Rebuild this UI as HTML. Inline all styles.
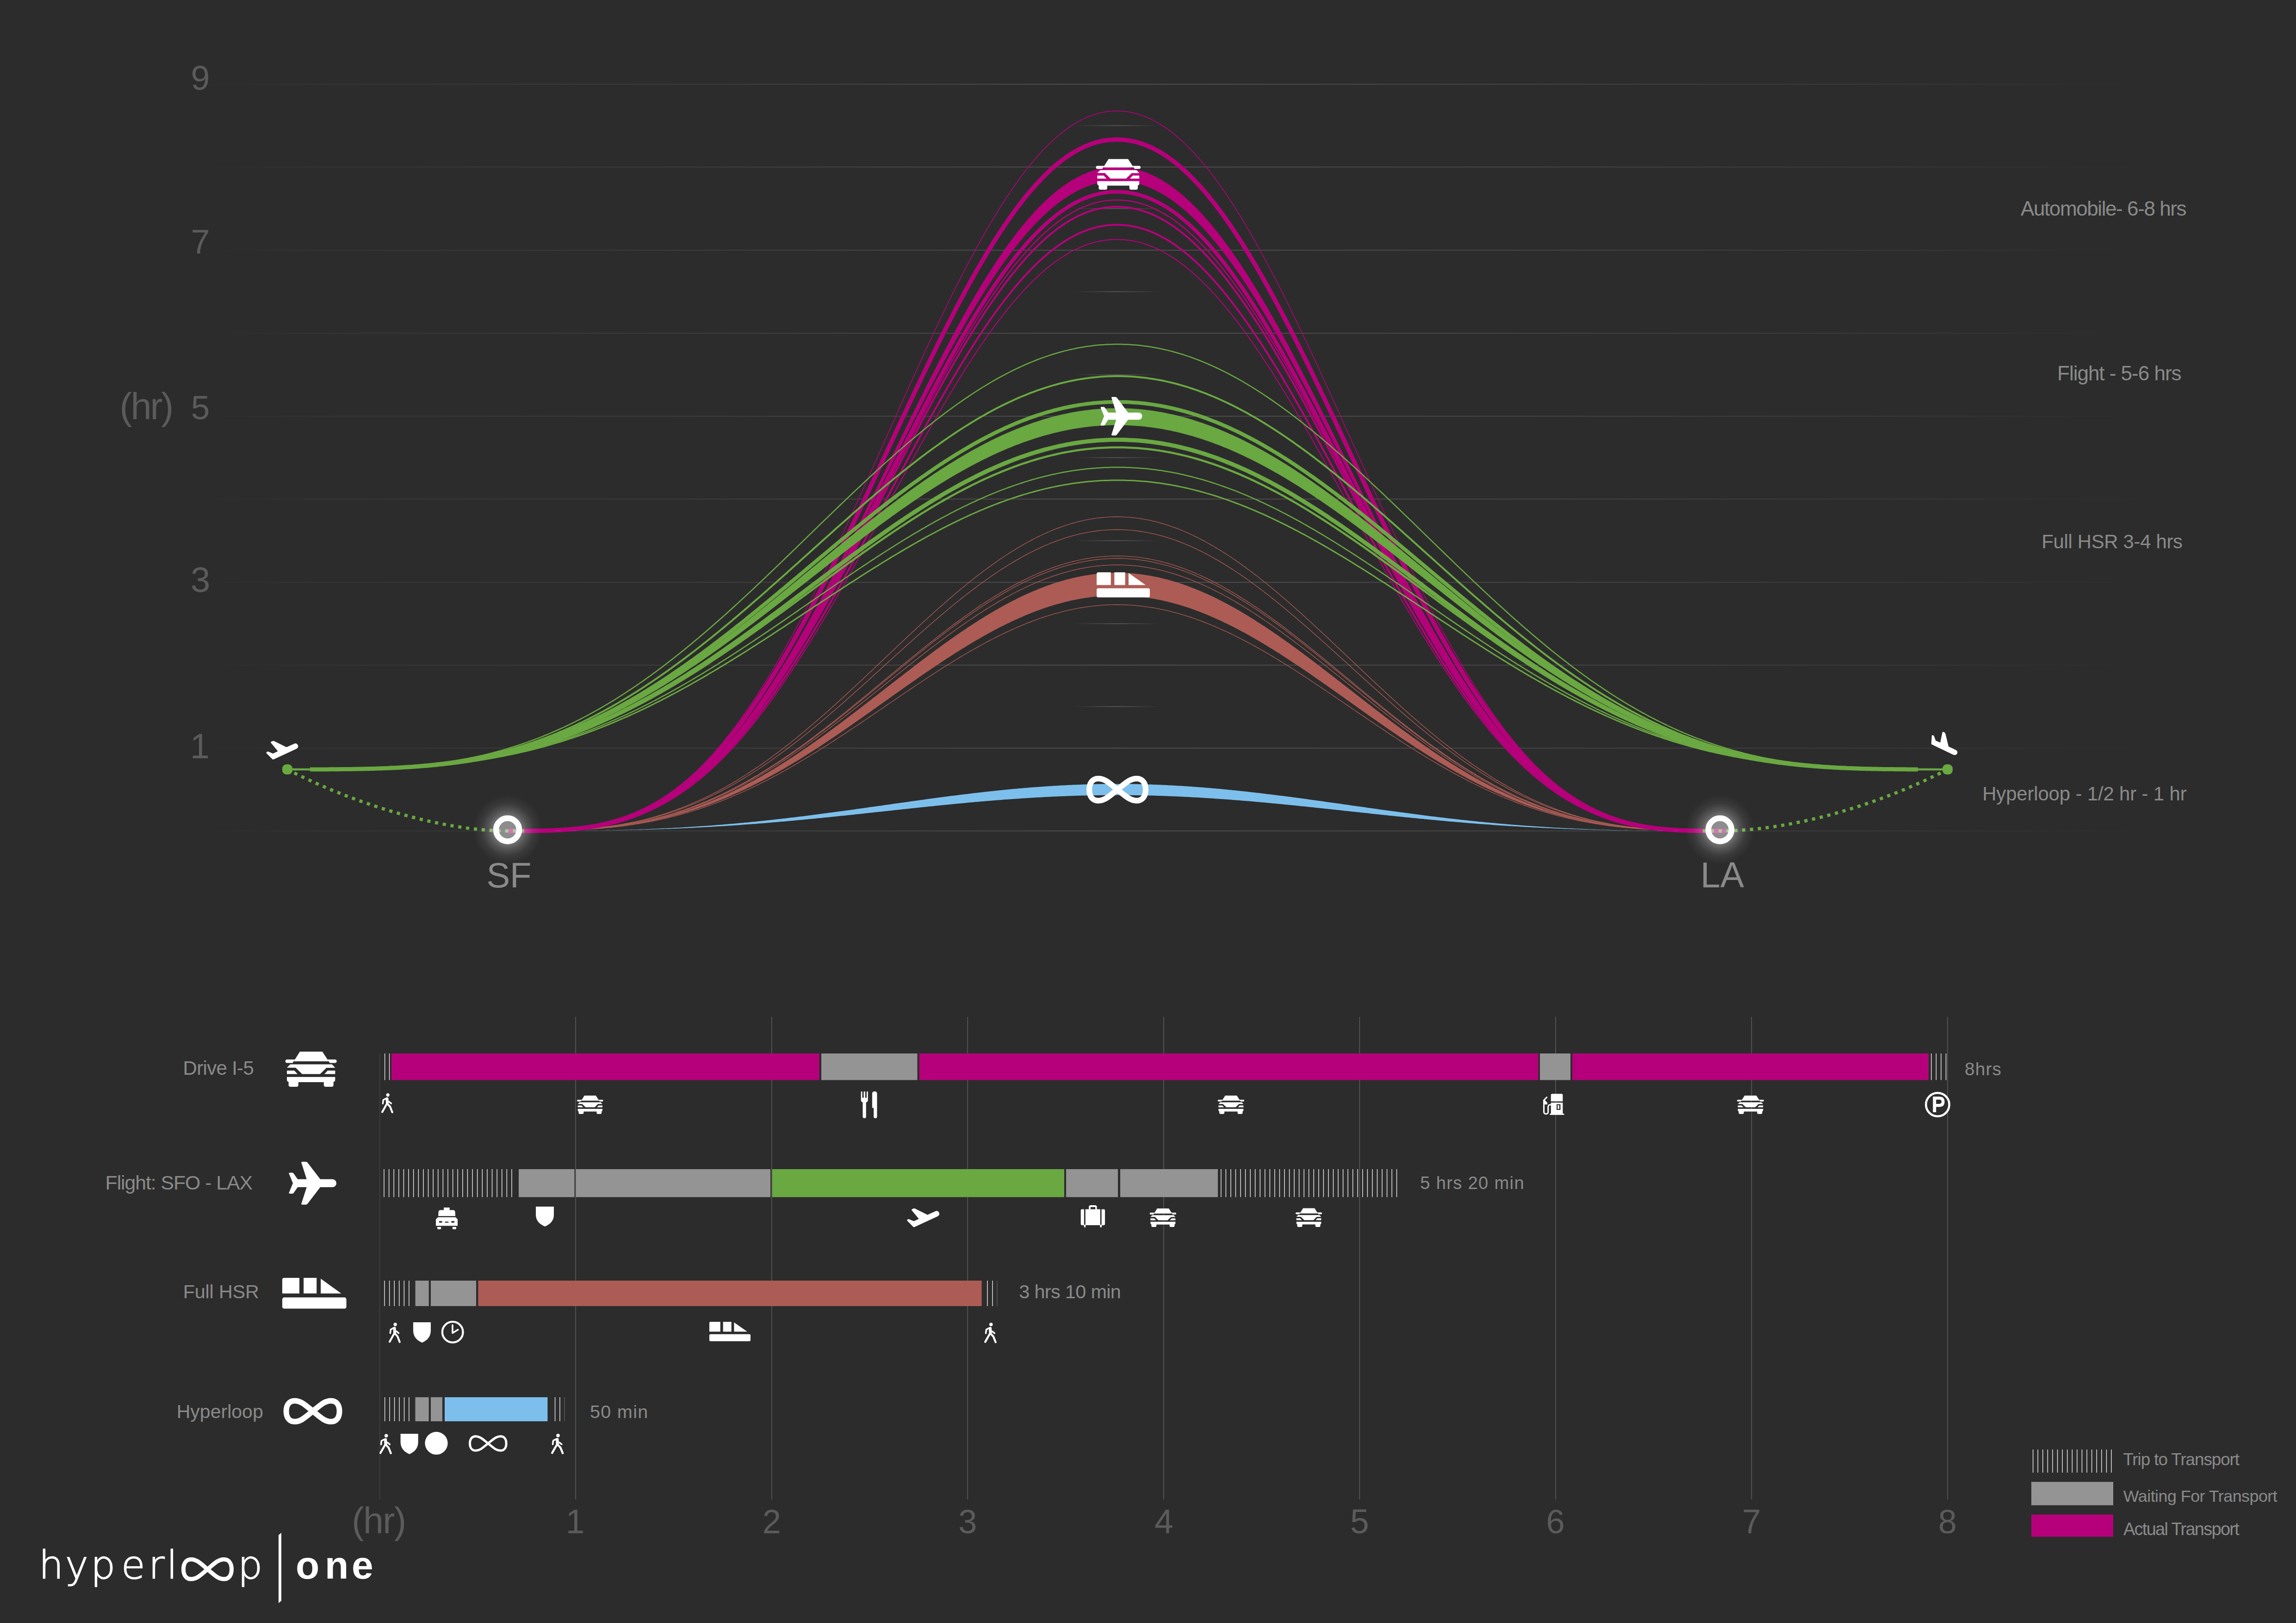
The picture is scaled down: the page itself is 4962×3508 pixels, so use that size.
<!DOCTYPE html>
<html><head><meta charset="utf-8"><title>Hyperloop One travel time comparison</title>
<style>html,body{margin:0;padding:0;background:#2c2c2c;width:4962px;height:3508px;overflow:hidden}svg{display:block}</style></head>
<body><svg width="4962" height="3508" viewBox="0 0 4962 3508">
<defs>
<linearGradient id="gl" gradientUnits="userSpaceOnUse" x1="420" y1="0" x2="4690" y2="0">
<stop offset="0" stop-color="#343434" stop-opacity="0"/>
<stop offset="0.06" stop-color="#373737" stop-opacity="1"/>
<stop offset="0.25" stop-color="#414141" stop-opacity="1"/>
<stop offset="0.467" stop-color="#5a5a5a" stop-opacity="1"/>
<stop offset="0.70" stop-color="#4a4a4a" stop-opacity="1"/>
<stop offset="0.88" stop-color="#3a3a3a" stop-opacity="1"/>
<stop offset="1" stop-color="#343434" stop-opacity="0"/>
</linearGradient>
<linearGradient id="gh" gradientUnits="userSpaceOnUse" x1="2319" y1="0" x2="2509" y2="0">
<stop offset="0" stop-color="#606060" stop-opacity="0"/>
<stop offset="0.5" stop-color="#606060" stop-opacity="1"/>
<stop offset="1" stop-color="#606060" stop-opacity="0"/>
</linearGradient>
<radialGradient id="glow">
<stop offset="0.40" stop-color="#ffffff" stop-opacity="0.34"/>
<stop offset="0.55" stop-color="#ffffff" stop-opacity="0.2"/>
<stop offset="0.75" stop-color="#ffffff" stop-opacity="0.07"/>
<stop offset="1" stop-color="#ffffff" stop-opacity="0"/>
</radialGradient>
<clipPath id="gclip"><rect x="670" y="0" width="3475" height="2000"/></clipPath>
</defs>
<rect x="420" y="181.25" width="4270" height="1.5" fill="url(#gl)"/>
<rect x="420" y="360.25" width="4270" height="1.5" fill="url(#gl)"/>
<rect x="420" y="539.95" width="4270" height="1.5" fill="url(#gl)"/>
<rect x="420" y="719.55" width="4270" height="1.5" fill="url(#gl)"/>
<rect x="420" y="898.85" width="4270" height="1.5" fill="url(#gl)"/>
<rect x="420" y="1077.85" width="4270" height="1.5" fill="url(#gl)"/>
<rect x="420" y="1257.85" width="4270" height="1.5" fill="url(#gl)"/>
<rect x="420" y="1436.85" width="4270" height="1.5" fill="url(#gl)"/>
<rect x="420" y="1616.25" width="4270" height="1.5" fill="url(#gl)"/>
<rect x="420" y="1795.25" width="4270" height="1.5" fill="url(#gl)"/>
<rect x="2319" y="270.75" width="190" height="1.5" fill="url(#gh)"/>
<rect x="2319" y="450.10" width="190" height="1.5" fill="url(#gh)"/>
<rect x="2319" y="629.75" width="190" height="1.5" fill="url(#gh)"/>
<rect x="2319" y="809.20" width="190" height="1.5" fill="url(#gh)"/>
<rect x="2319" y="988.35" width="190" height="1.5" fill="url(#gh)"/>
<rect x="2319" y="1167.85" width="190" height="1.5" fill="url(#gh)"/>
<rect x="2319" y="1347.35" width="190" height="1.5" fill="url(#gh)"/>
<rect x="2319" y="1526.55" width="190" height="1.5" fill="url(#gh)"/>
<rect x="2319" y="1705.75" width="190" height="1.5" fill="url(#gh)"/>
<text x="412.6" y="194.0" font-family='"Liberation Sans", Arial, sans-serif' font-size="73.57" fill="#5b5b5b">9</text>
<text x="412.5" y="548.0" font-family='"Liberation Sans", Arial, sans-serif' font-size="73.91" fill="#5b5b5b">7</text>
<text x="412.7" y="905.8" font-family='"Liberation Sans", Arial, sans-serif' font-size="73.04" fill="#5b5b5b">5</text>
<text x="411.9" y="1278.9" font-family='"Liberation Sans", Arial, sans-serif' font-size="76.14" fill="#5b5b5b">3</text>
<text x="410.9" y="1638.8" font-family='"Liberation Sans", Arial, sans-serif' font-size="75.51" fill="#5b5b5b">1</text>
<text x="258.6" y="905.8" font-family='"Liberation Sans", Arial, sans-serif' font-weight="normal" font-size="81.10" fill="#5b5b5b" textLength="116.7" lengthAdjust="spacing" >(hr)</text>
<path d="M1097.0,1796.0 L1100.8,1796.0 L1104.5,1796.0 L1108.3,1796.0 L1112.1,1796.0 L1115.8,1796.0 L1119.6,1796.0 L1123.4,1796.0 L1127.1,1796.0 L1130.9,1796.0 L1134.7,1796.0 L1138.5,1795.9 L1142.2,1795.9 L1146.0,1795.9 L1149.8,1795.9 L1153.5,1795.8 L1157.3,1795.8 L1161.1,1795.8 L1164.8,1795.7 L1168.6,1795.7 L1172.4,1795.6 L1176.1,1795.6 L1179.9,1795.5 L1183.7,1795.4 L1187.4,1795.3 L1191.2,1795.3 L1195.0,1795.2 L1198.7,1795.1 L1202.5,1794.9 L1206.3,1794.8 L1210.0,1794.7 L1213.8,1794.6 L1217.6,1794.4 L1221.4,1794.2 L1225.1,1794.1 L1228.9,1793.9 L1232.7,1793.7 L1236.4,1793.5 L1240.2,1793.3 L1244.0,1793.1 L1247.7,1792.8 L1251.5,1792.6 L1255.3,1792.3 L1259.0,1792.0 L1262.8,1791.7 L1266.6,1791.4 L1270.3,1791.1 L1274.1,1790.8 L1277.9,1790.4 L1281.6,1790.1 L1285.4,1789.7 L1289.2,1789.3 L1292.9,1788.9 L1296.7,1788.5 L1300.5,1788.0 L1304.3,1787.6 L1308.0,1787.1 L1311.8,1786.6 L1315.6,1786.1 L1319.3,1785.6 L1323.1,1785.0 L1326.9,1784.5 L1330.6,1783.9 L1334.4,1783.3 L1338.2,1782.7 L1341.9,1782.0 L1345.7,1781.4 L1349.5,1780.7 L1353.2,1780.0 L1357.0,1779.2 L1360.8,1778.5 L1364.5,1777.7 L1368.3,1777.0 L1372.1,1776.2 L1375.8,1775.3 L1379.6,1774.5 L1383.4,1773.6 L1387.2,1772.7 L1390.9,1771.8 L1394.7,1770.9 L1398.5,1769.9 L1402.2,1768.9 L1406.0,1767.9 L1409.8,1766.9 L1413.5,1765.8 L1417.3,1764.8 L1421.1,1763.7 L1424.8,1762.5 L1428.6,1761.4 L1432.4,1760.2 L1436.1,1759.0 L1439.9,1757.8 L1443.7,1756.5 L1447.4,1755.3 L1451.2,1754.0 L1455.0,1752.7 L1458.8,1751.3 L1462.5,1749.9 L1466.3,1748.5 L1470.1,1747.1 L1473.8,1745.7 L1477.6,1744.2 L1481.4,1742.7 L1485.1,1741.2 L1488.9,1739.6 L1492.7,1738.1 L1496.4,1736.4 L1500.2,1734.8 L1504.0,1733.2 L1507.7,1731.5 L1511.5,1729.8 L1515.3,1728.0 L1519.0,1726.3 L1522.8,1724.5 L1526.6,1722.7 L1530.3,1720.8 L1534.1,1719.0 L1537.9,1717.1 L1541.7,1715.2 L1545.4,1713.2 L1549.2,1711.3 L1553.0,1709.3 L1556.7,1707.2 L1560.5,1705.2 L1564.3,1703.1 L1568.0,1701.0 L1571.8,1698.9 L1575.6,1696.7 L1579.3,1694.6 L1583.1,1692.4 L1586.9,1690.1 L1590.6,1687.9 L1594.4,1685.6 L1598.2,1683.3 L1601.9,1681.0 L1605.7,1678.6 L1609.5,1676.2 L1613.2,1673.8 L1617.0,1671.4 L1620.8,1668.9 L1624.6,1666.4 L1628.3,1663.9 L1632.1,1661.4 L1635.9,1658.9 L1639.6,1656.3 L1643.4,1653.7 L1647.2,1651.1 L1650.9,1648.4 L1654.7,1645.7 L1658.5,1643.0 L1662.2,1640.3 L1666.0,1637.6 L1669.8,1634.8 L1673.5,1632.0 L1677.3,1629.2 L1681.1,1626.4 L1684.8,1623.5 L1688.6,1620.7 L1692.4,1617.8 L1696.2,1614.8 L1699.9,1611.9 L1703.7,1609.0 L1707.5,1606.0 L1711.2,1603.0 L1715.0,1600.0 L1718.8,1596.9 L1722.5,1593.9 L1726.3,1590.8 L1730.1,1587.7 L1733.8,1584.6 L1737.6,1581.5 L1741.4,1578.3 L1745.1,1575.1 L1748.9,1572.0 L1752.7,1568.8 L1756.4,1565.5 L1760.2,1562.3 L1764.0,1559.1 L1767.7,1555.8 L1771.5,1552.5 L1775.3,1549.2 L1779.1,1545.9 L1782.8,1542.6 L1786.6,1539.3 L1790.4,1535.9 L1794.1,1532.5 L1797.9,1529.2 L1801.7,1525.8 L1805.4,1522.4 L1809.2,1519.0 L1813.0,1515.6 L1816.7,1512.1 L1820.5,1508.7 L1824.3,1505.2 L1828.0,1501.8 L1831.8,1498.3 L1835.6,1494.8 L1839.3,1491.3 L1843.1,1487.8 L1846.9,1484.3 L1850.6,1480.8 L1854.4,1477.3 L1858.2,1473.7 L1862.0,1470.2 L1865.7,1466.7 L1869.5,1463.1 L1873.3,1459.6 L1877.0,1456.0 L1880.8,1452.5 L1884.6,1448.9 L1888.3,1445.3 L1892.1,1441.8 L1895.9,1438.2 L1899.6,1434.6 L1903.4,1431.0 L1907.2,1427.5 L1910.9,1423.9 L1914.7,1420.3 L1918.5,1416.7 L1922.2,1413.2 L1926.0,1409.6 L1929.8,1406.0 L1933.5,1402.5 L1937.3,1398.9 L1941.1,1395.3 L1944.9,1391.8 L1948.6,1388.2 L1952.4,1384.7 L1956.2,1381.1 L1959.9,1377.6 L1963.7,1374.1 L1967.5,1370.5 L1971.2,1367.0 L1975.0,1363.5 L1978.8,1360.0 L1982.5,1356.5 L1986.3,1353.0 L1990.1,1349.5 L1993.8,1346.1 L1997.6,1342.6 L2001.4,1339.2 L2005.1,1335.7 L2008.9,1332.3 L2012.7,1328.9 L2016.5,1325.5 L2020.2,1322.1 L2024.0,1318.7 L2027.8,1315.4 L2031.5,1312.0 L2035.3,1308.7 L2039.1,1305.4 L2042.8,1302.1 L2046.6,1298.8 L2050.4,1295.5 L2054.1,1292.2 L2057.9,1289.0 L2061.7,1285.8 L2065.4,1282.6 L2069.2,1279.4 L2073.0,1276.3 L2076.7,1273.1 L2080.5,1270.0 L2084.3,1266.9 L2088.0,1263.8 L2091.8,1260.8 L2095.6,1257.7 L2099.4,1254.7 L2103.1,1251.7 L2106.9,1248.8 L2110.7,1245.8 L2114.4,1242.9 L2118.2,1240.0 L2122.0,1237.1 L2125.7,1234.3 L2129.5,1231.5 L2133.3,1228.7 L2137.0,1225.9 L2140.8,1223.2 L2144.6,1220.4 L2148.3,1217.8 L2152.1,1215.1 L2155.9,1212.5 L2159.6,1209.9 L2163.4,1207.3 L2167.2,1204.8 L2170.9,1202.2 L2174.7,1199.8 L2178.5,1197.3 L2182.3,1194.9 L2186.0,1192.5 L2189.8,1190.1 L2193.6,1187.8 L2197.3,1185.5 L2201.1,1183.3 L2204.9,1181.0 L2208.6,1178.8 L2212.4,1176.7 L2216.2,1174.5 L2219.9,1172.5 L2223.7,1170.4 L2227.5,1168.4 L2231.2,1166.4 L2235.0,1164.4 L2238.8,1162.5 L2242.5,1160.6 L2246.3,1158.8 L2250.1,1157.0 L2253.8,1155.2 L2257.6,1153.5 L2261.4,1151.8 L2265.2,1150.1 L2268.9,1148.5 L2272.7,1146.9 L2276.5,1145.4 L2280.2,1143.9 L2284.0,1142.4 L2287.8,1141.0 L2291.5,1139.6 L2295.3,1138.3 L2299.1,1136.9 L2302.8,1135.7 L2306.6,1134.4 L2310.4,1133.3 L2314.1,1132.1 L2317.9,1131.0 L2321.7,1129.9 L2325.4,1128.9 L2329.2,1127.9 L2333.0,1127.0 L2336.8,1126.1 L2340.5,1125.2 L2344.3,1124.4 L2348.1,1123.6 L2351.8,1122.9 L2355.6,1122.2 L2359.4,1121.6 L2363.1,1121.0 L2366.9,1120.4 L2370.7,1119.9 L2374.4,1119.4 L2378.2,1119.0 L2382.0,1118.6 L2385.7,1118.2 L2389.5,1117.9 L2393.3,1117.7 L2397.0,1117.4 L2400.8,1117.3 L2404.6,1117.1 L2408.3,1117.0 L2412.1,1117.0 L2415.9,1117.0 L2419.7,1117.0 L2423.4,1117.1 L2427.2,1117.3 L2431.0,1117.4 L2434.7,1117.7 L2438.5,1117.9 L2442.3,1118.2 L2446.0,1118.6 L2449.8,1119.0 L2453.6,1119.4 L2457.3,1119.9 L2461.1,1120.4 L2464.9,1121.0 L2468.6,1121.6 L2472.4,1122.2 L2476.2,1122.9 L2479.9,1123.6 L2483.7,1124.4 L2487.5,1125.2 L2491.2,1126.1 L2495.0,1127.0 L2498.8,1127.9 L2502.6,1128.9 L2506.3,1129.9 L2510.1,1131.0 L2513.9,1132.1 L2517.6,1133.3 L2521.4,1134.4 L2525.2,1135.7 L2528.9,1136.9 L2532.7,1138.3 L2536.5,1139.6 L2540.2,1141.0 L2544.0,1142.4 L2547.8,1143.9 L2551.5,1145.4 L2555.3,1146.9 L2559.1,1148.5 L2562.8,1150.1 L2566.6,1151.8 L2570.4,1153.5 L2574.2,1155.2 L2577.9,1157.0 L2581.7,1158.8 L2585.5,1160.6 L2589.2,1162.5 L2593.0,1164.4 L2596.8,1166.4 L2600.5,1168.4 L2604.3,1170.4 L2608.1,1172.5 L2611.8,1174.5 L2615.6,1176.7 L2619.4,1178.8 L2623.1,1181.0 L2626.9,1183.3 L2630.7,1185.5 L2634.4,1187.8 L2638.2,1190.1 L2642.0,1192.5 L2645.7,1194.9 L2649.5,1197.3 L2653.3,1199.8 L2657.1,1202.2 L2660.8,1204.8 L2664.6,1207.3 L2668.4,1209.9 L2672.1,1212.5 L2675.9,1215.1 L2679.7,1217.8 L2683.4,1220.4 L2687.2,1223.2 L2691.0,1225.9 L2694.7,1228.7 L2698.5,1231.5 L2702.3,1234.3 L2706.0,1237.1 L2709.8,1240.0 L2713.6,1242.9 L2717.3,1245.8 L2721.1,1248.8 L2724.9,1251.7 L2728.6,1254.7 L2732.4,1257.7 L2736.2,1260.8 L2740.0,1263.8 L2743.7,1266.9 L2747.5,1270.0 L2751.3,1273.1 L2755.0,1276.3 L2758.8,1279.4 L2762.6,1282.6 L2766.3,1285.8 L2770.1,1289.0 L2773.9,1292.2 L2777.6,1295.5 L2781.4,1298.8 L2785.2,1302.1 L2788.9,1305.4 L2792.7,1308.7 L2796.5,1312.0 L2800.2,1315.4 L2804.0,1318.7 L2807.8,1322.1 L2811.5,1325.5 L2815.3,1328.9 L2819.1,1332.3 L2822.9,1335.7 L2826.6,1339.2 L2830.4,1342.6 L2834.2,1346.1 L2837.9,1349.5 L2841.7,1353.0 L2845.5,1356.5 L2849.2,1360.0 L2853.0,1363.5 L2856.8,1367.0 L2860.5,1370.5 L2864.3,1374.1 L2868.1,1377.6 L2871.8,1381.1 L2875.6,1384.7 L2879.4,1388.2 L2883.1,1391.8 L2886.9,1395.3 L2890.7,1398.9 L2894.5,1402.5 L2898.2,1406.0 L2902.0,1409.6 L2905.8,1413.2 L2909.5,1416.7 L2913.3,1420.3 L2917.1,1423.9 L2920.8,1427.5 L2924.6,1431.0 L2928.4,1434.6 L2932.1,1438.2 L2935.9,1441.8 L2939.7,1445.3 L2943.4,1448.9 L2947.2,1452.5 L2951.0,1456.0 L2954.7,1459.6 L2958.5,1463.1 L2962.3,1466.7 L2966.0,1470.2 L2969.8,1473.7 L2973.6,1477.3 L2977.4,1480.8 L2981.1,1484.3 L2984.9,1487.8 L2988.7,1491.3 L2992.4,1494.8 L2996.2,1498.3 L3000.0,1501.8 L3003.7,1505.2 L3007.5,1508.7 L3011.3,1512.1 L3015.0,1515.6 L3018.8,1519.0 L3022.6,1522.4 L3026.3,1525.8 L3030.1,1529.2 L3033.9,1532.5 L3037.6,1535.9 L3041.4,1539.3 L3045.2,1542.6 L3048.9,1545.9 L3052.7,1549.2 L3056.5,1552.5 L3060.3,1555.8 L3064.0,1559.1 L3067.8,1562.3 L3071.6,1565.5 L3075.3,1568.8 L3079.1,1572.0 L3082.9,1575.1 L3086.6,1578.3 L3090.4,1581.5 L3094.2,1584.6 L3097.9,1587.7 L3101.7,1590.8 L3105.5,1593.9 L3109.2,1596.9 L3113.0,1600.0 L3116.8,1603.0 L3120.5,1606.0 L3124.3,1609.0 L3128.1,1611.9 L3131.8,1614.8 L3135.6,1617.8 L3139.4,1620.7 L3143.2,1623.5 L3146.9,1626.4 L3150.7,1629.2 L3154.5,1632.0 L3158.2,1634.8 L3162.0,1637.6 L3165.8,1640.3 L3169.5,1643.0 L3173.3,1645.7 L3177.1,1648.4 L3180.8,1651.1 L3184.6,1653.7 L3188.4,1656.3 L3192.1,1658.9 L3195.9,1661.4 L3199.7,1663.9 L3203.4,1666.4 L3207.2,1668.9 L3211.0,1671.4 L3214.8,1673.8 L3218.5,1676.2 L3222.3,1678.6 L3226.1,1681.0 L3229.8,1683.3 L3233.6,1685.6 L3237.4,1687.9 L3241.1,1690.1 L3244.9,1692.4 L3248.7,1694.6 L3252.4,1696.7 L3256.2,1698.9 L3260.0,1701.0 L3263.7,1703.1 L3267.5,1705.2 L3271.3,1707.2 L3275.0,1709.3 L3278.8,1711.3 L3282.6,1713.2 L3286.3,1715.2 L3290.1,1717.1 L3293.9,1719.0 L3297.7,1720.8 L3301.4,1722.7 L3305.2,1724.5 L3309.0,1726.3 L3312.7,1728.0 L3316.5,1729.8 L3320.3,1731.5 L3324.0,1733.2 L3327.8,1734.8 L3331.6,1736.4 L3335.3,1738.1 L3339.1,1739.6 L3342.9,1741.2 L3346.6,1742.7 L3350.4,1744.2 L3354.2,1745.7 L3357.9,1747.1 L3361.7,1748.5 L3365.5,1749.9 L3369.2,1751.3 L3373.0,1752.7 L3376.8,1754.0 L3380.6,1755.3 L3384.3,1756.5 L3388.1,1757.8 L3391.9,1759.0 L3395.6,1760.2 L3399.4,1761.4 L3403.2,1762.5 L3406.9,1763.7 L3410.7,1764.8 L3414.5,1765.8 L3418.2,1766.9 L3422.0,1767.9 L3425.8,1768.9 L3429.5,1769.9 L3433.3,1770.9 L3437.1,1771.8 L3440.8,1772.7 L3444.6,1773.6 L3448.4,1774.5 L3452.2,1775.3 L3455.9,1776.2 L3459.7,1777.0 L3463.5,1777.7 L3467.2,1778.5 L3471.0,1779.2 L3474.8,1780.0 L3478.5,1780.7 L3482.3,1781.4 L3486.1,1782.0 L3489.8,1782.7 L3493.6,1783.3 L3497.4,1783.9 L3501.1,1784.5 L3504.9,1785.0 L3508.7,1785.6 L3512.4,1786.1 L3516.2,1786.6 L3520.0,1787.1 L3523.7,1787.6 L3527.5,1788.0 L3531.3,1788.5 L3535.1,1788.9 L3538.8,1789.3 L3542.6,1789.7 L3546.4,1790.1 L3550.1,1790.4 L3553.9,1790.8 L3557.7,1791.1 L3561.4,1791.4 L3565.2,1791.7 L3569.0,1792.0 L3572.7,1792.3 L3576.5,1792.6 L3580.3,1792.8 L3584.0,1793.1 L3587.8,1793.3 L3591.6,1793.5 L3595.3,1793.7 L3599.1,1793.9 L3602.9,1794.1 L3606.6,1794.2 L3610.4,1794.4 L3614.2,1794.6 L3618.0,1794.7 L3621.7,1794.8 L3625.5,1794.9 L3629.3,1795.1 L3633.0,1795.2 L3636.8,1795.3 L3640.6,1795.3 L3644.3,1795.4 L3648.1,1795.5 L3651.9,1795.6 L3655.6,1795.6 L3659.4,1795.7 L3663.2,1795.7 L3666.9,1795.8 L3670.7,1795.8 L3674.5,1795.8 L3678.2,1795.9 L3682.0,1795.9 L3685.8,1795.9 L3689.5,1795.9 L3693.3,1796.0 L3697.1,1796.0 L3700.9,1796.0 L3704.6,1796.0 L3708.4,1796.0 L3712.2,1796.0 L3715.9,1796.0 L3719.7,1796.0 L3723.5,1796.0 L3727.2,1796.0 L3731.0,1796.0" fill="none" stroke="#ad5c55" stroke-width="1.35" />
<path d="M1097.0,1796.0 L1100.8,1796.0 L1104.5,1796.0 L1108.3,1796.0 L1112.1,1796.0 L1115.8,1796.0 L1119.6,1796.0 L1123.4,1796.0 L1127.1,1796.0 L1130.9,1796.0 L1134.7,1796.0 L1138.5,1795.9 L1142.2,1795.9 L1146.0,1795.9 L1149.8,1795.9 L1153.5,1795.9 L1157.3,1795.8 L1161.1,1795.8 L1164.8,1795.7 L1168.6,1795.7 L1172.4,1795.6 L1176.1,1795.6 L1179.9,1795.5 L1183.7,1795.5 L1187.4,1795.4 L1191.2,1795.3 L1195.0,1795.2 L1198.7,1795.1 L1202.5,1795.0 L1206.3,1794.9 L1210.0,1794.7 L1213.8,1794.6 L1217.6,1794.5 L1221.4,1794.3 L1225.1,1794.2 L1228.9,1794.0 L1232.7,1793.8 L1236.4,1793.6 L1240.2,1793.4 L1244.0,1793.2 L1247.7,1793.0 L1251.5,1792.7 L1255.3,1792.5 L1259.0,1792.2 L1262.8,1791.9 L1266.6,1791.6 L1270.3,1791.3 L1274.1,1791.0 L1277.9,1790.7 L1281.6,1790.3 L1285.4,1790.0 L1289.2,1789.6 L1292.9,1789.2 L1296.7,1788.8 L1300.5,1788.4 L1304.3,1787.9 L1308.0,1787.5 L1311.8,1787.0 L1315.6,1786.5 L1319.3,1786.0 L1323.1,1785.5 L1326.9,1784.9 L1330.6,1784.4 L1334.4,1783.8 L1338.2,1783.2 L1341.9,1782.6 L1345.7,1781.9 L1349.5,1781.3 L1353.2,1780.6 L1357.0,1779.9 L1360.8,1779.2 L1364.5,1778.5 L1368.3,1777.7 L1372.1,1777.0 L1375.8,1776.2 L1379.6,1775.4 L1383.4,1774.5 L1387.2,1773.7 L1390.9,1772.8 L1394.7,1771.9 L1398.5,1771.0 L1402.2,1770.0 L1406.0,1769.1 L1409.8,1768.1 L1413.5,1767.1 L1417.3,1766.0 L1421.1,1765.0 L1424.8,1763.9 L1428.6,1762.8 L1432.4,1761.7 L1436.1,1760.5 L1439.9,1759.4 L1443.7,1758.2 L1447.4,1756.9 L1451.2,1755.7 L1455.0,1754.4 L1458.8,1753.1 L1462.5,1751.8 L1466.3,1750.5 L1470.1,1749.1 L1473.8,1747.7 L1477.6,1746.3 L1481.4,1744.9 L1485.1,1743.4 L1488.9,1741.9 L1492.7,1740.4 L1496.4,1738.9 L1500.2,1737.3 L1504.0,1735.7 L1507.7,1734.1 L1511.5,1732.5 L1515.3,1730.8 L1519.0,1729.1 L1522.8,1727.4 L1526.6,1725.7 L1530.3,1723.9 L1534.1,1722.1 L1537.9,1720.3 L1541.7,1718.5 L1545.4,1716.6 L1549.2,1714.7 L1553.0,1712.8 L1556.7,1710.9 L1560.5,1708.9 L1564.3,1706.9 L1568.0,1704.9 L1571.8,1702.9 L1575.6,1700.8 L1579.3,1698.7 L1583.1,1696.6 L1586.9,1694.5 L1590.6,1692.3 L1594.4,1690.1 L1598.2,1687.9 L1601.9,1685.7 L1605.7,1683.4 L1609.5,1681.1 L1613.2,1678.8 L1617.0,1676.5 L1620.8,1674.1 L1624.6,1671.7 L1628.3,1669.3 L1632.1,1666.9 L1635.9,1664.5 L1639.6,1662.0 L1643.4,1659.5 L1647.2,1657.0 L1650.9,1654.4 L1654.7,1651.9 L1658.5,1649.3 L1662.2,1646.7 L1666.0,1644.0 L1669.8,1641.4 L1673.5,1638.7 L1677.3,1636.0 L1681.1,1633.3 L1684.8,1630.6 L1688.6,1627.8 L1692.4,1625.0 L1696.2,1622.2 L1699.9,1619.4 L1703.7,1616.6 L1707.5,1613.7 L1711.2,1610.9 L1715.0,1608.0 L1718.8,1605.0 L1722.5,1602.1 L1726.3,1599.2 L1730.1,1596.2 L1733.8,1593.2 L1737.6,1590.2 L1741.4,1587.2 L1745.1,1584.2 L1748.9,1581.1 L1752.7,1578.0 L1756.4,1574.9 L1760.2,1571.8 L1764.0,1568.7 L1767.7,1565.6 L1771.5,1562.5 L1775.3,1559.3 L1779.1,1556.1 L1782.8,1552.9 L1786.6,1549.7 L1790.4,1546.5 L1794.1,1543.3 L1797.9,1540.1 L1801.7,1536.8 L1805.4,1533.5 L1809.2,1530.3 L1813.0,1527.0 L1816.7,1523.7 L1820.5,1520.4 L1824.3,1517.1 L1828.0,1513.8 L1831.8,1510.4 L1835.6,1507.1 L1839.3,1503.7 L1843.1,1500.4 L1846.9,1497.0 L1850.6,1493.6 L1854.4,1490.3 L1858.2,1486.9 L1862.0,1483.5 L1865.7,1480.1 L1869.5,1476.7 L1873.3,1473.3 L1877.0,1469.9 L1880.8,1466.5 L1884.6,1463.1 L1888.3,1459.6 L1892.1,1456.2 L1895.9,1452.8 L1899.6,1449.4 L1903.4,1445.9 L1907.2,1442.5 L1910.9,1439.1 L1914.7,1435.6 L1918.5,1432.2 L1922.2,1428.8 L1926.0,1425.4 L1929.8,1421.9 L1933.5,1418.5 L1937.3,1415.1 L1941.1,1411.7 L1944.9,1408.3 L1948.6,1404.9 L1952.4,1401.5 L1956.2,1398.1 L1959.9,1394.7 L1963.7,1391.3 L1967.5,1387.9 L1971.2,1384.5 L1975.0,1381.1 L1978.8,1377.8 L1982.5,1374.4 L1986.3,1371.1 L1990.1,1367.7 L1993.8,1364.4 L1997.6,1361.1 L2001.4,1357.8 L2005.1,1354.5 L2008.9,1351.2 L2012.7,1347.9 L2016.5,1344.7 L2020.2,1341.4 L2024.0,1338.2 L2027.8,1335.0 L2031.5,1331.8 L2035.3,1328.6 L2039.1,1325.4 L2042.8,1322.2 L2046.6,1319.1 L2050.4,1315.9 L2054.1,1312.8 L2057.9,1309.7 L2061.7,1306.6 L2065.4,1303.5 L2069.2,1300.5 L2073.0,1297.5 L2076.7,1294.4 L2080.5,1291.5 L2084.3,1288.5 L2088.0,1285.5 L2091.8,1282.6 L2095.6,1279.7 L2099.4,1276.8 L2103.1,1273.9 L2106.9,1271.1 L2110.7,1268.3 L2114.4,1265.5 L2118.2,1262.7 L2122.0,1259.9 L2125.7,1257.2 L2129.5,1254.5 L2133.3,1251.8 L2137.0,1249.2 L2140.8,1246.5 L2144.6,1243.9 L2148.3,1241.3 L2152.1,1238.8 L2155.9,1236.3 L2159.6,1233.8 L2163.4,1231.3 L2167.2,1228.9 L2170.9,1226.5 L2174.7,1224.1 L2178.5,1221.7 L2182.3,1219.4 L2186.0,1217.1 L2189.8,1214.9 L2193.6,1212.6 L2197.3,1210.4 L2201.1,1208.3 L2204.9,1206.1 L2208.6,1204.0 L2212.4,1201.9 L2216.2,1199.9 L2219.9,1197.9 L2223.7,1195.9 L2227.5,1194.0 L2231.2,1192.1 L2235.0,1190.2 L2238.8,1188.4 L2242.5,1186.6 L2246.3,1184.8 L2250.1,1183.1 L2253.8,1181.4 L2257.6,1179.7 L2261.4,1178.1 L2265.2,1176.5 L2268.9,1174.9 L2272.7,1173.4 L2276.5,1171.9 L2280.2,1170.5 L2284.0,1169.1 L2287.8,1167.7 L2291.5,1166.4 L2295.3,1165.1 L2299.1,1163.8 L2302.8,1162.6 L2306.6,1161.4 L2310.4,1160.3 L2314.1,1159.2 L2317.9,1158.1 L2321.7,1157.1 L2325.4,1156.1 L2329.2,1155.2 L2333.0,1154.3 L2336.8,1153.4 L2340.5,1152.6 L2344.3,1151.8 L2348.1,1151.1 L2351.8,1150.4 L2355.6,1149.7 L2359.4,1149.1 L2363.1,1148.5 L2366.9,1148.0 L2370.7,1147.5 L2374.4,1147.0 L2378.2,1146.6 L2382.0,1146.2 L2385.7,1145.9 L2389.5,1145.6 L2393.3,1145.3 L2397.0,1145.1 L2400.8,1145.0 L2404.6,1144.8 L2408.3,1144.7 L2412.1,1144.7 L2415.9,1144.7 L2419.7,1144.7 L2423.4,1144.8 L2427.2,1145.0 L2431.0,1145.1 L2434.7,1145.3 L2438.5,1145.6 L2442.3,1145.9 L2446.0,1146.2 L2449.8,1146.6 L2453.6,1147.0 L2457.3,1147.5 L2461.1,1148.0 L2464.9,1148.5 L2468.6,1149.1 L2472.4,1149.7 L2476.2,1150.4 L2479.9,1151.1 L2483.7,1151.8 L2487.5,1152.6 L2491.2,1153.4 L2495.0,1154.3 L2498.8,1155.2 L2502.6,1156.1 L2506.3,1157.1 L2510.1,1158.1 L2513.9,1159.2 L2517.6,1160.3 L2521.4,1161.4 L2525.2,1162.6 L2528.9,1163.8 L2532.7,1165.1 L2536.5,1166.4 L2540.2,1167.7 L2544.0,1169.1 L2547.8,1170.5 L2551.5,1171.9 L2555.3,1173.4 L2559.1,1174.9 L2562.8,1176.5 L2566.6,1178.1 L2570.4,1179.7 L2574.2,1181.4 L2577.9,1183.1 L2581.7,1184.8 L2585.5,1186.6 L2589.2,1188.4 L2593.0,1190.2 L2596.8,1192.1 L2600.5,1194.0 L2604.3,1195.9 L2608.1,1197.9 L2611.8,1199.9 L2615.6,1201.9 L2619.4,1204.0 L2623.1,1206.1 L2626.9,1208.3 L2630.7,1210.4 L2634.4,1212.6 L2638.2,1214.9 L2642.0,1217.1 L2645.7,1219.4 L2649.5,1221.7 L2653.3,1224.1 L2657.1,1226.5 L2660.8,1228.9 L2664.6,1231.3 L2668.4,1233.8 L2672.1,1236.3 L2675.9,1238.8 L2679.7,1241.3 L2683.4,1243.9 L2687.2,1246.5 L2691.0,1249.2 L2694.7,1251.8 L2698.5,1254.5 L2702.3,1257.2 L2706.0,1259.9 L2709.8,1262.7 L2713.6,1265.5 L2717.3,1268.3 L2721.1,1271.1 L2724.9,1273.9 L2728.6,1276.8 L2732.4,1279.7 L2736.2,1282.6 L2740.0,1285.5 L2743.7,1288.5 L2747.5,1291.5 L2751.3,1294.4 L2755.0,1297.5 L2758.8,1300.5 L2762.6,1303.5 L2766.3,1306.6 L2770.1,1309.7 L2773.9,1312.8 L2777.6,1315.9 L2781.4,1319.1 L2785.2,1322.2 L2788.9,1325.4 L2792.7,1328.6 L2796.5,1331.8 L2800.2,1335.0 L2804.0,1338.2 L2807.8,1341.4 L2811.5,1344.7 L2815.3,1347.9 L2819.1,1351.2 L2822.9,1354.5 L2826.6,1357.8 L2830.4,1361.1 L2834.2,1364.4 L2837.9,1367.7 L2841.7,1371.1 L2845.5,1374.4 L2849.2,1377.8 L2853.0,1381.1 L2856.8,1384.5 L2860.5,1387.9 L2864.3,1391.3 L2868.1,1394.7 L2871.8,1398.1 L2875.6,1401.5 L2879.4,1404.9 L2883.1,1408.3 L2886.9,1411.7 L2890.7,1415.1 L2894.5,1418.5 L2898.2,1421.9 L2902.0,1425.4 L2905.8,1428.8 L2909.5,1432.2 L2913.3,1435.6 L2917.1,1439.1 L2920.8,1442.5 L2924.6,1445.9 L2928.4,1449.4 L2932.1,1452.8 L2935.9,1456.2 L2939.7,1459.6 L2943.4,1463.1 L2947.2,1466.5 L2951.0,1469.9 L2954.7,1473.3 L2958.5,1476.7 L2962.3,1480.1 L2966.0,1483.5 L2969.8,1486.9 L2973.6,1490.3 L2977.4,1493.6 L2981.1,1497.0 L2984.9,1500.4 L2988.7,1503.7 L2992.4,1507.1 L2996.2,1510.4 L3000.0,1513.8 L3003.7,1517.1 L3007.5,1520.4 L3011.3,1523.7 L3015.0,1527.0 L3018.8,1530.3 L3022.6,1533.5 L3026.3,1536.8 L3030.1,1540.1 L3033.9,1543.3 L3037.6,1546.5 L3041.4,1549.7 L3045.2,1552.9 L3048.9,1556.1 L3052.7,1559.3 L3056.5,1562.5 L3060.3,1565.6 L3064.0,1568.7 L3067.8,1571.8 L3071.6,1574.9 L3075.3,1578.0 L3079.1,1581.1 L3082.9,1584.2 L3086.6,1587.2 L3090.4,1590.2 L3094.2,1593.2 L3097.9,1596.2 L3101.7,1599.2 L3105.5,1602.1 L3109.2,1605.0 L3113.0,1608.0 L3116.8,1610.9 L3120.5,1613.7 L3124.3,1616.6 L3128.1,1619.4 L3131.8,1622.2 L3135.6,1625.0 L3139.4,1627.8 L3143.2,1630.6 L3146.9,1633.3 L3150.7,1636.0 L3154.5,1638.7 L3158.2,1641.4 L3162.0,1644.0 L3165.8,1646.7 L3169.5,1649.3 L3173.3,1651.9 L3177.1,1654.4 L3180.8,1657.0 L3184.6,1659.5 L3188.4,1662.0 L3192.1,1664.5 L3195.9,1666.9 L3199.7,1669.3 L3203.4,1671.7 L3207.2,1674.1 L3211.0,1676.5 L3214.8,1678.8 L3218.5,1681.1 L3222.3,1683.4 L3226.1,1685.7 L3229.8,1687.9 L3233.6,1690.1 L3237.4,1692.3 L3241.1,1694.5 L3244.9,1696.6 L3248.7,1698.7 L3252.4,1700.8 L3256.2,1702.9 L3260.0,1704.9 L3263.7,1706.9 L3267.5,1708.9 L3271.3,1710.9 L3275.0,1712.8 L3278.8,1714.7 L3282.6,1716.6 L3286.3,1718.5 L3290.1,1720.3 L3293.9,1722.1 L3297.7,1723.9 L3301.4,1725.7 L3305.2,1727.4 L3309.0,1729.1 L3312.7,1730.8 L3316.5,1732.5 L3320.3,1734.1 L3324.0,1735.7 L3327.8,1737.3 L3331.6,1738.9 L3335.3,1740.4 L3339.1,1741.9 L3342.9,1743.4 L3346.6,1744.9 L3350.4,1746.3 L3354.2,1747.7 L3357.9,1749.1 L3361.7,1750.5 L3365.5,1751.8 L3369.2,1753.1 L3373.0,1754.4 L3376.8,1755.7 L3380.6,1756.9 L3384.3,1758.2 L3388.1,1759.4 L3391.9,1760.5 L3395.6,1761.7 L3399.4,1762.8 L3403.2,1763.9 L3406.9,1765.0 L3410.7,1766.0 L3414.5,1767.1 L3418.2,1768.1 L3422.0,1769.1 L3425.8,1770.0 L3429.5,1771.0 L3433.3,1771.9 L3437.1,1772.8 L3440.8,1773.7 L3444.6,1774.5 L3448.4,1775.4 L3452.2,1776.2 L3455.9,1777.0 L3459.7,1777.7 L3463.5,1778.5 L3467.2,1779.2 L3471.0,1779.9 L3474.8,1780.6 L3478.5,1781.3 L3482.3,1781.9 L3486.1,1782.6 L3489.8,1783.2 L3493.6,1783.8 L3497.4,1784.4 L3501.1,1784.9 L3504.9,1785.5 L3508.7,1786.0 L3512.4,1786.5 L3516.2,1787.0 L3520.0,1787.5 L3523.7,1787.9 L3527.5,1788.4 L3531.3,1788.8 L3535.1,1789.2 L3538.8,1789.6 L3542.6,1790.0 L3546.4,1790.3 L3550.1,1790.7 L3553.9,1791.0 L3557.7,1791.3 L3561.4,1791.6 L3565.2,1791.9 L3569.0,1792.2 L3572.7,1792.5 L3576.5,1792.7 L3580.3,1793.0 L3584.0,1793.2 L3587.8,1793.4 L3591.6,1793.6 L3595.3,1793.8 L3599.1,1794.0 L3602.9,1794.2 L3606.6,1794.3 L3610.4,1794.5 L3614.2,1794.6 L3618.0,1794.7 L3621.7,1794.9 L3625.5,1795.0 L3629.3,1795.1 L3633.0,1795.2 L3636.8,1795.3 L3640.6,1795.4 L3644.3,1795.5 L3648.1,1795.5 L3651.9,1795.6 L3655.6,1795.6 L3659.4,1795.7 L3663.2,1795.7 L3666.9,1795.8 L3670.7,1795.8 L3674.5,1795.9 L3678.2,1795.9 L3682.0,1795.9 L3685.8,1795.9 L3689.5,1795.9 L3693.3,1796.0 L3697.1,1796.0 L3700.9,1796.0 L3704.6,1796.0 L3708.4,1796.0 L3712.2,1796.0 L3715.9,1796.0 L3719.7,1796.0 L3723.5,1796.0 L3727.2,1796.0 L3731.0,1796.0" fill="none" stroke="#ad5c55" stroke-width="1.35" />
<path d="M1097.0,1796.0 L1100.8,1796.0 L1104.5,1796.0 L1108.3,1796.0 L1112.1,1796.0 L1115.8,1796.0 L1119.6,1796.0 L1123.4,1796.0 L1127.1,1796.0 L1130.9,1796.0 L1134.7,1796.0 L1138.5,1795.9 L1142.2,1795.9 L1146.0,1795.9 L1149.8,1795.9 L1153.5,1795.9 L1157.3,1795.8 L1161.1,1795.8 L1164.8,1795.8 L1168.6,1795.7 L1172.4,1795.7 L1176.1,1795.6 L1179.9,1795.6 L1183.7,1795.5 L1187.4,1795.4 L1191.2,1795.4 L1195.0,1795.3 L1198.7,1795.2 L1202.5,1795.1 L1206.3,1795.0 L1210.0,1794.9 L1213.8,1794.7 L1217.6,1794.6 L1221.4,1794.5 L1225.1,1794.3 L1228.9,1794.2 L1232.7,1794.0 L1236.4,1793.8 L1240.2,1793.6 L1244.0,1793.4 L1247.7,1793.2 L1251.5,1793.0 L1255.3,1792.8 L1259.0,1792.5 L1262.8,1792.3 L1266.6,1792.0 L1270.3,1791.7 L1274.1,1791.4 L1277.9,1791.1 L1281.6,1790.8 L1285.4,1790.5 L1289.2,1790.1 L1292.9,1789.8 L1296.7,1789.4 L1300.5,1789.0 L1304.3,1788.6 L1308.0,1788.2 L1311.8,1787.8 L1315.6,1787.3 L1319.3,1786.9 L1323.1,1786.4 L1326.9,1785.9 L1330.6,1785.4 L1334.4,1784.9 L1338.2,1784.3 L1341.9,1783.8 L1345.7,1783.2 L1349.5,1782.6 L1353.2,1782.0 L1357.0,1781.3 L1360.8,1780.7 L1364.5,1780.0 L1368.3,1779.3 L1372.1,1778.6 L1375.8,1777.9 L1379.6,1777.2 L1383.4,1776.4 L1387.2,1775.6 L1390.9,1774.8 L1394.7,1774.0 L1398.5,1773.2 L1402.2,1772.3 L1406.0,1771.4 L1409.8,1770.5 L1413.5,1769.6 L1417.3,1768.7 L1421.1,1767.7 L1424.8,1766.7 L1428.6,1765.7 L1432.4,1764.7 L1436.1,1763.6 L1439.9,1762.6 L1443.7,1761.5 L1447.4,1760.4 L1451.2,1759.2 L1455.0,1758.1 L1458.8,1756.9 L1462.5,1755.7 L1466.3,1754.5 L1470.1,1753.2 L1473.8,1752.0 L1477.6,1750.7 L1481.4,1749.4 L1485.1,1748.0 L1488.9,1746.7 L1492.7,1745.3 L1496.4,1743.9 L1500.2,1742.5 L1504.0,1741.0 L1507.7,1739.5 L1511.5,1738.0 L1515.3,1736.5 L1519.0,1735.0 L1522.8,1733.4 L1526.6,1731.8 L1530.3,1730.2 L1534.1,1728.6 L1537.9,1726.9 L1541.7,1725.3 L1545.4,1723.6 L1549.2,1721.8 L1553.0,1720.1 L1556.7,1718.3 L1560.5,1716.5 L1564.3,1714.7 L1568.0,1712.9 L1571.8,1711.0 L1575.6,1709.1 L1579.3,1707.2 L1583.1,1705.3 L1586.9,1703.3 L1590.6,1701.4 L1594.4,1699.4 L1598.2,1697.4 L1601.9,1695.3 L1605.7,1693.2 L1609.5,1691.2 L1613.2,1689.1 L1617.0,1686.9 L1620.8,1684.8 L1624.6,1682.6 L1628.3,1680.4 L1632.1,1678.2 L1635.9,1676.0 L1639.6,1673.7 L1643.4,1671.4 L1647.2,1669.1 L1650.9,1666.8 L1654.7,1664.5 L1658.5,1662.1 L1662.2,1659.7 L1666.0,1657.3 L1669.8,1654.9 L1673.5,1652.5 L1677.3,1650.0 L1681.1,1647.5 L1684.8,1645.0 L1688.6,1642.5 L1692.4,1640.0 L1696.2,1637.4 L1699.9,1634.9 L1703.7,1632.3 L1707.5,1629.7 L1711.2,1627.1 L1715.0,1624.4 L1718.8,1621.8 L1722.5,1619.1 L1726.3,1616.4 L1730.1,1613.7 L1733.8,1611.0 L1737.6,1608.2 L1741.4,1605.5 L1745.1,1602.7 L1748.9,1599.9 L1752.7,1597.1 L1756.4,1594.3 L1760.2,1591.5 L1764.0,1588.6 L1767.7,1585.8 L1771.5,1582.9 L1775.3,1580.0 L1779.1,1577.1 L1782.8,1574.2 L1786.6,1571.3 L1790.4,1568.4 L1794.1,1565.4 L1797.9,1562.5 L1801.7,1559.5 L1805.4,1556.5 L1809.2,1553.5 L1813.0,1550.5 L1816.7,1547.5 L1820.5,1544.5 L1824.3,1541.5 L1828.0,1538.5 L1831.8,1535.4 L1835.6,1532.4 L1839.3,1529.3 L1843.1,1526.3 L1846.9,1523.2 L1850.6,1520.1 L1854.4,1517.0 L1858.2,1513.9 L1862.0,1510.8 L1865.7,1507.7 L1869.5,1504.6 L1873.3,1501.5 L1877.0,1498.4 L1880.8,1495.3 L1884.6,1492.2 L1888.3,1489.1 L1892.1,1485.9 L1895.9,1482.8 L1899.6,1479.7 L1903.4,1476.6 L1907.2,1473.4 L1910.9,1470.3 L1914.7,1467.2 L1918.5,1464.1 L1922.2,1460.9 L1926.0,1457.8 L1929.8,1454.7 L1933.5,1451.6 L1937.3,1448.4 L1941.1,1445.3 L1944.9,1442.2 L1948.6,1439.1 L1952.4,1436.0 L1956.2,1432.9 L1959.9,1429.8 L1963.7,1426.7 L1967.5,1423.6 L1971.2,1420.5 L1975.0,1417.5 L1978.8,1414.4 L1982.5,1411.3 L1986.3,1408.3 L1990.1,1405.2 L1993.8,1402.2 L1997.6,1399.2 L2001.4,1396.1 L2005.1,1393.1 L2008.9,1390.1 L2012.7,1387.1 L2016.5,1384.2 L2020.2,1381.2 L2024.0,1378.3 L2027.8,1375.3 L2031.5,1372.4 L2035.3,1369.5 L2039.1,1366.6 L2042.8,1363.7 L2046.6,1360.8 L2050.4,1357.9 L2054.1,1355.1 L2057.9,1352.3 L2061.7,1349.4 L2065.4,1346.6 L2069.2,1343.9 L2073.0,1341.1 L2076.7,1338.3 L2080.5,1335.6 L2084.3,1332.9 L2088.0,1330.2 L2091.8,1327.5 L2095.6,1324.9 L2099.4,1322.2 L2103.1,1319.6 L2106.9,1317.0 L2110.7,1314.4 L2114.4,1311.9 L2118.2,1309.4 L2122.0,1306.8 L2125.7,1304.3 L2129.5,1301.9 L2133.3,1299.4 L2137.0,1297.0 L2140.8,1294.6 L2144.6,1292.2 L2148.3,1289.9 L2152.1,1287.6 L2155.9,1285.3 L2159.6,1283.0 L2163.4,1280.7 L2167.2,1278.5 L2170.9,1276.3 L2174.7,1274.1 L2178.5,1272.0 L2182.3,1269.9 L2186.0,1267.8 L2189.8,1265.7 L2193.6,1263.7 L2197.3,1261.7 L2201.1,1259.7 L2204.9,1257.7 L2208.6,1255.8 L2212.4,1253.9 L2216.2,1252.1 L2219.9,1250.2 L2223.7,1248.4 L2227.5,1246.7 L2231.2,1244.9 L2235.0,1243.2 L2238.8,1241.5 L2242.5,1239.9 L2246.3,1238.3 L2250.1,1236.7 L2253.8,1235.1 L2257.6,1233.6 L2261.4,1232.1 L2265.2,1230.7 L2268.9,1229.3 L2272.7,1227.9 L2276.5,1226.5 L2280.2,1225.2 L2284.0,1223.9 L2287.8,1222.7 L2291.5,1221.5 L2295.3,1220.3 L2299.1,1219.2 L2302.8,1218.0 L2306.6,1217.0 L2310.4,1215.9 L2314.1,1214.9 L2317.9,1214.0 L2321.7,1213.0 L2325.4,1212.1 L2329.2,1211.3 L2333.0,1210.4 L2336.8,1209.7 L2340.5,1208.9 L2344.3,1208.2 L2348.1,1207.5 L2351.8,1206.9 L2355.6,1206.3 L2359.4,1205.7 L2363.1,1205.2 L2366.9,1204.7 L2370.7,1204.2 L2374.4,1203.8 L2378.2,1203.4 L2382.0,1203.1 L2385.7,1202.8 L2389.5,1202.5 L2393.3,1202.3 L2397.0,1202.1 L2400.8,1201.9 L2404.6,1201.8 L2408.3,1201.7 L2412.1,1201.7 L2415.9,1201.7 L2419.7,1201.7 L2423.4,1201.8 L2427.2,1201.9 L2431.0,1202.1 L2434.7,1202.3 L2438.5,1202.5 L2442.3,1202.8 L2446.0,1203.1 L2449.8,1203.4 L2453.6,1203.8 L2457.3,1204.2 L2461.1,1204.7 L2464.9,1205.2 L2468.6,1205.7 L2472.4,1206.3 L2476.2,1206.9 L2479.9,1207.5 L2483.7,1208.2 L2487.5,1208.9 L2491.2,1209.7 L2495.0,1210.4 L2498.8,1211.3 L2502.6,1212.1 L2506.3,1213.0 L2510.1,1214.0 L2513.9,1214.9 L2517.6,1215.9 L2521.4,1217.0 L2525.2,1218.0 L2528.9,1219.2 L2532.7,1220.3 L2536.5,1221.5 L2540.2,1222.7 L2544.0,1223.9 L2547.8,1225.2 L2551.5,1226.5 L2555.3,1227.9 L2559.1,1229.3 L2562.8,1230.7 L2566.6,1232.1 L2570.4,1233.6 L2574.2,1235.1 L2577.9,1236.7 L2581.7,1238.3 L2585.5,1239.9 L2589.2,1241.5 L2593.0,1243.2 L2596.8,1244.9 L2600.5,1246.7 L2604.3,1248.4 L2608.1,1250.2 L2611.8,1252.1 L2615.6,1253.9 L2619.4,1255.8 L2623.1,1257.7 L2626.9,1259.7 L2630.7,1261.7 L2634.4,1263.7 L2638.2,1265.7 L2642.0,1267.8 L2645.7,1269.9 L2649.5,1272.0 L2653.3,1274.1 L2657.1,1276.3 L2660.8,1278.5 L2664.6,1280.7 L2668.4,1283.0 L2672.1,1285.3 L2675.9,1287.6 L2679.7,1289.9 L2683.4,1292.2 L2687.2,1294.6 L2691.0,1297.0 L2694.7,1299.4 L2698.5,1301.9 L2702.3,1304.3 L2706.0,1306.8 L2709.8,1309.4 L2713.6,1311.9 L2717.3,1314.4 L2721.1,1317.0 L2724.9,1319.6 L2728.6,1322.2 L2732.4,1324.9 L2736.2,1327.5 L2740.0,1330.2 L2743.7,1332.9 L2747.5,1335.6 L2751.3,1338.3 L2755.0,1341.1 L2758.8,1343.9 L2762.6,1346.6 L2766.3,1349.4 L2770.1,1352.3 L2773.9,1355.1 L2777.6,1357.9 L2781.4,1360.8 L2785.2,1363.7 L2788.9,1366.6 L2792.7,1369.5 L2796.5,1372.4 L2800.2,1375.3 L2804.0,1378.3 L2807.8,1381.2 L2811.5,1384.2 L2815.3,1387.1 L2819.1,1390.1 L2822.9,1393.1 L2826.6,1396.1 L2830.4,1399.2 L2834.2,1402.2 L2837.9,1405.2 L2841.7,1408.3 L2845.5,1411.3 L2849.2,1414.4 L2853.0,1417.5 L2856.8,1420.5 L2860.5,1423.6 L2864.3,1426.7 L2868.1,1429.8 L2871.8,1432.9 L2875.6,1436.0 L2879.4,1439.1 L2883.1,1442.2 L2886.9,1445.3 L2890.7,1448.4 L2894.5,1451.6 L2898.2,1454.7 L2902.0,1457.8 L2905.8,1460.9 L2909.5,1464.1 L2913.3,1467.2 L2917.1,1470.3 L2920.8,1473.4 L2924.6,1476.6 L2928.4,1479.7 L2932.1,1482.8 L2935.9,1485.9 L2939.7,1489.1 L2943.4,1492.2 L2947.2,1495.3 L2951.0,1498.4 L2954.7,1501.5 L2958.5,1504.6 L2962.3,1507.7 L2966.0,1510.8 L2969.8,1513.9 L2973.6,1517.0 L2977.4,1520.1 L2981.1,1523.2 L2984.9,1526.3 L2988.7,1529.3 L2992.4,1532.4 L2996.2,1535.4 L3000.0,1538.5 L3003.7,1541.5 L3007.5,1544.5 L3011.3,1547.5 L3015.0,1550.5 L3018.8,1553.5 L3022.6,1556.5 L3026.3,1559.5 L3030.1,1562.5 L3033.9,1565.4 L3037.6,1568.4 L3041.4,1571.3 L3045.2,1574.2 L3048.9,1577.1 L3052.7,1580.0 L3056.5,1582.9 L3060.3,1585.8 L3064.0,1588.6 L3067.8,1591.5 L3071.6,1594.3 L3075.3,1597.1 L3079.1,1599.9 L3082.9,1602.7 L3086.6,1605.5 L3090.4,1608.2 L3094.2,1611.0 L3097.9,1613.7 L3101.7,1616.4 L3105.5,1619.1 L3109.2,1621.8 L3113.0,1624.4 L3116.8,1627.1 L3120.5,1629.7 L3124.3,1632.3 L3128.1,1634.9 L3131.8,1637.4 L3135.6,1640.0 L3139.4,1642.5 L3143.2,1645.0 L3146.9,1647.5 L3150.7,1650.0 L3154.5,1652.5 L3158.2,1654.9 L3162.0,1657.3 L3165.8,1659.7 L3169.5,1662.1 L3173.3,1664.5 L3177.1,1666.8 L3180.8,1669.1 L3184.6,1671.4 L3188.4,1673.7 L3192.1,1676.0 L3195.9,1678.2 L3199.7,1680.4 L3203.4,1682.6 L3207.2,1684.8 L3211.0,1686.9 L3214.8,1689.1 L3218.5,1691.2 L3222.3,1693.2 L3226.1,1695.3 L3229.8,1697.4 L3233.6,1699.4 L3237.4,1701.4 L3241.1,1703.3 L3244.9,1705.3 L3248.7,1707.2 L3252.4,1709.1 L3256.2,1711.0 L3260.0,1712.9 L3263.7,1714.7 L3267.5,1716.5 L3271.3,1718.3 L3275.0,1720.1 L3278.8,1721.8 L3282.6,1723.6 L3286.3,1725.3 L3290.1,1726.9 L3293.9,1728.6 L3297.7,1730.2 L3301.4,1731.8 L3305.2,1733.4 L3309.0,1735.0 L3312.7,1736.5 L3316.5,1738.0 L3320.3,1739.5 L3324.0,1741.0 L3327.8,1742.5 L3331.6,1743.9 L3335.3,1745.3 L3339.1,1746.7 L3342.9,1748.0 L3346.6,1749.4 L3350.4,1750.7 L3354.2,1752.0 L3357.9,1753.2 L3361.7,1754.5 L3365.5,1755.7 L3369.2,1756.9 L3373.0,1758.1 L3376.8,1759.2 L3380.6,1760.4 L3384.3,1761.5 L3388.1,1762.6 L3391.9,1763.6 L3395.6,1764.7 L3399.4,1765.7 L3403.2,1766.7 L3406.9,1767.7 L3410.7,1768.7 L3414.5,1769.6 L3418.2,1770.5 L3422.0,1771.4 L3425.8,1772.3 L3429.5,1773.2 L3433.3,1774.0 L3437.1,1774.8 L3440.8,1775.6 L3444.6,1776.4 L3448.4,1777.2 L3452.2,1777.9 L3455.9,1778.6 L3459.7,1779.3 L3463.5,1780.0 L3467.2,1780.7 L3471.0,1781.3 L3474.8,1782.0 L3478.5,1782.6 L3482.3,1783.2 L3486.1,1783.8 L3489.8,1784.3 L3493.6,1784.9 L3497.4,1785.4 L3501.1,1785.9 L3504.9,1786.4 L3508.7,1786.9 L3512.4,1787.3 L3516.2,1787.8 L3520.0,1788.2 L3523.7,1788.6 L3527.5,1789.0 L3531.3,1789.4 L3535.1,1789.8 L3538.8,1790.1 L3542.6,1790.5 L3546.4,1790.8 L3550.1,1791.1 L3553.9,1791.4 L3557.7,1791.7 L3561.4,1792.0 L3565.2,1792.3 L3569.0,1792.5 L3572.7,1792.8 L3576.5,1793.0 L3580.3,1793.2 L3584.0,1793.4 L3587.8,1793.6 L3591.6,1793.8 L3595.3,1794.0 L3599.1,1794.2 L3602.9,1794.3 L3606.6,1794.5 L3610.4,1794.6 L3614.2,1794.7 L3618.0,1794.9 L3621.7,1795.0 L3625.5,1795.1 L3629.3,1795.2 L3633.0,1795.3 L3636.8,1795.4 L3640.6,1795.4 L3644.3,1795.5 L3648.1,1795.6 L3651.9,1795.6 L3655.6,1795.7 L3659.4,1795.7 L3663.2,1795.8 L3666.9,1795.8 L3670.7,1795.8 L3674.5,1795.9 L3678.2,1795.9 L3682.0,1795.9 L3685.8,1795.9 L3689.5,1795.9 L3693.3,1796.0 L3697.1,1796.0 L3700.9,1796.0 L3704.6,1796.0 L3708.4,1796.0 L3712.2,1796.0 L3715.9,1796.0 L3719.7,1796.0 L3723.5,1796.0 L3727.2,1796.0 L3731.0,1796.0" fill="none" stroke="#ad5c55" stroke-width="1.35" />
<path d="M1097.0,1796.0 L1100.8,1796.0 L1104.5,1796.0 L1108.3,1796.0 L1112.1,1796.0 L1115.8,1796.0 L1119.6,1796.0 L1123.4,1796.0 L1127.1,1796.0 L1130.9,1796.0 L1134.7,1796.0 L1138.5,1795.9 L1142.2,1795.9 L1146.0,1795.9 L1149.8,1795.9 L1153.5,1795.9 L1157.3,1795.8 L1161.1,1795.8 L1164.8,1795.8 L1168.6,1795.7 L1172.4,1795.7 L1176.1,1795.6 L1179.9,1795.6 L1183.7,1795.5 L1187.4,1795.4 L1191.2,1795.4 L1195.0,1795.3 L1198.7,1795.2 L1202.5,1795.1 L1206.3,1795.0 L1210.0,1794.9 L1213.8,1794.7 L1217.6,1794.6 L1221.4,1794.5 L1225.1,1794.3 L1228.9,1794.2 L1232.7,1794.0 L1236.4,1793.8 L1240.2,1793.7 L1244.0,1793.5 L1247.7,1793.2 L1251.5,1793.0 L1255.3,1792.8 L1259.0,1792.6 L1262.8,1792.3 L1266.6,1792.0 L1270.3,1791.8 L1274.1,1791.5 L1277.9,1791.2 L1281.6,1790.9 L1285.4,1790.5 L1289.2,1790.2 L1292.9,1789.8 L1296.7,1789.5 L1300.5,1789.1 L1304.3,1788.7 L1308.0,1788.3 L1311.8,1787.9 L1315.6,1787.4 L1319.3,1787.0 L1323.1,1786.5 L1326.9,1786.0 L1330.6,1785.5 L1334.4,1785.0 L1338.2,1784.4 L1341.9,1783.9 L1345.7,1783.3 L1349.5,1782.7 L1353.2,1782.1 L1357.0,1781.5 L1360.8,1780.8 L1364.5,1780.2 L1368.3,1779.5 L1372.1,1778.8 L1375.8,1778.1 L1379.6,1777.3 L1383.4,1776.6 L1387.2,1775.8 L1390.9,1775.0 L1394.7,1774.2 L1398.5,1773.4 L1402.2,1772.5 L1406.0,1771.6 L1409.8,1770.7 L1413.5,1769.8 L1417.3,1768.9 L1421.1,1767.9 L1424.8,1767.0 L1428.6,1766.0 L1432.4,1765.0 L1436.1,1763.9 L1439.9,1762.9 L1443.7,1761.8 L1447.4,1760.7 L1451.2,1759.5 L1455.0,1758.4 L1458.8,1757.2 L1462.5,1756.0 L1466.3,1754.8 L1470.1,1753.6 L1473.8,1752.3 L1477.6,1751.1 L1481.4,1749.8 L1485.1,1748.4 L1488.9,1747.1 L1492.7,1745.7 L1496.4,1744.3 L1500.2,1742.9 L1504.0,1741.5 L1507.7,1740.0 L1511.5,1738.6 L1515.3,1737.1 L1519.0,1735.5 L1522.8,1734.0 L1526.6,1732.4 L1530.3,1730.8 L1534.1,1729.2 L1537.9,1727.6 L1541.7,1725.9 L1545.4,1724.2 L1549.2,1722.5 L1553.0,1720.8 L1556.7,1719.0 L1560.5,1717.2 L1564.3,1715.4 L1568.0,1713.6 L1571.8,1711.8 L1575.6,1709.9 L1579.3,1708.0 L1583.1,1706.1 L1586.9,1704.2 L1590.6,1702.2 L1594.4,1700.2 L1598.2,1698.2 L1601.9,1696.2 L1605.7,1694.2 L1609.5,1692.1 L1613.2,1690.0 L1617.0,1687.9 L1620.8,1685.8 L1624.6,1683.6 L1628.3,1681.4 L1632.1,1679.3 L1635.9,1677.0 L1639.6,1674.8 L1643.4,1672.5 L1647.2,1670.3 L1650.9,1668.0 L1654.7,1665.6 L1658.5,1663.3 L1662.2,1661.0 L1666.0,1658.6 L1669.8,1656.2 L1673.5,1653.8 L1677.3,1651.3 L1681.1,1648.9 L1684.8,1646.4 L1688.6,1643.9 L1692.4,1641.4 L1696.2,1638.9 L1699.9,1636.3 L1703.7,1633.7 L1707.5,1631.2 L1711.2,1628.6 L1715.0,1625.9 L1718.8,1623.3 L1722.5,1620.7 L1726.3,1618.0 L1730.1,1615.3 L1733.8,1612.6 L1737.6,1609.9 L1741.4,1607.2 L1745.1,1604.4 L1748.9,1601.7 L1752.7,1598.9 L1756.4,1596.1 L1760.2,1593.3 L1764.0,1590.5 L1767.7,1587.6 L1771.5,1584.8 L1775.3,1581.9 L1779.1,1579.1 L1782.8,1576.2 L1786.6,1573.3 L1790.4,1570.4 L1794.1,1567.5 L1797.9,1564.5 L1801.7,1561.6 L1805.4,1558.7 L1809.2,1555.7 L1813.0,1552.7 L1816.7,1549.7 L1820.5,1546.8 L1824.3,1543.8 L1828.0,1540.8 L1831.8,1537.7 L1835.6,1534.7 L1839.3,1531.7 L1843.1,1528.7 L1846.9,1525.6 L1850.6,1522.6 L1854.4,1519.5 L1858.2,1516.4 L1862.0,1513.4 L1865.7,1510.3 L1869.5,1507.2 L1873.3,1504.2 L1877.0,1501.1 L1880.8,1498.0 L1884.6,1494.9 L1888.3,1491.8 L1892.1,1488.7 L1895.9,1485.6 L1899.6,1482.5 L1903.4,1479.4 L1907.2,1476.3 L1910.9,1473.2 L1914.7,1470.1 L1918.5,1467.0 L1922.2,1463.9 L1926.0,1460.8 L1929.8,1457.7 L1933.5,1454.6 L1937.3,1451.5 L1941.1,1448.4 L1944.9,1445.4 L1948.6,1442.3 L1952.4,1439.2 L1956.2,1436.1 L1959.9,1433.1 L1963.7,1430.0 L1967.5,1426.9 L1971.2,1423.9 L1975.0,1420.8 L1978.8,1417.8 L1982.5,1414.8 L1986.3,1411.7 L1990.1,1408.7 L1993.8,1405.7 L1997.6,1402.7 L2001.4,1399.7 L2005.1,1396.7 L2008.9,1393.8 L2012.7,1390.8 L2016.5,1387.8 L2020.2,1384.9 L2024.0,1382.0 L2027.8,1379.1 L2031.5,1376.2 L2035.3,1373.3 L2039.1,1370.4 L2042.8,1367.5 L2046.6,1364.7 L2050.4,1361.8 L2054.1,1359.0 L2057.9,1356.2 L2061.7,1353.4 L2065.4,1350.6 L2069.2,1347.9 L2073.0,1345.1 L2076.7,1342.4 L2080.5,1339.7 L2084.3,1337.0 L2088.0,1334.4 L2091.8,1331.7 L2095.6,1329.1 L2099.4,1326.5 L2103.1,1323.9 L2106.9,1321.3 L2110.7,1318.7 L2114.4,1316.2 L2118.2,1313.7 L2122.0,1311.2 L2125.7,1308.7 L2129.5,1306.3 L2133.3,1303.9 L2137.0,1301.5 L2140.8,1299.1 L2144.6,1296.7 L2148.3,1294.4 L2152.1,1292.1 L2155.9,1289.8 L2159.6,1287.6 L2163.4,1285.3 L2167.2,1283.1 L2170.9,1280.9 L2174.7,1278.8 L2178.5,1276.7 L2182.3,1274.6 L2186.0,1272.5 L2189.8,1270.4 L2193.6,1268.4 L2197.3,1266.4 L2201.1,1264.5 L2204.9,1262.5 L2208.6,1260.6 L2212.4,1258.8 L2216.2,1256.9 L2219.9,1255.1 L2223.7,1253.3 L2227.5,1251.6 L2231.2,1249.8 L2235.0,1248.1 L2238.8,1246.5 L2242.5,1244.9 L2246.3,1243.3 L2250.1,1241.7 L2253.8,1240.1 L2257.6,1238.6 L2261.4,1237.2 L2265.2,1235.7 L2268.9,1234.3 L2272.7,1233.0 L2276.5,1231.6 L2280.2,1230.3 L2284.0,1229.0 L2287.8,1227.8 L2291.5,1226.6 L2295.3,1225.4 L2299.1,1224.3 L2302.8,1223.2 L2306.6,1222.1 L2310.4,1221.1 L2314.1,1220.1 L2317.9,1219.1 L2321.7,1218.2 L2325.4,1217.3 L2329.2,1216.5 L2333.0,1215.7 L2336.8,1214.9 L2340.5,1214.1 L2344.3,1213.4 L2348.1,1212.8 L2351.8,1212.1 L2355.6,1211.5 L2359.4,1211.0 L2363.1,1210.4 L2366.9,1210.0 L2370.7,1209.5 L2374.4,1209.1 L2378.2,1208.7 L2382.0,1208.4 L2385.7,1208.1 L2389.5,1207.8 L2393.3,1207.6 L2397.0,1207.4 L2400.8,1207.2 L2404.6,1207.1 L2408.3,1207.0 L2412.1,1207.0 L2415.9,1207.0 L2419.7,1207.0 L2423.4,1207.1 L2427.2,1207.2 L2431.0,1207.4 L2434.7,1207.6 L2438.5,1207.8 L2442.3,1208.1 L2446.0,1208.4 L2449.8,1208.7 L2453.6,1209.1 L2457.3,1209.5 L2461.1,1210.0 L2464.9,1210.4 L2468.6,1211.0 L2472.4,1211.5 L2476.2,1212.1 L2479.9,1212.8 L2483.7,1213.4 L2487.5,1214.1 L2491.2,1214.9 L2495.0,1215.7 L2498.8,1216.5 L2502.6,1217.3 L2506.3,1218.2 L2510.1,1219.1 L2513.9,1220.1 L2517.6,1221.1 L2521.4,1222.1 L2525.2,1223.2 L2528.9,1224.3 L2532.7,1225.4 L2536.5,1226.6 L2540.2,1227.8 L2544.0,1229.0 L2547.8,1230.3 L2551.5,1231.6 L2555.3,1233.0 L2559.1,1234.3 L2562.8,1235.7 L2566.6,1237.2 L2570.4,1238.6 L2574.2,1240.1 L2577.9,1241.7 L2581.7,1243.3 L2585.5,1244.9 L2589.2,1246.5 L2593.0,1248.1 L2596.8,1249.8 L2600.5,1251.6 L2604.3,1253.3 L2608.1,1255.1 L2611.8,1256.9 L2615.6,1258.8 L2619.4,1260.6 L2623.1,1262.5 L2626.9,1264.5 L2630.7,1266.4 L2634.4,1268.4 L2638.2,1270.4 L2642.0,1272.5 L2645.7,1274.6 L2649.5,1276.7 L2653.3,1278.8 L2657.1,1280.9 L2660.8,1283.1 L2664.6,1285.3 L2668.4,1287.6 L2672.1,1289.8 L2675.9,1292.1 L2679.7,1294.4 L2683.4,1296.7 L2687.2,1299.1 L2691.0,1301.5 L2694.7,1303.9 L2698.5,1306.3 L2702.3,1308.7 L2706.0,1311.2 L2709.8,1313.7 L2713.6,1316.2 L2717.3,1318.7 L2721.1,1321.3 L2724.9,1323.9 L2728.6,1326.5 L2732.4,1329.1 L2736.2,1331.7 L2740.0,1334.4 L2743.7,1337.0 L2747.5,1339.7 L2751.3,1342.4 L2755.0,1345.1 L2758.8,1347.9 L2762.6,1350.6 L2766.3,1353.4 L2770.1,1356.2 L2773.9,1359.0 L2777.6,1361.8 L2781.4,1364.7 L2785.2,1367.5 L2788.9,1370.4 L2792.7,1373.3 L2796.5,1376.2 L2800.2,1379.1 L2804.0,1382.0 L2807.8,1384.9 L2811.5,1387.8 L2815.3,1390.8 L2819.1,1393.8 L2822.9,1396.7 L2826.6,1399.7 L2830.4,1402.7 L2834.2,1405.7 L2837.9,1408.7 L2841.7,1411.7 L2845.5,1414.8 L2849.2,1417.8 L2853.0,1420.8 L2856.8,1423.9 L2860.5,1426.9 L2864.3,1430.0 L2868.1,1433.1 L2871.8,1436.1 L2875.6,1439.2 L2879.4,1442.3 L2883.1,1445.4 L2886.9,1448.4 L2890.7,1451.5 L2894.5,1454.6 L2898.2,1457.7 L2902.0,1460.8 L2905.8,1463.9 L2909.5,1467.0 L2913.3,1470.1 L2917.1,1473.2 L2920.8,1476.3 L2924.6,1479.4 L2928.4,1482.5 L2932.1,1485.6 L2935.9,1488.7 L2939.7,1491.8 L2943.4,1494.9 L2947.2,1498.0 L2951.0,1501.1 L2954.7,1504.2 L2958.5,1507.2 L2962.3,1510.3 L2966.0,1513.4 L2969.8,1516.4 L2973.6,1519.5 L2977.4,1522.6 L2981.1,1525.6 L2984.9,1528.7 L2988.7,1531.7 L2992.4,1534.7 L2996.2,1537.7 L3000.0,1540.8 L3003.7,1543.8 L3007.5,1546.8 L3011.3,1549.7 L3015.0,1552.7 L3018.8,1555.7 L3022.6,1558.7 L3026.3,1561.6 L3030.1,1564.5 L3033.9,1567.5 L3037.6,1570.4 L3041.4,1573.3 L3045.2,1576.2 L3048.9,1579.1 L3052.7,1581.9 L3056.5,1584.8 L3060.3,1587.6 L3064.0,1590.5 L3067.8,1593.3 L3071.6,1596.1 L3075.3,1598.9 L3079.1,1601.7 L3082.9,1604.4 L3086.6,1607.2 L3090.4,1609.9 L3094.2,1612.6 L3097.9,1615.3 L3101.7,1618.0 L3105.5,1620.7 L3109.2,1623.3 L3113.0,1625.9 L3116.8,1628.6 L3120.5,1631.2 L3124.3,1633.7 L3128.1,1636.3 L3131.8,1638.9 L3135.6,1641.4 L3139.4,1643.9 L3143.2,1646.4 L3146.9,1648.9 L3150.7,1651.3 L3154.5,1653.8 L3158.2,1656.2 L3162.0,1658.6 L3165.8,1661.0 L3169.5,1663.3 L3173.3,1665.6 L3177.1,1668.0 L3180.8,1670.3 L3184.6,1672.5 L3188.4,1674.8 L3192.1,1677.0 L3195.9,1679.3 L3199.7,1681.4 L3203.4,1683.6 L3207.2,1685.8 L3211.0,1687.9 L3214.8,1690.0 L3218.5,1692.1 L3222.3,1694.2 L3226.1,1696.2 L3229.8,1698.2 L3233.6,1700.2 L3237.4,1702.2 L3241.1,1704.2 L3244.9,1706.1 L3248.7,1708.0 L3252.4,1709.9 L3256.2,1711.8 L3260.0,1713.6 L3263.7,1715.4 L3267.5,1717.2 L3271.3,1719.0 L3275.0,1720.8 L3278.8,1722.5 L3282.6,1724.2 L3286.3,1725.9 L3290.1,1727.6 L3293.9,1729.2 L3297.7,1730.8 L3301.4,1732.4 L3305.2,1734.0 L3309.0,1735.5 L3312.7,1737.1 L3316.5,1738.6 L3320.3,1740.0 L3324.0,1741.5 L3327.8,1742.9 L3331.6,1744.3 L3335.3,1745.7 L3339.1,1747.1 L3342.9,1748.4 L3346.6,1749.8 L3350.4,1751.1 L3354.2,1752.3 L3357.9,1753.6 L3361.7,1754.8 L3365.5,1756.0 L3369.2,1757.2 L3373.0,1758.4 L3376.8,1759.5 L3380.6,1760.7 L3384.3,1761.8 L3388.1,1762.9 L3391.9,1763.9 L3395.6,1765.0 L3399.4,1766.0 L3403.2,1767.0 L3406.9,1767.9 L3410.7,1768.9 L3414.5,1769.8 L3418.2,1770.7 L3422.0,1771.6 L3425.8,1772.5 L3429.5,1773.4 L3433.3,1774.2 L3437.1,1775.0 L3440.8,1775.8 L3444.6,1776.6 L3448.4,1777.3 L3452.2,1778.1 L3455.9,1778.8 L3459.7,1779.5 L3463.5,1780.2 L3467.2,1780.8 L3471.0,1781.5 L3474.8,1782.1 L3478.5,1782.7 L3482.3,1783.3 L3486.1,1783.9 L3489.8,1784.4 L3493.6,1785.0 L3497.4,1785.5 L3501.1,1786.0 L3504.9,1786.5 L3508.7,1787.0 L3512.4,1787.4 L3516.2,1787.9 L3520.0,1788.3 L3523.7,1788.7 L3527.5,1789.1 L3531.3,1789.5 L3535.1,1789.8 L3538.8,1790.2 L3542.6,1790.5 L3546.4,1790.9 L3550.1,1791.2 L3553.9,1791.5 L3557.7,1791.8 L3561.4,1792.0 L3565.2,1792.3 L3569.0,1792.6 L3572.7,1792.8 L3576.5,1793.0 L3580.3,1793.2 L3584.0,1793.5 L3587.8,1793.7 L3591.6,1793.8 L3595.3,1794.0 L3599.1,1794.2 L3602.9,1794.3 L3606.6,1794.5 L3610.4,1794.6 L3614.2,1794.7 L3618.0,1794.9 L3621.7,1795.0 L3625.5,1795.1 L3629.3,1795.2 L3633.0,1795.3 L3636.8,1795.4 L3640.6,1795.4 L3644.3,1795.5 L3648.1,1795.6 L3651.9,1795.6 L3655.6,1795.7 L3659.4,1795.7 L3663.2,1795.8 L3666.9,1795.8 L3670.7,1795.8 L3674.5,1795.9 L3678.2,1795.9 L3682.0,1795.9 L3685.8,1795.9 L3689.5,1795.9 L3693.3,1796.0 L3697.1,1796.0 L3700.9,1796.0 L3704.6,1796.0 L3708.4,1796.0 L3712.2,1796.0 L3715.9,1796.0 L3719.7,1796.0 L3723.5,1796.0 L3727.2,1796.0 L3731.0,1796.0" fill="none" stroke="#ad5c55" stroke-width="1.35" />
<path d="M1097.0,1796.0 L1100.8,1796.0 L1104.5,1796.0 L1108.3,1796.0 L1112.1,1796.0 L1115.8,1796.0 L1119.6,1796.0 L1123.4,1796.0 L1127.1,1796.0 L1130.9,1796.0 L1134.7,1796.0 L1138.5,1796.0 L1142.2,1795.9 L1146.0,1795.9 L1149.8,1795.9 L1153.5,1795.9 L1157.3,1795.8 L1161.1,1795.8 L1164.8,1795.8 L1168.6,1795.7 L1172.4,1795.7 L1176.1,1795.6 L1179.9,1795.6 L1183.7,1795.5 L1187.4,1795.4 L1191.2,1795.4 L1195.0,1795.3 L1198.7,1795.2 L1202.5,1795.1 L1206.3,1795.0 L1210.0,1794.9 L1213.8,1794.8 L1217.6,1794.7 L1221.4,1794.5 L1225.1,1794.4 L1228.9,1794.2 L1232.7,1794.1 L1236.4,1793.9 L1240.2,1793.7 L1244.0,1793.5 L1247.7,1793.3 L1251.5,1793.1 L1255.3,1792.9 L1259.0,1792.6 L1262.8,1792.4 L1266.6,1792.1 L1270.3,1791.9 L1274.1,1791.6 L1277.9,1791.3 L1281.6,1791.0 L1285.4,1790.7 L1289.2,1790.3 L1292.9,1790.0 L1296.7,1789.6 L1300.5,1789.3 L1304.3,1788.9 L1308.0,1788.5 L1311.8,1788.0 L1315.6,1787.6 L1319.3,1787.2 L1323.1,1786.7 L1326.9,1786.2 L1330.6,1785.7 L1334.4,1785.2 L1338.2,1784.7 L1341.9,1784.2 L1345.7,1783.6 L1349.5,1783.0 L1353.2,1782.4 L1357.0,1781.8 L1360.8,1781.2 L1364.5,1780.5 L1368.3,1779.9 L1372.1,1779.2 L1375.8,1778.5 L1379.6,1777.8 L1383.4,1777.0 L1387.2,1776.3 L1390.9,1775.5 L1394.7,1774.7 L1398.5,1773.9 L1402.2,1773.1 L1406.0,1772.2 L1409.8,1771.3 L1413.5,1770.5 L1417.3,1769.5 L1421.1,1768.6 L1424.8,1767.7 L1428.6,1766.7 L1432.4,1765.7 L1436.1,1764.7 L1439.9,1763.6 L1443.7,1762.6 L1447.4,1761.5 L1451.2,1760.4 L1455.0,1759.3 L1458.8,1758.2 L1462.5,1757.0 L1466.3,1755.8 L1470.1,1754.6 L1473.8,1753.4 L1477.6,1752.1 L1481.4,1750.9 L1485.1,1749.6 L1488.9,1748.3 L1492.7,1746.9 L1496.4,1745.6 L1500.2,1744.2 L1504.0,1742.8 L1507.7,1741.4 L1511.5,1739.9 L1515.3,1738.5 L1519.0,1737.0 L1522.8,1735.5 L1526.6,1733.9 L1530.3,1732.4 L1534.1,1730.8 L1537.9,1729.2 L1541.7,1727.6 L1545.4,1725.9 L1549.2,1724.2 L1553.0,1722.6 L1556.7,1720.8 L1560.5,1719.1 L1564.3,1717.3 L1568.0,1715.6 L1571.8,1713.8 L1575.6,1711.9 L1579.3,1710.1 L1583.1,1708.2 L1586.9,1706.3 L1590.6,1704.4 L1594.4,1702.5 L1598.2,1700.6 L1601.9,1698.6 L1605.7,1696.6 L1609.5,1694.6 L1613.2,1692.5 L1617.0,1690.5 L1620.8,1688.4 L1624.6,1686.3 L1628.3,1684.2 L1632.1,1682.0 L1635.9,1679.9 L1639.6,1677.7 L1643.4,1675.5 L1647.2,1673.3 L1650.9,1671.0 L1654.7,1668.7 L1658.5,1666.5 L1662.2,1664.2 L1666.0,1661.8 L1669.8,1659.5 L1673.5,1657.1 L1677.3,1654.8 L1681.1,1652.4 L1684.8,1649.9 L1688.6,1647.5 L1692.4,1645.1 L1696.2,1642.6 L1699.9,1640.1 L1703.7,1637.6 L1707.5,1635.1 L1711.2,1632.5 L1715.0,1630.0 L1718.8,1627.4 L1722.5,1624.8 L1726.3,1622.2 L1730.1,1619.6 L1733.8,1617.0 L1737.6,1614.3 L1741.4,1611.7 L1745.1,1609.0 L1748.9,1606.3 L1752.7,1603.6 L1756.4,1600.8 L1760.2,1598.1 L1764.0,1595.4 L1767.7,1592.6 L1771.5,1589.8 L1775.3,1587.0 L1779.1,1584.2 L1782.8,1581.4 L1786.6,1578.6 L1790.4,1575.7 L1794.1,1572.9 L1797.9,1570.0 L1801.7,1567.2 L1805.4,1564.3 L1809.2,1561.4 L1813.0,1558.5 L1816.7,1555.6 L1820.5,1552.7 L1824.3,1549.8 L1828.0,1546.8 L1831.8,1543.9 L1835.6,1540.9 L1839.3,1538.0 L1843.1,1535.0 L1846.9,1532.0 L1850.6,1529.1 L1854.4,1526.1 L1858.2,1523.1 L1862.0,1520.1 L1865.7,1517.1 L1869.5,1514.1 L1873.3,1511.1 L1877.0,1508.1 L1880.8,1505.1 L1884.6,1502.1 L1888.3,1499.0 L1892.1,1496.0 L1895.9,1493.0 L1899.6,1490.0 L1903.4,1486.9 L1907.2,1483.9 L1910.9,1480.9 L1914.7,1477.9 L1918.5,1474.8 L1922.2,1471.8 L1926.0,1468.8 L1929.8,1465.8 L1933.5,1462.7 L1937.3,1459.7 L1941.1,1456.7 L1944.9,1453.7 L1948.6,1450.7 L1952.4,1447.7 L1956.2,1444.7 L1959.9,1441.7 L1963.7,1438.7 L1967.5,1435.7 L1971.2,1432.7 L1975.0,1429.7 L1978.8,1426.8 L1982.5,1423.8 L1986.3,1420.9 L1990.1,1417.9 L1993.8,1415.0 L1997.6,1412.0 L2001.4,1409.1 L2005.1,1406.2 L2008.9,1403.3 L2012.7,1400.4 L2016.5,1397.5 L2020.2,1394.7 L2024.0,1391.8 L2027.8,1389.0 L2031.5,1386.1 L2035.3,1383.3 L2039.1,1380.5 L2042.8,1377.7 L2046.6,1374.9 L2050.4,1372.2 L2054.1,1369.4 L2057.9,1366.7 L2061.7,1363.9 L2065.4,1361.2 L2069.2,1358.5 L2073.0,1355.9 L2076.7,1353.2 L2080.5,1350.6 L2084.3,1347.9 L2088.0,1345.3 L2091.8,1342.7 L2095.6,1340.2 L2099.4,1337.6 L2103.1,1335.1 L2106.9,1332.6 L2110.7,1330.1 L2114.4,1327.6 L2118.2,1325.2 L2122.0,1322.7 L2125.7,1320.3 L2129.5,1317.9 L2133.3,1315.6 L2137.0,1313.2 L2140.8,1310.9 L2144.6,1308.6 L2148.3,1306.3 L2152.1,1304.1 L2155.9,1301.8 L2159.6,1299.6 L2163.4,1297.5 L2167.2,1295.3 L2170.9,1293.2 L2174.7,1291.1 L2178.5,1289.0 L2182.3,1287.0 L2186.0,1284.9 L2189.8,1282.9 L2193.6,1281.0 L2197.3,1279.0 L2201.1,1277.1 L2204.9,1275.2 L2208.6,1273.4 L2212.4,1271.5 L2216.2,1269.7 L2219.9,1268.0 L2223.7,1266.2 L2227.5,1264.5 L2231.2,1262.8 L2235.0,1261.2 L2238.8,1259.5 L2242.5,1258.0 L2246.3,1256.4 L2250.1,1254.9 L2253.8,1253.4 L2257.6,1251.9 L2261.4,1250.5 L2265.2,1249.1 L2268.9,1247.7 L2272.7,1246.3 L2276.5,1245.0 L2280.2,1243.8 L2284.0,1242.5 L2287.8,1241.3 L2291.5,1240.1 L2295.3,1239.0 L2299.1,1237.9 L2302.8,1236.8 L2306.6,1235.8 L2310.4,1234.8 L2314.1,1233.8 L2317.9,1232.9 L2321.7,1232.0 L2325.4,1231.1 L2329.2,1230.3 L2333.0,1229.5 L2336.8,1228.7 L2340.5,1228.0 L2344.3,1227.3 L2348.1,1226.6 L2351.8,1226.0 L2355.6,1225.4 L2359.4,1224.9 L2363.1,1224.4 L2366.9,1223.9 L2370.7,1223.4 L2374.4,1223.0 L2378.2,1222.7 L2382.0,1222.3 L2385.7,1222.0 L2389.5,1221.8 L2393.3,1221.6 L2397.0,1221.4 L2400.8,1221.2 L2404.6,1221.1 L2408.3,1221.0 L2412.1,1221.0 L2415.9,1221.0 L2419.7,1221.0 L2423.4,1221.1 L2427.2,1221.2 L2431.0,1221.4 L2434.7,1221.6 L2438.5,1221.8 L2442.3,1222.0 L2446.0,1222.3 L2449.8,1222.7 L2453.6,1223.0 L2457.3,1223.4 L2461.1,1223.9 L2464.9,1224.4 L2468.6,1224.9 L2472.4,1225.4 L2476.2,1226.0 L2479.9,1226.6 L2483.7,1227.3 L2487.5,1228.0 L2491.2,1228.7 L2495.0,1229.5 L2498.8,1230.3 L2502.6,1231.1 L2506.3,1232.0 L2510.1,1232.9 L2513.9,1233.8 L2517.6,1234.8 L2521.4,1235.8 L2525.2,1236.8 L2528.9,1237.9 L2532.7,1239.0 L2536.5,1240.1 L2540.2,1241.3 L2544.0,1242.5 L2547.8,1243.8 L2551.5,1245.0 L2555.3,1246.3 L2559.1,1247.7 L2562.8,1249.1 L2566.6,1250.5 L2570.4,1251.9 L2574.2,1253.4 L2577.9,1254.9 L2581.7,1256.4 L2585.5,1258.0 L2589.2,1259.5 L2593.0,1261.2 L2596.8,1262.8 L2600.5,1264.5 L2604.3,1266.2 L2608.1,1268.0 L2611.8,1269.7 L2615.6,1271.5 L2619.4,1273.4 L2623.1,1275.2 L2626.9,1277.1 L2630.7,1279.0 L2634.4,1281.0 L2638.2,1282.9 L2642.0,1284.9 L2645.7,1287.0 L2649.5,1289.0 L2653.3,1291.1 L2657.1,1293.2 L2660.8,1295.3 L2664.6,1297.5 L2668.4,1299.6 L2672.1,1301.8 L2675.9,1304.1 L2679.7,1306.3 L2683.4,1308.6 L2687.2,1310.9 L2691.0,1313.2 L2694.7,1315.6 L2698.5,1317.9 L2702.3,1320.3 L2706.0,1322.7 L2709.8,1325.2 L2713.6,1327.6 L2717.3,1330.1 L2721.1,1332.6 L2724.9,1335.1 L2728.6,1337.6 L2732.4,1340.2 L2736.2,1342.7 L2740.0,1345.3 L2743.7,1347.9 L2747.5,1350.6 L2751.3,1353.2 L2755.0,1355.9 L2758.8,1358.5 L2762.6,1361.2 L2766.3,1363.9 L2770.1,1366.7 L2773.9,1369.4 L2777.6,1372.2 L2781.4,1374.9 L2785.2,1377.7 L2788.9,1380.5 L2792.7,1383.3 L2796.5,1386.1 L2800.2,1389.0 L2804.0,1391.8 L2807.8,1394.7 L2811.5,1397.5 L2815.3,1400.4 L2819.1,1403.3 L2822.9,1406.2 L2826.6,1409.1 L2830.4,1412.0 L2834.2,1415.0 L2837.9,1417.9 L2841.7,1420.9 L2845.5,1423.8 L2849.2,1426.8 L2853.0,1429.7 L2856.8,1432.7 L2860.5,1435.7 L2864.3,1438.7 L2868.1,1441.7 L2871.8,1444.7 L2875.6,1447.7 L2879.4,1450.7 L2883.1,1453.7 L2886.9,1456.7 L2890.7,1459.7 L2894.5,1462.7 L2898.2,1465.8 L2902.0,1468.8 L2905.8,1471.8 L2909.5,1474.8 L2913.3,1477.9 L2917.1,1480.9 L2920.8,1483.9 L2924.6,1486.9 L2928.4,1490.0 L2932.1,1493.0 L2935.9,1496.0 L2939.7,1499.0 L2943.4,1502.1 L2947.2,1505.1 L2951.0,1508.1 L2954.7,1511.1 L2958.5,1514.1 L2962.3,1517.1 L2966.0,1520.1 L2969.8,1523.1 L2973.6,1526.1 L2977.4,1529.1 L2981.1,1532.0 L2984.9,1535.0 L2988.7,1538.0 L2992.4,1540.9 L2996.2,1543.9 L3000.0,1546.8 L3003.7,1549.8 L3007.5,1552.7 L3011.3,1555.6 L3015.0,1558.5 L3018.8,1561.4 L3022.6,1564.3 L3026.3,1567.2 L3030.1,1570.0 L3033.9,1572.9 L3037.6,1575.7 L3041.4,1578.6 L3045.2,1581.4 L3048.9,1584.2 L3052.7,1587.0 L3056.5,1589.8 L3060.3,1592.6 L3064.0,1595.4 L3067.8,1598.1 L3071.6,1600.8 L3075.3,1603.6 L3079.1,1606.3 L3082.9,1609.0 L3086.6,1611.7 L3090.4,1614.3 L3094.2,1617.0 L3097.9,1619.6 L3101.7,1622.2 L3105.5,1624.8 L3109.2,1627.4 L3113.0,1630.0 L3116.8,1632.5 L3120.5,1635.1 L3124.3,1637.6 L3128.1,1640.1 L3131.8,1642.6 L3135.6,1645.1 L3139.4,1647.5 L3143.2,1649.9 L3146.9,1652.4 L3150.7,1654.8 L3154.5,1657.1 L3158.2,1659.5 L3162.0,1661.8 L3165.8,1664.2 L3169.5,1666.5 L3173.3,1668.7 L3177.1,1671.0 L3180.8,1673.3 L3184.6,1675.5 L3188.4,1677.7 L3192.1,1679.9 L3195.9,1682.0 L3199.7,1684.2 L3203.4,1686.3 L3207.2,1688.4 L3211.0,1690.5 L3214.8,1692.5 L3218.5,1694.6 L3222.3,1696.6 L3226.1,1698.6 L3229.8,1700.6 L3233.6,1702.5 L3237.4,1704.4 L3241.1,1706.3 L3244.9,1708.2 L3248.7,1710.1 L3252.4,1711.9 L3256.2,1713.8 L3260.0,1715.6 L3263.7,1717.3 L3267.5,1719.1 L3271.3,1720.8 L3275.0,1722.6 L3278.8,1724.2 L3282.6,1725.9 L3286.3,1727.6 L3290.1,1729.2 L3293.9,1730.8 L3297.7,1732.4 L3301.4,1733.9 L3305.2,1735.5 L3309.0,1737.0 L3312.7,1738.5 L3316.5,1739.9 L3320.3,1741.4 L3324.0,1742.8 L3327.8,1744.2 L3331.6,1745.6 L3335.3,1746.9 L3339.1,1748.3 L3342.9,1749.6 L3346.6,1750.9 L3350.4,1752.1 L3354.2,1753.4 L3357.9,1754.6 L3361.7,1755.8 L3365.5,1757.0 L3369.2,1758.2 L3373.0,1759.3 L3376.8,1760.4 L3380.6,1761.5 L3384.3,1762.6 L3388.1,1763.6 L3391.9,1764.7 L3395.6,1765.7 L3399.4,1766.7 L3403.2,1767.7 L3406.9,1768.6 L3410.7,1769.5 L3414.5,1770.5 L3418.2,1771.3 L3422.0,1772.2 L3425.8,1773.1 L3429.5,1773.9 L3433.3,1774.7 L3437.1,1775.5 L3440.8,1776.3 L3444.6,1777.0 L3448.4,1777.8 L3452.2,1778.5 L3455.9,1779.2 L3459.7,1779.9 L3463.5,1780.5 L3467.2,1781.2 L3471.0,1781.8 L3474.8,1782.4 L3478.5,1783.0 L3482.3,1783.6 L3486.1,1784.2 L3489.8,1784.7 L3493.6,1785.2 L3497.4,1785.7 L3501.1,1786.2 L3504.9,1786.7 L3508.7,1787.2 L3512.4,1787.6 L3516.2,1788.0 L3520.0,1788.5 L3523.7,1788.9 L3527.5,1789.3 L3531.3,1789.6 L3535.1,1790.0 L3538.8,1790.3 L3542.6,1790.7 L3546.4,1791.0 L3550.1,1791.3 L3553.9,1791.6 L3557.7,1791.9 L3561.4,1792.1 L3565.2,1792.4 L3569.0,1792.6 L3572.7,1792.9 L3576.5,1793.1 L3580.3,1793.3 L3584.0,1793.5 L3587.8,1793.7 L3591.6,1793.9 L3595.3,1794.1 L3599.1,1794.2 L3602.9,1794.4 L3606.6,1794.5 L3610.4,1794.7 L3614.2,1794.8 L3618.0,1794.9 L3621.7,1795.0 L3625.5,1795.1 L3629.3,1795.2 L3633.0,1795.3 L3636.8,1795.4 L3640.6,1795.4 L3644.3,1795.5 L3648.1,1795.6 L3651.9,1795.6 L3655.6,1795.7 L3659.4,1795.7 L3663.2,1795.8 L3666.9,1795.8 L3670.7,1795.8 L3674.5,1795.9 L3678.2,1795.9 L3682.0,1795.9 L3685.8,1795.9 L3689.5,1796.0 L3693.3,1796.0 L3697.1,1796.0 L3700.9,1796.0 L3704.6,1796.0 L3708.4,1796.0 L3712.2,1796.0 L3715.9,1796.0 L3719.7,1796.0 L3723.5,1796.0 L3727.2,1796.0 L3731.0,1796.0" fill="none" stroke="#ad5c55" stroke-width="1.35" />
<path d="M1097.0,1796.0 L1100.8,1796.0 L1104.5,1796.0 L1108.3,1796.0 L1112.1,1796.0 L1115.8,1796.0 L1119.6,1796.0 L1123.4,1796.0 L1127.1,1796.0 L1130.9,1796.0 L1134.7,1796.0 L1138.5,1796.0 L1142.2,1795.9 L1146.0,1795.9 L1149.8,1795.9 L1153.5,1795.9 L1157.3,1795.9 L1161.1,1795.8 L1164.8,1795.8 L1168.6,1795.8 L1172.4,1795.7 L1176.1,1795.7 L1179.9,1795.6 L1183.7,1795.6 L1187.4,1795.5 L1191.2,1795.5 L1195.0,1795.4 L1198.7,1795.3 L1202.5,1795.2 L1206.3,1795.2 L1210.0,1795.1 L1213.8,1795.0 L1217.6,1794.9 L1221.4,1794.7 L1225.1,1794.6 L1228.9,1794.5 L1232.7,1794.3 L1236.4,1794.2 L1240.2,1794.0 L1244.0,1793.9 L1247.7,1793.7 L1251.5,1793.5 L1255.3,1793.3 L1259.0,1793.1 L1262.8,1792.9 L1266.6,1792.7 L1270.3,1792.5 L1274.1,1792.2 L1277.9,1792.0 L1281.6,1791.7 L1285.4,1791.5 L1289.2,1791.2 L1292.9,1790.9 L1296.7,1790.6 L1300.5,1790.3 L1304.3,1789.9 L1308.0,1789.6 L1311.8,1789.2 L1315.6,1788.9 L1319.3,1788.5 L1323.1,1788.1 L1326.9,1787.7 L1330.6,1787.3 L1334.4,1786.8 L1338.2,1786.4 L1341.9,1785.9 L1345.7,1785.5 L1349.5,1785.0 L1353.2,1784.5 L1357.0,1783.9 L1360.8,1783.4 L1364.5,1782.9 L1368.3,1782.3 L1372.1,1781.7 L1375.8,1781.1 L1379.6,1780.5 L1383.4,1779.9 L1387.2,1779.2 L1390.9,1778.6 L1394.7,1777.9 L1398.5,1777.2 L1402.2,1776.5 L1406.0,1775.8 L1409.8,1775.0 L1413.5,1774.3 L1417.3,1773.5 L1421.1,1772.7 L1424.8,1771.9 L1428.6,1771.1 L1432.4,1770.2 L1436.1,1769.4 L1439.9,1768.5 L1443.7,1767.6 L1447.4,1766.7 L1451.2,1765.7 L1455.0,1764.8 L1458.8,1763.8 L1462.5,1762.8 L1466.3,1761.8 L1470.1,1760.8 L1473.8,1759.8 L1477.6,1758.7 L1481.4,1757.6 L1485.1,1756.5 L1488.9,1755.4 L1492.7,1754.3 L1496.4,1753.1 L1500.2,1751.9 L1504.0,1750.7 L1507.7,1749.5 L1511.5,1748.3 L1515.3,1747.1 L1519.0,1745.8 L1522.8,1744.5 L1526.6,1743.2 L1530.3,1741.9 L1534.1,1740.5 L1537.9,1739.2 L1541.7,1737.8 L1545.4,1736.4 L1549.2,1735.0 L1553.0,1733.5 L1556.7,1732.1 L1560.5,1730.6 L1564.3,1729.1 L1568.0,1727.6 L1571.8,1726.1 L1575.6,1724.5 L1579.3,1723.0 L1583.1,1721.4 L1586.9,1719.8 L1590.6,1718.1 L1594.4,1716.5 L1598.2,1714.8 L1601.9,1713.2 L1605.7,1711.5 L1609.5,1709.7 L1613.2,1708.0 L1617.0,1706.3 L1620.8,1704.5 L1624.6,1702.7 L1628.3,1700.9 L1632.1,1699.1 L1635.9,1697.2 L1639.6,1695.4 L1643.4,1693.5 L1647.2,1691.6 L1650.9,1689.7 L1654.7,1687.8 L1658.5,1685.8 L1662.2,1683.9 L1666.0,1681.9 L1669.8,1679.9 L1673.5,1677.9 L1677.3,1675.9 L1681.1,1673.8 L1684.8,1671.8 L1688.6,1669.7 L1692.4,1667.6 L1696.2,1665.5 L1699.9,1663.4 L1703.7,1661.3 L1707.5,1659.1 L1711.2,1657.0 L1715.0,1654.8 L1718.8,1652.6 L1722.5,1650.4 L1726.3,1648.2 L1730.1,1646.0 L1733.8,1643.7 L1737.6,1641.5 L1741.4,1639.2 L1745.1,1636.9 L1748.9,1634.7 L1752.7,1632.3 L1756.4,1630.0 L1760.2,1627.7 L1764.0,1625.4 L1767.7,1623.0 L1771.5,1620.7 L1775.3,1618.3 L1779.1,1615.9 L1782.8,1613.5 L1786.6,1611.1 L1790.4,1608.7 L1794.1,1606.3 L1797.9,1603.8 L1801.7,1601.4 L1805.4,1598.9 L1809.2,1596.5 L1813.0,1594.0 L1816.7,1591.6 L1820.5,1589.1 L1824.3,1586.6 L1828.0,1584.1 L1831.8,1581.6 L1835.6,1579.1 L1839.3,1576.6 L1843.1,1574.0 L1846.9,1571.5 L1850.6,1569.0 L1854.4,1566.5 L1858.2,1563.9 L1862.0,1561.4 L1865.7,1558.8 L1869.5,1556.3 L1873.3,1553.7 L1877.0,1551.1 L1880.8,1548.6 L1884.6,1546.0 L1888.3,1543.5 L1892.1,1540.9 L1895.9,1538.3 L1899.6,1535.7 L1903.4,1533.2 L1907.2,1530.6 L1910.9,1528.0 L1914.7,1525.4 L1918.5,1522.9 L1922.2,1520.3 L1926.0,1517.7 L1929.8,1515.2 L1933.5,1512.6 L1937.3,1510.0 L1941.1,1507.5 L1944.9,1504.9 L1948.6,1502.3 L1952.4,1499.8 L1956.2,1497.2 L1959.9,1494.7 L1963.7,1492.1 L1967.5,1489.6 L1971.2,1487.1 L1975.0,1484.5 L1978.8,1482.0 L1982.5,1479.5 L1986.3,1477.0 L1990.1,1474.5 L1993.8,1472.0 L1997.6,1469.5 L2001.4,1467.0 L2005.1,1464.5 L2008.9,1462.0 L2012.7,1459.6 L2016.5,1457.1 L2020.2,1454.7 L2024.0,1452.3 L2027.8,1449.8 L2031.5,1447.4 L2035.3,1445.0 L2039.1,1442.6 L2042.8,1440.3 L2046.6,1437.9 L2050.4,1435.6 L2054.1,1433.2 L2057.9,1430.9 L2061.7,1428.6 L2065.4,1426.3 L2069.2,1424.0 L2073.0,1421.7 L2076.7,1419.4 L2080.5,1417.2 L2084.3,1415.0 L2088.0,1412.7 L2091.8,1410.5 L2095.6,1408.3 L2099.4,1406.2 L2103.1,1404.0 L2106.9,1401.9 L2110.7,1399.8 L2114.4,1397.7 L2118.2,1395.6 L2122.0,1393.5 L2125.7,1391.5 L2129.5,1389.4 L2133.3,1387.4 L2137.0,1385.4 L2140.8,1383.4 L2144.6,1381.5 L2148.3,1379.6 L2152.1,1377.6 L2155.9,1375.8 L2159.6,1373.9 L2163.4,1372.0 L2167.2,1370.2 L2170.9,1368.4 L2174.7,1366.6 L2178.5,1364.8 L2182.3,1363.1 L2186.0,1361.4 L2189.8,1359.7 L2193.6,1358.0 L2197.3,1356.3 L2201.1,1354.7 L2204.9,1353.1 L2208.6,1351.5 L2212.4,1350.0 L2216.2,1348.4 L2219.9,1346.9 L2223.7,1345.5 L2227.5,1344.0 L2231.2,1342.6 L2235.0,1341.2 L2238.8,1339.8 L2242.5,1338.4 L2246.3,1337.1 L2250.1,1335.8 L2253.8,1334.5 L2257.6,1333.3 L2261.4,1332.1 L2265.2,1330.9 L2268.9,1329.7 L2272.7,1328.6 L2276.5,1327.4 L2280.2,1326.4 L2284.0,1325.3 L2287.8,1324.3 L2291.5,1323.3 L2295.3,1322.3 L2299.1,1321.4 L2302.8,1320.4 L2306.6,1319.6 L2310.4,1318.7 L2314.1,1317.9 L2317.9,1317.1 L2321.7,1316.3 L2325.4,1315.6 L2329.2,1314.9 L2333.0,1314.2 L2336.8,1313.5 L2340.5,1312.9 L2344.3,1312.3 L2348.1,1311.8 L2351.8,1311.3 L2355.6,1310.8 L2359.4,1310.3 L2363.1,1309.9 L2366.9,1309.5 L2370.7,1309.1 L2374.4,1308.7 L2378.2,1308.4 L2382.0,1308.1 L2385.7,1307.9 L2389.5,1307.7 L2393.3,1307.5 L2397.0,1307.3 L2400.8,1307.2 L2404.6,1307.1 L2408.3,1307.0 L2412.1,1307.0 L2415.9,1307.0 L2419.7,1307.0 L2423.4,1307.1 L2427.2,1307.2 L2431.0,1307.3 L2434.7,1307.5 L2438.5,1307.7 L2442.3,1307.9 L2446.0,1308.1 L2449.8,1308.4 L2453.6,1308.7 L2457.3,1309.1 L2461.1,1309.5 L2464.9,1309.9 L2468.6,1310.3 L2472.4,1310.8 L2476.2,1311.3 L2479.9,1311.8 L2483.7,1312.3 L2487.5,1312.9 L2491.2,1313.5 L2495.0,1314.2 L2498.8,1314.9 L2502.6,1315.6 L2506.3,1316.3 L2510.1,1317.1 L2513.9,1317.9 L2517.6,1318.7 L2521.4,1319.6 L2525.2,1320.4 L2528.9,1321.4 L2532.7,1322.3 L2536.5,1323.3 L2540.2,1324.3 L2544.0,1325.3 L2547.8,1326.4 L2551.5,1327.4 L2555.3,1328.6 L2559.1,1329.7 L2562.8,1330.9 L2566.6,1332.1 L2570.4,1333.3 L2574.2,1334.5 L2577.9,1335.8 L2581.7,1337.1 L2585.5,1338.4 L2589.2,1339.8 L2593.0,1341.2 L2596.8,1342.6 L2600.5,1344.0 L2604.3,1345.5 L2608.1,1346.9 L2611.8,1348.4 L2615.6,1350.0 L2619.4,1351.5 L2623.1,1353.1 L2626.9,1354.7 L2630.7,1356.3 L2634.4,1358.0 L2638.2,1359.7 L2642.0,1361.4 L2645.7,1363.1 L2649.5,1364.8 L2653.3,1366.6 L2657.1,1368.4 L2660.8,1370.2 L2664.6,1372.0 L2668.4,1373.9 L2672.1,1375.8 L2675.9,1377.6 L2679.7,1379.6 L2683.4,1381.5 L2687.2,1383.4 L2691.0,1385.4 L2694.7,1387.4 L2698.5,1389.4 L2702.3,1391.5 L2706.0,1393.5 L2709.8,1395.6 L2713.6,1397.7 L2717.3,1399.8 L2721.1,1401.9 L2724.9,1404.0 L2728.6,1406.2 L2732.4,1408.3 L2736.2,1410.5 L2740.0,1412.7 L2743.7,1415.0 L2747.5,1417.2 L2751.3,1419.4 L2755.0,1421.7 L2758.8,1424.0 L2762.6,1426.3 L2766.3,1428.6 L2770.1,1430.9 L2773.9,1433.2 L2777.6,1435.6 L2781.4,1437.9 L2785.2,1440.3 L2788.9,1442.6 L2792.7,1445.0 L2796.5,1447.4 L2800.2,1449.8 L2804.0,1452.3 L2807.8,1454.7 L2811.5,1457.1 L2815.3,1459.6 L2819.1,1462.0 L2822.9,1464.5 L2826.6,1467.0 L2830.4,1469.5 L2834.2,1472.0 L2837.9,1474.5 L2841.7,1477.0 L2845.5,1479.5 L2849.2,1482.0 L2853.0,1484.5 L2856.8,1487.1 L2860.5,1489.6 L2864.3,1492.1 L2868.1,1494.7 L2871.8,1497.2 L2875.6,1499.8 L2879.4,1502.3 L2883.1,1504.9 L2886.9,1507.5 L2890.7,1510.0 L2894.5,1512.6 L2898.2,1515.2 L2902.0,1517.7 L2905.8,1520.3 L2909.5,1522.9 L2913.3,1525.4 L2917.1,1528.0 L2920.8,1530.6 L2924.6,1533.2 L2928.4,1535.7 L2932.1,1538.3 L2935.9,1540.9 L2939.7,1543.5 L2943.4,1546.0 L2947.2,1548.6 L2951.0,1551.1 L2954.7,1553.7 L2958.5,1556.3 L2962.3,1558.8 L2966.0,1561.4 L2969.8,1563.9 L2973.6,1566.5 L2977.4,1569.0 L2981.1,1571.5 L2984.9,1574.0 L2988.7,1576.6 L2992.4,1579.1 L2996.2,1581.6 L3000.0,1584.1 L3003.7,1586.6 L3007.5,1589.1 L3011.3,1591.6 L3015.0,1594.0 L3018.8,1596.5 L3022.6,1598.9 L3026.3,1601.4 L3030.1,1603.8 L3033.9,1606.3 L3037.6,1608.7 L3041.4,1611.1 L3045.2,1613.5 L3048.9,1615.9 L3052.7,1618.3 L3056.5,1620.7 L3060.3,1623.0 L3064.0,1625.4 L3067.8,1627.7 L3071.6,1630.0 L3075.3,1632.3 L3079.1,1634.7 L3082.9,1636.9 L3086.6,1639.2 L3090.4,1641.5 L3094.2,1643.7 L3097.9,1646.0 L3101.7,1648.2 L3105.5,1650.4 L3109.2,1652.6 L3113.0,1654.8 L3116.8,1657.0 L3120.5,1659.1 L3124.3,1661.3 L3128.1,1663.4 L3131.8,1665.5 L3135.6,1667.6 L3139.4,1669.7 L3143.2,1671.8 L3146.9,1673.8 L3150.7,1675.9 L3154.5,1677.9 L3158.2,1679.9 L3162.0,1681.9 L3165.8,1683.9 L3169.5,1685.8 L3173.3,1687.8 L3177.1,1689.7 L3180.8,1691.6 L3184.6,1693.5 L3188.4,1695.4 L3192.1,1697.2 L3195.9,1699.1 L3199.7,1700.9 L3203.4,1702.7 L3207.2,1704.5 L3211.0,1706.3 L3214.8,1708.0 L3218.5,1709.7 L3222.3,1711.5 L3226.1,1713.2 L3229.8,1714.8 L3233.6,1716.5 L3237.4,1718.1 L3241.1,1719.8 L3244.9,1721.4 L3248.7,1723.0 L3252.4,1724.5 L3256.2,1726.1 L3260.0,1727.6 L3263.7,1729.1 L3267.5,1730.6 L3271.3,1732.1 L3275.0,1733.5 L3278.8,1735.0 L3282.6,1736.4 L3286.3,1737.8 L3290.1,1739.2 L3293.9,1740.5 L3297.7,1741.9 L3301.4,1743.2 L3305.2,1744.5 L3309.0,1745.8 L3312.7,1747.1 L3316.5,1748.3 L3320.3,1749.5 L3324.0,1750.7 L3327.8,1751.9 L3331.6,1753.1 L3335.3,1754.3 L3339.1,1755.4 L3342.9,1756.5 L3346.6,1757.6 L3350.4,1758.7 L3354.2,1759.8 L3357.9,1760.8 L3361.7,1761.8 L3365.5,1762.8 L3369.2,1763.8 L3373.0,1764.8 L3376.8,1765.7 L3380.6,1766.7 L3384.3,1767.6 L3388.1,1768.5 L3391.9,1769.4 L3395.6,1770.2 L3399.4,1771.1 L3403.2,1771.9 L3406.9,1772.7 L3410.7,1773.5 L3414.5,1774.3 L3418.2,1775.0 L3422.0,1775.8 L3425.8,1776.5 L3429.5,1777.2 L3433.3,1777.9 L3437.1,1778.6 L3440.8,1779.2 L3444.6,1779.9 L3448.4,1780.5 L3452.2,1781.1 L3455.9,1781.7 L3459.7,1782.3 L3463.5,1782.9 L3467.2,1783.4 L3471.0,1783.9 L3474.8,1784.5 L3478.5,1785.0 L3482.3,1785.5 L3486.1,1785.9 L3489.8,1786.4 L3493.6,1786.8 L3497.4,1787.3 L3501.1,1787.7 L3504.9,1788.1 L3508.7,1788.5 L3512.4,1788.9 L3516.2,1789.2 L3520.0,1789.6 L3523.7,1789.9 L3527.5,1790.3 L3531.3,1790.6 L3535.1,1790.9 L3538.8,1791.2 L3542.6,1791.5 L3546.4,1791.7 L3550.1,1792.0 L3553.9,1792.2 L3557.7,1792.5 L3561.4,1792.7 L3565.2,1792.9 L3569.0,1793.1 L3572.7,1793.3 L3576.5,1793.5 L3580.3,1793.7 L3584.0,1793.9 L3587.8,1794.0 L3591.6,1794.2 L3595.3,1794.3 L3599.1,1794.5 L3602.9,1794.6 L3606.6,1794.7 L3610.4,1794.9 L3614.2,1795.0 L3618.0,1795.1 L3621.7,1795.2 L3625.5,1795.2 L3629.3,1795.3 L3633.0,1795.4 L3636.8,1795.5 L3640.6,1795.5 L3644.3,1795.6 L3648.1,1795.6 L3651.9,1795.7 L3655.6,1795.7 L3659.4,1795.8 L3663.2,1795.8 L3666.9,1795.8 L3670.7,1795.9 L3674.5,1795.9 L3678.2,1795.9 L3682.0,1795.9 L3685.8,1795.9 L3689.5,1796.0 L3693.3,1796.0 L3697.1,1796.0 L3700.9,1796.0 L3704.6,1796.0 L3708.4,1796.0 L3712.2,1796.0 L3715.9,1796.0 L3719.7,1796.0 L3723.5,1796.0 L3727.2,1796.0 L3731.0,1796.0" fill="none" stroke="#ad5c55" stroke-width="1.35" />
<path d="M1097.0,1796.0 L1100.8,1796.0 L1104.5,1796.0 L1108.3,1796.0 L1112.1,1796.0 L1115.8,1796.0 L1119.6,1796.0 L1123.4,1796.0 L1127.1,1796.0 L1130.9,1796.0 L1134.7,1796.0 L1138.5,1796.0 L1142.2,1795.9 L1146.0,1795.9 L1149.8,1795.9 L1153.5,1795.9 L1157.3,1795.8 L1161.1,1795.8 L1164.8,1795.8 L1168.6,1795.7 L1172.4,1795.7 L1176.1,1795.6 L1179.9,1795.6 L1183.7,1795.5 L1187.4,1795.5 L1191.2,1795.4 L1195.0,1795.3 L1198.7,1795.2 L1202.5,1795.1 L1206.3,1795.0 L1210.0,1794.9 L1213.8,1794.8 L1217.6,1794.7 L1221.4,1794.6 L1225.1,1794.4 L1228.9,1794.3 L1232.7,1794.1 L1236.4,1793.9 L1240.2,1793.8 L1244.0,1793.6 L1247.7,1793.4 L1251.5,1793.2 L1255.3,1793.0 L1259.0,1792.7 L1262.8,1792.5 L1266.6,1792.3 L1270.3,1792.0 L1274.1,1791.7 L1277.9,1791.4 L1281.6,1791.1 L1285.4,1790.8 L1289.2,1790.5 L1292.9,1790.2 L1296.7,1789.8 L1300.5,1789.5 L1304.3,1789.1 L1308.0,1788.7 L1311.8,1788.3 L1315.6,1787.9 L1319.3,1787.4 L1323.1,1787.0 L1326.9,1786.5 L1330.6,1786.0 L1334.4,1785.5 L1338.2,1785.0 L1341.9,1784.5 L1345.7,1784.0 L1349.5,1783.4 L1353.2,1782.8 L1357.0,1782.2 L1360.8,1781.6 L1364.5,1781.0 L1368.3,1780.4 L1372.1,1779.7 L1375.8,1779.0 L1379.6,1778.3 L1383.4,1777.6 L1387.2,1776.9 L1390.9,1776.1 L1394.7,1775.3 L1398.5,1774.6 L1402.2,1773.7 L1406.0,1772.9 L1409.8,1772.1 L1413.5,1771.2 L1417.3,1770.3 L1421.1,1769.4 L1424.8,1768.5 L1428.6,1767.6 L1432.4,1766.6 L1436.1,1765.6 L1439.9,1764.6 L1443.7,1763.6 L1447.4,1762.5 L1451.2,1761.5 L1455.0,1760.4 L1458.8,1759.3 L1462.5,1758.1 L1466.3,1757.0 L1470.1,1755.8 L1473.8,1754.6 L1477.6,1753.4 L1481.4,1752.2 L1485.1,1750.9 L1488.9,1749.7 L1492.7,1748.4 L1496.4,1747.1 L1500.2,1745.7 L1504.0,1744.4 L1507.7,1743.0 L1511.5,1741.6 L1515.3,1740.2 L1519.0,1738.7 L1522.8,1737.2 L1526.6,1735.8 L1530.3,1734.2 L1534.1,1732.7 L1537.9,1731.2 L1541.7,1729.6 L1545.4,1728.0 L1549.2,1726.4 L1553.0,1724.7 L1556.7,1723.1 L1560.5,1721.4 L1564.3,1719.7 L1568.0,1717.9 L1571.8,1716.2 L1575.6,1714.4 L1579.3,1712.6 L1583.1,1710.8 L1586.9,1709.0 L1590.6,1707.1 L1594.4,1705.3 L1598.2,1703.4 L1601.9,1701.5 L1605.7,1699.5 L1609.5,1697.6 L1613.2,1695.6 L1617.0,1693.6 L1620.8,1691.6 L1624.6,1689.5 L1628.3,1687.5 L1632.1,1685.4 L1635.9,1683.3 L1639.6,1681.2 L1643.4,1679.0 L1647.2,1676.9 L1650.9,1674.7 L1654.7,1672.5 L1658.5,1670.3 L1662.2,1668.1 L1666.0,1665.8 L1669.8,1663.5 L1673.5,1661.2 L1677.3,1658.9 L1681.1,1656.6 L1684.8,1654.3 L1688.6,1651.9 L1692.4,1649.5 L1696.2,1647.1 L1699.9,1644.7 L1703.7,1642.3 L1707.5,1639.8 L1711.2,1637.4 L1715.0,1634.9 L1718.8,1632.4 L1722.5,1629.9 L1726.3,1627.4 L1730.1,1624.8 L1733.8,1622.3 L1737.6,1619.7 L1741.4,1617.1 L1745.1,1614.5 L1748.9,1611.9 L1752.7,1609.3 L1756.4,1606.6 L1760.2,1604.0 L1764.0,1601.3 L1767.7,1598.6 L1771.5,1595.9 L1775.3,1593.2 L1779.1,1590.5 L1782.8,1587.8 L1786.6,1585.0 L1790.4,1582.3 L1794.1,1579.5 L1797.9,1576.7 L1801.7,1573.9 L1805.4,1571.1 L1809.2,1568.3 L1813.0,1565.5 L1816.7,1562.7 L1820.5,1559.9 L1824.3,1557.0 L1828.0,1554.2 L1831.8,1551.3 L1835.6,1548.5 L1839.3,1545.6 L1843.1,1542.7 L1846.9,1539.8 L1850.6,1537.0 L1854.4,1534.1 L1858.2,1531.2 L1862.0,1528.3 L1865.7,1525.3 L1869.5,1522.4 L1873.3,1519.5 L1877.0,1516.6 L1880.8,1513.7 L1884.6,1510.7 L1888.3,1507.8 L1892.1,1504.9 L1895.9,1502.0 L1899.6,1499.0 L1903.4,1496.1 L1907.2,1493.1 L1910.9,1490.2 L1914.7,1487.3 L1918.5,1484.3 L1922.2,1481.4 L1926.0,1478.5 L1929.8,1475.5 L1933.5,1472.6 L1937.3,1469.7 L1941.1,1466.7 L1944.9,1463.8 L1948.6,1460.9 L1952.4,1458.0 L1956.2,1455.1 L1959.9,1452.2 L1963.7,1449.3 L1967.5,1446.4 L1971.2,1443.5 L1975.0,1440.6 L1978.8,1437.7 L1982.5,1434.8 L1986.3,1432.0 L1990.1,1429.1 L1993.8,1426.2 L1997.6,1423.4 L2001.4,1420.6 L2005.1,1417.7 L2008.9,1414.9 L2012.7,1412.1 L2016.5,1409.3 L2020.2,1406.5 L2024.0,1403.8 L2027.8,1401.0 L2031.5,1398.3 L2035.3,1395.5 L2039.1,1392.8 L2042.8,1390.1 L2046.6,1387.4 L2050.4,1384.7 L2054.1,1382.0 L2057.9,1379.4 L2061.7,1376.7 L2065.4,1374.1 L2069.2,1371.5 L2073.0,1368.9 L2076.7,1366.3 L2080.5,1363.7 L2084.3,1361.2 L2088.0,1358.7 L2091.8,1356.1 L2095.6,1353.6 L2099.4,1351.2 L2103.1,1348.7 L2106.9,1346.3 L2110.7,1343.9 L2114.4,1341.5 L2118.2,1339.1 L2122.0,1336.7 L2125.7,1334.4 L2129.5,1332.1 L2133.3,1329.8 L2137.0,1327.5 L2140.8,1325.2 L2144.6,1323.0 L2148.3,1320.8 L2152.1,1318.6 L2155.9,1316.5 L2159.6,1314.3 L2163.4,1312.2 L2167.2,1310.1 L2170.9,1308.0 L2174.7,1306.0 L2178.5,1304.0 L2182.3,1302.0 L2186.0,1300.0 L2189.8,1298.1 L2193.6,1296.2 L2197.3,1294.3 L2201.1,1292.4 L2204.9,1290.6 L2208.6,1288.8 L2212.4,1287.0 L2216.2,1285.3 L2219.9,1283.6 L2223.7,1281.9 L2227.5,1280.2 L2231.2,1278.6 L2235.0,1277.0 L2238.8,1275.4 L2242.5,1273.9 L2246.3,1272.3 L2250.1,1270.9 L2253.8,1269.4 L2257.6,1268.0 L2261.4,1266.6 L2265.2,1265.2 L2268.9,1263.9 L2272.7,1262.6 L2276.5,1261.3 L2280.2,1260.1 L2284.0,1258.9 L2287.8,1257.7 L2291.5,1256.6 L2295.3,1255.5 L2299.1,1254.4 L2302.8,1253.3 L2306.6,1252.3 L2310.4,1251.4 L2314.1,1250.4 L2317.9,1249.5 L2321.7,1248.6 L2325.4,1247.8 L2329.2,1247.0 L2333.0,1246.2 L2336.8,1245.5 L2340.5,1244.8 L2344.3,1244.1 L2348.1,1243.5 L2351.8,1242.9 L2355.6,1242.3 L2359.4,1241.8 L2363.1,1241.3 L2366.9,1240.8 L2370.7,1240.4 L2374.4,1240.0 L2378.2,1239.6 L2382.0,1239.3 L2385.7,1239.0 L2389.5,1238.8 L2393.3,1238.5 L2397.0,1238.4 L2400.8,1238.2 L2404.6,1238.1 L2408.3,1238.0 L2412.1,1238.0 L2415.9,1238.0 L2419.7,1238.0 L2423.4,1238.1 L2427.2,1238.2 L2431.0,1238.4 L2434.7,1238.5 L2438.5,1238.8 L2442.3,1239.0 L2446.0,1239.3 L2449.8,1239.6 L2453.6,1240.0 L2457.3,1240.4 L2461.1,1240.8 L2464.9,1241.3 L2468.6,1241.8 L2472.4,1242.3 L2476.2,1242.9 L2479.9,1243.5 L2483.7,1244.1 L2487.5,1244.8 L2491.2,1245.5 L2495.0,1246.2 L2498.8,1247.0 L2502.6,1247.8 L2506.3,1248.6 L2510.1,1249.5 L2513.9,1250.4 L2517.6,1251.4 L2521.4,1252.3 L2525.2,1253.3 L2528.9,1254.4 L2532.7,1255.5 L2536.5,1256.6 L2540.2,1257.7 L2544.0,1258.9 L2547.8,1260.1 L2551.5,1261.3 L2555.3,1262.6 L2559.1,1263.9 L2562.8,1265.2 L2566.6,1266.6 L2570.4,1268.0 L2574.2,1269.4 L2577.9,1270.9 L2581.7,1272.3 L2585.5,1273.9 L2589.2,1275.4 L2593.0,1277.0 L2596.8,1278.6 L2600.5,1280.2 L2604.3,1281.9 L2608.1,1283.6 L2611.8,1285.3 L2615.6,1287.0 L2619.4,1288.8 L2623.1,1290.6 L2626.9,1292.4 L2630.7,1294.3 L2634.4,1296.2 L2638.2,1298.1 L2642.0,1300.0 L2645.7,1302.0 L2649.5,1304.0 L2653.3,1306.0 L2657.1,1308.0 L2660.8,1310.1 L2664.6,1312.2 L2668.4,1314.3 L2672.1,1316.5 L2675.9,1318.6 L2679.7,1320.8 L2683.4,1323.0 L2687.2,1325.2 L2691.0,1327.5 L2694.7,1329.8 L2698.5,1332.1 L2702.3,1334.4 L2706.0,1336.7 L2709.8,1339.1 L2713.6,1341.5 L2717.3,1343.9 L2721.1,1346.3 L2724.9,1348.7 L2728.6,1351.2 L2732.4,1353.6 L2736.2,1356.1 L2740.0,1358.7 L2743.7,1361.2 L2747.5,1363.7 L2751.3,1366.3 L2755.0,1368.9 L2758.8,1371.5 L2762.6,1374.1 L2766.3,1376.7 L2770.1,1379.4 L2773.9,1382.0 L2777.6,1384.7 L2781.4,1387.4 L2785.2,1390.1 L2788.9,1392.8 L2792.7,1395.5 L2796.5,1398.3 L2800.2,1401.0 L2804.0,1403.8 L2807.8,1406.5 L2811.5,1409.3 L2815.3,1412.1 L2819.1,1414.9 L2822.9,1417.7 L2826.6,1420.6 L2830.4,1423.4 L2834.2,1426.2 L2837.9,1429.1 L2841.7,1432.0 L2845.5,1434.8 L2849.2,1437.7 L2853.0,1440.6 L2856.8,1443.5 L2860.5,1446.4 L2864.3,1449.3 L2868.1,1452.2 L2871.8,1455.1 L2875.6,1458.0 L2879.4,1460.9 L2883.1,1463.8 L2886.9,1466.7 L2890.7,1469.7 L2894.5,1472.6 L2898.2,1475.5 L2902.0,1478.5 L2905.8,1481.4 L2909.5,1484.3 L2913.3,1487.3 L2917.1,1490.2 L2920.8,1493.1 L2924.6,1496.1 L2928.4,1499.0 L2932.1,1502.0 L2935.9,1504.9 L2939.7,1507.8 L2943.4,1510.7 L2947.2,1513.7 L2951.0,1516.6 L2954.7,1519.5 L2958.5,1522.4 L2962.3,1525.3 L2966.0,1528.3 L2969.8,1531.2 L2973.6,1534.1 L2977.4,1537.0 L2981.1,1539.8 L2984.9,1542.7 L2988.7,1545.6 L2992.4,1548.5 L2996.2,1551.3 L3000.0,1554.2 L3003.7,1557.0 L3007.5,1559.9 L3011.3,1562.7 L3015.0,1565.5 L3018.8,1568.3 L3022.6,1571.1 L3026.3,1573.9 L3030.1,1576.7 L3033.9,1579.5 L3037.6,1582.3 L3041.4,1585.0 L3045.2,1587.8 L3048.9,1590.5 L3052.7,1593.2 L3056.5,1595.9 L3060.3,1598.6 L3064.0,1601.3 L3067.8,1604.0 L3071.6,1606.6 L3075.3,1609.3 L3079.1,1611.9 L3082.9,1614.5 L3086.6,1617.1 L3090.4,1619.7 L3094.2,1622.3 L3097.9,1624.8 L3101.7,1627.4 L3105.5,1629.9 L3109.2,1632.4 L3113.0,1634.9 L3116.8,1637.4 L3120.5,1639.8 L3124.3,1642.3 L3128.1,1644.7 L3131.8,1647.1 L3135.6,1649.5 L3139.4,1651.9 L3143.2,1654.3 L3146.9,1656.6 L3150.7,1658.9 L3154.5,1661.2 L3158.2,1663.5 L3162.0,1665.8 L3165.8,1668.1 L3169.5,1670.3 L3173.3,1672.5 L3177.1,1674.7 L3180.8,1676.9 L3184.6,1679.0 L3188.4,1681.2 L3192.1,1683.3 L3195.9,1685.4 L3199.7,1687.5 L3203.4,1689.5 L3207.2,1691.6 L3211.0,1693.6 L3214.8,1695.6 L3218.5,1697.6 L3222.3,1699.5 L3226.1,1701.5 L3229.8,1703.4 L3233.6,1705.3 L3237.4,1707.1 L3241.1,1709.0 L3244.9,1710.8 L3248.7,1712.6 L3252.4,1714.4 L3256.2,1716.2 L3260.0,1717.9 L3263.7,1719.7 L3267.5,1721.4 L3271.3,1723.1 L3275.0,1724.7 L3278.8,1726.4 L3282.6,1728.0 L3286.3,1729.6 L3290.1,1731.2 L3293.9,1732.7 L3297.7,1734.2 L3301.4,1735.8 L3305.2,1737.2 L3309.0,1738.7 L3312.7,1740.2 L3316.5,1741.6 L3320.3,1743.0 L3324.0,1744.4 L3327.8,1745.7 L3331.6,1747.1 L3335.3,1748.4 L3339.1,1749.7 L3342.9,1750.9 L3346.6,1752.2 L3350.4,1753.4 L3354.2,1754.6 L3357.9,1755.8 L3361.7,1757.0 L3365.5,1758.1 L3369.2,1759.3 L3373.0,1760.4 L3376.8,1761.5 L3380.6,1762.5 L3384.3,1763.6 L3388.1,1764.6 L3391.9,1765.6 L3395.6,1766.6 L3399.4,1767.6 L3403.2,1768.5 L3406.9,1769.4 L3410.7,1770.3 L3414.5,1771.2 L3418.2,1772.1 L3422.0,1772.9 L3425.8,1773.7 L3429.5,1774.6 L3433.3,1775.3 L3437.1,1776.1 L3440.8,1776.9 L3444.6,1777.6 L3448.4,1778.3 L3452.2,1779.0 L3455.9,1779.7 L3459.7,1780.4 L3463.5,1781.0 L3467.2,1781.6 L3471.0,1782.2 L3474.8,1782.8 L3478.5,1783.4 L3482.3,1784.0 L3486.1,1784.5 L3489.8,1785.0 L3493.6,1785.5 L3497.4,1786.0 L3501.1,1786.5 L3504.9,1787.0 L3508.7,1787.4 L3512.4,1787.9 L3516.2,1788.3 L3520.0,1788.7 L3523.7,1789.1 L3527.5,1789.5 L3531.3,1789.8 L3535.1,1790.2 L3538.8,1790.5 L3542.6,1790.8 L3546.4,1791.1 L3550.1,1791.4 L3553.9,1791.7 L3557.7,1792.0 L3561.4,1792.3 L3565.2,1792.5 L3569.0,1792.7 L3572.7,1793.0 L3576.5,1793.2 L3580.3,1793.4 L3584.0,1793.6 L3587.8,1793.8 L3591.6,1793.9 L3595.3,1794.1 L3599.1,1794.3 L3602.9,1794.4 L3606.6,1794.6 L3610.4,1794.7 L3614.2,1794.8 L3618.0,1794.9 L3621.7,1795.0 L3625.5,1795.1 L3629.3,1795.2 L3633.0,1795.3 L3636.8,1795.4 L3640.6,1795.5 L3644.3,1795.5 L3648.1,1795.6 L3651.9,1795.6 L3655.6,1795.7 L3659.4,1795.7 L3663.2,1795.8 L3666.9,1795.8 L3670.7,1795.8 L3674.5,1795.9 L3678.2,1795.9 L3682.0,1795.9 L3685.8,1795.9 L3689.5,1796.0 L3693.3,1796.0 L3697.1,1796.0 L3700.9,1796.0 L3704.6,1796.0 L3708.4,1796.0 L3712.2,1796.0 L3715.9,1796.0 L3719.7,1796.0 L3723.5,1796.0 L3727.2,1796.0 L3731.0,1796.0 L3731.0,1796.0 L3727.2,1796.0 L3723.5,1796.0 L3719.7,1796.0 L3715.9,1796.0 L3712.2,1796.0 L3708.4,1796.0 L3704.6,1796.0 L3700.9,1796.0 L3697.1,1796.0 L3693.3,1796.0 L3689.5,1796.0 L3685.8,1795.9 L3682.0,1795.9 L3678.2,1795.9 L3674.5,1795.9 L3670.7,1795.9 L3666.9,1795.8 L3663.2,1795.8 L3659.4,1795.8 L3655.6,1795.7 L3651.9,1795.7 L3648.1,1795.6 L3644.3,1795.6 L3640.6,1795.5 L3636.8,1795.4 L3633.0,1795.4 L3629.3,1795.3 L3625.5,1795.2 L3621.7,1795.1 L3618.0,1795.0 L3614.2,1794.9 L3610.4,1794.8 L3606.6,1794.7 L3602.9,1794.6 L3599.1,1794.4 L3595.3,1794.3 L3591.6,1794.1 L3587.8,1794.0 L3584.0,1793.8 L3580.3,1793.6 L3576.5,1793.4 L3572.7,1793.2 L3569.0,1793.0 L3565.2,1792.8 L3561.4,1792.6 L3557.7,1792.3 L3553.9,1792.1 L3550.1,1791.8 L3546.4,1791.6 L3542.6,1791.3 L3538.8,1791.0 L3535.1,1790.7 L3531.3,1790.4 L3527.5,1790.0 L3523.7,1789.7 L3520.0,1789.3 L3516.2,1789.0 L3512.4,1788.6 L3508.7,1788.2 L3504.9,1787.8 L3501.1,1787.3 L3497.4,1786.9 L3493.6,1786.5 L3489.8,1786.0 L3486.1,1785.5 L3482.3,1785.0 L3478.5,1784.5 L3474.8,1784.0 L3471.0,1783.4 L3467.2,1782.9 L3463.5,1782.3 L3459.7,1781.7 L3455.9,1781.1 L3452.2,1780.5 L3448.4,1779.9 L3444.6,1779.2 L3440.8,1778.5 L3437.1,1777.9 L3433.3,1777.2 L3429.5,1776.4 L3425.8,1775.7 L3422.0,1774.9 L3418.2,1774.2 L3414.5,1773.4 L3410.7,1772.6 L3406.9,1771.8 L3403.2,1770.9 L3399.4,1770.1 L3395.6,1769.2 L3391.9,1768.3 L3388.1,1767.4 L3384.3,1766.4 L3380.6,1765.5 L3376.8,1764.5 L3373.0,1763.5 L3369.2,1762.5 L3365.5,1761.5 L3361.7,1760.4 L3357.9,1759.4 L3354.2,1758.3 L3350.4,1757.2 L3346.6,1756.0 L3342.9,1754.9 L3339.1,1753.7 L3335.3,1752.6 L3331.6,1751.4 L3327.8,1750.1 L3324.0,1748.9 L3320.3,1747.6 L3316.5,1746.4 L3312.7,1745.1 L3309.0,1743.7 L3305.2,1742.4 L3301.4,1741.0 L3297.7,1739.7 L3293.9,1738.3 L3290.1,1736.8 L3286.3,1735.4 L3282.6,1734.0 L3278.8,1732.5 L3275.0,1731.0 L3271.3,1729.5 L3267.5,1727.9 L3263.7,1726.4 L3260.0,1724.8 L3256.2,1723.2 L3252.4,1721.6 L3248.7,1720.0 L3244.9,1718.3 L3241.1,1716.6 L3237.4,1714.9 L3233.6,1713.2 L3229.8,1711.5 L3226.1,1709.8 L3222.3,1708.0 L3218.5,1706.2 L3214.8,1704.4 L3211.0,1702.6 L3207.2,1700.7 L3203.4,1698.9 L3199.7,1697.0 L3195.9,1695.1 L3192.1,1693.2 L3188.4,1691.3 L3184.6,1689.3 L3180.8,1687.3 L3177.1,1685.4 L3173.3,1683.4 L3169.5,1681.3 L3165.8,1679.3 L3162.0,1677.2 L3158.2,1675.2 L3154.5,1673.1 L3150.7,1671.0 L3146.9,1668.9 L3143.2,1666.7 L3139.4,1664.6 L3135.6,1662.4 L3131.8,1660.2 L3128.1,1658.0 L3124.3,1655.8 L3120.5,1653.6 L3116.8,1651.3 L3113.0,1649.0 L3109.2,1646.8 L3105.5,1644.5 L3101.7,1642.2 L3097.9,1639.9 L3094.2,1637.5 L3090.4,1635.2 L3086.6,1632.8 L3082.9,1630.4 L3079.1,1628.1 L3075.3,1625.7 L3071.6,1623.2 L3067.8,1620.8 L3064.0,1618.4 L3060.3,1615.9 L3056.5,1613.5 L3052.7,1611.0 L3048.9,1608.5 L3045.2,1606.0 L3041.4,1603.5 L3037.6,1601.0 L3033.9,1598.5 L3030.1,1596.0 L3026.3,1593.4 L3022.6,1590.9 L3018.8,1588.3 L3015.0,1585.8 L3011.3,1583.2 L3007.5,1580.6 L3003.7,1578.0 L3000.0,1575.4 L2996.2,1572.8 L2992.4,1570.2 L2988.7,1567.6 L2984.9,1565.0 L2981.1,1562.3 L2977.4,1559.7 L2973.6,1557.1 L2969.8,1554.4 L2966.0,1551.8 L2962.3,1549.1 L2958.5,1546.5 L2954.7,1543.8 L2951.0,1541.1 L2947.2,1538.5 L2943.4,1535.8 L2939.7,1533.1 L2935.9,1530.4 L2932.1,1527.8 L2928.4,1525.1 L2924.6,1522.4 L2920.8,1519.7 L2917.1,1517.1 L2913.3,1514.4 L2909.5,1511.7 L2905.8,1509.0 L2902.0,1506.3 L2898.2,1503.7 L2894.5,1501.0 L2890.7,1498.3 L2886.9,1495.7 L2883.1,1493.0 L2879.4,1490.3 L2875.6,1487.7 L2871.8,1485.0 L2868.1,1482.3 L2864.3,1479.7 L2860.5,1477.1 L2856.8,1474.4 L2853.0,1471.8 L2849.2,1469.2 L2845.5,1466.5 L2841.7,1463.9 L2837.9,1461.3 L2834.2,1458.7 L2830.4,1456.1 L2826.6,1453.5 L2822.9,1451.0 L2819.1,1448.4 L2815.3,1445.8 L2811.5,1443.3 L2807.8,1440.7 L2804.0,1438.2 L2800.2,1435.7 L2796.5,1433.2 L2792.7,1430.7 L2788.9,1428.2 L2785.2,1425.7 L2781.4,1423.3 L2777.6,1420.8 L2773.9,1418.4 L2770.1,1415.9 L2766.3,1413.5 L2762.6,1411.1 L2758.8,1408.8 L2755.0,1406.4 L2751.3,1404.0 L2747.5,1401.7 L2743.7,1399.4 L2740.0,1397.1 L2736.2,1394.8 L2732.4,1392.5 L2728.6,1390.2 L2724.9,1388.0 L2721.1,1385.8 L2717.3,1383.6 L2713.6,1381.4 L2709.8,1379.2 L2706.0,1377.0 L2702.3,1374.9 L2698.5,1372.8 L2694.7,1370.7 L2691.0,1368.6 L2687.2,1366.6 L2683.4,1364.5 L2679.7,1362.5 L2675.9,1360.5 L2672.1,1358.6 L2668.4,1356.6 L2664.6,1354.7 L2660.8,1352.8 L2657.1,1350.9 L2653.3,1349.0 L2649.5,1347.2 L2645.7,1345.4 L2642.0,1343.6 L2638.2,1341.8 L2634.4,1340.1 L2630.7,1338.4 L2626.9,1336.7 L2623.1,1335.0 L2619.4,1333.4 L2615.6,1331.7 L2611.8,1330.1 L2608.1,1328.6 L2604.3,1327.0 L2600.5,1325.5 L2596.8,1324.0 L2593.0,1322.6 L2589.2,1321.1 L2585.5,1319.7 L2581.7,1318.3 L2577.9,1317.0 L2574.2,1315.6 L2570.4,1314.3 L2566.6,1313.1 L2562.8,1311.8 L2559.1,1310.6 L2555.3,1309.4 L2551.5,1308.3 L2547.8,1307.1 L2544.0,1306.0 L2540.2,1305.0 L2536.5,1303.9 L2532.7,1302.9 L2528.9,1301.9 L2525.2,1301.0 L2521.4,1300.1 L2517.6,1299.2 L2513.9,1298.3 L2510.1,1297.5 L2506.3,1296.7 L2502.6,1295.9 L2498.8,1295.2 L2495.0,1294.5 L2491.2,1293.8 L2487.5,1293.2 L2483.7,1292.6 L2479.9,1292.0 L2476.2,1291.4 L2472.4,1290.9 L2468.6,1290.4 L2464.9,1290.0 L2461.1,1289.6 L2457.3,1289.2 L2453.6,1288.8 L2449.8,1288.5 L2446.0,1288.2 L2442.3,1287.9 L2438.5,1287.7 L2434.7,1287.5 L2431.0,1287.3 L2427.2,1287.2 L2423.4,1287.1 L2419.7,1287.0 L2415.9,1287.0 L2412.1,1287.0 L2408.3,1287.0 L2404.6,1287.1 L2400.8,1287.2 L2397.0,1287.3 L2393.3,1287.5 L2389.5,1287.7 L2385.7,1287.9 L2382.0,1288.2 L2378.2,1288.5 L2374.4,1288.8 L2370.7,1289.2 L2366.9,1289.6 L2363.1,1290.0 L2359.4,1290.4 L2355.6,1290.9 L2351.8,1291.4 L2348.1,1292.0 L2344.3,1292.6 L2340.5,1293.2 L2336.8,1293.8 L2333.0,1294.5 L2329.2,1295.2 L2325.4,1295.9 L2321.7,1296.7 L2317.9,1297.5 L2314.1,1298.3 L2310.4,1299.2 L2306.6,1300.1 L2302.8,1301.0 L2299.1,1301.9 L2295.3,1302.9 L2291.5,1303.9 L2287.8,1305.0 L2284.0,1306.0 L2280.2,1307.1 L2276.5,1308.3 L2272.7,1309.4 L2268.9,1310.6 L2265.2,1311.8 L2261.4,1313.1 L2257.6,1314.3 L2253.8,1315.6 L2250.1,1317.0 L2246.3,1318.3 L2242.5,1319.7 L2238.8,1321.1 L2235.0,1322.6 L2231.2,1324.0 L2227.5,1325.5 L2223.7,1327.0 L2219.9,1328.6 L2216.2,1330.1 L2212.4,1331.7 L2208.6,1333.4 L2204.9,1335.0 L2201.1,1336.7 L2197.3,1338.4 L2193.6,1340.1 L2189.8,1341.8 L2186.0,1343.6 L2182.3,1345.4 L2178.5,1347.2 L2174.7,1349.0 L2170.9,1350.9 L2167.2,1352.8 L2163.4,1354.7 L2159.6,1356.6 L2155.9,1358.6 L2152.1,1360.5 L2148.3,1362.5 L2144.6,1364.5 L2140.8,1366.6 L2137.0,1368.6 L2133.3,1370.7 L2129.5,1372.8 L2125.7,1374.9 L2122.0,1377.0 L2118.2,1379.2 L2114.4,1381.4 L2110.7,1383.6 L2106.9,1385.8 L2103.1,1388.0 L2099.4,1390.2 L2095.6,1392.5 L2091.8,1394.8 L2088.0,1397.1 L2084.3,1399.4 L2080.5,1401.7 L2076.7,1404.0 L2073.0,1406.4 L2069.2,1408.8 L2065.4,1411.1 L2061.7,1413.5 L2057.9,1415.9 L2054.1,1418.4 L2050.4,1420.8 L2046.6,1423.3 L2042.8,1425.7 L2039.1,1428.2 L2035.3,1430.7 L2031.5,1433.2 L2027.8,1435.7 L2024.0,1438.2 L2020.2,1440.7 L2016.5,1443.3 L2012.7,1445.8 L2008.9,1448.4 L2005.1,1451.0 L2001.4,1453.5 L1997.6,1456.1 L1993.8,1458.7 L1990.1,1461.3 L1986.3,1463.9 L1982.5,1466.5 L1978.8,1469.2 L1975.0,1471.8 L1971.2,1474.4 L1967.5,1477.1 L1963.7,1479.7 L1959.9,1482.3 L1956.2,1485.0 L1952.4,1487.7 L1948.6,1490.3 L1944.9,1493.0 L1941.1,1495.7 L1937.3,1498.3 L1933.5,1501.0 L1929.8,1503.7 L1926.0,1506.3 L1922.2,1509.0 L1918.5,1511.7 L1914.7,1514.4 L1910.9,1517.1 L1907.2,1519.7 L1903.4,1522.4 L1899.6,1525.1 L1895.9,1527.8 L1892.1,1530.4 L1888.3,1533.1 L1884.6,1535.8 L1880.8,1538.5 L1877.0,1541.1 L1873.3,1543.8 L1869.5,1546.5 L1865.7,1549.1 L1862.0,1551.8 L1858.2,1554.4 L1854.4,1557.1 L1850.6,1559.7 L1846.9,1562.3 L1843.1,1565.0 L1839.3,1567.6 L1835.6,1570.2 L1831.8,1572.8 L1828.0,1575.4 L1824.3,1578.0 L1820.5,1580.6 L1816.7,1583.2 L1813.0,1585.8 L1809.2,1588.3 L1805.4,1590.9 L1801.7,1593.4 L1797.9,1596.0 L1794.1,1598.5 L1790.4,1601.0 L1786.6,1603.5 L1782.8,1606.0 L1779.1,1608.5 L1775.3,1611.0 L1771.5,1613.5 L1767.7,1615.9 L1764.0,1618.4 L1760.2,1620.8 L1756.4,1623.2 L1752.7,1625.7 L1748.9,1628.1 L1745.1,1630.4 L1741.4,1632.8 L1737.6,1635.2 L1733.8,1637.5 L1730.1,1639.9 L1726.3,1642.2 L1722.5,1644.5 L1718.8,1646.8 L1715.0,1649.0 L1711.2,1651.3 L1707.5,1653.6 L1703.7,1655.8 L1699.9,1658.0 L1696.2,1660.2 L1692.4,1662.4 L1688.6,1664.6 L1684.8,1666.7 L1681.1,1668.9 L1677.3,1671.0 L1673.5,1673.1 L1669.8,1675.2 L1666.0,1677.2 L1662.2,1679.3 L1658.5,1681.3 L1654.7,1683.4 L1650.9,1685.4 L1647.2,1687.3 L1643.4,1689.3 L1639.6,1691.3 L1635.9,1693.2 L1632.1,1695.1 L1628.3,1697.0 L1624.6,1698.9 L1620.8,1700.7 L1617.0,1702.6 L1613.2,1704.4 L1609.5,1706.2 L1605.7,1708.0 L1601.9,1709.8 L1598.2,1711.5 L1594.4,1713.2 L1590.6,1714.9 L1586.9,1716.6 L1583.1,1718.3 L1579.3,1720.0 L1575.6,1721.6 L1571.8,1723.2 L1568.0,1724.8 L1564.3,1726.4 L1560.5,1727.9 L1556.7,1729.5 L1553.0,1731.0 L1549.2,1732.5 L1545.4,1734.0 L1541.7,1735.4 L1537.9,1736.8 L1534.1,1738.3 L1530.3,1739.7 L1526.6,1741.0 L1522.8,1742.4 L1519.0,1743.7 L1515.3,1745.1 L1511.5,1746.4 L1507.7,1747.6 L1504.0,1748.9 L1500.2,1750.1 L1496.4,1751.4 L1492.7,1752.6 L1488.9,1753.7 L1485.1,1754.9 L1481.4,1756.0 L1477.6,1757.2 L1473.8,1758.3 L1470.1,1759.4 L1466.3,1760.4 L1462.5,1761.5 L1458.8,1762.5 L1455.0,1763.5 L1451.2,1764.5 L1447.4,1765.5 L1443.7,1766.4 L1439.9,1767.4 L1436.1,1768.3 L1432.4,1769.2 L1428.6,1770.1 L1424.8,1770.9 L1421.1,1771.8 L1417.3,1772.6 L1413.5,1773.4 L1409.8,1774.2 L1406.0,1774.9 L1402.2,1775.7 L1398.5,1776.4 L1394.7,1777.2 L1390.9,1777.9 L1387.2,1778.5 L1383.4,1779.2 L1379.6,1779.9 L1375.8,1780.5 L1372.1,1781.1 L1368.3,1781.7 L1364.5,1782.3 L1360.8,1782.9 L1357.0,1783.4 L1353.2,1784.0 L1349.5,1784.5 L1345.7,1785.0 L1341.9,1785.5 L1338.2,1786.0 L1334.4,1786.5 L1330.6,1786.9 L1326.9,1787.3 L1323.1,1787.8 L1319.3,1788.2 L1315.6,1788.6 L1311.8,1789.0 L1308.0,1789.3 L1304.3,1789.7 L1300.5,1790.0 L1296.7,1790.4 L1292.9,1790.7 L1289.2,1791.0 L1285.4,1791.3 L1281.6,1791.6 L1277.9,1791.8 L1274.1,1792.1 L1270.3,1792.3 L1266.6,1792.6 L1262.8,1792.8 L1259.0,1793.0 L1255.3,1793.2 L1251.5,1793.4 L1247.7,1793.6 L1244.0,1793.8 L1240.2,1794.0 L1236.4,1794.1 L1232.7,1794.3 L1228.9,1794.4 L1225.1,1794.6 L1221.4,1794.7 L1217.6,1794.8 L1213.8,1794.9 L1210.0,1795.0 L1206.3,1795.1 L1202.5,1795.2 L1198.7,1795.3 L1195.0,1795.4 L1191.2,1795.4 L1187.4,1795.5 L1183.7,1795.6 L1179.9,1795.6 L1176.1,1795.7 L1172.4,1795.7 L1168.6,1795.8 L1164.8,1795.8 L1161.1,1795.8 L1157.3,1795.9 L1153.5,1795.9 L1149.8,1795.9 L1146.0,1795.9 L1142.2,1795.9 L1138.5,1796.0 L1134.7,1796.0 L1130.9,1796.0 L1127.1,1796.0 L1123.4,1796.0 L1119.6,1796.0 L1115.8,1796.0 L1112.1,1796.0 L1108.3,1796.0 L1104.5,1796.0 L1100.8,1796.0 L1097.0,1796.0 Z" fill="#ad5c55"/>
<path d="M1098.5,1796.0 L1102.3,1796.0 L1106.0,1796.0 L1109.8,1796.0 L1113.6,1796.0 L1117.3,1796.0 L1121.1,1796.0 L1124.8,1796.0 L1128.6,1796.0 L1132.4,1796.0 L1136.1,1795.9 L1139.9,1795.9 L1143.7,1795.9 L1147.4,1795.9 L1151.2,1795.8 L1154.9,1795.8 L1158.7,1795.7 L1162.5,1795.7 L1166.2,1795.6 L1170.0,1795.5 L1173.8,1795.5 L1177.5,1795.4 L1181.3,1795.3 L1185.0,1795.1 L1188.8,1795.0 L1192.6,1794.9 L1196.3,1794.7 L1200.1,1794.6 L1203.9,1794.4 L1207.6,1794.2 L1211.4,1793.9 L1215.1,1793.7 L1218.9,1793.5 L1222.7,1793.2 L1226.4,1792.9 L1230.2,1792.6 L1234.0,1792.2 L1237.7,1791.9 L1241.5,1791.5 L1245.2,1791.1 L1249.0,1790.7 L1252.8,1790.2 L1256.5,1789.8 L1260.3,1789.3 L1264.1,1788.7 L1267.8,1788.2 L1271.6,1787.6 L1275.3,1787.0 L1279.1,1786.3 L1282.9,1785.7 L1286.6,1785.0 L1290.4,1784.2 L1294.2,1783.4 L1297.9,1782.6 L1301.7,1781.8 L1305.4,1780.9 L1309.2,1780.0 L1313.0,1779.1 L1316.7,1778.1 L1320.5,1777.0 L1324.3,1776.0 L1328.0,1774.9 L1331.8,1773.7 L1335.5,1772.6 L1339.3,1771.3 L1343.1,1770.1 L1346.8,1768.8 L1350.6,1767.4 L1354.4,1766.0 L1358.1,1764.6 L1361.9,1763.1 L1365.6,1761.5 L1369.4,1760.0 L1373.2,1758.3 L1376.9,1756.7 L1380.7,1754.9 L1384.5,1753.2 L1388.2,1751.3 L1392.0,1749.5 L1395.7,1747.5 L1399.5,1745.6 L1403.3,1743.5 L1407.0,1741.4 L1410.8,1739.3 L1414.6,1737.1 L1418.3,1734.9 L1422.1,1732.6 L1425.8,1730.2 L1429.6,1727.8 L1433.4,1725.4 L1437.1,1722.8 L1440.9,1720.3 L1444.7,1717.6 L1448.4,1714.9 L1452.2,1712.2 L1455.9,1709.4 L1459.7,1706.5 L1463.5,1703.6 L1467.2,1700.6 L1471.0,1697.6 L1474.8,1694.5 L1478.5,1691.3 L1482.3,1688.1 L1486.0,1684.8 L1489.8,1681.4 L1493.6,1678.0 L1497.3,1674.5 L1501.1,1671.0 L1504.9,1667.4 L1508.6,1663.7 L1512.4,1660.0 L1516.1,1656.2 L1519.9,1652.4 L1523.7,1648.5 L1527.4,1644.5 L1531.2,1640.5 L1535.0,1636.4 L1538.7,1632.2 L1542.5,1628.0 L1546.2,1623.7 L1550.0,1619.3 L1553.8,1614.9 L1557.5,1610.4 L1561.3,1605.9 L1565.1,1601.2 L1568.8,1596.6 L1572.6,1591.8 L1576.3,1587.0 L1580.1,1582.2 L1583.9,1577.2 L1587.6,1572.2 L1591.4,1567.2 L1595.2,1562.0 L1598.9,1556.9 L1602.7,1551.6 L1606.4,1546.3 L1610.2,1540.9 L1614.0,1535.5 L1617.7,1530.0 L1621.5,1524.5 L1625.3,1518.8 L1629.0,1513.2 L1632.8,1507.4 L1636.5,1501.6 L1640.3,1495.8 L1644.1,1489.8 L1647.8,1483.9 L1651.6,1477.8 L1655.4,1471.7 L1659.1,1465.6 L1662.9,1459.4 L1666.6,1453.1 L1670.4,1446.8 L1674.2,1440.4 L1677.9,1433.9 L1681.7,1427.5 L1685.5,1420.9 L1689.2,1414.3 L1693.0,1407.6 L1696.7,1400.9 L1700.5,1394.2 L1704.3,1387.4 L1708.0,1380.5 L1711.8,1373.6 L1715.6,1366.6 L1719.3,1359.6 L1723.1,1352.5 L1726.8,1345.4 L1730.6,1338.2 L1734.4,1331.0 L1738.1,1323.8 L1741.9,1316.5 L1745.7,1309.1 L1749.4,1301.7 L1753.2,1294.3 L1756.9,1286.8 L1760.7,1279.3 L1764.5,1271.7 L1768.2,1264.1 L1772.0,1256.5 L1775.8,1248.8 L1779.5,1241.1 L1783.3,1233.4 L1787.0,1225.6 L1790.8,1217.7 L1794.6,1209.9 L1798.3,1202.0 L1802.1,1194.1 L1805.9,1186.1 L1809.6,1178.1 L1813.4,1170.1 L1817.1,1162.1 L1820.9,1154.0 L1824.7,1145.9 L1828.4,1137.8 L1832.2,1129.6 L1836.0,1121.5 L1839.7,1113.3 L1843.5,1105.1 L1847.2,1096.8 L1851.0,1088.6 L1854.8,1080.3 L1858.5,1072.0 L1862.3,1063.7 L1866.1,1055.4 L1869.8,1047.0 L1873.6,1038.7 L1877.3,1030.3 L1881.1,1021.9 L1884.9,1013.6 L1888.6,1005.2 L1892.4,996.8 L1896.2,988.4 L1899.9,979.9 L1903.7,971.5 L1907.4,963.1 L1911.2,954.7 L1915.0,946.2 L1918.7,937.8 L1922.5,929.4 L1926.3,921.0 L1930.0,912.6 L1933.8,904.1 L1937.5,895.7 L1941.3,887.3 L1945.1,878.9 L1948.8,870.6 L1952.6,862.2 L1956.4,853.8 L1960.1,845.5 L1963.9,837.1 L1967.6,828.8 L1971.4,820.5 L1975.2,812.2 L1978.9,804.0 L1982.7,795.7 L1986.5,787.5 L1990.2,779.3 L1994.0,771.1 L1997.7,762.9 L2001.5,754.8 L2005.3,746.7 L2009.0,738.6 L2012.8,730.6 L2016.6,722.6 L2020.3,714.6 L2024.1,706.6 L2027.8,698.7 L2031.6,690.8 L2035.4,683.0 L2039.1,675.2 L2042.9,667.4 L2046.7,659.7 L2050.4,652.0 L2054.2,644.3 L2057.9,636.7 L2061.7,629.1 L2065.5,621.6 L2069.2,614.1 L2073.0,606.7 L2076.8,599.3 L2080.5,592.0 L2084.3,584.7 L2088.0,577.5 L2091.8,570.3 L2095.6,563.2 L2099.3,556.1 L2103.1,549.1 L2106.9,542.2 L2110.6,535.3 L2114.4,528.5 L2118.1,521.7 L2121.9,515.0 L2125.7,508.3 L2129.4,501.7 L2133.2,495.2 L2137.0,488.7 L2140.7,482.3 L2144.5,476.0 L2148.2,469.7 L2152.0,463.5 L2155.8,457.4 L2159.5,451.4 L2163.3,445.4 L2167.1,439.5 L2170.8,433.6 L2174.6,427.9 L2178.3,422.2 L2182.1,416.6 L2185.9,411.0 L2189.6,405.6 L2193.4,400.2 L2197.2,394.9 L2200.9,389.7 L2204.7,384.5 L2208.4,379.4 L2212.2,374.5 L2216.0,369.6 L2219.7,364.7 L2223.5,360.0 L2227.3,355.4 L2231.0,350.8 L2234.8,346.3 L2238.5,341.9 L2242.3,337.6 L2246.1,333.4 L2249.8,329.3 L2253.6,325.2 L2257.4,321.3 L2261.1,317.4 L2264.9,313.6 L2268.6,310.0 L2272.4,306.4 L2276.2,302.9 L2279.9,299.5 L2283.7,296.1 L2287.5,292.9 L2291.2,289.8 L2295.0,286.8 L2298.7,283.8 L2302.5,281.0 L2306.3,278.2 L2310.0,275.5 L2313.8,273.0 L2317.6,270.5 L2321.3,268.1 L2325.1,265.9 L2328.8,263.7 L2332.6,261.6 L2336.4,259.6 L2340.1,257.7 L2343.9,255.9 L2347.7,254.2 L2351.4,252.6 L2355.2,251.1 L2358.9,249.7 L2362.7,248.4 L2366.5,247.2 L2370.2,246.1 L2374.0,245.0 L2377.8,244.1 L2381.5,243.3 L2385.3,242.5 L2389.0,241.9 L2392.8,241.3 L2396.6,240.9 L2400.3,240.5 L2404.1,240.3 L2407.9,240.1 L2411.6,240.0 L2415.4,240.0 L2419.2,240.1 L2423.0,240.3 L2426.8,240.5 L2430.6,240.9 L2434.5,241.3 L2438.3,241.9 L2442.1,242.5 L2445.9,243.3 L2449.7,244.1 L2453.5,245.0 L2457.3,246.1 L2461.1,247.2 L2464.9,248.4 L2468.7,249.7 L2472.5,251.1 L2476.4,252.6 L2480.2,254.2 L2484.0,255.9 L2487.8,257.7 L2491.6,259.6 L2495.4,261.6 L2499.2,263.7 L2503.0,265.9 L2506.8,268.1 L2510.6,270.5 L2514.5,273.0 L2518.3,275.5 L2522.1,278.2 L2525.9,281.0 L2529.7,283.8 L2533.5,286.8 L2537.3,289.8 L2541.1,292.9 L2544.9,296.1 L2548.7,299.5 L2552.5,302.9 L2556.4,306.4 L2560.2,310.0 L2564.0,313.6 L2567.8,317.4 L2571.6,321.3 L2575.4,325.2 L2579.2,329.3 L2583.0,333.4 L2586.8,337.6 L2590.6,341.9 L2594.5,346.3 L2598.3,350.8 L2602.1,355.4 L2605.9,360.0 L2609.7,364.7 L2613.5,369.6 L2617.3,374.5 L2621.1,379.4 L2624.9,384.5 L2628.7,389.7 L2632.5,394.9 L2636.4,400.2 L2640.2,405.6 L2644.0,411.0 L2647.8,416.6 L2651.6,422.2 L2655.4,427.9 L2659.2,433.6 L2663.0,439.5 L2666.8,445.4 L2670.6,451.4 L2674.4,457.4 L2678.3,463.5 L2682.1,469.7 L2685.9,476.0 L2689.7,482.3 L2693.5,488.7 L2697.3,495.2 L2701.1,501.7 L2704.9,508.3 L2708.7,515.0 L2712.5,521.7 L2716.3,528.5 L2720.2,535.3 L2724.0,542.2 L2727.8,549.1 L2731.6,556.1 L2735.4,563.2 L2739.2,570.3 L2743.0,577.5 L2746.8,584.7 L2750.6,592.0 L2754.4,599.3 L2758.2,606.7 L2762.1,614.1 L2765.9,621.6 L2769.7,629.1 L2773.5,636.7 L2777.3,644.3 L2781.1,652.0 L2784.9,659.7 L2788.7,667.4 L2792.5,675.2 L2796.3,683.0 L2800.1,690.8 L2803.9,698.7 L2807.8,706.6 L2811.6,714.6 L2815.4,722.6 L2819.2,730.6 L2823.0,738.6 L2826.8,746.7 L2830.6,754.8 L2834.4,762.9 L2838.2,771.1 L2842.0,779.3 L2845.8,787.5 L2849.6,795.7 L2853.4,804.0 L2857.2,812.2 L2861.1,820.5 L2864.9,828.8 L2868.7,837.1 L2872.5,845.5 L2876.3,853.8 L2880.1,862.2 L2883.9,870.6 L2887.7,878.9 L2891.5,887.3 L2895.3,895.7 L2899.1,904.1 L2902.9,912.6 L2906.7,921.0 L2910.5,929.4 L2914.3,937.8 L2918.1,946.2 L2921.9,954.7 L2925.7,963.1 L2929.5,971.5 L2933.4,979.9 L2937.2,988.4 L2941.0,996.8 L2944.8,1005.2 L2948.6,1013.6 L2952.4,1021.9 L2956.2,1030.3 L2960.0,1038.7 L2963.8,1047.0 L2967.6,1055.4 L2971.4,1063.7 L2975.2,1072.0 L2979.0,1080.3 L2982.8,1088.6 L2986.6,1096.8 L2990.4,1105.1 L2994.2,1113.3 L2998.0,1121.5 L3001.8,1129.6 L3005.6,1137.8 L3009.4,1145.9 L3013.2,1154.0 L3017.0,1162.1 L3020.8,1170.1 L3024.6,1178.1 L3028.4,1186.1 L3032.2,1194.1 L3036.0,1202.0 L3039.8,1209.9 L3043.6,1217.7 L3047.4,1225.6 L3051.2,1233.4 L3055.0,1241.1 L3058.8,1248.8 L3062.6,1256.5 L3066.4,1264.1 L3070.2,1271.7 L3074.0,1279.3 L3077.8,1286.8 L3081.6,1294.3 L3085.3,1301.7 L3089.1,1309.1 L3092.9,1316.5 L3096.7,1323.8 L3100.5,1331.0 L3104.3,1338.2 L3108.1,1345.4 L3111.9,1352.5 L3115.7,1359.6 L3119.5,1366.6 L3123.3,1373.6 L3127.1,1380.5 L3130.8,1387.4 L3134.6,1394.2 L3138.4,1400.9 L3142.2,1407.6 L3146.0,1414.3 L3149.8,1420.9 L3153.6,1427.5 L3157.4,1433.9 L3161.2,1440.4 L3164.9,1446.8 L3168.7,1453.1 L3172.5,1459.4 L3176.3,1465.6 L3180.1,1471.7 L3183.9,1477.8 L3187.6,1483.9 L3191.4,1489.8 L3195.2,1495.8 L3199.0,1501.6 L3202.8,1507.4 L3206.5,1513.2 L3210.3,1518.8 L3214.1,1524.5 L3217.9,1530.0 L3221.7,1535.5 L3225.4,1540.9 L3229.2,1546.3 L3233.0,1551.6 L3236.8,1556.9 L3240.5,1562.0 L3244.3,1567.2 L3248.1,1572.2 L3251.9,1577.2 L3255.6,1582.2 L3259.4,1587.0 L3263.2,1591.8 L3266.9,1596.6 L3270.7,1601.2 L3274.5,1605.9 L3278.3,1610.4 L3282.0,1614.9 L3285.8,1619.3 L3289.6,1623.7 L3293.3,1628.0 L3297.1,1632.2 L3300.8,1636.4 L3304.6,1640.5 L3308.4,1644.5 L3312.1,1648.5 L3315.9,1652.4 L3319.6,1656.2 L3323.4,1660.0 L3327.2,1663.7 L3330.9,1667.4 L3334.7,1671.0 L3338.4,1674.5 L3342.2,1678.0 L3345.9,1681.4 L3349.7,1684.8 L3353.4,1688.1 L3357.2,1691.3 L3360.9,1694.5 L3364.7,1697.6 L3368.4,1700.6 L3372.2,1703.6 L3375.9,1706.5 L3379.7,1709.4 L3383.4,1712.2 L3387.1,1714.9 L3390.9,1717.6 L3394.6,1720.3 L3398.4,1722.8 L3402.1,1725.4 L3405.8,1727.8 L3409.6,1730.2 L3413.3,1732.6 L3417.0,1734.9 L3420.8,1737.1 L3424.5,1739.3 L3428.2,1741.4 L3432.0,1743.5 L3435.7,1745.6 L3439.4,1747.5 L3443.1,1749.5 L3446.9,1751.3 L3450.6,1753.2 L3454.3,1754.9 L3458.0,1756.7 L3461.7,1758.3 L3465.5,1760.0 L3469.2,1761.5 L3472.9,1763.1 L3476.6,1764.6 L3480.3,1766.0 L3484.0,1767.4 L3487.7,1768.8 L3491.4,1770.1 L3495.1,1771.3 L3498.9,1772.6 L3502.6,1773.7 L3506.3,1774.9 L3510.0,1776.0 L3513.7,1777.0 L3517.3,1778.1 L3521.0,1779.1 L3524.7,1780.0 L3528.4,1780.9 L3532.1,1781.8 L3535.8,1782.6 L3539.5,1783.4 L3543.2,1784.2 L3546.9,1785.0 L3550.5,1785.7 L3554.2,1786.3 L3557.9,1787.0 L3561.6,1787.6 L3565.3,1788.2 L3568.9,1788.7 L3572.6,1789.3 L3576.3,1789.8 L3579.9,1790.2 L3583.6,1790.7 L3587.3,1791.1 L3590.9,1791.5 L3594.6,1791.9 L3598.2,1792.2 L3601.9,1792.6 L3605.6,1792.9 L3609.2,1793.2 L3612.9,1793.5 L3616.5,1793.7 L3620.2,1793.9 L3623.8,1794.2 L3627.4,1794.4 L3631.1,1794.6 L3634.7,1794.7 L3638.4,1794.9 L3642.0,1795.0 L3645.6,1795.1 L3649.3,1795.3 L3652.9,1795.4 L3656.5,1795.5 L3660.1,1795.5 L3663.7,1795.6 L3667.4,1795.7 L3671.0,1795.7 L3674.6,1795.8 L3678.2,1795.8 L3681.8,1795.9 L3685.4,1795.9 L3689.0,1795.9 L3692.6,1795.9 L3696.2,1796.0 L3699.8,1796.0 L3703.4,1796.0 L3707.0,1796.0 L3710.6,1796.0 L3714.2,1796.0 L3717.8,1796.0 L3721.3,1796.0 L3724.9,1796.0 L3728.5,1796.0" fill="none" stroke="#b6007b" stroke-width="1.6" />
<path d="M1098.5,1796.0 L1102.3,1796.0 L1106.0,1796.0 L1109.8,1796.0 L1113.6,1796.0 L1117.3,1796.0 L1121.1,1796.0 L1124.8,1796.0 L1128.6,1796.0 L1132.4,1796.0 L1136.1,1795.9 L1139.9,1795.9 L1143.7,1795.9 L1147.4,1795.9 L1151.2,1795.8 L1154.9,1795.8 L1158.7,1795.8 L1162.5,1795.7 L1166.2,1795.6 L1170.0,1795.6 L1173.8,1795.5 L1177.5,1795.4 L1181.3,1795.3 L1185.0,1795.2 L1188.8,1795.1 L1192.6,1794.9 L1196.3,1794.8 L1200.1,1794.6 L1203.9,1794.4 L1207.6,1794.2 L1211.4,1794.0 L1215.1,1793.8 L1218.9,1793.6 L1222.7,1793.3 L1226.4,1793.0 L1230.2,1792.7 L1234.0,1792.4 L1237.7,1792.1 L1241.5,1791.7 L1245.2,1791.3 L1249.0,1790.9 L1252.8,1790.5 L1256.5,1790.0 L1260.3,1789.5 L1264.1,1789.0 L1267.8,1788.5 L1271.6,1787.9 L1275.3,1787.3 L1279.1,1786.7 L1282.9,1786.1 L1286.6,1785.4 L1290.4,1784.7 L1294.2,1783.9 L1297.9,1783.2 L1301.7,1782.4 L1305.4,1781.5 L1309.2,1780.6 L1313.0,1779.7 L1316.7,1778.8 L1320.5,1777.8 L1324.3,1776.8 L1328.0,1775.7 L1331.8,1774.6 L1335.5,1773.5 L1339.3,1772.3 L1343.1,1771.1 L1346.8,1769.8 L1350.6,1768.5 L1354.4,1767.2 L1358.1,1765.8 L1361.9,1764.4 L1365.6,1762.9 L1369.4,1761.4 L1373.2,1759.8 L1376.9,1758.2 L1380.7,1756.6 L1384.5,1754.9 L1388.2,1753.1 L1392.0,1751.3 L1395.7,1749.5 L1399.5,1747.6 L1403.3,1745.6 L1407.0,1743.6 L1410.8,1741.6 L1414.6,1739.5 L1418.3,1737.3 L1422.1,1735.1 L1425.8,1732.8 L1429.6,1730.5 L1433.4,1728.2 L1437.1,1725.7 L1440.9,1723.3 L1444.7,1720.7 L1448.4,1718.2 L1452.2,1715.5 L1455.9,1712.8 L1459.7,1710.1 L1463.5,1707.3 L1467.2,1704.4 L1471.0,1701.5 L1474.8,1698.5 L1478.5,1695.4 L1482.3,1692.3 L1486.0,1689.2 L1489.8,1686.0 L1493.6,1682.7 L1497.3,1679.4 L1501.1,1676.0 L1504.9,1672.5 L1508.6,1669.0 L1512.4,1665.4 L1516.1,1661.8 L1519.9,1658.1 L1523.7,1654.3 L1527.4,1650.5 L1531.2,1646.6 L1535.0,1642.7 L1538.7,1638.7 L1542.5,1634.6 L1546.2,1630.5 L1550.0,1626.3 L1553.8,1622.1 L1557.5,1617.8 L1561.3,1613.4 L1565.1,1609.0 L1568.8,1604.5 L1572.6,1599.9 L1576.3,1595.3 L1580.1,1590.6 L1583.9,1585.9 L1587.6,1581.1 L1591.4,1576.2 L1595.2,1571.3 L1598.9,1566.3 L1602.7,1561.3 L1606.4,1556.2 L1610.2,1551.1 L1614.0,1545.8 L1617.7,1540.6 L1621.5,1535.2 L1625.3,1529.8 L1629.0,1524.4 L1632.8,1518.9 L1636.5,1513.3 L1640.3,1507.7 L1644.1,1502.0 L1647.8,1496.2 L1651.6,1490.4 L1655.4,1484.6 L1659.1,1478.7 L1662.9,1472.7 L1666.6,1466.7 L1670.4,1460.6 L1674.2,1454.5 L1677.9,1448.3 L1681.7,1442.1 L1685.5,1435.8 L1689.2,1429.4 L1693.0,1423.0 L1696.7,1416.6 L1700.5,1410.1 L1704.3,1403.6 L1708.0,1397.0 L1711.8,1390.3 L1715.6,1383.6 L1719.3,1376.9 L1723.1,1370.1 L1726.8,1363.3 L1730.6,1356.4 L1734.4,1349.5 L1738.1,1342.5 L1741.9,1335.5 L1745.7,1328.4 L1749.4,1321.3 L1753.2,1314.2 L1756.9,1307.0 L1760.7,1299.8 L1764.5,1292.5 L1768.2,1285.2 L1772.0,1277.9 L1775.8,1270.5 L1779.5,1263.1 L1783.3,1255.7 L1787.0,1248.2 L1790.8,1240.7 L1794.6,1233.1 L1798.3,1225.6 L1802.1,1217.9 L1805.9,1210.3 L1809.6,1202.6 L1813.4,1194.9 L1817.1,1187.2 L1820.9,1179.5 L1824.7,1171.7 L1828.4,1163.9 L1832.2,1156.1 L1836.0,1148.2 L1839.7,1140.4 L1843.5,1132.5 L1847.2,1124.6 L1851.0,1116.6 L1854.8,1108.7 L1858.5,1100.7 L1862.3,1092.7 L1866.1,1084.7 L1869.8,1076.7 L1873.6,1068.7 L1877.3,1060.7 L1881.1,1052.6 L1884.9,1044.6 L1888.6,1036.5 L1892.4,1028.5 L1896.2,1020.4 L1899.9,1012.3 L1903.7,1004.2 L1907.4,996.1 L1911.2,988.0 L1915.0,979.9 L1918.7,971.8 L1922.5,963.8 L1926.3,955.7 L1930.0,947.6 L1933.8,939.5 L1937.5,931.4 L1941.3,923.4 L1945.1,915.3 L1948.8,907.3 L1952.6,899.2 L1956.4,891.2 L1960.1,883.2 L1963.9,875.2 L1967.6,867.2 L1971.4,859.2 L1975.2,851.2 L1978.9,843.3 L1982.7,835.4 L1986.5,827.5 L1990.2,819.6 L1994.0,811.7 L1997.7,803.9 L2001.5,796.1 L2005.3,788.3 L2009.0,780.6 L2012.8,772.8 L2016.6,765.1 L2020.3,757.5 L2024.1,749.8 L2027.8,742.2 L2031.6,734.6 L2035.4,727.1 L2039.1,719.6 L2042.9,712.1 L2046.7,704.7 L2050.4,697.3 L2054.2,690.0 L2057.9,682.7 L2061.7,675.4 L2065.5,668.2 L2069.2,661.0 L2073.0,653.9 L2076.8,646.8 L2080.5,639.8 L2084.3,632.8 L2088.0,625.8 L2091.8,618.9 L2095.6,612.1 L2099.3,605.3 L2103.1,598.6 L2106.9,591.9 L2110.6,585.3 L2114.4,578.7 L2118.1,572.2 L2121.9,565.8 L2125.7,559.4 L2129.4,553.0 L2133.2,546.8 L2137.0,540.6 L2140.7,534.4 L2144.5,528.3 L2148.2,522.3 L2152.0,516.4 L2155.8,510.5 L2159.5,504.7 L2163.3,498.9 L2167.1,493.3 L2170.8,487.7 L2174.6,482.1 L2178.3,476.7 L2182.1,471.3 L2185.9,465.9 L2189.6,460.7 L2193.4,455.5 L2197.2,450.4 L2200.9,445.4 L2204.7,440.5 L2208.4,435.6 L2212.2,430.8 L2216.0,426.1 L2219.7,421.5 L2223.5,417.0 L2227.3,412.5 L2231.0,408.1 L2234.8,403.8 L2238.5,399.6 L2242.3,395.5 L2246.1,391.4 L2249.8,387.4 L2253.6,383.5 L2257.4,379.8 L2261.1,376.0 L2264.9,372.4 L2268.6,368.9 L2272.4,365.4 L2276.2,362.1 L2279.9,358.8 L2283.7,355.6 L2287.5,352.5 L2291.2,349.5 L2295.0,346.6 L2298.7,343.8 L2302.5,341.0 L2306.3,338.4 L2310.0,335.8 L2313.8,333.4 L2317.6,331.0 L2321.3,328.7 L2325.1,326.5 L2328.8,324.4 L2332.6,322.4 L2336.4,320.5 L2340.1,318.7 L2343.9,317.0 L2347.7,315.4 L2351.4,313.8 L2355.2,312.4 L2358.9,311.0 L2362.7,309.8 L2366.5,308.6 L2370.2,307.5 L2374.0,306.5 L2377.8,305.6 L2381.5,304.8 L2385.3,304.1 L2389.0,303.5 L2392.8,303.0 L2396.6,302.6 L2400.3,302.2 L2404.1,302.0 L2407.9,301.8 L2411.6,301.7 L2415.4,301.7 L2419.2,301.8 L2423.0,302.0 L2426.8,302.2 L2430.6,302.6 L2434.5,303.0 L2438.3,303.5 L2442.1,304.1 L2445.9,304.8 L2449.7,305.6 L2453.5,306.5 L2457.3,307.5 L2461.1,308.6 L2464.9,309.8 L2468.7,311.0 L2472.5,312.4 L2476.4,313.8 L2480.2,315.4 L2484.0,317.0 L2487.8,318.7 L2491.6,320.5 L2495.4,322.4 L2499.2,324.4 L2503.0,326.5 L2506.8,328.7 L2510.6,331.0 L2514.5,333.4 L2518.3,335.8 L2522.1,338.4 L2525.9,341.0 L2529.7,343.8 L2533.5,346.6 L2537.3,349.5 L2541.1,352.5 L2544.9,355.6 L2548.7,358.8 L2552.5,362.1 L2556.4,365.4 L2560.2,368.9 L2564.0,372.4 L2567.8,376.0 L2571.6,379.8 L2575.4,383.5 L2579.2,387.4 L2583.0,391.4 L2586.8,395.5 L2590.6,399.6 L2594.5,403.8 L2598.3,408.1 L2602.1,412.5 L2605.9,417.0 L2609.7,421.5 L2613.5,426.1 L2617.3,430.8 L2621.1,435.6 L2624.9,440.5 L2628.7,445.4 L2632.5,450.4 L2636.4,455.5 L2640.2,460.7 L2644.0,465.9 L2647.8,471.3 L2651.6,476.7 L2655.4,482.1 L2659.2,487.7 L2663.0,493.3 L2666.8,498.9 L2670.6,504.7 L2674.4,510.5 L2678.3,516.4 L2682.1,522.3 L2685.9,528.3 L2689.7,534.4 L2693.5,540.6 L2697.3,546.8 L2701.1,553.0 L2704.9,559.4 L2708.7,565.8 L2712.5,572.2 L2716.3,578.7 L2720.2,585.3 L2724.0,591.9 L2727.8,598.6 L2731.6,605.3 L2735.4,612.1 L2739.2,618.9 L2743.0,625.8 L2746.8,632.8 L2750.6,639.8 L2754.4,646.8 L2758.2,653.9 L2762.1,661.0 L2765.9,668.2 L2769.7,675.4 L2773.5,682.7 L2777.3,690.0 L2781.1,697.3 L2784.9,704.7 L2788.7,712.1 L2792.5,719.6 L2796.3,727.1 L2800.1,734.6 L2803.9,742.2 L2807.8,749.8 L2811.6,757.5 L2815.4,765.1 L2819.2,772.8 L2823.0,780.6 L2826.8,788.3 L2830.6,796.1 L2834.4,803.9 L2838.2,811.7 L2842.0,819.6 L2845.8,827.5 L2849.6,835.4 L2853.4,843.3 L2857.2,851.2 L2861.1,859.2 L2864.9,867.2 L2868.7,875.2 L2872.5,883.2 L2876.3,891.2 L2880.1,899.2 L2883.9,907.3 L2887.7,915.3 L2891.5,923.4 L2895.3,931.4 L2899.1,939.5 L2902.9,947.6 L2906.7,955.7 L2910.5,963.8 L2914.3,971.8 L2918.1,979.9 L2921.9,988.0 L2925.7,996.1 L2929.5,1004.2 L2933.4,1012.3 L2937.2,1020.4 L2941.0,1028.5 L2944.8,1036.5 L2948.6,1044.6 L2952.4,1052.6 L2956.2,1060.7 L2960.0,1068.7 L2963.8,1076.7 L2967.6,1084.7 L2971.4,1092.7 L2975.2,1100.7 L2979.0,1108.7 L2982.8,1116.6 L2986.6,1124.6 L2990.4,1132.5 L2994.2,1140.4 L2998.0,1148.2 L3001.8,1156.1 L3005.6,1163.9 L3009.4,1171.7 L3013.2,1179.5 L3017.0,1187.2 L3020.8,1194.9 L3024.6,1202.6 L3028.4,1210.3 L3032.2,1217.9 L3036.0,1225.6 L3039.8,1233.1 L3043.6,1240.7 L3047.4,1248.2 L3051.2,1255.7 L3055.0,1263.1 L3058.8,1270.5 L3062.6,1277.9 L3066.4,1285.2 L3070.2,1292.5 L3074.0,1299.8 L3077.8,1307.0 L3081.6,1314.2 L3085.3,1321.3 L3089.1,1328.4 L3092.9,1335.5 L3096.7,1342.5 L3100.5,1349.5 L3104.3,1356.4 L3108.1,1363.3 L3111.9,1370.1 L3115.7,1376.9 L3119.5,1383.6 L3123.3,1390.3 L3127.1,1397.0 L3130.8,1403.6 L3134.6,1410.1 L3138.4,1416.6 L3142.2,1423.0 L3146.0,1429.4 L3149.8,1435.8 L3153.6,1442.1 L3157.4,1448.3 L3161.2,1454.5 L3164.9,1460.6 L3168.7,1466.7 L3172.5,1472.7 L3176.3,1478.7 L3180.1,1484.6 L3183.9,1490.4 L3187.6,1496.2 L3191.4,1502.0 L3195.2,1507.7 L3199.0,1513.3 L3202.8,1518.9 L3206.5,1524.4 L3210.3,1529.8 L3214.1,1535.2 L3217.9,1540.6 L3221.7,1545.8 L3225.4,1551.1 L3229.2,1556.2 L3233.0,1561.3 L3236.8,1566.3 L3240.5,1571.3 L3244.3,1576.2 L3248.1,1581.1 L3251.9,1585.9 L3255.6,1590.6 L3259.4,1595.3 L3263.2,1599.9 L3266.9,1604.5 L3270.7,1609.0 L3274.5,1613.4 L3278.3,1617.8 L3282.0,1622.1 L3285.8,1626.3 L3289.6,1630.5 L3293.3,1634.6 L3297.1,1638.7 L3300.8,1642.7 L3304.6,1646.6 L3308.4,1650.5 L3312.1,1654.3 L3315.9,1658.1 L3319.6,1661.8 L3323.4,1665.4 L3327.2,1669.0 L3330.9,1672.5 L3334.7,1676.0 L3338.4,1679.4 L3342.2,1682.7 L3345.9,1686.0 L3349.7,1689.2 L3353.4,1692.3 L3357.2,1695.4 L3360.9,1698.5 L3364.7,1701.5 L3368.4,1704.4 L3372.2,1707.3 L3375.9,1710.1 L3379.7,1712.8 L3383.4,1715.5 L3387.1,1718.2 L3390.9,1720.7 L3394.6,1723.3 L3398.4,1725.7 L3402.1,1728.2 L3405.8,1730.5 L3409.6,1732.8 L3413.3,1735.1 L3417.0,1737.3 L3420.8,1739.5 L3424.5,1741.6 L3428.2,1743.6 L3432.0,1745.6 L3435.7,1747.6 L3439.4,1749.5 L3443.1,1751.3 L3446.9,1753.1 L3450.6,1754.9 L3454.3,1756.6 L3458.0,1758.2 L3461.7,1759.8 L3465.5,1761.4 L3469.2,1762.9 L3472.9,1764.4 L3476.6,1765.8 L3480.3,1767.2 L3484.0,1768.5 L3487.7,1769.8 L3491.4,1771.1 L3495.1,1772.3 L3498.9,1773.5 L3502.6,1774.6 L3506.3,1775.7 L3510.0,1776.8 L3513.7,1777.8 L3517.3,1778.8 L3521.0,1779.7 L3524.7,1780.6 L3528.4,1781.5 L3532.1,1782.4 L3535.8,1783.2 L3539.5,1783.9 L3543.2,1784.7 L3546.9,1785.4 L3550.5,1786.1 L3554.2,1786.7 L3557.9,1787.3 L3561.6,1787.9 L3565.3,1788.5 L3568.9,1789.0 L3572.6,1789.5 L3576.3,1790.0 L3579.9,1790.5 L3583.6,1790.9 L3587.3,1791.3 L3590.9,1791.7 L3594.6,1792.1 L3598.2,1792.4 L3601.9,1792.7 L3605.6,1793.0 L3609.2,1793.3 L3612.9,1793.6 L3616.5,1793.8 L3620.2,1794.0 L3623.8,1794.2 L3627.4,1794.4 L3631.1,1794.6 L3634.7,1794.8 L3638.4,1794.9 L3642.0,1795.1 L3645.6,1795.2 L3649.3,1795.3 L3652.9,1795.4 L3656.5,1795.5 L3660.1,1795.6 L3663.7,1795.6 L3667.4,1795.7 L3671.0,1795.8 L3674.6,1795.8 L3678.2,1795.8 L3681.8,1795.9 L3685.4,1795.9 L3689.0,1795.9 L3692.6,1795.9 L3696.2,1796.0 L3699.8,1796.0 L3703.4,1796.0 L3707.0,1796.0 L3710.6,1796.0 L3714.2,1796.0 L3717.8,1796.0 L3721.3,1796.0 L3724.9,1796.0 L3728.5,1796.0" fill="none" stroke="#b6007b" stroke-width="9.5" />
<path d="M1098.5,1796.0 L1102.3,1796.0 L1106.0,1796.0 L1109.8,1796.0 L1113.6,1796.0 L1117.3,1796.0 L1121.1,1796.0 L1124.8,1796.0 L1128.6,1796.0 L1132.4,1796.0 L1136.1,1796.0 L1139.9,1795.9 L1143.7,1795.9 L1147.4,1795.9 L1151.2,1795.9 L1154.9,1795.8 L1158.7,1795.8 L1162.5,1795.7 L1166.2,1795.7 L1170.0,1795.6 L1173.8,1795.5 L1177.5,1795.4 L1181.3,1795.3 L1185.0,1795.2 L1188.8,1795.1 L1192.6,1795.0 L1196.3,1794.9 L1200.1,1794.7 L1203.9,1794.5 L1207.6,1794.4 L1211.4,1794.2 L1215.1,1794.0 L1218.9,1793.7 L1222.7,1793.5 L1226.4,1793.2 L1230.2,1793.0 L1234.0,1792.7 L1237.7,1792.4 L1241.5,1792.0 L1245.2,1791.7 L1249.0,1791.3 L1252.8,1790.9 L1256.5,1790.5 L1260.3,1790.0 L1264.1,1789.5 L1267.8,1789.1 L1271.6,1788.5 L1275.3,1788.0 L1279.1,1787.4 L1282.9,1786.8 L1286.6,1786.2 L1290.4,1785.5 L1294.2,1784.8 L1297.9,1784.1 L1301.7,1783.4 L1305.4,1782.6 L1309.2,1781.8 L1313.0,1781.0 L1316.7,1780.1 L1320.5,1779.2 L1324.3,1778.2 L1328.0,1777.3 L1331.8,1776.2 L1335.5,1775.2 L1339.3,1774.1 L1343.1,1773.0 L1346.8,1771.8 L1350.6,1770.6 L1354.4,1769.4 L1358.1,1768.1 L1361.9,1766.8 L1365.6,1765.4 L1369.4,1764.0 L1373.2,1762.6 L1376.9,1761.1 L1380.7,1759.5 L1384.5,1758.0 L1388.2,1756.3 L1392.0,1754.7 L1395.7,1753.0 L1399.5,1751.2 L1403.3,1749.4 L1407.0,1747.6 L1410.8,1745.7 L1414.6,1743.7 L1418.3,1741.7 L1422.1,1739.7 L1425.8,1737.6 L1429.6,1735.5 L1433.4,1733.3 L1437.1,1731.1 L1440.9,1728.8 L1444.7,1726.4 L1448.4,1724.0 L1452.2,1721.6 L1455.9,1719.1 L1459.7,1716.6 L1463.5,1714.0 L1467.2,1711.3 L1471.0,1708.6 L1474.8,1705.8 L1478.5,1703.0 L1482.3,1700.2 L1486.0,1697.3 L1489.8,1694.3 L1493.6,1691.2 L1497.3,1688.2 L1501.1,1685.0 L1504.9,1681.8 L1508.6,1678.6 L1512.4,1675.3 L1516.1,1671.9 L1519.9,1668.5 L1523.7,1665.0 L1527.4,1661.5 L1531.2,1657.9 L1535.0,1654.3 L1538.7,1650.6 L1542.5,1646.8 L1546.2,1643.0 L1550.0,1639.1 L1553.8,1635.2 L1557.5,1631.2 L1561.3,1627.2 L1565.1,1623.1 L1568.8,1618.9 L1572.6,1614.7 L1576.3,1610.5 L1580.1,1606.1 L1583.9,1601.8 L1587.6,1597.3 L1591.4,1592.8 L1595.2,1588.3 L1598.9,1583.7 L1602.7,1579.0 L1606.4,1574.3 L1610.2,1569.6 L1614.0,1564.7 L1617.7,1559.9 L1621.5,1554.9 L1625.3,1549.9 L1629.0,1544.9 L1632.8,1539.8 L1636.5,1534.7 L1640.3,1529.5 L1644.1,1524.2 L1647.8,1518.9 L1651.6,1513.5 L1655.4,1508.1 L1659.1,1502.7 L1662.9,1497.1 L1666.6,1491.6 L1670.4,1486.0 L1674.2,1480.3 L1677.9,1474.6 L1681.7,1468.8 L1685.5,1463.0 L1689.2,1457.1 L1693.0,1451.2 L1696.7,1445.3 L1700.5,1439.3 L1704.3,1433.2 L1708.0,1427.1 L1711.8,1421.0 L1715.6,1414.8 L1719.3,1408.6 L1723.1,1402.3 L1726.8,1396.0 L1730.6,1389.6 L1734.4,1383.2 L1738.1,1376.8 L1741.9,1370.3 L1745.7,1363.8 L1749.4,1357.2 L1753.2,1350.6 L1756.9,1344.0 L1760.7,1337.3 L1764.5,1330.6 L1768.2,1323.8 L1772.0,1317.0 L1775.8,1310.2 L1779.5,1303.4 L1783.3,1296.5 L1787.0,1289.6 L1790.8,1282.6 L1794.6,1275.7 L1798.3,1268.7 L1802.1,1261.6 L1805.9,1254.6 L1809.6,1247.5 L1813.4,1240.4 L1817.1,1233.2 L1820.9,1226.0 L1824.7,1218.9 L1828.4,1211.6 L1832.2,1204.4 L1836.0,1197.2 L1839.7,1189.9 L1843.5,1182.6 L1847.2,1175.3 L1851.0,1168.0 L1854.8,1160.6 L1858.5,1153.2 L1862.3,1145.9 L1866.1,1138.5 L1869.8,1131.1 L1873.6,1123.7 L1877.3,1116.2 L1881.1,1108.8 L1884.9,1101.4 L1888.6,1093.9 L1892.4,1086.4 L1896.2,1079.0 L1899.9,1071.5 L1903.7,1064.0 L1907.4,1056.6 L1911.2,1049.1 L1915.0,1041.6 L1918.7,1034.1 L1922.5,1026.6 L1926.3,1019.2 L1930.0,1011.7 L1933.8,1004.2 L1937.5,996.8 L1941.3,989.3 L1945.1,981.8 L1948.8,974.4 L1952.6,967.0 L1956.4,959.5 L1960.1,952.1 L1963.9,944.7 L1967.6,937.3 L1971.4,930.0 L1975.2,922.6 L1978.9,915.3 L1982.7,908.0 L1986.5,900.6 L1990.2,893.4 L1994.0,886.1 L1997.7,878.9 L2001.5,871.6 L2005.3,864.4 L2009.0,857.3 L2012.8,850.1 L2016.6,843.0 L2020.3,835.9 L2024.1,828.9 L2027.8,821.8 L2031.6,814.8 L2035.4,807.9 L2039.1,800.9 L2042.9,794.0 L2046.7,787.2 L2050.4,780.3 L2054.2,773.5 L2057.9,766.8 L2061.7,760.1 L2065.5,753.4 L2069.2,746.8 L2073.0,740.2 L2076.8,733.6 L2080.5,727.1 L2084.3,720.7 L2088.0,714.2 L2091.8,707.9 L2095.6,701.5 L2099.3,695.3 L2103.1,689.1 L2106.9,682.9 L2110.6,676.8 L2114.4,670.7 L2118.1,664.7 L2121.9,658.7 L2125.7,652.8 L2129.4,647.0 L2133.2,641.2 L2137.0,635.4 L2140.7,629.7 L2144.5,624.1 L2148.2,618.6 L2152.0,613.1 L2155.8,607.6 L2159.5,602.3 L2163.3,596.9 L2167.1,591.7 L2170.8,586.5 L2174.6,581.4 L2178.3,576.3 L2182.1,571.4 L2185.9,566.4 L2189.6,561.6 L2193.4,556.8 L2197.2,552.1 L2200.9,547.5 L2204.7,542.9 L2208.4,538.4 L2212.2,534.0 L2216.0,529.6 L2219.7,525.3 L2223.5,521.1 L2227.3,517.0 L2231.0,513.0 L2234.8,509.0 L2238.5,505.1 L2242.3,501.3 L2246.1,497.5 L2249.8,493.9 L2253.6,490.3 L2257.4,486.8 L2261.1,483.3 L2264.9,480.0 L2268.6,476.7 L2272.4,473.5 L2276.2,470.4 L2279.9,467.4 L2283.7,464.4 L2287.5,461.6 L2291.2,458.8 L2295.0,456.1 L2298.7,453.5 L2302.5,451.0 L2306.3,448.5 L2310.0,446.2 L2313.8,443.9 L2317.6,441.7 L2321.3,439.6 L2325.1,437.6 L2328.8,435.6 L2332.6,433.8 L2336.4,432.0 L2340.1,430.3 L2343.9,428.7 L2347.7,427.2 L2351.4,425.8 L2355.2,424.5 L2358.9,423.2 L2362.7,422.0 L2366.5,421.0 L2370.2,420.0 L2374.0,419.1 L2377.8,418.2 L2381.5,417.5 L2385.3,416.9 L2389.0,416.3 L2392.8,415.8 L2396.6,415.4 L2400.3,415.1 L2404.1,414.8 L2407.9,414.7 L2411.6,414.6 L2415.4,414.6 L2419.2,414.7 L2423.0,414.8 L2426.8,415.1 L2430.6,415.4 L2434.5,415.8 L2438.3,416.3 L2442.1,416.9 L2445.9,417.5 L2449.7,418.2 L2453.5,419.1 L2457.3,420.0 L2461.1,421.0 L2464.9,422.0 L2468.7,423.2 L2472.5,424.5 L2476.4,425.8 L2480.2,427.2 L2484.0,428.7 L2487.8,430.3 L2491.6,432.0 L2495.4,433.8 L2499.2,435.6 L2503.0,437.6 L2506.8,439.6 L2510.6,441.7 L2514.5,443.9 L2518.3,446.2 L2522.1,448.5 L2525.9,451.0 L2529.7,453.5 L2533.5,456.1 L2537.3,458.8 L2541.1,461.6 L2544.9,464.4 L2548.7,467.4 L2552.5,470.4 L2556.4,473.5 L2560.2,476.7 L2564.0,480.0 L2567.8,483.3 L2571.6,486.8 L2575.4,490.3 L2579.2,493.9 L2583.0,497.5 L2586.8,501.3 L2590.6,505.1 L2594.5,509.0 L2598.3,513.0 L2602.1,517.0 L2605.9,521.1 L2609.7,525.3 L2613.5,529.6 L2617.3,534.0 L2621.1,538.4 L2624.9,542.9 L2628.7,547.5 L2632.5,552.1 L2636.4,556.8 L2640.2,561.6 L2644.0,566.4 L2647.8,571.4 L2651.6,576.3 L2655.4,581.4 L2659.2,586.5 L2663.0,591.7 L2666.8,596.9 L2670.6,602.3 L2674.4,607.6 L2678.3,613.1 L2682.1,618.6 L2685.9,624.1 L2689.7,629.7 L2693.5,635.4 L2697.3,641.2 L2701.1,647.0 L2704.9,652.8 L2708.7,658.7 L2712.5,664.7 L2716.3,670.7 L2720.2,676.8 L2724.0,682.9 L2727.8,689.1 L2731.6,695.3 L2735.4,701.5 L2739.2,707.9 L2743.0,714.2 L2746.8,720.7 L2750.6,727.1 L2754.4,733.6 L2758.2,740.2 L2762.1,746.8 L2765.9,753.4 L2769.7,760.1 L2773.5,766.8 L2777.3,773.5 L2781.1,780.3 L2784.9,787.2 L2788.7,794.0 L2792.5,800.9 L2796.3,807.9 L2800.1,814.8 L2803.9,821.8 L2807.8,828.9 L2811.6,835.9 L2815.4,843.0 L2819.2,850.1 L2823.0,857.3 L2826.8,864.4 L2830.6,871.6 L2834.4,878.9 L2838.2,886.1 L2842.0,893.4 L2845.8,900.6 L2849.6,908.0 L2853.4,915.3 L2857.2,922.6 L2861.1,930.0 L2864.9,937.3 L2868.7,944.7 L2872.5,952.1 L2876.3,959.5 L2880.1,967.0 L2883.9,974.4 L2887.7,981.8 L2891.5,989.3 L2895.3,996.8 L2899.1,1004.2 L2902.9,1011.7 L2906.7,1019.2 L2910.5,1026.6 L2914.3,1034.1 L2918.1,1041.6 L2921.9,1049.1 L2925.7,1056.6 L2929.5,1064.0 L2933.4,1071.5 L2937.2,1079.0 L2941.0,1086.4 L2944.8,1093.9 L2948.6,1101.4 L2952.4,1108.8 L2956.2,1116.2 L2960.0,1123.7 L2963.8,1131.1 L2967.6,1138.5 L2971.4,1145.9 L2975.2,1153.2 L2979.0,1160.6 L2982.8,1168.0 L2986.6,1175.3 L2990.4,1182.6 L2994.2,1189.9 L2998.0,1197.2 L3001.8,1204.4 L3005.6,1211.6 L3009.4,1218.9 L3013.2,1226.0 L3017.0,1233.2 L3020.8,1240.4 L3024.6,1247.5 L3028.4,1254.6 L3032.2,1261.6 L3036.0,1268.7 L3039.8,1275.7 L3043.6,1282.6 L3047.4,1289.6 L3051.2,1296.5 L3055.0,1303.4 L3058.8,1310.2 L3062.6,1317.0 L3066.4,1323.8 L3070.2,1330.6 L3074.0,1337.3 L3077.8,1344.0 L3081.6,1350.6 L3085.3,1357.2 L3089.1,1363.8 L3092.9,1370.3 L3096.7,1376.8 L3100.5,1383.2 L3104.3,1389.6 L3108.1,1396.0 L3111.9,1402.3 L3115.7,1408.6 L3119.5,1414.8 L3123.3,1421.0 L3127.1,1427.1 L3130.8,1433.2 L3134.6,1439.3 L3138.4,1445.3 L3142.2,1451.2 L3146.0,1457.1 L3149.8,1463.0 L3153.6,1468.8 L3157.4,1474.6 L3161.2,1480.3 L3164.9,1486.0 L3168.7,1491.6 L3172.5,1497.1 L3176.3,1502.7 L3180.1,1508.1 L3183.9,1513.5 L3187.6,1518.9 L3191.4,1524.2 L3195.2,1529.5 L3199.0,1534.7 L3202.8,1539.8 L3206.5,1544.9 L3210.3,1549.9 L3214.1,1554.9 L3217.9,1559.9 L3221.7,1564.7 L3225.4,1569.6 L3229.2,1574.3 L3233.0,1579.0 L3236.8,1583.7 L3240.5,1588.3 L3244.3,1592.8 L3248.1,1597.3 L3251.9,1601.8 L3255.6,1606.1 L3259.4,1610.5 L3263.2,1614.7 L3266.9,1618.9 L3270.7,1623.1 L3274.5,1627.2 L3278.3,1631.2 L3282.0,1635.2 L3285.8,1639.1 L3289.6,1643.0 L3293.3,1646.8 L3297.1,1650.6 L3300.8,1654.3 L3304.6,1657.9 L3308.4,1661.5 L3312.1,1665.0 L3315.9,1668.5 L3319.6,1671.9 L3323.4,1675.3 L3327.2,1678.6 L3330.9,1681.8 L3334.7,1685.0 L3338.4,1688.2 L3342.2,1691.2 L3345.9,1694.3 L3349.7,1697.3 L3353.4,1700.2 L3357.2,1703.0 L3360.9,1705.8 L3364.7,1708.6 L3368.4,1711.3 L3372.2,1714.0 L3375.9,1716.6 L3379.7,1719.1 L3383.4,1721.6 L3387.1,1724.0 L3390.9,1726.4 L3394.6,1728.8 L3398.4,1731.1 L3402.1,1733.3 L3405.8,1735.5 L3409.6,1737.6 L3413.3,1739.7 L3417.0,1741.7 L3420.8,1743.7 L3424.5,1745.7 L3428.2,1747.6 L3432.0,1749.4 L3435.7,1751.2 L3439.4,1753.0 L3443.1,1754.7 L3446.9,1756.3 L3450.6,1758.0 L3454.3,1759.5 L3458.0,1761.1 L3461.7,1762.6 L3465.5,1764.0 L3469.2,1765.4 L3472.9,1766.8 L3476.6,1768.1 L3480.3,1769.4 L3484.0,1770.6 L3487.7,1771.8 L3491.4,1773.0 L3495.1,1774.1 L3498.9,1775.2 L3502.6,1776.2 L3506.3,1777.3 L3510.0,1778.2 L3513.7,1779.2 L3517.3,1780.1 L3521.0,1781.0 L3524.7,1781.8 L3528.4,1782.6 L3532.1,1783.4 L3535.8,1784.1 L3539.5,1784.8 L3543.2,1785.5 L3546.9,1786.2 L3550.5,1786.8 L3554.2,1787.4 L3557.9,1788.0 L3561.6,1788.5 L3565.3,1789.1 L3568.9,1789.5 L3572.6,1790.0 L3576.3,1790.5 L3579.9,1790.9 L3583.6,1791.3 L3587.3,1791.7 L3590.9,1792.0 L3594.6,1792.4 L3598.2,1792.7 L3601.9,1793.0 L3605.6,1793.2 L3609.2,1793.5 L3612.9,1793.7 L3616.5,1794.0 L3620.2,1794.2 L3623.8,1794.4 L3627.4,1794.5 L3631.1,1794.7 L3634.7,1794.9 L3638.4,1795.0 L3642.0,1795.1 L3645.6,1795.2 L3649.3,1795.3 L3652.9,1795.4 L3656.5,1795.5 L3660.1,1795.6 L3663.7,1795.7 L3667.4,1795.7 L3671.0,1795.8 L3674.6,1795.8 L3678.2,1795.9 L3681.8,1795.9 L3685.4,1795.9 L3689.0,1795.9 L3692.6,1796.0 L3696.2,1796.0 L3699.8,1796.0 L3703.4,1796.0 L3707.0,1796.0 L3710.6,1796.0 L3714.2,1796.0 L3717.8,1796.0 L3721.3,1796.0 L3724.9,1796.0 L3728.5,1796.0" fill="none" stroke="#b6007b" stroke-width="8" />
<path d="M1098.5,1796.0 L1102.3,1796.0 L1106.0,1796.0 L1109.8,1796.0 L1113.6,1796.0 L1117.3,1796.0 L1121.1,1796.0 L1124.8,1796.0 L1128.6,1796.0 L1132.4,1796.0 L1136.1,1796.0 L1139.9,1795.9 L1143.7,1795.9 L1147.4,1795.9 L1151.2,1795.9 L1154.9,1795.8 L1158.7,1795.8 L1162.5,1795.7 L1166.2,1795.7 L1170.0,1795.6 L1173.8,1795.5 L1177.5,1795.4 L1181.3,1795.4 L1185.0,1795.3 L1188.8,1795.1 L1192.6,1795.0 L1196.3,1794.9 L1200.1,1794.7 L1203.9,1794.6 L1207.6,1794.4 L1211.4,1794.2 L1215.1,1794.0 L1218.9,1793.8 L1222.7,1793.5 L1226.4,1793.3 L1230.2,1793.0 L1234.0,1792.7 L1237.7,1792.4 L1241.5,1792.1 L1245.2,1791.7 L1249.0,1791.3 L1252.8,1791.0 L1256.5,1790.5 L1260.3,1790.1 L1264.1,1789.6 L1267.8,1789.1 L1271.6,1788.6 L1275.3,1788.1 L1279.1,1787.5 L1282.9,1786.9 L1286.6,1786.3 L1290.4,1785.7 L1294.2,1785.0 L1297.9,1784.3 L1301.7,1783.6 L1305.4,1782.8 L1309.2,1782.0 L1313.0,1781.2 L1316.7,1780.3 L1320.5,1779.4 L1324.3,1778.5 L1328.0,1777.5 L1331.8,1776.5 L1335.5,1775.5 L1339.3,1774.4 L1343.1,1773.3 L1346.8,1772.1 L1350.6,1770.9 L1354.4,1769.7 L1358.1,1768.5 L1361.9,1767.1 L1365.6,1765.8 L1369.4,1764.4 L1373.2,1763.0 L1376.9,1761.5 L1380.7,1760.0 L1384.5,1758.5 L1388.2,1756.9 L1392.0,1755.2 L1395.7,1753.5 L1399.5,1751.8 L1403.3,1750.0 L1407.0,1748.2 L1410.8,1746.3 L1414.6,1744.4 L1418.3,1742.4 L1422.1,1740.4 L1425.8,1738.4 L1429.6,1736.3 L1433.4,1734.1 L1437.1,1731.9 L1440.9,1729.6 L1444.7,1727.3 L1448.4,1725.0 L1452.2,1722.6 L1455.9,1720.1 L1459.7,1717.6 L1463.5,1715.0 L1467.2,1712.4 L1471.0,1709.7 L1474.8,1707.0 L1478.5,1704.2 L1482.3,1701.4 L1486.0,1698.5 L1489.8,1695.6 L1493.6,1692.6 L1497.3,1689.6 L1501.1,1686.5 L1504.9,1683.3 L1508.6,1680.1 L1512.4,1676.8 L1516.1,1673.5 L1519.9,1670.1 L1523.7,1666.7 L1527.4,1663.2 L1531.2,1659.7 L1535.0,1656.1 L1538.7,1652.4 L1542.5,1648.7 L1546.2,1645.0 L1550.0,1641.2 L1553.8,1637.3 L1557.5,1633.3 L1561.3,1629.4 L1565.1,1625.3 L1568.8,1621.2 L1572.6,1617.1 L1576.3,1612.9 L1580.1,1608.6 L1583.9,1604.3 L1587.6,1599.9 L1591.4,1595.5 L1595.2,1591.0 L1598.9,1586.4 L1602.7,1581.8 L1606.4,1577.2 L1610.2,1572.5 L1614.0,1567.7 L1617.7,1562.9 L1621.5,1558.0 L1625.3,1553.1 L1629.0,1548.1 L1632.8,1543.1 L1636.5,1538.0 L1640.3,1532.9 L1644.1,1527.7 L1647.8,1522.5 L1651.6,1517.2 L1655.4,1511.8 L1659.1,1506.4 L1662.9,1501.0 L1666.6,1495.5 L1670.4,1490.0 L1674.2,1484.4 L1677.9,1478.7 L1681.7,1473.0 L1685.5,1467.3 L1689.2,1461.5 L1693.0,1455.7 L1696.7,1449.8 L1700.5,1443.9 L1704.3,1437.9 L1708.0,1431.9 L1711.8,1425.8 L1715.6,1419.7 L1719.3,1413.5 L1723.1,1407.4 L1726.8,1401.1 L1730.6,1394.8 L1734.4,1388.5 L1738.1,1382.2 L1741.9,1375.8 L1745.7,1369.3 L1749.4,1362.8 L1753.2,1356.3 L1756.9,1349.8 L1760.7,1343.2 L1764.5,1336.6 L1768.2,1329.9 L1772.0,1323.2 L1775.8,1316.5 L1779.5,1309.7 L1783.3,1302.9 L1787.0,1296.1 L1790.8,1289.2 L1794.6,1282.4 L1798.3,1275.4 L1802.1,1268.5 L1805.9,1261.5 L1809.6,1254.5 L1813.4,1247.5 L1817.1,1240.5 L1820.9,1233.4 L1824.7,1226.3 L1828.4,1219.2 L1832.2,1212.0 L1836.0,1204.9 L1839.7,1197.7 L1843.5,1190.5 L1847.2,1183.3 L1851.0,1176.0 L1854.8,1168.8 L1858.5,1161.5 L1862.3,1154.2 L1866.1,1147.0 L1869.8,1139.6 L1873.6,1132.3 L1877.3,1125.0 L1881.1,1117.7 L1884.9,1110.3 L1888.6,1102.9 L1892.4,1095.6 L1896.2,1088.2 L1899.9,1080.8 L1903.7,1073.5 L1907.4,1066.1 L1911.2,1058.7 L1915.0,1051.3 L1918.7,1043.9 L1922.5,1036.6 L1926.3,1029.2 L1930.0,1021.8 L1933.8,1014.4 L1937.5,1007.1 L1941.3,999.7 L1945.1,992.3 L1948.8,985.0 L1952.6,977.6 L1956.4,970.3 L1960.1,963.0 L1963.9,955.7 L1967.6,948.4 L1971.4,941.1 L1975.2,933.9 L1978.9,926.6 L1982.7,919.4 L1986.5,912.2 L1990.2,905.0 L1994.0,897.8 L1997.7,890.7 L2001.5,883.6 L2005.3,876.4 L2009.0,869.4 L2012.8,862.3 L2016.6,855.3 L2020.3,848.3 L2024.1,841.3 L2027.8,834.4 L2031.6,827.5 L2035.4,820.6 L2039.1,813.8 L2042.9,806.9 L2046.7,800.2 L2050.4,793.4 L2054.2,786.7 L2057.9,780.0 L2061.7,773.4 L2065.5,766.8 L2069.2,760.3 L2073.0,753.8 L2076.8,747.3 L2080.5,740.9 L2084.3,734.5 L2088.0,728.2 L2091.8,721.9 L2095.6,715.6 L2099.3,709.5 L2103.1,703.3 L2106.9,697.2 L2110.6,691.2 L2114.4,685.2 L2118.1,679.2 L2121.9,673.4 L2125.7,667.5 L2129.4,661.8 L2133.2,656.0 L2137.0,650.4 L2140.7,644.8 L2144.5,639.2 L2148.2,633.7 L2152.0,628.3 L2155.8,622.9 L2159.5,617.6 L2163.3,612.4 L2167.1,607.2 L2170.8,602.1 L2174.6,597.0 L2178.3,592.1 L2182.1,587.1 L2185.9,582.3 L2189.6,577.5 L2193.4,572.8 L2197.2,568.1 L2200.9,563.6 L2204.7,559.0 L2208.4,554.6 L2212.2,550.2 L2216.0,545.9 L2219.7,541.7 L2223.5,537.6 L2227.3,533.5 L2231.0,529.5 L2234.8,525.6 L2238.5,521.7 L2242.3,518.0 L2246.1,514.3 L2249.8,510.6 L2253.6,507.1 L2257.4,503.6 L2261.1,500.2 L2264.9,496.9 L2268.6,493.7 L2272.4,490.6 L2276.2,487.5 L2279.9,484.5 L2283.7,481.6 L2287.5,478.8 L2291.2,476.0 L2295.0,473.4 L2298.7,470.8 L2302.5,468.3 L2306.3,465.9 L2310.0,463.6 L2313.8,461.3 L2317.6,459.1 L2321.3,457.1 L2325.1,455.1 L2328.8,453.2 L2332.6,451.3 L2336.4,449.6 L2340.1,447.9 L2343.9,446.4 L2347.7,444.9 L2351.4,443.5 L2355.2,442.1 L2358.9,440.9 L2362.7,439.8 L2366.5,438.7 L2370.2,437.7 L2374.0,436.8 L2377.8,436.0 L2381.5,435.3 L2385.3,434.6 L2389.0,434.1 L2392.8,433.6 L2396.6,433.2 L2400.3,432.9 L2404.1,432.6 L2407.9,432.5 L2411.6,432.4 L2415.4,432.4 L2419.2,432.5 L2423.0,432.6 L2426.8,432.9 L2430.6,433.2 L2434.5,433.6 L2438.3,434.1 L2442.1,434.6 L2445.9,435.3 L2449.7,436.0 L2453.5,436.8 L2457.3,437.7 L2461.1,438.7 L2464.9,439.8 L2468.7,440.9 L2472.5,442.1 L2476.4,443.5 L2480.2,444.9 L2484.0,446.4 L2487.8,447.9 L2491.6,449.6 L2495.4,451.3 L2499.2,453.2 L2503.0,455.1 L2506.8,457.1 L2510.6,459.1 L2514.5,461.3 L2518.3,463.6 L2522.1,465.9 L2525.9,468.3 L2529.7,470.8 L2533.5,473.4 L2537.3,476.0 L2541.1,478.8 L2544.9,481.6 L2548.7,484.5 L2552.5,487.5 L2556.4,490.6 L2560.2,493.7 L2564.0,496.9 L2567.8,500.2 L2571.6,503.6 L2575.4,507.1 L2579.2,510.6 L2583.0,514.3 L2586.8,518.0 L2590.6,521.7 L2594.5,525.6 L2598.3,529.5 L2602.1,533.5 L2605.9,537.6 L2609.7,541.7 L2613.5,545.9 L2617.3,550.2 L2621.1,554.6 L2624.9,559.0 L2628.7,563.6 L2632.5,568.1 L2636.4,572.8 L2640.2,577.5 L2644.0,582.3 L2647.8,587.1 L2651.6,592.1 L2655.4,597.0 L2659.2,602.1 L2663.0,607.2 L2666.8,612.4 L2670.6,617.6 L2674.4,622.9 L2678.3,628.3 L2682.1,633.7 L2685.9,639.2 L2689.7,644.8 L2693.5,650.4 L2697.3,656.0 L2701.1,661.8 L2704.9,667.5 L2708.7,673.4 L2712.5,679.2 L2716.3,685.2 L2720.2,691.2 L2724.0,697.2 L2727.8,703.3 L2731.6,709.5 L2735.4,715.6 L2739.2,721.9 L2743.0,728.2 L2746.8,734.5 L2750.6,740.9 L2754.4,747.3 L2758.2,753.8 L2762.1,760.3 L2765.9,766.8 L2769.7,773.4 L2773.5,780.0 L2777.3,786.7 L2781.1,793.4 L2784.9,800.2 L2788.7,806.9 L2792.5,813.8 L2796.3,820.6 L2800.1,827.5 L2803.9,834.4 L2807.8,841.3 L2811.6,848.3 L2815.4,855.3 L2819.2,862.3 L2823.0,869.4 L2826.8,876.4 L2830.6,883.6 L2834.4,890.7 L2838.2,897.8 L2842.0,905.0 L2845.8,912.2 L2849.6,919.4 L2853.4,926.6 L2857.2,933.9 L2861.1,941.1 L2864.9,948.4 L2868.7,955.7 L2872.5,963.0 L2876.3,970.3 L2880.1,977.6 L2883.9,985.0 L2887.7,992.3 L2891.5,999.7 L2895.3,1007.1 L2899.1,1014.4 L2902.9,1021.8 L2906.7,1029.2 L2910.5,1036.6 L2914.3,1043.9 L2918.1,1051.3 L2921.9,1058.7 L2925.7,1066.1 L2929.5,1073.5 L2933.4,1080.8 L2937.2,1088.2 L2941.0,1095.6 L2944.8,1102.9 L2948.6,1110.3 L2952.4,1117.7 L2956.2,1125.0 L2960.0,1132.3 L2963.8,1139.6 L2967.6,1147.0 L2971.4,1154.2 L2975.2,1161.5 L2979.0,1168.8 L2982.8,1176.0 L2986.6,1183.3 L2990.4,1190.5 L2994.2,1197.7 L2998.0,1204.9 L3001.8,1212.0 L3005.6,1219.2 L3009.4,1226.3 L3013.2,1233.4 L3017.0,1240.5 L3020.8,1247.5 L3024.6,1254.5 L3028.4,1261.5 L3032.2,1268.5 L3036.0,1275.4 L3039.8,1282.4 L3043.6,1289.2 L3047.4,1296.1 L3051.2,1302.9 L3055.0,1309.7 L3058.8,1316.5 L3062.6,1323.2 L3066.4,1329.9 L3070.2,1336.6 L3074.0,1343.2 L3077.8,1349.8 L3081.6,1356.3 L3085.3,1362.8 L3089.1,1369.3 L3092.9,1375.8 L3096.7,1382.2 L3100.5,1388.5 L3104.3,1394.8 L3108.1,1401.1 L3111.9,1407.4 L3115.7,1413.5 L3119.5,1419.7 L3123.3,1425.8 L3127.1,1431.9 L3130.8,1437.9 L3134.6,1443.9 L3138.4,1449.8 L3142.2,1455.7 L3146.0,1461.5 L3149.8,1467.3 L3153.6,1473.0 L3157.4,1478.7 L3161.2,1484.4 L3164.9,1490.0 L3168.7,1495.5 L3172.5,1501.0 L3176.3,1506.4 L3180.1,1511.8 L3183.9,1517.2 L3187.6,1522.5 L3191.4,1527.7 L3195.2,1532.9 L3199.0,1538.0 L3202.8,1543.1 L3206.5,1548.1 L3210.3,1553.1 L3214.1,1558.0 L3217.9,1562.9 L3221.7,1567.7 L3225.4,1572.5 L3229.2,1577.2 L3233.0,1581.8 L3236.8,1586.4 L3240.5,1591.0 L3244.3,1595.5 L3248.1,1599.9 L3251.9,1604.3 L3255.6,1608.6 L3259.4,1612.9 L3263.2,1617.1 L3266.9,1621.2 L3270.7,1625.3 L3274.5,1629.4 L3278.3,1633.3 L3282.0,1637.3 L3285.8,1641.2 L3289.6,1645.0 L3293.3,1648.7 L3297.1,1652.4 L3300.8,1656.1 L3304.6,1659.7 L3308.4,1663.2 L3312.1,1666.7 L3315.9,1670.1 L3319.6,1673.5 L3323.4,1676.8 L3327.2,1680.1 L3330.9,1683.3 L3334.7,1686.5 L3338.4,1689.6 L3342.2,1692.6 L3345.9,1695.6 L3349.7,1698.5 L3353.4,1701.4 L3357.2,1704.2 L3360.9,1707.0 L3364.7,1709.7 L3368.4,1712.4 L3372.2,1715.0 L3375.9,1717.6 L3379.7,1720.1 L3383.4,1722.6 L3387.1,1725.0 L3390.9,1727.3 L3394.6,1729.6 L3398.4,1731.9 L3402.1,1734.1 L3405.8,1736.3 L3409.6,1738.4 L3413.3,1740.4 L3417.0,1742.4 L3420.8,1744.4 L3424.5,1746.3 L3428.2,1748.2 L3432.0,1750.0 L3435.7,1751.8 L3439.4,1753.5 L3443.1,1755.2 L3446.9,1756.9 L3450.6,1758.5 L3454.3,1760.0 L3458.0,1761.5 L3461.7,1763.0 L3465.5,1764.4 L3469.2,1765.8 L3472.9,1767.1 L3476.6,1768.5 L3480.3,1769.7 L3484.0,1770.9 L3487.7,1772.1 L3491.4,1773.3 L3495.1,1774.4 L3498.9,1775.5 L3502.6,1776.5 L3506.3,1777.5 L3510.0,1778.5 L3513.7,1779.4 L3517.3,1780.3 L3521.0,1781.2 L3524.7,1782.0 L3528.4,1782.8 L3532.1,1783.6 L3535.8,1784.3 L3539.5,1785.0 L3543.2,1785.7 L3546.9,1786.3 L3550.5,1786.9 L3554.2,1787.5 L3557.9,1788.1 L3561.6,1788.6 L3565.3,1789.1 L3568.9,1789.6 L3572.6,1790.1 L3576.3,1790.5 L3579.9,1791.0 L3583.6,1791.3 L3587.3,1791.7 L3590.9,1792.1 L3594.6,1792.4 L3598.2,1792.7 L3601.9,1793.0 L3605.6,1793.3 L3609.2,1793.5 L3612.9,1793.8 L3616.5,1794.0 L3620.2,1794.2 L3623.8,1794.4 L3627.4,1794.6 L3631.1,1794.7 L3634.7,1794.9 L3638.4,1795.0 L3642.0,1795.1 L3645.6,1795.3 L3649.3,1795.4 L3652.9,1795.4 L3656.5,1795.5 L3660.1,1795.6 L3663.7,1795.7 L3667.4,1795.7 L3671.0,1795.8 L3674.6,1795.8 L3678.2,1795.9 L3681.8,1795.9 L3685.4,1795.9 L3689.0,1795.9 L3692.6,1796.0 L3696.2,1796.0 L3699.8,1796.0 L3703.4,1796.0 L3707.0,1796.0 L3710.6,1796.0 L3714.2,1796.0 L3717.8,1796.0 L3721.3,1796.0 L3724.9,1796.0 L3728.5,1796.0" fill="none" stroke="#b6007b" stroke-width="2.5" />
<path d="M1098.5,1796.0 L1102.3,1796.0 L1106.0,1796.0 L1109.8,1796.0 L1113.6,1796.0 L1117.3,1796.0 L1121.1,1796.0 L1124.8,1796.0 L1128.6,1796.0 L1132.4,1796.0 L1136.1,1796.0 L1139.9,1795.9 L1143.7,1795.9 L1147.4,1795.9 L1151.2,1795.9 L1154.9,1795.8 L1158.7,1795.8 L1162.5,1795.7 L1166.2,1795.7 L1170.0,1795.6 L1173.8,1795.5 L1177.5,1795.5 L1181.3,1795.4 L1185.0,1795.3 L1188.8,1795.2 L1192.6,1795.0 L1196.3,1794.9 L1200.1,1794.7 L1203.9,1794.6 L1207.6,1794.4 L1211.4,1794.2 L1215.1,1794.0 L1218.9,1793.8 L1222.7,1793.6 L1226.4,1793.3 L1230.2,1793.0 L1234.0,1792.7 L1237.7,1792.4 L1241.5,1792.1 L1245.2,1791.8 L1249.0,1791.4 L1252.8,1791.0 L1256.5,1790.6 L1260.3,1790.2 L1264.1,1789.7 L1267.8,1789.2 L1271.6,1788.7 L1275.3,1788.2 L1279.1,1787.6 L1282.9,1787.0 L1286.6,1786.4 L1290.4,1785.8 L1294.2,1785.1 L1297.9,1784.4 L1301.7,1783.7 L1305.4,1782.9 L1309.2,1782.1 L1313.0,1781.3 L1316.7,1780.5 L1320.5,1779.6 L1324.3,1778.6 L1328.0,1777.7 L1331.8,1776.7 L1335.5,1775.7 L1339.3,1774.6 L1343.1,1773.5 L1346.8,1772.4 L1350.6,1771.2 L1354.4,1770.0 L1358.1,1768.7 L1361.9,1767.5 L1365.6,1766.1 L1369.4,1764.8 L1373.2,1763.3 L1376.9,1761.9 L1380.7,1760.4 L1384.5,1758.9 L1388.2,1757.3 L1392.0,1755.7 L1395.7,1754.0 L1399.5,1752.3 L1403.3,1750.5 L1407.0,1748.7 L1410.8,1746.9 L1414.6,1745.0 L1418.3,1743.0 L1422.1,1741.0 L1425.8,1739.0 L1429.6,1736.9 L1433.4,1734.8 L1437.1,1732.6 L1440.9,1730.3 L1444.7,1728.1 L1448.4,1725.7 L1452.2,1723.3 L1455.9,1720.9 L1459.7,1718.4 L1463.5,1715.9 L1467.2,1713.3 L1471.0,1710.7 L1474.8,1708.0 L1478.5,1705.2 L1482.3,1702.4 L1486.0,1699.6 L1489.8,1696.7 L1493.6,1693.7 L1497.3,1690.7 L1501.1,1687.6 L1504.9,1684.5 L1508.6,1681.3 L1512.4,1678.1 L1516.1,1674.8 L1519.9,1671.5 L1523.7,1668.1 L1527.4,1664.7 L1531.2,1661.1 L1535.0,1657.6 L1538.7,1654.0 L1542.5,1650.3 L1546.2,1646.6 L1550.0,1642.8 L1553.8,1639.0 L1557.5,1635.1 L1561.3,1631.1 L1565.1,1627.1 L1568.8,1623.1 L1572.6,1619.0 L1576.3,1614.8 L1580.1,1610.6 L1583.9,1606.3 L1587.6,1602.0 L1591.4,1597.6 L1595.2,1593.2 L1598.9,1588.7 L1602.7,1584.1 L1606.4,1579.5 L1610.2,1574.9 L1614.0,1570.2 L1617.7,1565.4 L1621.5,1560.6 L1625.3,1555.7 L1629.0,1550.8 L1632.8,1545.8 L1636.5,1540.8 L1640.3,1535.7 L1644.1,1530.6 L1647.8,1525.4 L1651.6,1520.2 L1655.4,1514.9 L1659.1,1509.5 L1662.9,1504.1 L1666.6,1498.7 L1670.4,1493.2 L1674.2,1487.7 L1677.9,1482.1 L1681.7,1476.5 L1685.5,1470.8 L1689.2,1465.1 L1693.0,1459.3 L1696.7,1453.5 L1700.5,1447.6 L1704.3,1441.7 L1708.0,1435.8 L1711.8,1429.8 L1715.6,1423.7 L1719.3,1417.6 L1723.1,1411.5 L1726.8,1405.3 L1730.6,1399.1 L1734.4,1392.9 L1738.1,1386.6 L1741.9,1380.3 L1745.7,1373.9 L1749.4,1367.5 L1753.2,1361.0 L1756.9,1354.6 L1760.7,1348.0 L1764.5,1341.5 L1768.2,1334.9 L1772.0,1328.3 L1775.8,1321.6 L1779.5,1314.9 L1783.3,1308.2 L1787.0,1301.5 L1790.8,1294.7 L1794.6,1287.9 L1798.3,1281.0 L1802.1,1274.2 L1805.9,1267.3 L1809.6,1260.3 L1813.4,1253.4 L1817.1,1246.4 L1820.9,1239.4 L1824.7,1232.4 L1828.4,1225.4 L1832.2,1218.3 L1836.0,1211.2 L1839.7,1204.1 L1843.5,1197.0 L1847.2,1189.8 L1851.0,1182.7 L1854.8,1175.5 L1858.5,1168.3 L1862.3,1161.1 L1866.1,1153.9 L1869.8,1146.7 L1873.6,1139.4 L1877.3,1132.2 L1881.1,1124.9 L1884.9,1117.6 L1888.6,1110.4 L1892.4,1103.1 L1896.2,1095.8 L1899.9,1088.5 L1903.7,1081.2 L1907.4,1073.9 L1911.2,1066.6 L1915.0,1059.3 L1918.7,1052.0 L1922.5,1044.7 L1926.3,1037.4 L1930.0,1030.1 L1933.8,1022.8 L1937.5,1015.5 L1941.3,1008.2 L1945.1,1000.9 L1948.8,993.7 L1952.6,986.4 L1956.4,979.2 L1960.1,971.9 L1963.9,964.7 L1967.6,957.5 L1971.4,950.3 L1975.2,943.1 L1978.9,935.9 L1982.7,928.8 L1986.5,921.6 L1990.2,914.5 L1994.0,907.4 L1997.7,900.4 L2001.5,893.3 L2005.3,886.3 L2009.0,879.3 L2012.8,872.3 L2016.6,865.4 L2020.3,858.4 L2024.1,851.5 L2027.8,844.7 L2031.6,837.8 L2035.4,831.0 L2039.1,824.3 L2042.9,817.5 L2046.7,810.8 L2050.4,804.2 L2054.2,797.5 L2057.9,790.9 L2061.7,784.4 L2065.5,777.8 L2069.2,771.4 L2073.0,764.9 L2076.8,758.5 L2080.5,752.2 L2084.3,745.9 L2088.0,739.6 L2091.8,733.4 L2095.6,727.2 L2099.3,721.1 L2103.1,715.0 L2106.9,709.0 L2110.6,703.0 L2114.4,697.1 L2118.1,691.2 L2121.9,685.4 L2125.7,679.6 L2129.4,673.9 L2133.2,668.2 L2137.0,662.6 L2140.7,657.1 L2144.5,651.6 L2148.2,646.2 L2152.0,640.8 L2155.8,635.5 L2159.5,630.3 L2163.3,625.1 L2167.1,619.9 L2170.8,614.9 L2174.6,609.9 L2178.3,604.9 L2182.1,600.1 L2185.9,595.3 L2189.6,590.5 L2193.4,585.9 L2197.2,581.3 L2200.9,576.7 L2204.7,572.3 L2208.4,567.9 L2212.2,563.6 L2216.0,559.3 L2219.7,555.2 L2223.5,551.0 L2227.3,547.0 L2231.0,543.1 L2234.8,539.2 L2238.5,535.4 L2242.3,531.6 L2246.1,528.0 L2249.8,524.4 L2253.6,520.9 L2257.4,517.5 L2261.1,514.1 L2264.9,510.8 L2268.6,507.6 L2272.4,504.5 L2276.2,501.5 L2279.9,498.5 L2283.7,495.7 L2287.5,492.9 L2291.2,490.2 L2295.0,487.5 L2298.7,485.0 L2302.5,482.5 L2306.3,480.1 L2310.0,477.8 L2313.8,475.6 L2317.6,473.5 L2321.3,471.4 L2325.1,469.4 L2328.8,467.5 L2332.6,465.7 L2336.4,464.0 L2340.1,462.4 L2343.9,460.8 L2347.7,459.3 L2351.4,457.9 L2355.2,456.6 L2358.9,455.4 L2362.7,454.3 L2366.5,453.2 L2370.2,452.2 L2374.0,451.4 L2377.8,450.6 L2381.5,449.8 L2385.3,449.2 L2389.0,448.6 L2392.8,448.2 L2396.6,447.8 L2400.3,447.5 L2404.1,447.2 L2407.9,447.1 L2411.6,447.0 L2415.4,447.0 L2419.2,447.1 L2423.0,447.2 L2426.8,447.5 L2430.6,447.8 L2434.5,448.2 L2438.3,448.6 L2442.1,449.2 L2445.9,449.8 L2449.7,450.6 L2453.5,451.4 L2457.3,452.2 L2461.1,453.2 L2464.9,454.3 L2468.7,455.4 L2472.5,456.6 L2476.4,457.9 L2480.2,459.3 L2484.0,460.8 L2487.8,462.4 L2491.6,464.0 L2495.4,465.7 L2499.2,467.5 L2503.0,469.4 L2506.8,471.4 L2510.6,473.5 L2514.5,475.6 L2518.3,477.8 L2522.1,480.1 L2525.9,482.5 L2529.7,485.0 L2533.5,487.5 L2537.3,490.2 L2541.1,492.9 L2544.9,495.7 L2548.7,498.5 L2552.5,501.5 L2556.4,504.5 L2560.2,507.6 L2564.0,510.8 L2567.8,514.1 L2571.6,517.5 L2575.4,520.9 L2579.2,524.4 L2583.0,528.0 L2586.8,531.6 L2590.6,535.4 L2594.5,539.2 L2598.3,543.1 L2602.1,547.0 L2605.9,551.0 L2609.7,555.2 L2613.5,559.3 L2617.3,563.6 L2621.1,567.9 L2624.9,572.3 L2628.7,576.7 L2632.5,581.3 L2636.4,585.9 L2640.2,590.5 L2644.0,595.3 L2647.8,600.1 L2651.6,604.9 L2655.4,609.9 L2659.2,614.9 L2663.0,619.9 L2666.8,625.1 L2670.6,630.3 L2674.4,635.5 L2678.3,640.8 L2682.1,646.2 L2685.9,651.6 L2689.7,657.1 L2693.5,662.6 L2697.3,668.2 L2701.1,673.9 L2704.9,679.6 L2708.7,685.4 L2712.5,691.2 L2716.3,697.1 L2720.2,703.0 L2724.0,709.0 L2727.8,715.0 L2731.6,721.1 L2735.4,727.2 L2739.2,733.4 L2743.0,739.6 L2746.8,745.9 L2750.6,752.2 L2754.4,758.5 L2758.2,764.9 L2762.1,771.4 L2765.9,777.8 L2769.7,784.4 L2773.5,790.9 L2777.3,797.5 L2781.1,804.2 L2784.9,810.8 L2788.7,817.5 L2792.5,824.3 L2796.3,831.0 L2800.1,837.8 L2803.9,844.7 L2807.8,851.5 L2811.6,858.4 L2815.4,865.4 L2819.2,872.3 L2823.0,879.3 L2826.8,886.3 L2830.6,893.3 L2834.4,900.4 L2838.2,907.4 L2842.0,914.5 L2845.8,921.6 L2849.6,928.8 L2853.4,935.9 L2857.2,943.1 L2861.1,950.3 L2864.9,957.5 L2868.7,964.7 L2872.5,971.9 L2876.3,979.2 L2880.1,986.4 L2883.9,993.7 L2887.7,1000.9 L2891.5,1008.2 L2895.3,1015.5 L2899.1,1022.8 L2902.9,1030.1 L2906.7,1037.4 L2910.5,1044.7 L2914.3,1052.0 L2918.1,1059.3 L2921.9,1066.6 L2925.7,1073.9 L2929.5,1081.2 L2933.4,1088.5 L2937.2,1095.8 L2941.0,1103.1 L2944.8,1110.4 L2948.6,1117.6 L2952.4,1124.9 L2956.2,1132.2 L2960.0,1139.4 L2963.8,1146.7 L2967.6,1153.9 L2971.4,1161.1 L2975.2,1168.3 L2979.0,1175.5 L2982.8,1182.7 L2986.6,1189.8 L2990.4,1197.0 L2994.2,1204.1 L2998.0,1211.2 L3001.8,1218.3 L3005.6,1225.4 L3009.4,1232.4 L3013.2,1239.4 L3017.0,1246.4 L3020.8,1253.4 L3024.6,1260.3 L3028.4,1267.3 L3032.2,1274.2 L3036.0,1281.0 L3039.8,1287.9 L3043.6,1294.7 L3047.4,1301.5 L3051.2,1308.2 L3055.0,1314.9 L3058.8,1321.6 L3062.6,1328.3 L3066.4,1334.9 L3070.2,1341.5 L3074.0,1348.0 L3077.8,1354.6 L3081.6,1361.0 L3085.3,1367.5 L3089.1,1373.9 L3092.9,1380.3 L3096.7,1386.6 L3100.5,1392.9 L3104.3,1399.1 L3108.1,1405.3 L3111.9,1411.5 L3115.7,1417.6 L3119.5,1423.7 L3123.3,1429.8 L3127.1,1435.8 L3130.8,1441.7 L3134.6,1447.6 L3138.4,1453.5 L3142.2,1459.3 L3146.0,1465.1 L3149.8,1470.8 L3153.6,1476.5 L3157.4,1482.1 L3161.2,1487.7 L3164.9,1493.2 L3168.7,1498.7 L3172.5,1504.1 L3176.3,1509.5 L3180.1,1514.9 L3183.9,1520.2 L3187.6,1525.4 L3191.4,1530.6 L3195.2,1535.7 L3199.0,1540.8 L3202.8,1545.8 L3206.5,1550.8 L3210.3,1555.7 L3214.1,1560.6 L3217.9,1565.4 L3221.7,1570.2 L3225.4,1574.9 L3229.2,1579.5 L3233.0,1584.1 L3236.8,1588.7 L3240.5,1593.2 L3244.3,1597.6 L3248.1,1602.0 L3251.9,1606.3 L3255.6,1610.6 L3259.4,1614.8 L3263.2,1619.0 L3266.9,1623.1 L3270.7,1627.1 L3274.5,1631.1 L3278.3,1635.1 L3282.0,1639.0 L3285.8,1642.8 L3289.6,1646.6 L3293.3,1650.3 L3297.1,1654.0 L3300.8,1657.6 L3304.6,1661.1 L3308.4,1664.7 L3312.1,1668.1 L3315.9,1671.5 L3319.6,1674.8 L3323.4,1678.1 L3327.2,1681.3 L3330.9,1684.5 L3334.7,1687.6 L3338.4,1690.7 L3342.2,1693.7 L3345.9,1696.7 L3349.7,1699.6 L3353.4,1702.4 L3357.2,1705.2 L3360.9,1708.0 L3364.7,1710.7 L3368.4,1713.3 L3372.2,1715.9 L3375.9,1718.4 L3379.7,1720.9 L3383.4,1723.3 L3387.1,1725.7 L3390.9,1728.1 L3394.6,1730.3 L3398.4,1732.6 L3402.1,1734.8 L3405.8,1736.9 L3409.6,1739.0 L3413.3,1741.0 L3417.0,1743.0 L3420.8,1745.0 L3424.5,1746.9 L3428.2,1748.7 L3432.0,1750.5 L3435.7,1752.3 L3439.4,1754.0 L3443.1,1755.7 L3446.9,1757.3 L3450.6,1758.9 L3454.3,1760.4 L3458.0,1761.9 L3461.7,1763.3 L3465.5,1764.8 L3469.2,1766.1 L3472.9,1767.5 L3476.6,1768.7 L3480.3,1770.0 L3484.0,1771.2 L3487.7,1772.4 L3491.4,1773.5 L3495.1,1774.6 L3498.9,1775.7 L3502.6,1776.7 L3506.3,1777.7 L3510.0,1778.6 L3513.7,1779.6 L3517.3,1780.5 L3521.0,1781.3 L3524.7,1782.1 L3528.4,1782.9 L3532.1,1783.7 L3535.8,1784.4 L3539.5,1785.1 L3543.2,1785.8 L3546.9,1786.4 L3550.5,1787.0 L3554.2,1787.6 L3557.9,1788.2 L3561.6,1788.7 L3565.3,1789.2 L3568.9,1789.7 L3572.6,1790.2 L3576.3,1790.6 L3579.9,1791.0 L3583.6,1791.4 L3587.3,1791.8 L3590.9,1792.1 L3594.6,1792.4 L3598.2,1792.7 L3601.9,1793.0 L3605.6,1793.3 L3609.2,1793.6 L3612.9,1793.8 L3616.5,1794.0 L3620.2,1794.2 L3623.8,1794.4 L3627.4,1794.6 L3631.1,1794.7 L3634.7,1794.9 L3638.4,1795.0 L3642.0,1795.2 L3645.6,1795.3 L3649.3,1795.4 L3652.9,1795.5 L3656.5,1795.5 L3660.1,1795.6 L3663.7,1795.7 L3667.4,1795.7 L3671.0,1795.8 L3674.6,1795.8 L3678.2,1795.9 L3681.8,1795.9 L3685.4,1795.9 L3689.0,1795.9 L3692.6,1796.0 L3696.2,1796.0 L3699.8,1796.0 L3703.4,1796.0 L3707.0,1796.0 L3710.6,1796.0 L3714.2,1796.0 L3717.8,1796.0 L3721.3,1796.0 L3724.9,1796.0 L3728.5,1796.0" fill="none" stroke="#b6007b" stroke-width="4" />
<path d="M1098.5,1796.0 L1102.3,1796.0 L1106.0,1796.0 L1109.8,1796.0 L1113.6,1796.0 L1117.3,1796.0 L1121.1,1796.0 L1124.8,1796.0 L1128.6,1796.0 L1132.4,1796.0 L1136.1,1796.0 L1139.9,1795.9 L1143.7,1795.9 L1147.4,1795.9 L1151.2,1795.9 L1154.9,1795.8 L1158.7,1795.8 L1162.5,1795.7 L1166.2,1795.7 L1170.0,1795.6 L1173.8,1795.5 L1177.5,1795.5 L1181.3,1795.4 L1185.0,1795.3 L1188.8,1795.2 L1192.6,1795.1 L1196.3,1794.9 L1200.1,1794.8 L1203.9,1794.6 L1207.6,1794.5 L1211.4,1794.3 L1215.1,1794.1 L1218.9,1793.9 L1222.7,1793.6 L1226.4,1793.4 L1230.2,1793.1 L1234.0,1792.8 L1237.7,1792.5 L1241.5,1792.2 L1245.2,1791.9 L1249.0,1791.5 L1252.8,1791.2 L1256.5,1790.8 L1260.3,1790.3 L1264.1,1789.9 L1267.8,1789.4 L1271.6,1788.9 L1275.3,1788.4 L1279.1,1787.9 L1282.9,1787.3 L1286.6,1786.7 L1290.4,1786.1 L1294.2,1785.4 L1297.9,1784.7 L1301.7,1784.0 L1305.4,1783.3 L1309.2,1782.5 L1313.0,1781.7 L1316.7,1780.9 L1320.5,1780.0 L1324.3,1779.2 L1328.0,1778.2 L1331.8,1777.3 L1335.5,1776.3 L1339.3,1775.2 L1343.1,1774.2 L1346.8,1773.1 L1350.6,1771.9 L1354.4,1770.7 L1358.1,1769.5 L1361.9,1768.3 L1365.6,1767.0 L1369.4,1765.7 L1373.2,1764.3 L1376.9,1762.9 L1380.7,1761.4 L1384.5,1759.9 L1388.2,1758.4 L1392.0,1756.8 L1395.7,1755.2 L1399.5,1753.5 L1403.3,1751.8 L1407.0,1750.1 L1410.8,1748.3 L1414.6,1746.4 L1418.3,1744.5 L1422.1,1742.6 L1425.8,1740.6 L1429.6,1738.6 L1433.4,1736.5 L1437.1,1734.4 L1440.9,1732.2 L1444.7,1730.0 L1448.4,1727.8 L1452.2,1725.4 L1455.9,1723.1 L1459.7,1720.7 L1463.5,1718.2 L1467.2,1715.7 L1471.0,1713.1 L1474.8,1710.5 L1478.5,1707.8 L1482.3,1705.1 L1486.0,1702.4 L1489.8,1699.5 L1493.6,1696.7 L1497.3,1693.7 L1501.1,1690.8 L1504.9,1687.7 L1508.6,1684.7 L1512.4,1681.5 L1516.1,1678.3 L1519.9,1675.1 L1523.7,1671.8 L1527.4,1668.4 L1531.2,1665.0 L1535.0,1661.6 L1538.7,1658.1 L1542.5,1654.5 L1546.2,1650.9 L1550.0,1647.2 L1553.8,1643.5 L1557.5,1639.7 L1561.3,1635.9 L1565.1,1632.0 L1568.8,1628.1 L1572.6,1624.1 L1576.3,1620.1 L1580.1,1616.0 L1583.9,1611.8 L1587.6,1607.6 L1591.4,1603.3 L1595.2,1599.0 L1598.9,1594.7 L1602.7,1590.3 L1606.4,1585.8 L1610.2,1581.3 L1614.0,1576.7 L1617.7,1572.1 L1621.5,1567.4 L1625.3,1562.7 L1629.0,1557.9 L1632.8,1553.0 L1636.5,1548.2 L1640.3,1543.2 L1644.1,1538.2 L1647.8,1533.2 L1651.6,1528.1 L1655.4,1523.0 L1659.1,1517.8 L1662.9,1512.6 L1666.6,1507.3 L1670.4,1502.0 L1674.2,1496.6 L1677.9,1491.2 L1681.7,1485.7 L1685.5,1480.2 L1689.2,1474.6 L1693.0,1469.0 L1696.7,1463.4 L1700.5,1457.7 L1704.3,1452.0 L1708.0,1446.2 L1711.8,1440.4 L1715.6,1434.5 L1719.3,1428.6 L1723.1,1422.6 L1726.8,1416.6 L1730.6,1410.6 L1734.4,1404.5 L1738.1,1398.4 L1741.9,1392.3 L1745.7,1386.1 L1749.4,1379.9 L1753.2,1373.6 L1756.9,1367.3 L1760.7,1361.0 L1764.5,1354.6 L1768.2,1348.2 L1772.0,1341.8 L1775.8,1335.3 L1779.5,1328.8 L1783.3,1322.3 L1787.0,1315.8 L1790.8,1309.2 L1794.6,1302.6 L1798.3,1295.9 L1802.1,1289.2 L1805.9,1282.5 L1809.6,1275.8 L1813.4,1269.1 L1817.1,1262.3 L1820.9,1255.5 L1824.7,1248.7 L1828.4,1241.9 L1832.2,1235.0 L1836.0,1228.1 L1839.7,1221.2 L1843.5,1214.3 L1847.2,1207.4 L1851.0,1200.4 L1854.8,1193.4 L1858.5,1186.5 L1862.3,1179.5 L1866.1,1172.5 L1869.8,1165.4 L1873.6,1158.4 L1877.3,1151.4 L1881.1,1144.3 L1884.9,1137.3 L1888.6,1130.2 L1892.4,1123.1 L1896.2,1116.0 L1899.9,1109.0 L1903.7,1101.9 L1907.4,1094.8 L1911.2,1087.7 L1915.0,1080.6 L1918.7,1073.5 L1922.5,1066.4 L1926.3,1059.3 L1930.0,1052.2 L1933.8,1045.1 L1937.5,1038.1 L1941.3,1031.0 L1945.1,1023.9 L1948.8,1016.9 L1952.6,1009.8 L1956.4,1002.8 L1960.1,995.7 L1963.9,988.7 L1967.6,981.7 L1971.4,974.7 L1975.2,967.8 L1978.9,960.8 L1982.7,953.9 L1986.5,946.9 L1990.2,940.0 L1994.0,933.1 L1997.7,926.3 L2001.5,919.4 L2005.3,912.6 L2009.0,905.8 L2012.8,899.0 L2016.6,892.3 L2020.3,885.5 L2024.1,878.9 L2027.8,872.2 L2031.6,865.5 L2035.4,858.9 L2039.1,852.4 L2042.9,845.8 L2046.7,839.3 L2050.4,832.8 L2054.2,826.4 L2057.9,820.0 L2061.7,813.6 L2065.5,807.3 L2069.2,801.0 L2073.0,794.7 L2076.8,788.5 L2080.5,782.4 L2084.3,776.2 L2088.0,770.1 L2091.8,764.1 L2095.6,758.1 L2099.3,752.2 L2103.1,746.3 L2106.9,740.4 L2110.6,734.6 L2114.4,728.9 L2118.1,723.1 L2121.9,717.5 L2125.7,711.9 L2129.4,706.3 L2133.2,700.8 L2137.0,695.4 L2140.7,690.0 L2144.5,684.7 L2148.2,679.4 L2152.0,674.2 L2155.8,669.0 L2159.5,664.0 L2163.3,658.9 L2167.1,653.9 L2170.8,649.0 L2174.6,644.2 L2178.3,639.4 L2182.1,634.7 L2185.9,630.0 L2189.6,625.4 L2193.4,620.9 L2197.2,616.4 L2200.9,612.0 L2204.7,607.7 L2208.4,603.4 L2212.2,599.2 L2216.0,595.1 L2219.7,591.0 L2223.5,587.0 L2227.3,583.1 L2231.0,579.3 L2234.8,575.5 L2238.5,571.8 L2242.3,568.2 L2246.1,564.6 L2249.8,561.2 L2253.6,557.8 L2257.4,554.4 L2261.1,551.2 L2264.9,548.0 L2268.6,544.9 L2272.4,541.9 L2276.2,538.9 L2279.9,536.1 L2283.7,533.3 L2287.5,530.6 L2291.2,527.9 L2295.0,525.4 L2298.7,522.9 L2302.5,520.5 L2306.3,518.2 L2310.0,515.9 L2313.8,513.8 L2317.6,511.7 L2321.3,509.7 L2325.1,507.8 L2328.8,505.9 L2332.6,504.2 L2336.4,502.5 L2340.1,500.9 L2343.9,499.4 L2347.7,498.0 L2351.4,496.6 L2355.2,495.4 L2358.9,494.2 L2362.7,493.1 L2366.5,492.0 L2370.2,491.1 L2374.0,490.2 L2377.8,489.5 L2381.5,488.8 L2385.3,488.1 L2389.0,487.6 L2392.8,487.1 L2396.6,486.8 L2400.3,486.5 L2404.1,486.2 L2407.9,486.1 L2411.6,486.0 L2415.4,486.0 L2419.2,486.1 L2423.0,486.2 L2426.8,486.5 L2430.6,486.8 L2434.5,487.1 L2438.3,487.6 L2442.1,488.1 L2445.9,488.8 L2449.7,489.5 L2453.5,490.2 L2457.3,491.1 L2461.1,492.0 L2464.9,493.1 L2468.7,494.2 L2472.5,495.4 L2476.4,496.6 L2480.2,498.0 L2484.0,499.4 L2487.8,500.9 L2491.6,502.5 L2495.4,504.2 L2499.2,505.9 L2503.0,507.8 L2506.8,509.7 L2510.6,511.7 L2514.5,513.8 L2518.3,515.9 L2522.1,518.2 L2525.9,520.5 L2529.7,522.9 L2533.5,525.4 L2537.3,527.9 L2541.1,530.6 L2544.9,533.3 L2548.7,536.1 L2552.5,538.9 L2556.4,541.9 L2560.2,544.9 L2564.0,548.0 L2567.8,551.2 L2571.6,554.4 L2575.4,557.8 L2579.2,561.2 L2583.0,564.6 L2586.8,568.2 L2590.6,571.8 L2594.5,575.5 L2598.3,579.3 L2602.1,583.1 L2605.9,587.0 L2609.7,591.0 L2613.5,595.1 L2617.3,599.2 L2621.1,603.4 L2624.9,607.7 L2628.7,612.0 L2632.5,616.4 L2636.4,620.9 L2640.2,625.4 L2644.0,630.0 L2647.8,634.7 L2651.6,639.4 L2655.4,644.2 L2659.2,649.0 L2663.0,653.9 L2666.8,658.9 L2670.6,664.0 L2674.4,669.0 L2678.3,674.2 L2682.1,679.4 L2685.9,684.7 L2689.7,690.0 L2693.5,695.4 L2697.3,700.8 L2701.1,706.3 L2704.9,711.9 L2708.7,717.5 L2712.5,723.1 L2716.3,728.9 L2720.2,734.6 L2724.0,740.4 L2727.8,746.3 L2731.6,752.2 L2735.4,758.1 L2739.2,764.1 L2743.0,770.1 L2746.8,776.2 L2750.6,782.4 L2754.4,788.5 L2758.2,794.7 L2762.1,801.0 L2765.9,807.3 L2769.7,813.6 L2773.5,820.0 L2777.3,826.4 L2781.1,832.8 L2784.9,839.3 L2788.7,845.8 L2792.5,852.4 L2796.3,858.9 L2800.1,865.5 L2803.9,872.2 L2807.8,878.9 L2811.6,885.5 L2815.4,892.3 L2819.2,899.0 L2823.0,905.8 L2826.8,912.6 L2830.6,919.4 L2834.4,926.3 L2838.2,933.1 L2842.0,940.0 L2845.8,946.9 L2849.6,953.9 L2853.4,960.8 L2857.2,967.8 L2861.1,974.7 L2864.9,981.7 L2868.7,988.7 L2872.5,995.7 L2876.3,1002.8 L2880.1,1009.8 L2883.9,1016.9 L2887.7,1023.9 L2891.5,1031.0 L2895.3,1038.1 L2899.1,1045.1 L2902.9,1052.2 L2906.7,1059.3 L2910.5,1066.4 L2914.3,1073.5 L2918.1,1080.6 L2921.9,1087.7 L2925.7,1094.8 L2929.5,1101.9 L2933.4,1109.0 L2937.2,1116.0 L2941.0,1123.1 L2944.8,1130.2 L2948.6,1137.3 L2952.4,1144.3 L2956.2,1151.4 L2960.0,1158.4 L2963.8,1165.4 L2967.6,1172.5 L2971.4,1179.5 L2975.2,1186.5 L2979.0,1193.4 L2982.8,1200.4 L2986.6,1207.4 L2990.4,1214.3 L2994.2,1221.2 L2998.0,1228.1 L3001.8,1235.0 L3005.6,1241.9 L3009.4,1248.7 L3013.2,1255.5 L3017.0,1262.3 L3020.8,1269.1 L3024.6,1275.8 L3028.4,1282.5 L3032.2,1289.2 L3036.0,1295.9 L3039.8,1302.6 L3043.6,1309.2 L3047.4,1315.8 L3051.2,1322.3 L3055.0,1328.8 L3058.8,1335.3 L3062.6,1341.8 L3066.4,1348.2 L3070.2,1354.6 L3074.0,1361.0 L3077.8,1367.3 L3081.6,1373.6 L3085.3,1379.9 L3089.1,1386.1 L3092.9,1392.3 L3096.7,1398.4 L3100.5,1404.5 L3104.3,1410.6 L3108.1,1416.6 L3111.9,1422.6 L3115.7,1428.6 L3119.5,1434.5 L3123.3,1440.4 L3127.1,1446.2 L3130.8,1452.0 L3134.6,1457.7 L3138.4,1463.4 L3142.2,1469.0 L3146.0,1474.6 L3149.8,1480.2 L3153.6,1485.7 L3157.4,1491.2 L3161.2,1496.6 L3164.9,1502.0 L3168.7,1507.3 L3172.5,1512.6 L3176.3,1517.8 L3180.1,1523.0 L3183.9,1528.1 L3187.6,1533.2 L3191.4,1538.2 L3195.2,1543.2 L3199.0,1548.2 L3202.8,1553.0 L3206.5,1557.9 L3210.3,1562.7 L3214.1,1567.4 L3217.9,1572.1 L3221.7,1576.7 L3225.4,1581.3 L3229.2,1585.8 L3233.0,1590.3 L3236.8,1594.7 L3240.5,1599.0 L3244.3,1603.3 L3248.1,1607.6 L3251.9,1611.8 L3255.6,1616.0 L3259.4,1620.1 L3263.2,1624.1 L3266.9,1628.1 L3270.7,1632.0 L3274.5,1635.9 L3278.3,1639.7 L3282.0,1643.5 L3285.8,1647.2 L3289.6,1650.9 L3293.3,1654.5 L3297.1,1658.1 L3300.8,1661.6 L3304.6,1665.0 L3308.4,1668.4 L3312.1,1671.8 L3315.9,1675.1 L3319.6,1678.3 L3323.4,1681.5 L3327.2,1684.7 L3330.9,1687.7 L3334.7,1690.8 L3338.4,1693.7 L3342.2,1696.7 L3345.9,1699.5 L3349.7,1702.4 L3353.4,1705.1 L3357.2,1707.8 L3360.9,1710.5 L3364.7,1713.1 L3368.4,1715.7 L3372.2,1718.2 L3375.9,1720.7 L3379.7,1723.1 L3383.4,1725.4 L3387.1,1727.8 L3390.9,1730.0 L3394.6,1732.2 L3398.4,1734.4 L3402.1,1736.5 L3405.8,1738.6 L3409.6,1740.6 L3413.3,1742.6 L3417.0,1744.5 L3420.8,1746.4 L3424.5,1748.3 L3428.2,1750.1 L3432.0,1751.8 L3435.7,1753.5 L3439.4,1755.2 L3443.1,1756.8 L3446.9,1758.4 L3450.6,1759.9 L3454.3,1761.4 L3458.0,1762.9 L3461.7,1764.3 L3465.5,1765.7 L3469.2,1767.0 L3472.9,1768.3 L3476.6,1769.5 L3480.3,1770.7 L3484.0,1771.9 L3487.7,1773.1 L3491.4,1774.2 L3495.1,1775.2 L3498.9,1776.3 L3502.6,1777.3 L3506.3,1778.2 L3510.0,1779.2 L3513.7,1780.0 L3517.3,1780.9 L3521.0,1781.7 L3524.7,1782.5 L3528.4,1783.3 L3532.1,1784.0 L3535.8,1784.7 L3539.5,1785.4 L3543.2,1786.1 L3546.9,1786.7 L3550.5,1787.3 L3554.2,1787.9 L3557.9,1788.4 L3561.6,1788.9 L3565.3,1789.4 L3568.9,1789.9 L3572.6,1790.3 L3576.3,1790.8 L3579.9,1791.2 L3583.6,1791.5 L3587.3,1791.9 L3590.9,1792.2 L3594.6,1792.5 L3598.2,1792.8 L3601.9,1793.1 L3605.6,1793.4 L3609.2,1793.6 L3612.9,1793.9 L3616.5,1794.1 L3620.2,1794.3 L3623.8,1794.5 L3627.4,1794.6 L3631.1,1794.8 L3634.7,1794.9 L3638.4,1795.1 L3642.0,1795.2 L3645.6,1795.3 L3649.3,1795.4 L3652.9,1795.5 L3656.5,1795.5 L3660.1,1795.6 L3663.7,1795.7 L3667.4,1795.7 L3671.0,1795.8 L3674.6,1795.8 L3678.2,1795.9 L3681.8,1795.9 L3685.4,1795.9 L3689.0,1795.9 L3692.6,1796.0 L3696.2,1796.0 L3699.8,1796.0 L3703.4,1796.0 L3707.0,1796.0 L3710.6,1796.0 L3714.2,1796.0 L3717.8,1796.0 L3721.3,1796.0 L3724.9,1796.0 L3728.5,1796.0" fill="none" stroke="#b6007b" stroke-width="4" />
<path d="M1098.5,1796.0 L1102.3,1796.0 L1106.0,1796.0 L1109.8,1796.0 L1113.6,1796.0 L1117.3,1796.0 L1121.1,1796.0 L1124.8,1796.0 L1128.6,1796.0 L1132.4,1796.0 L1136.1,1796.0 L1139.9,1795.9 L1143.7,1795.9 L1147.4,1795.9 L1151.2,1795.9 L1154.9,1795.8 L1158.7,1795.8 L1162.5,1795.7 L1166.2,1795.7 L1170.0,1795.6 L1173.8,1795.6 L1177.5,1795.5 L1181.3,1795.4 L1185.0,1795.3 L1188.8,1795.2 L1192.6,1795.1 L1196.3,1794.9 L1200.1,1794.8 L1203.9,1794.7 L1207.6,1794.5 L1211.4,1794.3 L1215.1,1794.1 L1218.9,1793.9 L1222.7,1793.7 L1226.4,1793.4 L1230.2,1793.2 L1234.0,1792.9 L1237.7,1792.6 L1241.5,1792.3 L1245.2,1792.0 L1249.0,1791.6 L1252.8,1791.3 L1256.5,1790.9 L1260.3,1790.5 L1264.1,1790.0 L1267.8,1789.6 L1271.6,1789.1 L1275.3,1788.6 L1279.1,1788.1 L1282.9,1787.5 L1286.6,1786.9 L1290.4,1786.3 L1294.2,1785.7 L1297.9,1785.0 L1301.7,1784.3 L1305.4,1783.6 L1309.2,1782.9 L1313.0,1782.1 L1316.7,1781.3 L1320.5,1780.4 L1324.3,1779.6 L1328.0,1778.7 L1331.8,1777.7 L1335.5,1776.7 L1339.3,1775.7 L1343.1,1774.7 L1346.8,1773.6 L1350.6,1772.5 L1354.4,1771.4 L1358.1,1770.2 L1361.9,1769.0 L1365.6,1767.7 L1369.4,1766.4 L1373.2,1765.1 L1376.9,1763.7 L1380.7,1762.3 L1384.5,1760.8 L1388.2,1759.3 L1392.0,1757.8 L1395.7,1756.2 L1399.5,1754.6 L1403.3,1752.9 L1407.0,1751.2 L1410.8,1749.4 L1414.6,1747.6 L1418.3,1745.8 L1422.1,1743.9 L1425.8,1742.0 L1429.6,1740.0 L1433.4,1738.0 L1437.1,1735.9 L1440.9,1733.8 L1444.7,1731.6 L1448.4,1729.4 L1452.2,1727.1 L1455.9,1724.8 L1459.7,1722.5 L1463.5,1720.1 L1467.2,1717.6 L1471.0,1715.1 L1474.8,1712.6 L1478.5,1710.0 L1482.3,1707.3 L1486.0,1704.6 L1489.8,1701.9 L1493.6,1699.1 L1497.3,1696.2 L1501.1,1693.3 L1504.9,1690.3 L1508.6,1687.3 L1512.4,1684.3 L1516.1,1681.2 L1519.9,1678.0 L1523.7,1674.8 L1527.4,1671.5 L1531.2,1668.2 L1535.0,1664.8 L1538.7,1661.4 L1542.5,1657.9 L1546.2,1654.4 L1550.0,1650.8 L1553.8,1647.2 L1557.5,1643.5 L1561.3,1639.8 L1565.1,1636.0 L1568.8,1632.1 L1572.6,1628.2 L1576.3,1624.3 L1580.1,1620.3 L1583.9,1616.3 L1587.6,1612.1 L1591.4,1608.0 L1595.2,1603.8 L1598.9,1599.5 L1602.7,1595.2 L1606.4,1590.9 L1610.2,1586.4 L1614.0,1582.0 L1617.7,1577.5 L1621.5,1572.9 L1625.3,1568.3 L1629.0,1563.6 L1632.8,1558.9 L1636.5,1554.1 L1640.3,1549.3 L1644.1,1544.5 L1647.8,1539.6 L1651.6,1534.6 L1655.4,1529.6 L1659.1,1524.5 L1662.9,1519.4 L1666.6,1514.3 L1670.4,1509.1 L1674.2,1503.8 L1677.9,1498.5 L1681.7,1493.2 L1685.5,1487.8 L1689.2,1482.4 L1693.0,1476.9 L1696.7,1471.4 L1700.5,1465.9 L1704.3,1460.3 L1708.0,1454.6 L1711.8,1448.9 L1715.6,1443.2 L1719.3,1437.4 L1723.1,1431.6 L1726.8,1425.8 L1730.6,1419.9 L1734.4,1414.0 L1738.1,1408.0 L1741.9,1402.0 L1745.7,1396.0 L1749.4,1389.9 L1753.2,1383.8 L1756.9,1377.7 L1760.7,1371.5 L1764.5,1365.3 L1768.2,1359.0 L1772.0,1352.8 L1775.8,1346.4 L1779.5,1340.1 L1783.3,1333.7 L1787.0,1327.3 L1790.8,1320.9 L1794.6,1314.5 L1798.3,1308.0 L1802.1,1301.5 L1805.9,1294.9 L1809.6,1288.4 L1813.4,1281.8 L1817.1,1275.2 L1820.9,1268.5 L1824.7,1261.9 L1828.4,1255.2 L1832.2,1248.5 L1836.0,1241.8 L1839.7,1235.1 L1843.5,1228.3 L1847.2,1221.6 L1851.0,1214.8 L1854.8,1208.0 L1858.5,1201.2 L1862.3,1194.3 L1866.1,1187.5 L1869.8,1180.7 L1873.6,1173.8 L1877.3,1166.9 L1881.1,1160.0 L1884.9,1153.1 L1888.6,1146.3 L1892.4,1139.3 L1896.2,1132.4 L1899.9,1125.5 L1903.7,1118.6 L1907.4,1111.7 L1911.2,1104.8 L1915.0,1097.8 L1918.7,1090.9 L1922.5,1084.0 L1926.3,1077.1 L1930.0,1070.2 L1933.8,1063.3 L1937.5,1056.3 L1941.3,1049.4 L1945.1,1042.5 L1948.8,1035.7 L1952.6,1028.8 L1956.4,1021.9 L1960.1,1015.1 L1963.9,1008.2 L1967.6,1001.4 L1971.4,994.5 L1975.2,987.7 L1978.9,980.9 L1982.7,974.2 L1986.5,967.4 L1990.2,960.7 L1994.0,953.9 L1997.7,947.2 L2001.5,940.6 L2005.3,933.9 L2009.0,927.3 L2012.8,920.7 L2016.6,914.1 L2020.3,907.5 L2024.1,901.0 L2027.8,894.5 L2031.6,888.0 L2035.4,881.5 L2039.1,875.1 L2042.9,868.7 L2046.7,862.4 L2050.4,856.1 L2054.2,849.8 L2057.9,843.5 L2061.7,837.3 L2065.5,831.1 L2069.2,825.0 L2073.0,818.9 L2076.8,812.8 L2080.5,806.8 L2084.3,800.8 L2088.0,794.9 L2091.8,789.0 L2095.6,783.2 L2099.3,777.3 L2103.1,771.6 L2106.9,765.9 L2110.6,760.2 L2114.4,754.6 L2118.1,749.0 L2121.9,743.5 L2125.7,738.0 L2129.4,732.6 L2133.2,727.3 L2137.0,722.0 L2140.7,716.7 L2144.5,711.5 L2148.2,706.4 L2152.0,701.3 L2155.8,696.2 L2159.5,691.3 L2163.3,686.3 L2167.1,681.5 L2170.8,676.7 L2174.6,672.0 L2178.3,667.3 L2182.1,662.7 L2185.9,658.1 L2189.6,653.6 L2193.4,649.2 L2197.2,644.9 L2200.9,640.6 L2204.7,636.3 L2208.4,632.2 L2212.2,628.1 L2216.0,624.0 L2219.7,620.1 L2223.5,616.2 L2227.3,612.4 L2231.0,608.6 L2234.8,605.0 L2238.5,601.3 L2242.3,597.8 L2246.1,594.3 L2249.8,590.9 L2253.6,587.6 L2257.4,584.4 L2261.1,581.2 L2264.9,578.1 L2268.6,575.1 L2272.4,572.1 L2276.2,569.2 L2279.9,566.4 L2283.7,563.7 L2287.5,561.1 L2291.2,558.5 L2295.0,556.0 L2298.7,553.6 L2302.5,551.3 L2306.3,549.0 L2310.0,546.8 L2313.8,544.7 L2317.6,542.7 L2321.3,540.7 L2325.1,538.8 L2328.8,537.1 L2332.6,535.3 L2336.4,533.7 L2340.1,532.2 L2343.9,530.7 L2347.7,529.3 L2351.4,528.0 L2355.2,526.7 L2358.9,525.6 L2362.7,524.5 L2366.5,523.5 L2370.2,522.6 L2374.0,521.7 L2377.8,521.0 L2381.5,520.3 L2385.3,519.7 L2389.0,519.2 L2392.8,518.7 L2396.6,518.3 L2400.3,518.0 L2404.1,517.8 L2407.9,517.7 L2411.6,517.6 L2415.4,517.6 L2419.2,517.7 L2423.0,517.8 L2426.8,518.0 L2430.6,518.3 L2434.5,518.7 L2438.3,519.2 L2442.1,519.7 L2445.9,520.3 L2449.7,521.0 L2453.5,521.7 L2457.3,522.6 L2461.1,523.5 L2464.9,524.5 L2468.7,525.6 L2472.5,526.7 L2476.4,528.0 L2480.2,529.3 L2484.0,530.7 L2487.8,532.2 L2491.6,533.7 L2495.4,535.3 L2499.2,537.1 L2503.0,538.8 L2506.8,540.7 L2510.6,542.7 L2514.5,544.7 L2518.3,546.8 L2522.1,549.0 L2525.9,551.3 L2529.7,553.6 L2533.5,556.0 L2537.3,558.5 L2541.1,561.1 L2544.9,563.7 L2548.7,566.4 L2552.5,569.2 L2556.4,572.1 L2560.2,575.1 L2564.0,578.1 L2567.8,581.2 L2571.6,584.4 L2575.4,587.6 L2579.2,590.9 L2583.0,594.3 L2586.8,597.8 L2590.6,601.3 L2594.5,605.0 L2598.3,608.6 L2602.1,612.4 L2605.9,616.2 L2609.7,620.1 L2613.5,624.0 L2617.3,628.1 L2621.1,632.2 L2624.9,636.3 L2628.7,640.6 L2632.5,644.9 L2636.4,649.2 L2640.2,653.6 L2644.0,658.1 L2647.8,662.7 L2651.6,667.3 L2655.4,672.0 L2659.2,676.7 L2663.0,681.5 L2666.8,686.3 L2670.6,691.3 L2674.4,696.2 L2678.3,701.3 L2682.1,706.4 L2685.9,711.5 L2689.7,716.7 L2693.5,722.0 L2697.3,727.3 L2701.1,732.6 L2704.9,738.0 L2708.7,743.5 L2712.5,749.0 L2716.3,754.6 L2720.2,760.2 L2724.0,765.9 L2727.8,771.6 L2731.6,777.3 L2735.4,783.2 L2739.2,789.0 L2743.0,794.9 L2746.8,800.8 L2750.6,806.8 L2754.4,812.8 L2758.2,818.9 L2762.1,825.0 L2765.9,831.1 L2769.7,837.3 L2773.5,843.5 L2777.3,849.8 L2781.1,856.1 L2784.9,862.4 L2788.7,868.7 L2792.5,875.1 L2796.3,881.5 L2800.1,888.0 L2803.9,894.5 L2807.8,901.0 L2811.6,907.5 L2815.4,914.1 L2819.2,920.7 L2823.0,927.3 L2826.8,933.9 L2830.6,940.6 L2834.4,947.2 L2838.2,953.9 L2842.0,960.7 L2845.8,967.4 L2849.6,974.2 L2853.4,980.9 L2857.2,987.7 L2861.1,994.5 L2864.9,1001.4 L2868.7,1008.2 L2872.5,1015.1 L2876.3,1021.9 L2880.1,1028.8 L2883.9,1035.7 L2887.7,1042.5 L2891.5,1049.4 L2895.3,1056.3 L2899.1,1063.3 L2902.9,1070.2 L2906.7,1077.1 L2910.5,1084.0 L2914.3,1090.9 L2918.1,1097.8 L2921.9,1104.8 L2925.7,1111.7 L2929.5,1118.6 L2933.4,1125.5 L2937.2,1132.4 L2941.0,1139.3 L2944.8,1146.3 L2948.6,1153.1 L2952.4,1160.0 L2956.2,1166.9 L2960.0,1173.8 L2963.8,1180.7 L2967.6,1187.5 L2971.4,1194.3 L2975.2,1201.2 L2979.0,1208.0 L2982.8,1214.8 L2986.6,1221.6 L2990.4,1228.3 L2994.2,1235.1 L2998.0,1241.8 L3001.8,1248.5 L3005.6,1255.2 L3009.4,1261.9 L3013.2,1268.5 L3017.0,1275.2 L3020.8,1281.8 L3024.6,1288.4 L3028.4,1294.9 L3032.2,1301.5 L3036.0,1308.0 L3039.8,1314.5 L3043.6,1320.9 L3047.4,1327.3 L3051.2,1333.7 L3055.0,1340.1 L3058.8,1346.4 L3062.6,1352.8 L3066.4,1359.0 L3070.2,1365.3 L3074.0,1371.5 L3077.8,1377.7 L3081.6,1383.8 L3085.3,1389.9 L3089.1,1396.0 L3092.9,1402.0 L3096.7,1408.0 L3100.5,1414.0 L3104.3,1419.9 L3108.1,1425.8 L3111.9,1431.6 L3115.7,1437.4 L3119.5,1443.2 L3123.3,1448.9 L3127.1,1454.6 L3130.8,1460.3 L3134.6,1465.9 L3138.4,1471.4 L3142.2,1476.9 L3146.0,1482.4 L3149.8,1487.8 L3153.6,1493.2 L3157.4,1498.5 L3161.2,1503.8 L3164.9,1509.1 L3168.7,1514.3 L3172.5,1519.4 L3176.3,1524.5 L3180.1,1529.6 L3183.9,1534.6 L3187.6,1539.6 L3191.4,1544.5 L3195.2,1549.3 L3199.0,1554.1 L3202.8,1558.9 L3206.5,1563.6 L3210.3,1568.3 L3214.1,1572.9 L3217.9,1577.5 L3221.7,1582.0 L3225.4,1586.4 L3229.2,1590.9 L3233.0,1595.2 L3236.8,1599.5 L3240.5,1603.8 L3244.3,1608.0 L3248.1,1612.1 L3251.9,1616.3 L3255.6,1620.3 L3259.4,1624.3 L3263.2,1628.2 L3266.9,1632.1 L3270.7,1636.0 L3274.5,1639.8 L3278.3,1643.5 L3282.0,1647.2 L3285.8,1650.8 L3289.6,1654.4 L3293.3,1657.9 L3297.1,1661.4 L3300.8,1664.8 L3304.6,1668.2 L3308.4,1671.5 L3312.1,1674.8 L3315.9,1678.0 L3319.6,1681.2 L3323.4,1684.3 L3327.2,1687.3 L3330.9,1690.3 L3334.7,1693.3 L3338.4,1696.2 L3342.2,1699.1 L3345.9,1701.9 L3349.7,1704.6 L3353.4,1707.3 L3357.2,1710.0 L3360.9,1712.6 L3364.7,1715.1 L3368.4,1717.6 L3372.2,1720.1 L3375.9,1722.5 L3379.7,1724.8 L3383.4,1727.1 L3387.1,1729.4 L3390.9,1731.6 L3394.6,1733.8 L3398.4,1735.9 L3402.1,1738.0 L3405.8,1740.0 L3409.6,1742.0 L3413.3,1743.9 L3417.0,1745.8 L3420.8,1747.6 L3424.5,1749.4 L3428.2,1751.2 L3432.0,1752.9 L3435.7,1754.6 L3439.4,1756.2 L3443.1,1757.8 L3446.9,1759.3 L3450.6,1760.8 L3454.3,1762.3 L3458.0,1763.7 L3461.7,1765.1 L3465.5,1766.4 L3469.2,1767.7 L3472.9,1769.0 L3476.6,1770.2 L3480.3,1771.4 L3484.0,1772.5 L3487.7,1773.6 L3491.4,1774.7 L3495.1,1775.7 L3498.9,1776.7 L3502.6,1777.7 L3506.3,1778.7 L3510.0,1779.6 L3513.7,1780.4 L3517.3,1781.3 L3521.0,1782.1 L3524.7,1782.9 L3528.4,1783.6 L3532.1,1784.3 L3535.8,1785.0 L3539.5,1785.7 L3543.2,1786.3 L3546.9,1786.9 L3550.5,1787.5 L3554.2,1788.1 L3557.9,1788.6 L3561.6,1789.1 L3565.3,1789.6 L3568.9,1790.0 L3572.6,1790.5 L3576.3,1790.9 L3579.9,1791.3 L3583.6,1791.6 L3587.3,1792.0 L3590.9,1792.3 L3594.6,1792.6 L3598.2,1792.9 L3601.9,1793.2 L3605.6,1793.4 L3609.2,1793.7 L3612.9,1793.9 L3616.5,1794.1 L3620.2,1794.3 L3623.8,1794.5 L3627.4,1794.7 L3631.1,1794.8 L3634.7,1794.9 L3638.4,1795.1 L3642.0,1795.2 L3645.6,1795.3 L3649.3,1795.4 L3652.9,1795.5 L3656.5,1795.6 L3660.1,1795.6 L3663.7,1795.7 L3667.4,1795.7 L3671.0,1795.8 L3674.6,1795.8 L3678.2,1795.9 L3681.8,1795.9 L3685.4,1795.9 L3689.0,1795.9 L3692.6,1796.0 L3696.2,1796.0 L3699.8,1796.0 L3703.4,1796.0 L3707.0,1796.0 L3710.6,1796.0 L3714.2,1796.0 L3717.8,1796.0 L3721.3,1796.0 L3724.9,1796.0 L3728.5,1796.0" fill="none" stroke="#b6007b" stroke-width="2" />
<path d="M1098.5,1796.0 L1102.3,1796.0 L1106.0,1796.0 L1109.8,1796.0 L1113.6,1796.0 L1117.3,1796.0 L1121.1,1796.0 L1124.8,1796.0 L1128.6,1796.0 L1132.4,1796.0 L1136.1,1796.0 L1139.9,1795.9 L1143.7,1795.9 L1147.4,1795.9 L1151.2,1795.8 L1154.9,1795.8 L1158.7,1795.8 L1162.5,1795.7 L1166.2,1795.7 L1170.0,1795.6 L1173.8,1795.5 L1177.5,1795.4 L1181.3,1795.3 L1185.0,1795.2 L1188.8,1795.1 L1192.6,1795.0 L1196.3,1794.8 L1200.1,1794.7 L1203.9,1794.5 L1207.6,1794.3 L1211.4,1794.1 L1215.1,1793.9 L1218.9,1793.7 L1222.7,1793.4 L1226.4,1793.1 L1230.2,1792.8 L1234.0,1792.5 L1237.7,1792.2 L1241.5,1791.9 L1245.2,1791.5 L1249.0,1791.1 L1252.8,1790.7 L1256.5,1790.2 L1260.3,1789.8 L1264.1,1789.3 L1267.8,1788.8 L1271.6,1788.2 L1275.3,1787.7 L1279.1,1787.1 L1282.9,1786.5 L1286.6,1785.8 L1290.4,1785.1 L1294.2,1784.4 L1297.9,1783.7 L1301.7,1782.9 L1305.4,1782.1 L1309.2,1781.3 L1313.0,1780.4 L1316.7,1779.5 L1320.5,1778.5 L1324.3,1777.5 L1328.0,1776.5 L1331.8,1775.5 L1335.5,1774.4 L1339.3,1773.3 L1343.1,1772.1 L1346.8,1770.9 L1350.6,1769.6 L1354.4,1768.3 L1358.1,1767.0 L1361.9,1765.6 L1365.6,1764.2 L1369.4,1762.8 L1373.2,1761.3 L1376.9,1759.7 L1380.7,1758.1 L1384.5,1756.5 L1388.2,1754.8 L1392.0,1753.1 L1395.7,1751.3 L1399.5,1749.5 L1403.3,1747.6 L1407.0,1745.7 L1410.8,1743.7 L1414.6,1741.7 L1418.3,1739.6 L1422.1,1737.5 L1425.8,1735.3 L1429.6,1733.1 L1433.4,1730.9 L1437.1,1728.5 L1440.9,1726.2 L1444.7,1723.7 L1448.4,1721.2 L1452.2,1718.7 L1455.9,1716.1 L1459.7,1713.5 L1463.5,1710.8 L1467.2,1708.0 L1471.0,1705.2 L1474.8,1702.4 L1478.5,1699.4 L1482.3,1696.5 L1486.0,1693.4 L1489.8,1690.3 L1493.6,1687.2 L1497.3,1684.0 L1501.1,1680.7 L1504.9,1677.4 L1508.6,1674.0 L1512.4,1670.6 L1516.1,1667.1 L1519.9,1663.6 L1523.7,1659.9 L1527.4,1656.3 L1531.2,1652.6 L1535.0,1648.8 L1538.7,1644.9 L1542.5,1641.0 L1546.2,1637.1 L1550.0,1633.0 L1553.8,1629.0 L1557.5,1624.8 L1561.3,1620.6 L1565.1,1616.4 L1568.8,1612.1 L1572.6,1607.7 L1576.3,1603.3 L1580.1,1598.8 L1583.9,1594.2 L1587.6,1589.6 L1591.4,1585.0 L1595.2,1580.2 L1598.9,1575.5 L1602.7,1570.6 L1606.4,1565.7 L1610.2,1560.8 L1614.0,1555.8 L1617.7,1550.7 L1621.5,1545.6 L1625.3,1540.4 L1629.0,1535.2 L1632.8,1529.9 L1636.5,1524.5 L1640.3,1519.1 L1644.1,1513.7 L1647.8,1508.1 L1651.6,1502.6 L1655.4,1496.9 L1659.1,1491.3 L1662.9,1485.5 L1666.6,1479.8 L1670.4,1473.9 L1674.2,1468.0 L1677.9,1462.1 L1681.7,1456.1 L1685.5,1450.1 L1689.2,1444.0 L1693.0,1437.8 L1696.7,1431.7 L1700.5,1425.4 L1704.3,1419.1 L1708.0,1412.8 L1711.8,1406.4 L1715.6,1400.0 L1719.3,1393.5 L1723.1,1387.0 L1726.8,1380.4 L1730.6,1373.8 L1734.4,1367.2 L1738.1,1360.5 L1741.9,1353.8 L1745.7,1347.0 L1749.4,1340.2 L1753.2,1333.3 L1756.9,1326.4 L1760.7,1319.5 L1764.5,1312.5 L1768.2,1305.5 L1772.0,1298.5 L1775.8,1291.4 L1779.5,1284.3 L1783.3,1277.1 L1787.0,1269.9 L1790.8,1262.7 L1794.6,1255.5 L1798.3,1248.2 L1802.1,1240.9 L1805.9,1233.5 L1809.6,1226.2 L1813.4,1218.8 L1817.1,1211.4 L1820.9,1203.9 L1824.7,1196.5 L1828.4,1189.0 L1832.2,1181.5 L1836.0,1173.9 L1839.7,1166.4 L1843.5,1158.8 L1847.2,1151.2 L1851.0,1143.6 L1854.8,1136.0 L1858.5,1128.3 L1862.3,1120.6 L1866.1,1113.0 L1869.8,1105.3 L1873.6,1097.6 L1877.3,1089.9 L1881.1,1082.1 L1884.9,1074.4 L1888.6,1066.7 L1892.4,1058.9 L1896.2,1051.2 L1899.9,1043.4 L1903.7,1035.6 L1907.4,1027.9 L1911.2,1020.1 L1915.0,1012.3 L1918.7,1004.6 L1922.5,996.8 L1926.3,989.0 L1930.0,981.3 L1933.8,973.5 L1937.5,965.7 L1941.3,958.0 L1945.1,950.3 L1948.8,942.5 L1952.6,934.8 L1956.4,927.1 L1960.1,919.4 L1963.9,911.7 L1967.6,904.0 L1971.4,896.4 L1975.2,888.7 L1978.9,881.1 L1982.7,873.5 L1986.5,865.9 L1990.2,858.3 L1994.0,850.8 L1997.7,843.3 L2001.5,835.8 L2005.3,828.3 L2009.0,820.9 L2012.8,813.4 L2016.6,806.0 L2020.3,798.7 L2024.1,791.3 L2027.8,784.0 L2031.6,776.8 L2035.4,769.5 L2039.1,762.3 L2042.9,755.2 L2046.7,748.0 L2050.4,740.9 L2054.2,733.9 L2057.9,726.9 L2061.7,719.9 L2065.5,712.9 L2069.2,706.0 L2073.0,699.2 L2076.8,692.4 L2080.5,685.6 L2084.3,678.9 L2088.0,672.3 L2091.8,665.6 L2095.6,659.1 L2099.3,652.6 L2103.1,646.1 L2106.9,639.7 L2110.6,633.3 L2114.4,627.0 L2118.1,620.8 L2121.9,614.6 L2125.7,608.4 L2129.4,602.4 L2133.2,596.3 L2137.0,590.4 L2140.7,584.5 L2144.5,578.7 L2148.2,572.9 L2152.0,567.2 L2155.8,561.5 L2159.5,555.9 L2163.3,550.4 L2167.1,545.0 L2170.8,539.6 L2174.6,534.3 L2178.3,529.0 L2182.1,523.8 L2185.9,518.7 L2189.6,513.7 L2193.4,508.7 L2197.2,503.8 L2200.9,499.0 L2204.7,494.3 L2208.4,489.6 L2212.2,485.0 L2216.0,480.5 L2219.7,476.0 L2223.5,471.7 L2227.3,467.4 L2231.0,463.2 L2234.8,459.1 L2238.5,455.0 L2242.3,451.0 L2246.1,447.1 L2249.8,443.3 L2253.6,439.6 L2257.4,436.0 L2261.1,432.4 L2264.9,428.9 L2268.6,425.5 L2272.4,422.2 L2276.2,419.0 L2279.9,415.8 L2283.7,412.8 L2287.5,409.8 L2291.2,406.9 L2295.0,404.1 L2298.7,401.4 L2302.5,398.8 L2306.3,396.2 L2310.0,393.8 L2313.8,391.4 L2317.6,389.1 L2321.3,387.0 L2325.1,384.9 L2328.8,382.8 L2332.6,380.9 L2336.4,379.1 L2340.1,377.3 L2343.9,375.7 L2347.7,374.1 L2351.4,372.6 L2355.2,371.2 L2358.9,369.9 L2362.7,368.7 L2366.5,367.6 L2370.2,366.6 L2374.0,365.6 L2377.8,364.8 L2381.5,364.0 L2385.3,363.3 L2389.0,362.7 L2392.8,362.2 L2396.6,361.8 L2400.3,361.5 L2404.1,361.2 L2407.9,361.1 L2411.6,361.0 L2415.4,361.0 L2419.2,361.1 L2423.0,361.2 L2426.8,361.5 L2430.6,361.8 L2434.5,362.2 L2438.3,362.7 L2442.1,363.3 L2445.9,364.0 L2449.7,364.8 L2453.5,365.6 L2457.3,366.6 L2461.1,367.6 L2464.9,368.7 L2468.7,369.9 L2472.5,371.2 L2476.4,372.6 L2480.2,374.1 L2484.0,375.7 L2487.8,377.3 L2491.6,379.1 L2495.4,380.9 L2499.2,382.8 L2503.0,384.9 L2506.8,387.0 L2510.6,389.1 L2514.5,391.4 L2518.3,393.8 L2522.1,396.2 L2525.9,398.8 L2529.7,401.4 L2533.5,404.1 L2537.3,406.9 L2541.1,409.8 L2544.9,412.8 L2548.7,415.8 L2552.5,419.0 L2556.4,422.2 L2560.2,425.5 L2564.0,428.9 L2567.8,432.4 L2571.6,436.0 L2575.4,439.6 L2579.2,443.3 L2583.0,447.1 L2586.8,451.0 L2590.6,455.0 L2594.5,459.1 L2598.3,463.2 L2602.1,467.4 L2605.9,471.7 L2609.7,476.0 L2613.5,480.5 L2617.3,485.0 L2621.1,489.6 L2624.9,494.3 L2628.7,499.0 L2632.5,503.8 L2636.4,508.7 L2640.2,513.7 L2644.0,518.7 L2647.8,523.8 L2651.6,529.0 L2655.4,534.3 L2659.2,539.6 L2663.0,545.0 L2666.8,550.4 L2670.6,555.9 L2674.4,561.5 L2678.3,567.2 L2682.1,572.9 L2685.9,578.7 L2689.7,584.5 L2693.5,590.4 L2697.3,596.3 L2701.1,602.4 L2704.9,608.4 L2708.7,614.6 L2712.5,620.8 L2716.3,627.0 L2720.2,633.3 L2724.0,639.7 L2727.8,646.1 L2731.6,652.6 L2735.4,659.1 L2739.2,665.6 L2743.0,672.3 L2746.8,678.9 L2750.6,685.6 L2754.4,692.4 L2758.2,699.2 L2762.1,706.0 L2765.9,712.9 L2769.7,719.9 L2773.5,726.9 L2777.3,733.9 L2781.1,740.9 L2784.9,748.0 L2788.7,755.2 L2792.5,762.3 L2796.3,769.5 L2800.1,776.8 L2803.9,784.0 L2807.8,791.3 L2811.6,798.7 L2815.4,806.0 L2819.2,813.4 L2823.0,820.9 L2826.8,828.3 L2830.6,835.8 L2834.4,843.3 L2838.2,850.8 L2842.0,858.3 L2845.8,865.9 L2849.6,873.5 L2853.4,881.1 L2857.2,888.7 L2861.1,896.4 L2864.9,904.0 L2868.7,911.7 L2872.5,919.4 L2876.3,927.1 L2880.1,934.8 L2883.9,942.5 L2887.7,950.3 L2891.5,958.0 L2895.3,965.7 L2899.1,973.5 L2902.9,981.3 L2906.7,989.0 L2910.5,996.8 L2914.3,1004.6 L2918.1,1012.3 L2921.9,1020.1 L2925.7,1027.9 L2929.5,1035.6 L2933.4,1043.4 L2937.2,1051.2 L2941.0,1058.9 L2944.8,1066.7 L2948.6,1074.4 L2952.4,1082.1 L2956.2,1089.9 L2960.0,1097.6 L2963.8,1105.3 L2967.6,1113.0 L2971.4,1120.6 L2975.2,1128.3 L2979.0,1136.0 L2982.8,1143.6 L2986.6,1151.2 L2990.4,1158.8 L2994.2,1166.4 L2998.0,1173.9 L3001.8,1181.5 L3005.6,1189.0 L3009.4,1196.5 L3013.2,1203.9 L3017.0,1211.4 L3020.8,1218.8 L3024.6,1226.2 L3028.4,1233.5 L3032.2,1240.9 L3036.0,1248.2 L3039.8,1255.5 L3043.6,1262.7 L3047.4,1269.9 L3051.2,1277.1 L3055.0,1284.3 L3058.8,1291.4 L3062.6,1298.5 L3066.4,1305.5 L3070.2,1312.5 L3074.0,1319.5 L3077.8,1326.4 L3081.6,1333.3 L3085.3,1340.2 L3089.1,1347.0 L3092.9,1353.8 L3096.7,1360.5 L3100.5,1367.2 L3104.3,1373.8 L3108.1,1380.4 L3111.9,1387.0 L3115.7,1393.5 L3119.5,1400.0 L3123.3,1406.4 L3127.1,1412.8 L3130.8,1419.1 L3134.6,1425.4 L3138.4,1431.7 L3142.2,1437.8 L3146.0,1444.0 L3149.8,1450.1 L3153.6,1456.1 L3157.4,1462.1 L3161.2,1468.0 L3164.9,1473.9 L3168.7,1479.8 L3172.5,1485.5 L3176.3,1491.3 L3180.1,1496.9 L3183.9,1502.6 L3187.6,1508.1 L3191.4,1513.7 L3195.2,1519.1 L3199.0,1524.5 L3202.8,1529.9 L3206.5,1535.2 L3210.3,1540.4 L3214.1,1545.6 L3217.9,1550.7 L3221.7,1555.8 L3225.4,1560.8 L3229.2,1565.7 L3233.0,1570.6 L3236.8,1575.5 L3240.5,1580.2 L3244.3,1585.0 L3248.1,1589.6 L3251.9,1594.2 L3255.6,1598.8 L3259.4,1603.3 L3263.2,1607.7 L3266.9,1612.1 L3270.7,1616.4 L3274.5,1620.6 L3278.3,1624.8 L3282.0,1629.0 L3285.8,1633.0 L3289.6,1637.1 L3293.3,1641.0 L3297.1,1644.9 L3300.8,1648.8 L3304.6,1652.6 L3308.4,1656.3 L3312.1,1659.9 L3315.9,1663.6 L3319.6,1667.1 L3323.4,1670.6 L3327.2,1674.0 L3330.9,1677.4 L3334.7,1680.7 L3338.4,1684.0 L3342.2,1687.2 L3345.9,1690.3 L3349.7,1693.4 L3353.4,1696.5 L3357.2,1699.4 L3360.9,1702.4 L3364.7,1705.2 L3368.4,1708.0 L3372.2,1710.8 L3375.9,1713.5 L3379.7,1716.1 L3383.4,1718.7 L3387.1,1721.2 L3390.9,1723.7 L3394.6,1726.2 L3398.4,1728.5 L3402.1,1730.9 L3405.8,1733.1 L3409.6,1735.3 L3413.3,1737.5 L3417.0,1739.6 L3420.8,1741.7 L3424.5,1743.7 L3428.2,1745.7 L3432.0,1747.6 L3435.7,1749.5 L3439.4,1751.3 L3443.1,1753.1 L3446.9,1754.8 L3450.6,1756.5 L3454.3,1758.1 L3458.0,1759.7 L3461.7,1761.3 L3465.5,1762.8 L3469.2,1764.2 L3472.9,1765.6 L3476.6,1767.0 L3480.3,1768.3 L3484.0,1769.6 L3487.7,1770.9 L3491.4,1772.1 L3495.1,1773.3 L3498.9,1774.4 L3502.6,1775.5 L3506.3,1776.5 L3510.0,1777.5 L3513.7,1778.5 L3517.3,1779.5 L3521.0,1780.4 L3524.7,1781.3 L3528.4,1782.1 L3532.1,1782.9 L3535.8,1783.7 L3539.5,1784.4 L3543.2,1785.1 L3546.9,1785.8 L3550.5,1786.5 L3554.2,1787.1 L3557.9,1787.7 L3561.6,1788.2 L3565.3,1788.8 L3568.9,1789.3 L3572.6,1789.8 L3576.3,1790.2 L3579.9,1790.7 L3583.6,1791.1 L3587.3,1791.5 L3590.9,1791.9 L3594.6,1792.2 L3598.2,1792.5 L3601.9,1792.8 L3605.6,1793.1 L3609.2,1793.4 L3612.9,1793.7 L3616.5,1793.9 L3620.2,1794.1 L3623.8,1794.3 L3627.4,1794.5 L3631.1,1794.7 L3634.7,1794.8 L3638.4,1795.0 L3642.0,1795.1 L3645.6,1795.2 L3649.3,1795.3 L3652.9,1795.4 L3656.5,1795.5 L3660.1,1795.6 L3663.7,1795.7 L3667.4,1795.7 L3671.0,1795.8 L3674.6,1795.8 L3678.2,1795.8 L3681.8,1795.9 L3685.4,1795.9 L3689.0,1795.9 L3692.6,1796.0 L3696.2,1796.0 L3699.8,1796.0 L3703.4,1796.0 L3707.0,1796.0 L3710.6,1796.0 L3714.2,1796.0 L3717.8,1796.0 L3721.3,1796.0 L3724.9,1796.0 L3728.5,1796.0 L3728.5,1796.0 L3724.9,1796.0 L3721.3,1796.0 L3717.8,1796.0 L3714.2,1796.0 L3710.6,1796.0 L3707.0,1796.0 L3703.4,1796.0 L3699.8,1796.0 L3696.2,1796.0 L3692.6,1796.0 L3689.0,1795.9 L3685.4,1795.9 L3681.8,1795.9 L3678.2,1795.9 L3674.6,1795.8 L3671.0,1795.8 L3667.4,1795.7 L3663.7,1795.7 L3660.1,1795.6 L3656.5,1795.5 L3652.9,1795.4 L3649.3,1795.3 L3645.6,1795.2 L3642.0,1795.1 L3638.4,1795.0 L3634.7,1794.8 L3631.1,1794.7 L3627.4,1794.5 L3623.8,1794.3 L3620.2,1794.1 L3616.5,1793.9 L3612.9,1793.7 L3609.2,1793.5 L3605.6,1793.2 L3601.9,1792.9 L3598.2,1792.6 L3594.6,1792.3 L3590.9,1792.0 L3587.3,1791.6 L3583.6,1791.2 L3579.9,1790.8 L3576.3,1790.4 L3572.6,1789.9 L3568.9,1789.4 L3565.3,1788.9 L3561.6,1788.4 L3557.9,1787.9 L3554.2,1787.3 L3550.5,1786.7 L3546.9,1786.0 L3543.2,1785.4 L3539.5,1784.7 L3535.8,1783.9 L3532.1,1783.2 L3528.4,1782.4 L3524.7,1781.6 L3521.0,1780.7 L3517.3,1779.8 L3513.7,1778.9 L3510.0,1777.9 L3506.3,1776.9 L3502.6,1775.9 L3498.9,1774.8 L3495.1,1773.7 L3491.4,1772.6 L3487.7,1771.4 L3484.0,1770.2 L3480.3,1768.9 L3476.6,1767.6 L3472.9,1766.3 L3469.2,1764.9 L3465.5,1763.5 L3461.7,1762.0 L3458.0,1760.5 L3454.3,1758.9 L3450.6,1757.3 L3446.9,1755.7 L3443.1,1754.0 L3439.4,1752.2 L3435.7,1750.5 L3432.0,1748.6 L3428.2,1746.7 L3424.5,1744.8 L3420.8,1742.8 L3417.0,1740.8 L3413.3,1738.7 L3409.6,1736.6 L3405.8,1734.4 L3402.1,1732.2 L3398.4,1729.9 L3394.6,1727.6 L3390.9,1725.2 L3387.1,1722.8 L3383.4,1720.3 L3379.7,1717.8 L3375.9,1715.2 L3372.2,1712.6 L3368.4,1709.9 L3364.7,1707.1 L3360.9,1704.3 L3357.2,1701.4 L3353.4,1698.5 L3349.7,1695.6 L3345.9,1692.5 L3342.2,1689.5 L3338.4,1686.3 L3334.7,1683.1 L3330.9,1679.9 L3327.2,1676.6 L3323.4,1673.2 L3319.6,1669.8 L3315.9,1666.3 L3312.1,1662.8 L3308.4,1659.2 L3304.6,1655.6 L3300.8,1651.8 L3297.1,1648.1 L3293.3,1644.3 L3289.6,1640.4 L3285.8,1636.5 L3282.0,1632.5 L3278.3,1628.4 L3274.5,1624.3 L3270.7,1620.1 L3266.9,1615.9 L3263.2,1611.6 L3259.4,1607.3 L3255.6,1602.9 L3251.9,1598.5 L3248.1,1593.9 L3244.3,1589.4 L3240.5,1584.8 L3236.8,1580.1 L3233.0,1575.3 L3229.2,1570.5 L3225.4,1565.7 L3221.7,1560.8 L3217.9,1555.8 L3214.1,1550.8 L3210.3,1545.7 L3206.5,1540.6 L3202.8,1535.4 L3199.0,1530.2 L3195.2,1524.9 L3191.4,1519.6 L3187.6,1514.2 L3183.9,1508.7 L3180.1,1503.2 L3176.3,1497.6 L3172.5,1492.0 L3168.7,1486.4 L3164.9,1480.7 L3161.2,1474.9 L3157.4,1469.1 L3153.6,1463.2 L3149.8,1457.3 L3146.0,1451.3 L3142.2,1445.3 L3138.4,1439.3 L3134.6,1433.2 L3130.8,1427.0 L3127.1,1420.8 L3123.3,1414.6 L3119.5,1408.3 L3115.7,1401.9 L3111.9,1395.6 L3108.1,1389.1 L3104.3,1382.7 L3100.5,1376.1 L3096.7,1369.6 L3092.9,1363.0 L3089.1,1356.4 L3085.3,1349.7 L3081.6,1343.0 L3077.8,1336.2 L3074.0,1329.4 L3070.2,1322.6 L3066.4,1315.8 L3062.6,1308.9 L3058.8,1301.9 L3055.0,1295.0 L3051.2,1288.0 L3047.4,1280.9 L3043.6,1273.9 L3039.8,1266.8 L3036.0,1259.6 L3032.2,1252.5 L3028.4,1245.3 L3024.6,1238.1 L3020.8,1230.9 L3017.0,1223.6 L3013.2,1216.3 L3009.4,1209.0 L3005.6,1201.7 L3001.8,1194.3 L2998.0,1186.9 L2994.2,1179.5 L2990.4,1172.1 L2986.6,1164.7 L2982.8,1157.2 L2979.0,1149.8 L2975.2,1142.3 L2971.4,1134.8 L2967.6,1127.2 L2963.8,1119.7 L2960.0,1112.2 L2956.2,1104.6 L2952.4,1097.1 L2948.6,1089.5 L2944.8,1081.9 L2941.0,1074.3 L2937.2,1066.7 L2933.4,1059.1 L2929.5,1051.5 L2925.7,1043.9 L2921.9,1036.3 L2918.1,1028.7 L2914.3,1021.1 L2910.5,1013.5 L2906.7,1005.9 L2902.9,998.3 L2899.1,990.7 L2895.3,983.1 L2891.5,975.5 L2887.7,967.9 L2883.9,960.4 L2880.1,952.8 L2876.3,945.3 L2872.5,937.7 L2868.7,930.2 L2864.9,922.7 L2861.1,915.2 L2857.2,907.7 L2853.4,900.2 L2849.6,892.8 L2845.8,885.4 L2842.0,877.9 L2838.2,870.6 L2834.4,863.2 L2830.6,855.8 L2826.8,848.5 L2823.0,841.2 L2819.2,834.0 L2815.4,826.7 L2811.6,819.5 L2807.8,812.3 L2803.9,805.2 L2800.1,798.1 L2796.3,791.0 L2792.5,783.9 L2788.7,776.9 L2784.9,769.9 L2781.1,763.0 L2777.3,756.1 L2773.5,749.2 L2769.7,742.4 L2765.9,735.6 L2762.1,728.8 L2758.2,722.1 L2754.4,715.5 L2750.6,708.9 L2746.8,702.3 L2743.0,695.8 L2739.2,689.3 L2735.4,682.8 L2731.6,676.5 L2727.8,670.1 L2724.0,663.9 L2720.2,657.6 L2716.3,651.5 L2712.5,645.3 L2708.7,639.3 L2704.9,633.3 L2701.1,627.3 L2697.3,621.4 L2693.5,615.6 L2689.7,609.8 L2685.9,604.1 L2682.1,598.4 L2678.3,592.9 L2674.4,587.3 L2670.6,581.9 L2666.8,576.5 L2663.0,571.1 L2659.2,565.8 L2655.4,560.6 L2651.6,555.5 L2647.8,550.4 L2644.0,545.4 L2640.2,540.5 L2636.4,535.6 L2632.5,530.9 L2628.7,526.1 L2624.9,521.5 L2621.1,516.9 L2617.3,512.4 L2613.5,508.0 L2609.7,503.6 L2605.9,499.4 L2602.1,495.2 L2598.3,491.0 L2594.5,487.0 L2590.6,483.0 L2586.8,479.1 L2583.0,475.3 L2579.2,471.6 L2575.4,468.0 L2571.6,464.4 L2567.8,460.9 L2564.0,457.5 L2560.2,454.2 L2556.4,450.9 L2552.5,447.8 L2548.7,444.7 L2544.9,441.7 L2541.1,438.8 L2537.3,436.0 L2533.5,433.2 L2529.7,430.6 L2525.9,428.0 L2522.1,425.5 L2518.3,423.1 L2514.5,420.8 L2510.6,418.6 L2506.8,416.4 L2503.0,414.4 L2499.2,412.4 L2495.4,410.5 L2491.6,408.7 L2487.8,407.0 L2484.0,405.4 L2480.2,403.8 L2476.4,402.4 L2472.5,401.0 L2468.7,399.8 L2464.9,398.6 L2461.1,397.5 L2457.3,396.5 L2453.5,395.5 L2449.7,394.7 L2445.9,394.0 L2442.1,393.3 L2438.3,392.7 L2434.5,392.2 L2430.6,391.8 L2426.8,391.5 L2423.0,391.2 L2419.2,391.1 L2415.4,391.0 L2411.6,391.0 L2407.9,391.1 L2404.1,391.2 L2400.3,391.5 L2396.6,391.8 L2392.8,392.2 L2389.0,392.7 L2385.3,393.3 L2381.5,394.0 L2377.8,394.7 L2374.0,395.5 L2370.2,396.5 L2366.5,397.5 L2362.7,398.6 L2358.9,399.8 L2355.2,401.0 L2351.4,402.4 L2347.7,403.8 L2343.9,405.4 L2340.1,407.0 L2336.4,408.7 L2332.6,410.5 L2328.8,412.4 L2325.1,414.4 L2321.3,416.4 L2317.6,418.6 L2313.8,420.8 L2310.0,423.1 L2306.3,425.5 L2302.5,428.0 L2298.7,430.6 L2295.0,433.2 L2291.2,436.0 L2287.5,438.8 L2283.7,441.7 L2279.9,444.7 L2276.2,447.8 L2272.4,450.9 L2268.6,454.2 L2264.9,457.5 L2261.1,460.9 L2257.4,464.4 L2253.6,468.0 L2249.8,471.6 L2246.1,475.3 L2242.3,479.1 L2238.5,483.0 L2234.8,487.0 L2231.0,491.0 L2227.3,495.2 L2223.5,499.4 L2219.7,503.6 L2216.0,508.0 L2212.2,512.4 L2208.4,516.9 L2204.7,521.5 L2200.9,526.1 L2197.2,530.9 L2193.4,535.6 L2189.6,540.5 L2185.9,545.4 L2182.1,550.4 L2178.3,555.5 L2174.6,560.6 L2170.8,565.8 L2167.1,571.1 L2163.3,576.5 L2159.5,581.9 L2155.8,587.3 L2152.0,592.9 L2148.2,598.4 L2144.5,604.1 L2140.7,609.8 L2137.0,615.6 L2133.2,621.4 L2129.4,627.3 L2125.7,633.3 L2121.9,639.3 L2118.1,645.3 L2114.4,651.5 L2110.6,657.6 L2106.9,663.9 L2103.1,670.1 L2099.3,676.5 L2095.6,682.8 L2091.8,689.3 L2088.0,695.8 L2084.3,702.3 L2080.5,708.9 L2076.8,715.5 L2073.0,722.1 L2069.2,728.8 L2065.5,735.6 L2061.7,742.4 L2057.9,749.2 L2054.2,756.1 L2050.4,763.0 L2046.7,769.9 L2042.9,776.9 L2039.1,783.9 L2035.4,791.0 L2031.6,798.1 L2027.8,805.2 L2024.1,812.3 L2020.3,819.5 L2016.6,826.7 L2012.8,834.0 L2009.0,841.2 L2005.3,848.5 L2001.5,855.8 L1997.7,863.2 L1994.0,870.6 L1990.2,877.9 L1986.5,885.4 L1982.7,892.8 L1978.9,900.2 L1975.2,907.7 L1971.4,915.2 L1967.6,922.7 L1963.9,930.2 L1960.1,937.7 L1956.4,945.3 L1952.6,952.8 L1948.8,960.4 L1945.1,967.9 L1941.3,975.5 L1937.5,983.1 L1933.8,990.7 L1930.0,998.3 L1926.3,1005.9 L1922.5,1013.5 L1918.7,1021.1 L1915.0,1028.7 L1911.2,1036.3 L1907.4,1043.9 L1903.7,1051.5 L1899.9,1059.1 L1896.2,1066.7 L1892.4,1074.3 L1888.6,1081.9 L1884.9,1089.5 L1881.1,1097.1 L1877.3,1104.6 L1873.6,1112.2 L1869.8,1119.7 L1866.1,1127.2 L1862.3,1134.8 L1858.5,1142.3 L1854.8,1149.8 L1851.0,1157.2 L1847.2,1164.7 L1843.5,1172.1 L1839.7,1179.5 L1836.0,1186.9 L1832.2,1194.3 L1828.4,1201.7 L1824.7,1209.0 L1820.9,1216.3 L1817.1,1223.6 L1813.4,1230.9 L1809.6,1238.1 L1805.9,1245.3 L1802.1,1252.5 L1798.3,1259.6 L1794.6,1266.8 L1790.8,1273.9 L1787.0,1280.9 L1783.3,1288.0 L1779.5,1295.0 L1775.8,1301.9 L1772.0,1308.9 L1768.2,1315.8 L1764.5,1322.6 L1760.7,1329.4 L1756.9,1336.2 L1753.2,1343.0 L1749.4,1349.7 L1745.7,1356.4 L1741.9,1363.0 L1738.1,1369.6 L1734.4,1376.1 L1730.6,1382.7 L1726.8,1389.1 L1723.1,1395.6 L1719.3,1401.9 L1715.6,1408.3 L1711.8,1414.6 L1708.0,1420.8 L1704.3,1427.0 L1700.5,1433.2 L1696.7,1439.3 L1693.0,1445.3 L1689.2,1451.3 L1685.5,1457.3 L1681.7,1463.2 L1677.9,1469.1 L1674.2,1474.9 L1670.4,1480.7 L1666.6,1486.4 L1662.9,1492.0 L1659.1,1497.6 L1655.4,1503.2 L1651.6,1508.7 L1647.8,1514.2 L1644.1,1519.6 L1640.3,1524.9 L1636.5,1530.2 L1632.8,1535.4 L1629.0,1540.6 L1625.3,1545.7 L1621.5,1550.8 L1617.7,1555.8 L1614.0,1560.8 L1610.2,1565.7 L1606.4,1570.5 L1602.7,1575.3 L1598.9,1580.1 L1595.2,1584.8 L1591.4,1589.4 L1587.6,1593.9 L1583.9,1598.5 L1580.1,1602.9 L1576.3,1607.3 L1572.6,1611.6 L1568.8,1615.9 L1565.1,1620.1 L1561.3,1624.3 L1557.5,1628.4 L1553.8,1632.5 L1550.0,1636.5 L1546.2,1640.4 L1542.5,1644.3 L1538.7,1648.1 L1535.0,1651.8 L1531.2,1655.6 L1527.4,1659.2 L1523.7,1662.8 L1519.9,1666.3 L1516.1,1669.8 L1512.4,1673.2 L1508.6,1676.6 L1504.9,1679.9 L1501.1,1683.1 L1497.3,1686.3 L1493.6,1689.5 L1489.8,1692.5 L1486.0,1695.6 L1482.3,1698.5 L1478.5,1701.4 L1474.8,1704.3 L1471.0,1707.1 L1467.2,1709.9 L1463.5,1712.6 L1459.7,1715.2 L1455.9,1717.8 L1452.2,1720.3 L1448.4,1722.8 L1444.7,1725.2 L1440.9,1727.6 L1437.1,1729.9 L1433.4,1732.2 L1429.6,1734.4 L1425.8,1736.6 L1422.1,1738.7 L1418.3,1740.8 L1414.6,1742.8 L1410.8,1744.8 L1407.0,1746.7 L1403.3,1748.6 L1399.5,1750.5 L1395.7,1752.2 L1392.0,1754.0 L1388.2,1755.7 L1384.5,1757.3 L1380.7,1758.9 L1376.9,1760.5 L1373.2,1762.0 L1369.4,1763.5 L1365.6,1764.9 L1361.9,1766.3 L1358.1,1767.6 L1354.4,1768.9 L1350.6,1770.2 L1346.8,1771.4 L1343.1,1772.6 L1339.3,1773.7 L1335.5,1774.8 L1331.8,1775.9 L1328.0,1776.9 L1324.3,1777.9 L1320.5,1778.9 L1316.7,1779.8 L1313.0,1780.7 L1309.2,1781.6 L1305.4,1782.4 L1301.7,1783.2 L1297.9,1783.9 L1294.2,1784.7 L1290.4,1785.4 L1286.6,1786.0 L1282.9,1786.7 L1279.1,1787.3 L1275.3,1787.9 L1271.6,1788.4 L1267.8,1788.9 L1264.1,1789.4 L1260.3,1789.9 L1256.5,1790.4 L1252.8,1790.8 L1249.0,1791.2 L1245.2,1791.6 L1241.5,1792.0 L1237.7,1792.3 L1234.0,1792.6 L1230.2,1792.9 L1226.4,1793.2 L1222.7,1793.5 L1218.9,1793.7 L1215.1,1793.9 L1211.4,1794.1 L1207.6,1794.3 L1203.9,1794.5 L1200.1,1794.7 L1196.3,1794.8 L1192.6,1795.0 L1188.8,1795.1 L1185.0,1795.2 L1181.3,1795.3 L1177.5,1795.4 L1173.8,1795.5 L1170.0,1795.6 L1166.2,1795.7 L1162.5,1795.7 L1158.7,1795.8 L1154.9,1795.8 L1151.2,1795.9 L1147.4,1795.9 L1143.7,1795.9 L1139.9,1795.9 L1136.1,1796.0 L1132.4,1796.0 L1128.6,1796.0 L1124.8,1796.0 L1121.1,1796.0 L1117.3,1796.0 L1113.6,1796.0 L1109.8,1796.0 L1106.0,1796.0 L1102.3,1796.0 L1098.5,1796.0 Z" fill="#b6007b"/>
<path d="M621.0,1663.0 L626.1,1663.0 L631.3,1663.0 L636.4,1663.0 L641.5,1663.0 L646.7,1663.0 L651.8,1663.0 L656.9,1663.0 L662.1,1663.0 L667.2,1663.0 L672.3,1663.0 L677.5,1663.0 L682.6,1662.9 L687.7,1662.9 L692.9,1662.9 L698.0,1662.9 L703.1,1662.9 L708.3,1662.8 L713.4,1662.8 L718.5,1662.8 L723.7,1662.7 L728.8,1662.7 L733.9,1662.6 L739.1,1662.5 L744.2,1662.5 L749.3,1662.4 L754.5,1662.3 L759.6,1662.2 L764.7,1662.1 L769.9,1662.0 L775.0,1661.9 L780.1,1661.8 L785.3,1661.6 L790.4,1661.5 L795.5,1661.3 L800.7,1661.1 L805.8,1661.0 L810.9,1660.8 L816.1,1660.6 L821.2,1660.3 L826.3,1660.1 L831.5,1659.9 L836.6,1659.6 L841.7,1659.3 L846.9,1659.0 L852.0,1658.7 L857.1,1658.4 L862.3,1658.1 L867.4,1657.7 L872.5,1657.3 L877.7,1656.9 L882.8,1656.5 L887.9,1656.1 L893.1,1655.7 L898.2,1655.2 L903.3,1654.7 L908.5,1654.2 L913.6,1653.7 L918.7,1653.1 L923.8,1652.5 L929.0,1652.0 L934.1,1651.3 L939.2,1650.7 L944.4,1650.0 L949.5,1649.4 L954.6,1648.6 L959.8,1647.9 L964.9,1647.2 L970.0,1646.4 L975.2,1645.6 L980.3,1644.7 L985.4,1643.9 L990.6,1643.0 L995.7,1642.1 L1000.8,1641.1 L1006.0,1640.2 L1011.1,1639.2 L1016.2,1638.1 L1021.4,1637.1 L1026.5,1636.0 L1031.6,1634.9 L1036.8,1633.7 L1041.9,1632.6 L1047.0,1631.4 L1052.2,1630.1 L1057.3,1628.9 L1062.4,1627.6 L1067.6,1626.2 L1072.7,1624.9 L1077.8,1623.5 L1083.0,1622.1 L1088.1,1620.6 L1093.2,1619.1 L1098.4,1617.6 L1103.5,1616.0 L1108.6,1614.4 L1113.8,1612.8 L1118.9,1611.1 L1124.0,1609.4 L1129.2,1607.7 L1134.3,1605.9 L1139.4,1604.1 L1144.6,1602.3 L1149.7,1600.4 L1154.8,1598.5 L1160.0,1596.6 L1165.1,1594.6 L1170.2,1592.6 L1175.4,1590.5 L1180.5,1588.5 L1185.6,1586.3 L1190.8,1584.2 L1195.9,1582.0 L1201.0,1579.7 L1206.2,1577.5 L1211.3,1575.2 L1216.4,1572.8 L1221.6,1570.4 L1226.7,1568.0 L1231.8,1565.5 L1237.0,1563.0 L1242.1,1560.5 L1247.2,1557.9 L1252.4,1555.3 L1257.5,1552.7 L1262.6,1550.0 L1267.8,1547.3 L1272.9,1544.5 L1278.0,1541.7 L1283.2,1538.9 L1288.3,1536.0 L1293.4,1533.1 L1298.6,1530.2 L1303.7,1527.2 L1308.8,1524.2 L1314.0,1521.1 L1319.1,1518.0 L1324.2,1514.9 L1329.4,1511.7 L1334.5,1508.5 L1339.6,1505.3 L1344.8,1502.0 L1349.9,1498.7 L1355.0,1495.3 L1360.2,1491.9 L1365.3,1488.5 L1370.4,1485.0 L1375.6,1481.6 L1380.7,1478.0 L1385.8,1474.5 L1391.0,1470.9 L1396.1,1467.2 L1401.2,1463.6 L1406.4,1459.9 L1411.5,1456.1 L1416.6,1452.4 L1421.8,1448.6 L1426.9,1444.7 L1432.0,1440.9 L1437.2,1437.0 L1442.3,1433.0 L1447.4,1429.1 L1452.6,1425.1 L1457.7,1421.1 L1462.8,1417.0 L1468.0,1412.9 L1473.1,1408.8 L1478.2,1404.7 L1483.4,1400.5 L1488.5,1396.3 L1493.6,1392.0 L1498.8,1387.8 L1503.9,1383.5 L1509.0,1379.2 L1514.2,1374.8 L1519.3,1370.5 L1524.4,1366.1 L1529.5,1361.7 L1534.7,1357.2 L1539.8,1352.8 L1544.9,1348.3 L1550.1,1343.8 L1555.2,1339.2 L1560.3,1334.7 L1565.5,1330.1 L1570.6,1325.5 L1575.7,1320.8 L1580.9,1316.2 L1586.0,1311.5 L1591.1,1306.8 L1596.3,1302.1 L1601.4,1297.4 L1606.5,1292.7 L1611.7,1287.9 L1616.8,1283.1 L1621.9,1278.4 L1627.1,1273.6 L1632.2,1268.7 L1637.3,1263.9 L1642.5,1259.1 L1647.6,1254.2 L1652.7,1249.3 L1657.9,1244.4 L1663.0,1239.5 L1668.1,1234.6 L1673.3,1229.7 L1678.4,1224.8 L1683.5,1219.8 L1688.7,1214.9 L1693.8,1209.9 L1698.9,1205.0 L1704.1,1200.0 L1709.2,1195.0 L1714.3,1190.1 L1719.5,1185.1 L1724.6,1180.1 L1729.7,1175.1 L1734.9,1170.1 L1740.0,1165.1 L1745.1,1160.1 L1750.3,1155.1 L1755.4,1150.2 L1760.5,1145.2 L1765.7,1140.2 L1770.8,1135.2 L1775.9,1130.2 L1781.1,1125.2 L1786.2,1120.2 L1791.3,1115.3 L1796.5,1110.3 L1801.6,1105.4 L1806.7,1100.4 L1811.9,1095.5 L1817.0,1090.5 L1822.1,1085.6 L1827.3,1080.7 L1832.4,1075.8 L1837.5,1070.9 L1842.7,1066.0 L1847.8,1061.1 L1852.9,1056.3 L1858.1,1051.5 L1863.2,1046.6 L1868.3,1041.8 L1873.5,1037.0 L1878.6,1032.3 L1883.7,1027.5 L1888.9,1022.8 L1894.0,1018.0 L1899.1,1013.3 L1904.3,1008.7 L1909.4,1004.0 L1914.5,999.4 L1919.7,994.8 L1924.8,990.2 L1929.9,985.6 L1935.1,981.1 L1940.2,976.5 L1945.3,972.1 L1950.5,967.6 L1955.6,963.2 L1960.7,958.8 L1965.9,954.4 L1971.0,950.0 L1976.1,945.7 L1981.3,941.4 L1986.4,937.2 L1991.5,932.9 L1996.7,928.7 L2001.8,924.6 L2006.9,920.5 L2012.1,916.4 L2017.2,912.3 L2022.3,908.3 L2027.5,904.3 L2032.6,900.4 L2037.7,896.5 L2042.9,892.6 L2048.0,888.8 L2053.1,885.0 L2058.3,881.2 L2063.4,877.5 L2068.5,873.8 L2073.7,870.2 L2078.8,866.6 L2083.9,863.1 L2089.1,859.6 L2094.2,856.1 L2099.3,852.7 L2104.5,849.3 L2109.6,846.0 L2114.7,842.7 L2119.8,839.5 L2125.0,836.3 L2130.1,833.2 L2135.2,830.1 L2140.4,827.0 L2145.5,824.0 L2150.6,821.1 L2155.8,818.2 L2160.9,815.4 L2166.0,812.6 L2171.2,809.8 L2176.3,807.1 L2181.4,804.5 L2186.6,801.9 L2191.7,799.4 L2196.8,796.9 L2202.0,794.5 L2207.1,792.1 L2212.2,789.8 L2217.4,787.5 L2222.5,785.3 L2227.6,783.2 L2232.8,781.1 L2237.9,779.0 L2243.0,777.0 L2248.2,775.1 L2253.3,773.2 L2258.4,771.4 L2263.6,769.6 L2268.7,767.9 L2273.8,766.3 L2279.0,764.7 L2284.1,763.2 L2289.2,761.7 L2294.4,760.3 L2299.5,758.9 L2304.6,757.6 L2309.8,756.4 L2314.9,755.2 L2320.0,754.1 L2325.2,753.0 L2330.3,752.0 L2335.4,751.0 L2340.6,750.2 L2345.7,749.3 L2350.8,748.6 L2356.0,747.9 L2361.1,747.2 L2366.2,746.6 L2371.4,746.1 L2376.5,745.6 L2381.6,745.2 L2386.8,744.9 L2391.9,744.6 L2397.0,744.4 L2402.2,744.2 L2407.3,744.1 L2412.4,744.0 L2417.6,744.0 L2422.7,744.1 L2427.8,744.2 L2433.0,744.4 L2438.1,744.6 L2443.2,744.9 L2448.4,745.2 L2453.5,745.6 L2458.6,746.1 L2463.8,746.6 L2468.9,747.2 L2474.0,747.9 L2479.2,748.6 L2484.3,749.3 L2489.4,750.2 L2494.6,751.0 L2499.7,752.0 L2504.8,753.0 L2510.0,754.1 L2515.1,755.2 L2520.2,756.4 L2525.4,757.6 L2530.5,758.9 L2535.6,760.3 L2540.8,761.7 L2545.9,763.2 L2551.0,764.7 L2556.2,766.3 L2561.3,767.9 L2566.4,769.6 L2571.6,771.4 L2576.7,773.2 L2581.8,775.1 L2587.0,777.0 L2592.1,779.0 L2597.2,781.1 L2602.4,783.2 L2607.5,785.3 L2612.6,787.5 L2617.8,789.8 L2622.9,792.1 L2628.0,794.5 L2633.2,796.9 L2638.3,799.4 L2643.4,801.9 L2648.6,804.5 L2653.7,807.1 L2658.8,809.8 L2664.0,812.6 L2669.1,815.4 L2674.2,818.2 L2679.4,821.1 L2684.5,824.0 L2689.6,827.0 L2694.8,830.1 L2699.9,833.2 L2705.0,836.3 L2710.2,839.5 L2715.3,842.7 L2720.4,846.0 L2725.5,849.3 L2730.7,852.7 L2735.8,856.1 L2740.9,859.6 L2746.1,863.1 L2751.2,866.6 L2756.3,870.2 L2761.5,873.8 L2766.6,877.5 L2771.7,881.2 L2776.9,885.0 L2782.0,888.8 L2787.1,892.6 L2792.3,896.5 L2797.4,900.4 L2802.5,904.3 L2807.7,908.3 L2812.8,912.3 L2817.9,916.4 L2823.1,920.5 L2828.2,924.6 L2833.3,928.7 L2838.5,932.9 L2843.6,937.2 L2848.7,941.4 L2853.9,945.7 L2859.0,950.0 L2864.1,954.4 L2869.3,958.8 L2874.4,963.2 L2879.5,967.6 L2884.7,972.1 L2889.8,976.5 L2894.9,981.1 L2900.1,985.6 L2905.2,990.2 L2910.3,994.8 L2915.5,999.4 L2920.6,1004.0 L2925.7,1008.7 L2930.9,1013.3 L2936.0,1018.0 L2941.1,1022.8 L2946.3,1027.5 L2951.4,1032.3 L2956.5,1037.0 L2961.7,1041.8 L2966.8,1046.6 L2971.9,1051.5 L2977.1,1056.3 L2982.2,1061.1 L2987.3,1066.0 L2992.5,1070.9 L2997.6,1075.8 L3002.7,1080.7 L3007.9,1085.6 L3013.0,1090.5 L3018.1,1095.5 L3023.3,1100.4 L3028.4,1105.4 L3033.5,1110.3 L3038.7,1115.3 L3043.8,1120.2 L3048.9,1125.2 L3054.1,1130.2 L3059.2,1135.2 L3064.3,1140.2 L3069.5,1145.2 L3074.6,1150.2 L3079.7,1155.1 L3084.9,1160.1 L3090.0,1165.1 L3095.1,1170.1 L3100.3,1175.1 L3105.4,1180.1 L3110.5,1185.1 L3115.7,1190.1 L3120.8,1195.0 L3125.9,1200.0 L3131.1,1205.0 L3136.2,1209.9 L3141.3,1214.9 L3146.5,1219.8 L3151.6,1224.8 L3156.7,1229.7 L3161.9,1234.6 L3167.0,1239.5 L3172.1,1244.4 L3177.3,1249.3 L3182.4,1254.2 L3187.5,1259.1 L3192.7,1263.9 L3197.8,1268.7 L3202.9,1273.6 L3208.1,1278.4 L3213.2,1283.1 L3218.3,1287.9 L3223.5,1292.7 L3228.6,1297.4 L3233.7,1302.1 L3238.9,1306.8 L3244.0,1311.5 L3249.1,1316.2 L3254.3,1320.8 L3259.4,1325.5 L3264.5,1330.1 L3269.7,1334.7 L3274.8,1339.2 L3279.9,1343.8 L3285.1,1348.3 L3290.2,1352.8 L3295.3,1357.2 L3300.5,1361.7 L3305.6,1366.1 L3310.7,1370.5 L3315.8,1374.8 L3321.0,1379.2 L3326.1,1383.5 L3331.2,1387.8 L3336.4,1392.0 L3341.5,1396.3 L3346.6,1400.5 L3351.8,1404.7 L3356.9,1408.8 L3362.0,1412.9 L3367.2,1417.0 L3372.3,1421.1 L3377.4,1425.1 L3382.6,1429.1 L3387.7,1433.0 L3392.8,1437.0 L3398.0,1440.9 L3403.1,1444.7 L3408.2,1448.6 L3413.4,1452.4 L3418.5,1456.1 L3423.6,1459.9 L3428.8,1463.6 L3433.9,1467.2 L3439.0,1470.9 L3444.2,1474.5 L3449.3,1478.0 L3454.4,1481.6 L3459.6,1485.0 L3464.7,1488.5 L3469.8,1491.9 L3475.0,1495.3 L3480.1,1498.7 L3485.2,1502.0 L3490.4,1505.3 L3495.5,1508.5 L3500.6,1511.7 L3505.8,1514.9 L3510.9,1518.0 L3516.0,1521.1 L3521.2,1524.2 L3526.3,1527.2 L3531.4,1530.2 L3536.6,1533.1 L3541.7,1536.0 L3546.8,1538.9 L3552.0,1541.7 L3557.1,1544.5 L3562.2,1547.3 L3567.4,1550.0 L3572.5,1552.7 L3577.6,1555.3 L3582.8,1557.9 L3587.9,1560.5 L3593.0,1563.0 L3598.2,1565.5 L3603.3,1568.0 L3608.4,1570.4 L3613.6,1572.8 L3618.7,1575.2 L3623.8,1577.5 L3629.0,1579.7 L3634.1,1582.0 L3639.2,1584.2 L3644.4,1586.3 L3649.5,1588.5 L3654.6,1590.5 L3659.8,1592.6 L3664.9,1594.6 L3670.0,1596.6 L3675.2,1598.5 L3680.3,1600.4 L3685.4,1602.3 L3690.6,1604.1 L3695.7,1605.9 L3700.8,1607.7 L3706.0,1609.4 L3711.1,1611.1 L3716.2,1612.8 L3721.4,1614.4 L3726.5,1616.0 L3731.6,1617.6 L3736.8,1619.1 L3741.9,1620.6 L3747.0,1622.1 L3752.2,1623.5 L3757.3,1624.9 L3762.4,1626.2 L3767.6,1627.6 L3772.7,1628.9 L3777.8,1630.1 L3783.0,1631.4 L3788.1,1632.6 L3793.2,1633.7 L3798.4,1634.9 L3803.5,1636.0 L3808.6,1637.1 L3813.8,1638.1 L3818.9,1639.2 L3824.0,1640.2 L3829.2,1641.1 L3834.3,1642.1 L3839.4,1643.0 L3844.6,1643.9 L3849.7,1644.7 L3854.8,1645.6 L3860.0,1646.4 L3865.1,1647.2 L3870.2,1647.9 L3875.4,1648.6 L3880.5,1649.4 L3885.6,1650.0 L3890.8,1650.7 L3895.9,1651.3 L3901.0,1652.0 L3906.2,1652.5 L3911.3,1653.1 L3916.4,1653.7 L3921.5,1654.2 L3926.7,1654.7 L3931.8,1655.2 L3936.9,1655.7 L3942.1,1656.1 L3947.2,1656.5 L3952.3,1656.9 L3957.5,1657.3 L3962.6,1657.7 L3967.7,1658.1 L3972.9,1658.4 L3978.0,1658.7 L3983.1,1659.0 L3988.3,1659.3 L3993.4,1659.6 L3998.5,1659.9 L4003.7,1660.1 L4008.8,1660.3 L4013.9,1660.6 L4019.1,1660.8 L4024.2,1661.0 L4029.3,1661.1 L4034.5,1661.3 L4039.6,1661.5 L4044.7,1661.6 L4049.9,1661.8 L4055.0,1661.9 L4060.1,1662.0 L4065.3,1662.1 L4070.4,1662.2 L4075.5,1662.3 L4080.7,1662.4 L4085.8,1662.5 L4090.9,1662.5 L4096.1,1662.6 L4101.2,1662.7 L4106.3,1662.7 L4111.5,1662.8 L4116.6,1662.8 L4121.7,1662.8 L4126.9,1662.9 L4132.0,1662.9 L4137.1,1662.9 L4142.3,1662.9 L4147.4,1662.9 L4152.5,1663.0 L4157.7,1663.0 L4162.8,1663.0 L4167.9,1663.0 L4173.1,1663.0 L4178.2,1663.0 L4183.3,1663.0 L4188.5,1663.0 L4193.6,1663.0 L4198.7,1663.0 L4203.9,1663.0 L4209.0,1663.0" fill="none" stroke="#6aa842" stroke-width="2.5" />
<path d="M621.0,1663.0 L626.1,1663.0 L631.3,1663.0 L636.4,1663.0 L641.5,1663.0 L646.7,1663.0 L651.8,1663.0 L656.9,1663.0 L662.1,1663.0 L667.2,1663.0 L672.3,1663.0 L677.5,1663.0 L682.6,1663.0 L687.7,1662.9 L692.9,1662.9 L698.0,1662.9 L703.1,1662.9 L708.3,1662.8 L713.4,1662.8 L718.5,1662.8 L723.7,1662.7 L728.8,1662.7 L733.9,1662.6 L739.1,1662.6 L744.2,1662.5 L749.3,1662.4 L754.5,1662.4 L759.6,1662.3 L764.7,1662.2 L769.9,1662.1 L775.0,1662.0 L780.1,1661.9 L785.3,1661.7 L790.4,1661.6 L795.5,1661.4 L800.7,1661.3 L805.8,1661.1 L810.9,1660.9 L816.1,1660.7 L821.2,1660.5 L826.3,1660.3 L831.5,1660.1 L836.6,1659.9 L841.7,1659.6 L846.9,1659.3 L852.0,1659.0 L857.1,1658.7 L862.3,1658.4 L867.4,1658.1 L872.5,1657.8 L877.7,1657.4 L882.8,1657.0 L887.9,1656.6 L893.1,1656.2 L898.2,1655.8 L903.3,1655.3 L908.5,1654.9 L913.6,1654.4 L918.7,1653.9 L923.8,1653.3 L929.0,1652.8 L934.1,1652.2 L939.2,1651.6 L944.4,1651.0 L949.5,1650.4 L954.6,1649.7 L959.8,1649.0 L964.9,1648.3 L970.0,1647.6 L975.2,1646.9 L980.3,1646.1 L985.4,1645.3 L990.6,1644.5 L995.7,1643.6 L1000.8,1642.8 L1006.0,1641.9 L1011.1,1641.0 L1016.2,1640.0 L1021.4,1639.0 L1026.5,1638.0 L1031.6,1637.0 L1036.8,1635.9 L1041.9,1634.9 L1047.0,1633.7 L1052.2,1632.6 L1057.3,1631.4 L1062.4,1630.2 L1067.6,1629.0 L1072.7,1627.7 L1077.8,1626.4 L1083.0,1625.1 L1088.1,1623.8 L1093.2,1622.4 L1098.4,1621.0 L1103.5,1619.5 L1108.6,1618.1 L1113.8,1616.6 L1118.9,1615.0 L1124.0,1613.5 L1129.2,1611.9 L1134.3,1610.2 L1139.4,1608.6 L1144.6,1606.9 L1149.7,1605.1 L1154.8,1603.4 L1160.0,1601.6 L1165.1,1599.7 L1170.2,1597.9 L1175.4,1596.0 L1180.5,1594.1 L1185.6,1592.1 L1190.8,1590.1 L1195.9,1588.1 L1201.0,1586.0 L1206.2,1583.9 L1211.3,1581.7 L1216.4,1579.6 L1221.6,1577.4 L1226.7,1575.1 L1231.8,1572.9 L1237.0,1570.5 L1242.1,1568.2 L1247.2,1565.8 L1252.4,1563.4 L1257.5,1561.0 L1262.6,1558.5 L1267.8,1556.0 L1272.9,1553.4 L1278.0,1550.8 L1283.2,1548.2 L1288.3,1545.5 L1293.4,1542.9 L1298.6,1540.1 L1303.7,1537.4 L1308.8,1534.6 L1314.0,1531.7 L1319.1,1528.9 L1324.2,1526.0 L1329.4,1523.1 L1334.5,1520.1 L1339.6,1517.1 L1344.8,1514.1 L1349.9,1511.0 L1355.0,1507.9 L1360.2,1504.8 L1365.3,1501.6 L1370.4,1498.4 L1375.6,1495.2 L1380.7,1491.9 L1385.8,1488.6 L1391.0,1485.3 L1396.1,1481.9 L1401.2,1478.5 L1406.4,1475.1 L1411.5,1471.7 L1416.6,1468.2 L1421.8,1464.7 L1426.9,1461.1 L1432.0,1457.5 L1437.2,1453.9 L1442.3,1450.3 L1447.4,1446.6 L1452.6,1442.9 L1457.7,1439.2 L1462.8,1435.5 L1468.0,1431.7 L1473.1,1427.9 L1478.2,1424.1 L1483.4,1420.2 L1488.5,1416.3 L1493.6,1412.4 L1498.8,1408.5 L1503.9,1404.5 L1509.0,1400.5 L1514.2,1396.5 L1519.3,1392.4 L1524.4,1388.4 L1529.5,1384.3 L1534.7,1380.2 L1539.8,1376.1 L1544.9,1371.9 L1550.1,1367.7 L1555.2,1363.5 L1560.3,1359.3 L1565.5,1355.1 L1570.6,1350.8 L1575.7,1346.5 L1580.9,1342.2 L1586.0,1337.9 L1591.1,1333.6 L1596.3,1329.2 L1601.4,1324.9 L1606.5,1320.5 L1611.7,1316.1 L1616.8,1311.7 L1621.9,1307.2 L1627.1,1302.8 L1632.2,1298.3 L1637.3,1293.9 L1642.5,1289.4 L1647.6,1284.9 L1652.7,1280.4 L1657.9,1275.9 L1663.0,1271.3 L1668.1,1266.8 L1673.3,1262.2 L1678.4,1257.7 L1683.5,1253.1 L1688.7,1248.5 L1693.8,1244.0 L1698.9,1239.4 L1704.1,1234.8 L1709.2,1230.2 L1714.3,1225.6 L1719.5,1221.0 L1724.6,1216.4 L1729.7,1211.7 L1734.9,1207.1 L1740.0,1202.5 L1745.1,1197.9 L1750.3,1193.3 L1755.4,1188.7 L1760.5,1184.0 L1765.7,1179.4 L1770.8,1174.8 L1775.9,1170.2 L1781.1,1165.6 L1786.2,1161.0 L1791.3,1156.4 L1796.5,1151.8 L1801.6,1147.2 L1806.7,1142.6 L1811.9,1138.1 L1817.0,1133.5 L1822.1,1129.0 L1827.3,1124.4 L1832.4,1119.9 L1837.5,1115.3 L1842.7,1110.8 L1847.8,1106.3 L1852.9,1101.8 L1858.1,1097.4 L1863.2,1092.9 L1868.3,1088.5 L1873.5,1084.0 L1878.6,1079.6 L1883.7,1075.2 L1888.9,1070.8 L1894.0,1066.5 L1899.1,1062.1 L1904.3,1057.8 L1909.4,1053.5 L1914.5,1049.2 L1919.7,1044.9 L1924.8,1040.7 L1929.9,1036.5 L1935.1,1032.3 L1940.2,1028.1 L1945.3,1023.9 L1950.5,1019.8 L1955.6,1015.7 L1960.7,1011.6 L1965.9,1007.6 L1971.0,1003.6 L1976.1,999.6 L1981.3,995.6 L1986.4,991.7 L1991.5,987.7 L1996.7,983.9 L2001.8,980.0 L2006.9,976.2 L2012.1,972.4 L2017.2,968.7 L2022.3,965.0 L2027.5,961.3 L2032.6,957.6 L2037.7,954.0 L2042.9,950.4 L2048.0,946.9 L2053.1,943.4 L2058.3,939.9 L2063.4,936.5 L2068.5,933.1 L2073.7,929.7 L2078.8,926.4 L2083.9,923.1 L2089.1,919.9 L2094.2,916.7 L2099.3,913.5 L2104.5,910.4 L2109.6,907.3 L2114.7,904.3 L2119.8,901.3 L2125.0,898.4 L2130.1,895.5 L2135.2,892.6 L2140.4,889.8 L2145.5,887.0 L2150.6,884.3 L2155.8,881.6 L2160.9,879.0 L2166.0,876.4 L2171.2,873.9 L2176.3,871.4 L2181.4,869.0 L2186.6,866.6 L2191.7,864.2 L2196.8,861.9 L2202.0,859.7 L2207.1,857.5 L2212.2,855.3 L2217.4,853.3 L2222.5,851.2 L2227.6,849.2 L2232.8,847.3 L2237.9,845.4 L2243.0,843.5 L2248.2,841.8 L2253.3,840.0 L2258.4,838.3 L2263.6,836.7 L2268.7,835.1 L2273.8,833.6 L2279.0,832.1 L2284.1,830.7 L2289.2,829.3 L2294.4,828.0 L2299.5,826.8 L2304.6,825.6 L2309.8,824.4 L2314.9,823.3 L2320.0,822.3 L2325.2,821.3 L2330.3,820.4 L2335.4,819.5 L2340.6,818.7 L2345.7,817.9 L2350.8,817.2 L2356.0,816.6 L2361.1,816.0 L2366.2,815.4 L2371.4,814.9 L2376.5,814.5 L2381.6,814.1 L2386.8,813.8 L2391.9,813.5 L2397.0,813.3 L2402.2,813.2 L2407.3,813.1 L2412.4,813.0 L2417.6,813.0 L2422.7,813.1 L2427.8,813.2 L2433.0,813.3 L2438.1,813.5 L2443.2,813.8 L2448.4,814.1 L2453.5,814.5 L2458.6,814.9 L2463.8,815.4 L2468.9,816.0 L2474.0,816.6 L2479.2,817.2 L2484.3,817.9 L2489.4,818.7 L2494.6,819.5 L2499.7,820.4 L2504.8,821.3 L2510.0,822.3 L2515.1,823.3 L2520.2,824.4 L2525.4,825.6 L2530.5,826.8 L2535.6,828.0 L2540.8,829.3 L2545.9,830.7 L2551.0,832.1 L2556.2,833.6 L2561.3,835.1 L2566.4,836.7 L2571.6,838.3 L2576.7,840.0 L2581.8,841.8 L2587.0,843.5 L2592.1,845.4 L2597.2,847.3 L2602.4,849.2 L2607.5,851.2 L2612.6,853.3 L2617.8,855.3 L2622.9,857.5 L2628.0,859.7 L2633.2,861.9 L2638.3,864.2 L2643.4,866.6 L2648.6,869.0 L2653.7,871.4 L2658.8,873.9 L2664.0,876.4 L2669.1,879.0 L2674.2,881.6 L2679.4,884.3 L2684.5,887.0 L2689.6,889.8 L2694.8,892.6 L2699.9,895.5 L2705.0,898.4 L2710.2,901.3 L2715.3,904.3 L2720.4,907.3 L2725.5,910.4 L2730.7,913.5 L2735.8,916.7 L2740.9,919.9 L2746.1,923.1 L2751.2,926.4 L2756.3,929.7 L2761.5,933.1 L2766.6,936.5 L2771.7,939.9 L2776.9,943.4 L2782.0,946.9 L2787.1,950.4 L2792.3,954.0 L2797.4,957.6 L2802.5,961.3 L2807.7,965.0 L2812.8,968.7 L2817.9,972.4 L2823.1,976.2 L2828.2,980.0 L2833.3,983.9 L2838.5,987.7 L2843.6,991.7 L2848.7,995.6 L2853.9,999.6 L2859.0,1003.6 L2864.1,1007.6 L2869.3,1011.6 L2874.4,1015.7 L2879.5,1019.8 L2884.7,1023.9 L2889.8,1028.1 L2894.9,1032.3 L2900.1,1036.5 L2905.2,1040.7 L2910.3,1044.9 L2915.5,1049.2 L2920.6,1053.5 L2925.7,1057.8 L2930.9,1062.1 L2936.0,1066.5 L2941.1,1070.8 L2946.3,1075.2 L2951.4,1079.6 L2956.5,1084.0 L2961.7,1088.5 L2966.8,1092.9 L2971.9,1097.4 L2977.1,1101.8 L2982.2,1106.3 L2987.3,1110.8 L2992.5,1115.3 L2997.6,1119.9 L3002.7,1124.4 L3007.9,1129.0 L3013.0,1133.5 L3018.1,1138.1 L3023.3,1142.6 L3028.4,1147.2 L3033.5,1151.8 L3038.7,1156.4 L3043.8,1161.0 L3048.9,1165.6 L3054.1,1170.2 L3059.2,1174.8 L3064.3,1179.4 L3069.5,1184.0 L3074.6,1188.7 L3079.7,1193.3 L3084.9,1197.9 L3090.0,1202.5 L3095.1,1207.1 L3100.3,1211.7 L3105.4,1216.4 L3110.5,1221.0 L3115.7,1225.6 L3120.8,1230.2 L3125.9,1234.8 L3131.1,1239.4 L3136.2,1244.0 L3141.3,1248.5 L3146.5,1253.1 L3151.6,1257.7 L3156.7,1262.2 L3161.9,1266.8 L3167.0,1271.3 L3172.1,1275.9 L3177.3,1280.4 L3182.4,1284.9 L3187.5,1289.4 L3192.7,1293.9 L3197.8,1298.3 L3202.9,1302.8 L3208.1,1307.2 L3213.2,1311.7 L3218.3,1316.1 L3223.5,1320.5 L3228.6,1324.9 L3233.7,1329.2 L3238.9,1333.6 L3244.0,1337.9 L3249.1,1342.2 L3254.3,1346.5 L3259.4,1350.8 L3264.5,1355.1 L3269.7,1359.3 L3274.8,1363.5 L3279.9,1367.7 L3285.1,1371.9 L3290.2,1376.1 L3295.3,1380.2 L3300.5,1384.3 L3305.6,1388.4 L3310.7,1392.4 L3315.8,1396.5 L3321.0,1400.5 L3326.1,1404.5 L3331.2,1408.5 L3336.4,1412.4 L3341.5,1416.3 L3346.6,1420.2 L3351.8,1424.1 L3356.9,1427.9 L3362.0,1431.7 L3367.2,1435.5 L3372.3,1439.2 L3377.4,1442.9 L3382.6,1446.6 L3387.7,1450.3 L3392.8,1453.9 L3398.0,1457.5 L3403.1,1461.1 L3408.2,1464.7 L3413.4,1468.2 L3418.5,1471.7 L3423.6,1475.1 L3428.8,1478.5 L3433.9,1481.9 L3439.0,1485.3 L3444.2,1488.6 L3449.3,1491.9 L3454.4,1495.2 L3459.6,1498.4 L3464.7,1501.6 L3469.8,1504.8 L3475.0,1507.9 L3480.1,1511.0 L3485.2,1514.1 L3490.4,1517.1 L3495.5,1520.1 L3500.6,1523.1 L3505.8,1526.0 L3510.9,1528.9 L3516.0,1531.7 L3521.2,1534.6 L3526.3,1537.4 L3531.4,1540.1 L3536.6,1542.9 L3541.7,1545.5 L3546.8,1548.2 L3552.0,1550.8 L3557.1,1553.4 L3562.2,1556.0 L3567.4,1558.5 L3572.5,1561.0 L3577.6,1563.4 L3582.8,1565.8 L3587.9,1568.2 L3593.0,1570.5 L3598.2,1572.9 L3603.3,1575.1 L3608.4,1577.4 L3613.6,1579.6 L3618.7,1581.7 L3623.8,1583.9 L3629.0,1586.0 L3634.1,1588.1 L3639.2,1590.1 L3644.4,1592.1 L3649.5,1594.1 L3654.6,1596.0 L3659.8,1597.9 L3664.9,1599.7 L3670.0,1601.6 L3675.2,1603.4 L3680.3,1605.1 L3685.4,1606.9 L3690.6,1608.6 L3695.7,1610.2 L3700.8,1611.9 L3706.0,1613.5 L3711.1,1615.0 L3716.2,1616.6 L3721.4,1618.1 L3726.5,1619.5 L3731.6,1621.0 L3736.8,1622.4 L3741.9,1623.8 L3747.0,1625.1 L3752.2,1626.4 L3757.3,1627.7 L3762.4,1629.0 L3767.6,1630.2 L3772.7,1631.4 L3777.8,1632.6 L3783.0,1633.7 L3788.1,1634.9 L3793.2,1635.9 L3798.4,1637.0 L3803.5,1638.0 L3808.6,1639.0 L3813.8,1640.0 L3818.9,1641.0 L3824.0,1641.9 L3829.2,1642.8 L3834.3,1643.6 L3839.4,1644.5 L3844.6,1645.3 L3849.7,1646.1 L3854.8,1646.9 L3860.0,1647.6 L3865.1,1648.3 L3870.2,1649.0 L3875.4,1649.7 L3880.5,1650.4 L3885.6,1651.0 L3890.8,1651.6 L3895.9,1652.2 L3901.0,1652.8 L3906.2,1653.3 L3911.3,1653.9 L3916.4,1654.4 L3921.5,1654.9 L3926.7,1655.3 L3931.8,1655.8 L3936.9,1656.2 L3942.1,1656.6 L3947.2,1657.0 L3952.3,1657.4 L3957.5,1657.8 L3962.6,1658.1 L3967.7,1658.4 L3972.9,1658.7 L3978.0,1659.0 L3983.1,1659.3 L3988.3,1659.6 L3993.4,1659.9 L3998.5,1660.1 L4003.7,1660.3 L4008.8,1660.5 L4013.9,1660.7 L4019.1,1660.9 L4024.2,1661.1 L4029.3,1661.3 L4034.5,1661.4 L4039.6,1661.6 L4044.7,1661.7 L4049.9,1661.9 L4055.0,1662.0 L4060.1,1662.1 L4065.3,1662.2 L4070.4,1662.3 L4075.5,1662.4 L4080.7,1662.4 L4085.8,1662.5 L4090.9,1662.6 L4096.1,1662.6 L4101.2,1662.7 L4106.3,1662.7 L4111.5,1662.8 L4116.6,1662.8 L4121.7,1662.8 L4126.9,1662.9 L4132.0,1662.9 L4137.1,1662.9 L4142.3,1662.9 L4147.4,1663.0 L4152.5,1663.0 L4157.7,1663.0 L4162.8,1663.0 L4167.9,1663.0 L4173.1,1663.0 L4178.2,1663.0 L4183.3,1663.0 L4188.5,1663.0 L4193.6,1663.0 L4198.7,1663.0 L4203.9,1663.0 L4209.0,1663.0" fill="none" stroke="#6aa842" stroke-width="4" />
<path d="M621.0,1663.0 L626.1,1663.0 L631.3,1663.0 L636.4,1663.0 L641.5,1663.0 L646.7,1663.0 L651.8,1663.0 L656.9,1663.0 L662.1,1663.0 L667.2,1663.0 L672.3,1663.0 L677.5,1663.0 L682.6,1663.0 L687.7,1662.9 L692.9,1662.9 L698.0,1662.9 L703.1,1662.9 L708.3,1662.9 L713.4,1662.8 L718.5,1662.8 L723.7,1662.8 L728.8,1662.7 L733.9,1662.7 L739.1,1662.7 L744.2,1662.6 L749.3,1662.5 L754.5,1662.5 L759.6,1662.4 L764.7,1662.3 L769.9,1662.3 L775.0,1662.2 L780.1,1662.1 L785.3,1662.0 L790.4,1661.8 L795.5,1661.7 L800.7,1661.6 L805.8,1661.5 L810.9,1661.3 L816.1,1661.2 L821.2,1661.0 L826.3,1660.8 L831.5,1660.6 L836.6,1660.4 L841.7,1660.2 L846.9,1660.0 L852.0,1659.8 L857.1,1659.5 L862.3,1659.3 L867.4,1659.0 L872.5,1658.7 L877.7,1658.4 L882.8,1658.1 L887.9,1657.8 L893.1,1657.4 L898.2,1657.1 L903.3,1656.7 L908.5,1656.3 L913.6,1655.9 L918.7,1655.5 L923.8,1655.1 L929.0,1654.6 L934.1,1654.2 L939.2,1653.7 L944.4,1653.2 L949.5,1652.7 L954.6,1652.1 L959.8,1651.6 L964.9,1651.0 L970.0,1650.4 L975.2,1649.8 L980.3,1649.2 L985.4,1648.5 L990.6,1647.8 L995.7,1647.2 L1000.8,1646.4 L1006.0,1645.7 L1011.1,1644.9 L1016.2,1644.2 L1021.4,1643.4 L1026.5,1642.6 L1031.6,1641.7 L1036.8,1640.8 L1041.9,1640.0 L1047.0,1639.0 L1052.2,1638.1 L1057.3,1637.1 L1062.4,1636.2 L1067.6,1635.2 L1072.7,1634.1 L1077.8,1633.1 L1083.0,1632.0 L1088.1,1630.9 L1093.2,1629.8 L1098.4,1628.6 L1103.5,1627.4 L1108.6,1626.2 L1113.8,1625.0 L1118.9,1623.7 L1124.0,1622.4 L1129.2,1621.1 L1134.3,1619.8 L1139.4,1618.4 L1144.6,1617.0 L1149.7,1615.6 L1154.8,1614.2 L1160.0,1612.7 L1165.1,1611.2 L1170.2,1609.7 L1175.4,1608.1 L1180.5,1606.5 L1185.6,1604.9 L1190.8,1603.3 L1195.9,1601.6 L1201.0,1599.9 L1206.2,1598.2 L1211.3,1596.5 L1216.4,1594.7 L1221.6,1592.9 L1226.7,1591.1 L1231.8,1589.2 L1237.0,1587.3 L1242.1,1585.4 L1247.2,1583.4 L1252.4,1581.5 L1257.5,1579.5 L1262.6,1577.4 L1267.8,1575.4 L1272.9,1573.3 L1278.0,1571.1 L1283.2,1569.0 L1288.3,1566.8 L1293.4,1564.6 L1298.6,1562.4 L1303.7,1560.1 L1308.8,1557.8 L1314.0,1555.5 L1319.1,1553.2 L1324.2,1550.8 L1329.4,1548.4 L1334.5,1546.0 L1339.6,1543.5 L1344.8,1541.0 L1349.9,1538.5 L1355.0,1536.0 L1360.2,1533.4 L1365.3,1530.8 L1370.4,1528.2 L1375.6,1525.6 L1380.7,1522.9 L1385.8,1520.2 L1391.0,1517.5 L1396.1,1514.7 L1401.2,1512.0 L1406.4,1509.2 L1411.5,1506.3 L1416.6,1503.5 L1421.8,1500.6 L1426.9,1497.7 L1432.0,1494.8 L1437.2,1491.8 L1442.3,1488.8 L1447.4,1485.8 L1452.6,1482.8 L1457.7,1479.8 L1462.8,1476.7 L1468.0,1473.6 L1473.1,1470.5 L1478.2,1467.3 L1483.4,1464.2 L1488.5,1461.0 L1493.6,1457.8 L1498.8,1454.6 L1503.9,1451.3 L1509.0,1448.1 L1514.2,1444.8 L1519.3,1441.5 L1524.4,1438.1 L1529.5,1434.8 L1534.7,1431.4 L1539.8,1428.0 L1544.9,1424.6 L1550.1,1421.2 L1555.2,1417.8 L1560.3,1414.3 L1565.5,1410.9 L1570.6,1407.4 L1575.7,1403.9 L1580.9,1400.4 L1586.0,1396.8 L1591.1,1393.3 L1596.3,1389.7 L1601.4,1386.1 L1606.5,1382.5 L1611.7,1378.9 L1616.8,1375.3 L1621.9,1371.7 L1627.1,1368.1 L1632.2,1364.4 L1637.3,1360.7 L1642.5,1357.1 L1647.6,1353.4 L1652.7,1349.7 L1657.9,1346.0 L1663.0,1342.3 L1668.1,1338.6 L1673.3,1334.8 L1678.4,1331.1 L1683.5,1327.4 L1688.7,1323.6 L1693.8,1319.9 L1698.9,1316.1 L1704.1,1312.4 L1709.2,1308.6 L1714.3,1304.8 L1719.5,1301.1 L1724.6,1297.3 L1729.7,1293.5 L1734.9,1289.7 L1740.0,1285.9 L1745.1,1282.2 L1750.3,1278.4 L1755.4,1274.6 L1760.5,1270.8 L1765.7,1267.0 L1770.8,1263.3 L1775.9,1259.5 L1781.1,1255.7 L1786.2,1251.9 L1791.3,1248.2 L1796.5,1244.4 L1801.6,1240.7 L1806.7,1236.9 L1811.9,1233.2 L1817.0,1229.4 L1822.1,1225.7 L1827.3,1222.0 L1832.4,1218.3 L1837.5,1214.6 L1842.7,1210.9 L1847.8,1207.2 L1852.9,1203.5 L1858.1,1199.8 L1863.2,1196.2 L1868.3,1192.6 L1873.5,1188.9 L1878.6,1185.3 L1883.7,1181.7 L1888.9,1178.1 L1894.0,1174.5 L1899.1,1171.0 L1904.3,1167.4 L1909.4,1163.9 L1914.5,1160.4 L1919.7,1156.9 L1924.8,1153.4 L1929.9,1150.0 L1935.1,1146.5 L1940.2,1143.1 L1945.3,1139.7 L1950.5,1136.3 L1955.6,1133.0 L1960.7,1129.6 L1965.9,1126.3 L1971.0,1123.0 L1976.1,1119.8 L1981.3,1116.5 L1986.4,1113.3 L1991.5,1110.1 L1996.7,1106.9 L2001.8,1103.8 L2006.9,1100.6 L2012.1,1097.5 L2017.2,1094.5 L2022.3,1091.4 L2027.5,1088.4 L2032.6,1085.4 L2037.7,1082.5 L2042.9,1079.5 L2048.0,1076.6 L2053.1,1073.8 L2058.3,1070.9 L2063.4,1068.1 L2068.5,1065.3 L2073.7,1062.6 L2078.8,1059.9 L2083.9,1057.2 L2089.1,1054.5 L2094.2,1051.9 L2099.3,1049.3 L2104.5,1046.8 L2109.6,1044.2 L2114.7,1041.8 L2119.8,1039.3 L2125.0,1036.9 L2130.1,1034.5 L2135.2,1032.2 L2140.4,1029.9 L2145.5,1027.6 L2150.6,1025.4 L2155.8,1023.2 L2160.9,1021.1 L2166.0,1018.9 L2171.2,1016.9 L2176.3,1014.8 L2181.4,1012.8 L2186.6,1010.9 L2191.7,1008.9 L2196.8,1007.1 L2202.0,1005.2 L2207.1,1003.4 L2212.2,1001.7 L2217.4,1000.0 L2222.5,998.3 L2227.6,996.7 L2232.8,995.1 L2237.9,993.5 L2243.0,992.0 L2248.2,990.5 L2253.3,989.1 L2258.4,987.7 L2263.6,986.4 L2268.7,985.1 L2273.8,983.9 L2279.0,982.7 L2284.1,981.5 L2289.2,980.4 L2294.4,979.3 L2299.5,978.3 L2304.6,977.3 L2309.8,976.4 L2314.9,975.5 L2320.0,974.6 L2325.2,973.8 L2330.3,973.1 L2335.4,972.3 L2340.6,971.7 L2345.7,971.0 L2350.8,970.5 L2356.0,969.9 L2361.1,969.4 L2366.2,969.0 L2371.4,968.6 L2376.5,968.2 L2381.6,967.9 L2386.8,967.7 L2391.9,967.4 L2397.0,967.3 L2402.2,967.1 L2407.3,967.0 L2412.4,967.0 L2417.6,967.0 L2422.7,967.0 L2427.8,967.1 L2433.0,967.3 L2438.1,967.4 L2443.2,967.7 L2448.4,967.9 L2453.5,968.2 L2458.6,968.6 L2463.8,969.0 L2468.9,969.4 L2474.0,969.9 L2479.2,970.5 L2484.3,971.0 L2489.4,971.7 L2494.6,972.3 L2499.7,973.1 L2504.8,973.8 L2510.0,974.6 L2515.1,975.5 L2520.2,976.4 L2525.4,977.3 L2530.5,978.3 L2535.6,979.3 L2540.8,980.4 L2545.9,981.5 L2551.0,982.7 L2556.2,983.9 L2561.3,985.1 L2566.4,986.4 L2571.6,987.7 L2576.7,989.1 L2581.8,990.5 L2587.0,992.0 L2592.1,993.5 L2597.2,995.1 L2602.4,996.7 L2607.5,998.3 L2612.6,1000.0 L2617.8,1001.7 L2622.9,1003.4 L2628.0,1005.2 L2633.2,1007.1 L2638.3,1008.9 L2643.4,1010.9 L2648.6,1012.8 L2653.7,1014.8 L2658.8,1016.9 L2664.0,1018.9 L2669.1,1021.1 L2674.2,1023.2 L2679.4,1025.4 L2684.5,1027.6 L2689.6,1029.9 L2694.8,1032.2 L2699.9,1034.5 L2705.0,1036.9 L2710.2,1039.3 L2715.3,1041.8 L2720.4,1044.2 L2725.5,1046.8 L2730.7,1049.3 L2735.8,1051.9 L2740.9,1054.5 L2746.1,1057.2 L2751.2,1059.9 L2756.3,1062.6 L2761.5,1065.3 L2766.6,1068.1 L2771.7,1070.9 L2776.9,1073.8 L2782.0,1076.6 L2787.1,1079.5 L2792.3,1082.5 L2797.4,1085.4 L2802.5,1088.4 L2807.7,1091.4 L2812.8,1094.5 L2817.9,1097.5 L2823.1,1100.6 L2828.2,1103.8 L2833.3,1106.9 L2838.5,1110.1 L2843.6,1113.3 L2848.7,1116.5 L2853.9,1119.8 L2859.0,1123.0 L2864.1,1126.3 L2869.3,1129.6 L2874.4,1133.0 L2879.5,1136.3 L2884.7,1139.7 L2889.8,1143.1 L2894.9,1146.5 L2900.1,1150.0 L2905.2,1153.4 L2910.3,1156.9 L2915.5,1160.4 L2920.6,1163.9 L2925.7,1167.4 L2930.9,1171.0 L2936.0,1174.5 L2941.1,1178.1 L2946.3,1181.7 L2951.4,1185.3 L2956.5,1188.9 L2961.7,1192.6 L2966.8,1196.2 L2971.9,1199.8 L2977.1,1203.5 L2982.2,1207.2 L2987.3,1210.9 L2992.5,1214.6 L2997.6,1218.3 L3002.7,1222.0 L3007.9,1225.7 L3013.0,1229.4 L3018.1,1233.2 L3023.3,1236.9 L3028.4,1240.7 L3033.5,1244.4 L3038.7,1248.2 L3043.8,1251.9 L3048.9,1255.7 L3054.1,1259.5 L3059.2,1263.3 L3064.3,1267.0 L3069.5,1270.8 L3074.6,1274.6 L3079.7,1278.4 L3084.9,1282.2 L3090.0,1285.9 L3095.1,1289.7 L3100.3,1293.5 L3105.4,1297.3 L3110.5,1301.1 L3115.7,1304.8 L3120.8,1308.6 L3125.9,1312.4 L3131.1,1316.1 L3136.2,1319.9 L3141.3,1323.6 L3146.5,1327.4 L3151.6,1331.1 L3156.7,1334.8 L3161.9,1338.6 L3167.0,1342.3 L3172.1,1346.0 L3177.3,1349.7 L3182.4,1353.4 L3187.5,1357.1 L3192.7,1360.7 L3197.8,1364.4 L3202.9,1368.1 L3208.1,1371.7 L3213.2,1375.3 L3218.3,1378.9 L3223.5,1382.5 L3228.6,1386.1 L3233.7,1389.7 L3238.9,1393.3 L3244.0,1396.8 L3249.1,1400.4 L3254.3,1403.9 L3259.4,1407.4 L3264.5,1410.9 L3269.7,1414.3 L3274.8,1417.8 L3279.9,1421.2 L3285.1,1424.6 L3290.2,1428.0 L3295.3,1431.4 L3300.5,1434.8 L3305.6,1438.1 L3310.7,1441.5 L3315.8,1444.8 L3321.0,1448.1 L3326.1,1451.3 L3331.2,1454.6 L3336.4,1457.8 L3341.5,1461.0 L3346.6,1464.2 L3351.8,1467.3 L3356.9,1470.5 L3362.0,1473.6 L3367.2,1476.7 L3372.3,1479.8 L3377.4,1482.8 L3382.6,1485.8 L3387.7,1488.8 L3392.8,1491.8 L3398.0,1494.8 L3403.1,1497.7 L3408.2,1500.6 L3413.4,1503.5 L3418.5,1506.3 L3423.6,1509.2 L3428.8,1512.0 L3433.9,1514.7 L3439.0,1517.5 L3444.2,1520.2 L3449.3,1522.9 L3454.4,1525.6 L3459.6,1528.2 L3464.7,1530.8 L3469.8,1533.4 L3475.0,1536.0 L3480.1,1538.5 L3485.2,1541.0 L3490.4,1543.5 L3495.5,1546.0 L3500.6,1548.4 L3505.8,1550.8 L3510.9,1553.2 L3516.0,1555.5 L3521.2,1557.8 L3526.3,1560.1 L3531.4,1562.4 L3536.6,1564.6 L3541.7,1566.8 L3546.8,1569.0 L3552.0,1571.1 L3557.1,1573.3 L3562.2,1575.4 L3567.4,1577.4 L3572.5,1579.5 L3577.6,1581.5 L3582.8,1583.4 L3587.9,1585.4 L3593.0,1587.3 L3598.2,1589.2 L3603.3,1591.1 L3608.4,1592.9 L3613.6,1594.7 L3618.7,1596.5 L3623.8,1598.2 L3629.0,1599.9 L3634.1,1601.6 L3639.2,1603.3 L3644.4,1604.9 L3649.5,1606.5 L3654.6,1608.1 L3659.8,1609.7 L3664.9,1611.2 L3670.0,1612.7 L3675.2,1614.2 L3680.3,1615.6 L3685.4,1617.0 L3690.6,1618.4 L3695.7,1619.8 L3700.8,1621.1 L3706.0,1622.4 L3711.1,1623.7 L3716.2,1625.0 L3721.4,1626.2 L3726.5,1627.4 L3731.6,1628.6 L3736.8,1629.8 L3741.9,1630.9 L3747.0,1632.0 L3752.2,1633.1 L3757.3,1634.1 L3762.4,1635.2 L3767.6,1636.2 L3772.7,1637.1 L3777.8,1638.1 L3783.0,1639.0 L3788.1,1640.0 L3793.2,1640.8 L3798.4,1641.7 L3803.5,1642.6 L3808.6,1643.4 L3813.8,1644.2 L3818.9,1644.9 L3824.0,1645.7 L3829.2,1646.4 L3834.3,1647.2 L3839.4,1647.8 L3844.6,1648.5 L3849.7,1649.2 L3854.8,1649.8 L3860.0,1650.4 L3865.1,1651.0 L3870.2,1651.6 L3875.4,1652.1 L3880.5,1652.7 L3885.6,1653.2 L3890.8,1653.7 L3895.9,1654.2 L3901.0,1654.6 L3906.2,1655.1 L3911.3,1655.5 L3916.4,1655.9 L3921.5,1656.3 L3926.7,1656.7 L3931.8,1657.1 L3936.9,1657.4 L3942.1,1657.8 L3947.2,1658.1 L3952.3,1658.4 L3957.5,1658.7 L3962.6,1659.0 L3967.7,1659.3 L3972.9,1659.5 L3978.0,1659.8 L3983.1,1660.0 L3988.3,1660.2 L3993.4,1660.4 L3998.5,1660.6 L4003.7,1660.8 L4008.8,1661.0 L4013.9,1661.2 L4019.1,1661.3 L4024.2,1661.5 L4029.3,1661.6 L4034.5,1661.7 L4039.6,1661.8 L4044.7,1662.0 L4049.9,1662.1 L4055.0,1662.2 L4060.1,1662.3 L4065.3,1662.3 L4070.4,1662.4 L4075.5,1662.5 L4080.7,1662.5 L4085.8,1662.6 L4090.9,1662.7 L4096.1,1662.7 L4101.2,1662.7 L4106.3,1662.8 L4111.5,1662.8 L4116.6,1662.8 L4121.7,1662.9 L4126.9,1662.9 L4132.0,1662.9 L4137.1,1662.9 L4142.3,1662.9 L4147.4,1663.0 L4152.5,1663.0 L4157.7,1663.0 L4162.8,1663.0 L4167.9,1663.0 L4173.1,1663.0 L4178.2,1663.0 L4183.3,1663.0 L4188.5,1663.0 L4193.6,1663.0 L4198.7,1663.0 L4203.9,1663.0 L4209.0,1663.0" fill="none" stroke="#6aa842" stroke-width="4.5" />
<path d="M621.0,1663.0 L626.1,1663.0 L631.3,1663.0 L636.4,1663.0 L641.5,1663.0 L646.7,1663.0 L651.8,1663.0 L656.9,1663.0 L662.1,1663.0 L667.2,1663.0 L672.3,1663.0 L677.5,1663.0 L682.6,1663.0 L687.7,1663.0 L692.9,1662.9 L698.0,1662.9 L703.1,1662.9 L708.3,1662.9 L713.4,1662.9 L718.5,1662.8 L723.7,1662.8 L728.8,1662.8 L733.9,1662.7 L739.1,1662.7 L744.2,1662.6 L749.3,1662.6 L754.5,1662.5 L759.6,1662.4 L764.7,1662.4 L769.9,1662.3 L775.0,1662.2 L780.1,1662.1 L785.3,1662.0 L790.4,1661.9 L795.5,1661.8 L800.7,1661.7 L805.8,1661.6 L810.9,1661.4 L816.1,1661.3 L821.2,1661.1 L826.3,1660.9 L831.5,1660.8 L836.6,1660.6 L841.7,1660.4 L846.9,1660.2 L852.0,1660.0 L857.1,1659.7 L862.3,1659.5 L867.4,1659.2 L872.5,1659.0 L877.7,1658.7 L882.8,1658.4 L887.9,1658.1 L893.1,1657.8 L898.2,1657.4 L903.3,1657.1 L908.5,1656.7 L913.6,1656.4 L918.7,1656.0 L923.8,1655.6 L929.0,1655.2 L934.1,1654.7 L939.2,1654.3 L944.4,1653.8 L949.5,1653.3 L954.6,1652.8 L959.8,1652.3 L964.9,1651.7 L970.0,1651.2 L975.2,1650.6 L980.3,1650.0 L985.4,1649.4 L990.6,1648.8 L995.7,1648.1 L1000.8,1647.5 L1006.0,1646.8 L1011.1,1646.1 L1016.2,1645.3 L1021.4,1644.6 L1026.5,1643.8 L1031.6,1643.0 L1036.8,1642.2 L1041.9,1641.4 L1047.0,1640.5 L1052.2,1639.6 L1057.3,1638.7 L1062.4,1637.8 L1067.6,1636.9 L1072.7,1635.9 L1077.8,1634.9 L1083.0,1633.9 L1088.1,1632.9 L1093.2,1631.8 L1098.4,1630.7 L1103.5,1629.6 L1108.6,1628.5 L1113.8,1627.3 L1118.9,1626.1 L1124.0,1624.9 L1129.2,1623.7 L1134.3,1622.5 L1139.4,1621.2 L1144.6,1619.9 L1149.7,1618.5 L1154.8,1617.2 L1160.0,1615.8 L1165.1,1614.4 L1170.2,1613.0 L1175.4,1611.5 L1180.5,1610.0 L1185.6,1608.5 L1190.8,1607.0 L1195.9,1605.4 L1201.0,1603.8 L1206.2,1602.2 L1211.3,1600.6 L1216.4,1598.9 L1221.6,1597.2 L1226.7,1595.5 L1231.8,1593.7 L1237.0,1592.0 L1242.1,1590.2 L1247.2,1588.3 L1252.4,1586.5 L1257.5,1584.6 L1262.6,1582.7 L1267.8,1580.8 L1272.9,1578.8 L1278.0,1576.8 L1283.2,1574.8 L1288.3,1572.8 L1293.4,1570.7 L1298.6,1568.6 L1303.7,1566.5 L1308.8,1564.3 L1314.0,1562.2 L1319.1,1560.0 L1324.2,1557.7 L1329.4,1555.5 L1334.5,1553.2 L1339.6,1550.9 L1344.8,1548.6 L1349.9,1546.2 L1355.0,1543.8 L1360.2,1541.4 L1365.3,1539.0 L1370.4,1536.6 L1375.6,1534.1 L1380.7,1531.6 L1385.8,1529.0 L1391.0,1526.5 L1396.1,1523.9 L1401.2,1521.3 L1406.4,1518.7 L1411.5,1516.0 L1416.6,1513.3 L1421.8,1510.6 L1426.9,1507.9 L1432.0,1505.2 L1437.2,1502.4 L1442.3,1499.6 L1447.4,1496.8 L1452.6,1493.9 L1457.7,1491.1 L1462.8,1488.2 L1468.0,1485.3 L1473.1,1482.4 L1478.2,1479.4 L1483.4,1476.5 L1488.5,1473.5 L1493.6,1470.5 L1498.8,1467.4 L1503.9,1464.4 L1509.0,1461.3 L1514.2,1458.3 L1519.3,1455.1 L1524.4,1452.0 L1529.5,1448.9 L1534.7,1445.7 L1539.8,1442.6 L1544.9,1439.4 L1550.1,1436.2 L1555.2,1432.9 L1560.3,1429.7 L1565.5,1426.4 L1570.6,1423.2 L1575.7,1419.9 L1580.9,1416.6 L1586.0,1413.3 L1591.1,1409.9 L1596.3,1406.6 L1601.4,1403.2 L1606.5,1399.9 L1611.7,1396.5 L1616.8,1393.1 L1621.9,1389.7 L1627.1,1386.3 L1632.2,1382.9 L1637.3,1379.4 L1642.5,1376.0 L1647.6,1372.5 L1652.7,1369.1 L1657.9,1365.6 L1663.0,1362.1 L1668.1,1358.6 L1673.3,1355.1 L1678.4,1351.6 L1683.5,1348.1 L1688.7,1344.6 L1693.8,1341.1 L1698.9,1337.6 L1704.1,1334.0 L1709.2,1330.5 L1714.3,1327.0 L1719.5,1323.4 L1724.6,1319.9 L1729.7,1316.3 L1734.9,1312.8 L1740.0,1309.2 L1745.1,1305.7 L1750.3,1302.1 L1755.4,1298.6 L1760.5,1295.0 L1765.7,1291.5 L1770.8,1288.0 L1775.9,1284.4 L1781.1,1280.9 L1786.2,1277.3 L1791.3,1273.8 L1796.5,1270.3 L1801.6,1266.8 L1806.7,1263.2 L1811.9,1259.7 L1817.0,1256.2 L1822.1,1252.7 L1827.3,1249.2 L1832.4,1245.8 L1837.5,1242.3 L1842.7,1238.8 L1847.8,1235.3 L1852.9,1231.9 L1858.1,1228.5 L1863.2,1225.0 L1868.3,1221.6 L1873.5,1218.2 L1878.6,1214.8 L1883.7,1211.4 L1888.9,1208.1 L1894.0,1204.7 L1899.1,1201.4 L1904.3,1198.1 L1909.4,1194.7 L1914.5,1191.5 L1919.7,1188.2 L1924.8,1184.9 L1929.9,1181.7 L1935.1,1178.4 L1940.2,1175.2 L1945.3,1172.0 L1950.5,1168.9 L1955.6,1165.7 L1960.7,1162.6 L1965.9,1159.5 L1971.0,1156.4 L1976.1,1153.3 L1981.3,1150.3 L1986.4,1147.3 L1991.5,1144.2 L1996.7,1141.3 L2001.8,1138.3 L2006.9,1135.4 L2012.1,1132.5 L2017.2,1129.6 L2022.3,1126.7 L2027.5,1123.9 L2032.6,1121.1 L2037.7,1118.3 L2042.9,1115.6 L2048.0,1112.9 L2053.1,1110.2 L2058.3,1107.5 L2063.4,1104.9 L2068.5,1102.2 L2073.7,1099.7 L2078.8,1097.1 L2083.9,1094.6 L2089.1,1092.1 L2094.2,1089.7 L2099.3,1087.2 L2104.5,1084.8 L2109.6,1082.5 L2114.7,1080.1 L2119.8,1077.9 L2125.0,1075.6 L2130.1,1073.4 L2135.2,1071.2 L2140.4,1069.0 L2145.5,1066.9 L2150.6,1064.8 L2155.8,1062.7 L2160.9,1060.7 L2166.0,1058.7 L2171.2,1056.8 L2176.3,1054.9 L2181.4,1053.0 L2186.6,1051.2 L2191.7,1049.4 L2196.8,1047.6 L2202.0,1045.9 L2207.1,1044.2 L2212.2,1042.5 L2217.4,1040.9 L2222.5,1039.4 L2227.6,1037.8 L2232.8,1036.3 L2237.9,1034.9 L2243.0,1033.5 L2248.2,1032.1 L2253.3,1030.8 L2258.4,1029.5 L2263.6,1028.2 L2268.7,1027.0 L2273.8,1025.8 L2279.0,1024.7 L2284.1,1023.6 L2289.2,1022.6 L2294.4,1021.6 L2299.5,1020.6 L2304.6,1019.7 L2309.8,1018.8 L2314.9,1017.9 L2320.0,1017.1 L2325.2,1016.4 L2330.3,1015.7 L2335.4,1015.0 L2340.6,1014.4 L2345.7,1013.8 L2350.8,1013.2 L2356.0,1012.7 L2361.1,1012.3 L2366.2,1011.9 L2371.4,1011.5 L2376.5,1011.2 L2381.6,1010.9 L2386.8,1010.6 L2391.9,1010.4 L2397.0,1010.2 L2402.2,1010.1 L2407.3,1010.0 L2412.4,1010.0 L2417.6,1010.0 L2422.7,1010.0 L2427.8,1010.1 L2433.0,1010.2 L2438.1,1010.4 L2443.2,1010.6 L2448.4,1010.9 L2453.5,1011.2 L2458.6,1011.5 L2463.8,1011.9 L2468.9,1012.3 L2474.0,1012.7 L2479.2,1013.2 L2484.3,1013.8 L2489.4,1014.4 L2494.6,1015.0 L2499.7,1015.7 L2504.8,1016.4 L2510.0,1017.1 L2515.1,1017.9 L2520.2,1018.8 L2525.4,1019.7 L2530.5,1020.6 L2535.6,1021.6 L2540.8,1022.6 L2545.9,1023.6 L2551.0,1024.7 L2556.2,1025.8 L2561.3,1027.0 L2566.4,1028.2 L2571.6,1029.5 L2576.7,1030.8 L2581.8,1032.1 L2587.0,1033.5 L2592.1,1034.9 L2597.2,1036.3 L2602.4,1037.8 L2607.5,1039.4 L2612.6,1040.9 L2617.8,1042.5 L2622.9,1044.2 L2628.0,1045.9 L2633.2,1047.6 L2638.3,1049.4 L2643.4,1051.2 L2648.6,1053.0 L2653.7,1054.9 L2658.8,1056.8 L2664.0,1058.7 L2669.1,1060.7 L2674.2,1062.7 L2679.4,1064.8 L2684.5,1066.9 L2689.6,1069.0 L2694.8,1071.2 L2699.9,1073.4 L2705.0,1075.6 L2710.2,1077.9 L2715.3,1080.1 L2720.4,1082.5 L2725.5,1084.8 L2730.7,1087.2 L2735.8,1089.7 L2740.9,1092.1 L2746.1,1094.6 L2751.2,1097.1 L2756.3,1099.7 L2761.5,1102.2 L2766.6,1104.9 L2771.7,1107.5 L2776.9,1110.2 L2782.0,1112.9 L2787.1,1115.6 L2792.3,1118.3 L2797.4,1121.1 L2802.5,1123.9 L2807.7,1126.7 L2812.8,1129.6 L2817.9,1132.5 L2823.1,1135.4 L2828.2,1138.3 L2833.3,1141.3 L2838.5,1144.2 L2843.6,1147.3 L2848.7,1150.3 L2853.9,1153.3 L2859.0,1156.4 L2864.1,1159.5 L2869.3,1162.6 L2874.4,1165.7 L2879.5,1168.9 L2884.7,1172.0 L2889.8,1175.2 L2894.9,1178.4 L2900.1,1181.7 L2905.2,1184.9 L2910.3,1188.2 L2915.5,1191.5 L2920.6,1194.7 L2925.7,1198.1 L2930.9,1201.4 L2936.0,1204.7 L2941.1,1208.1 L2946.3,1211.4 L2951.4,1214.8 L2956.5,1218.2 L2961.7,1221.6 L2966.8,1225.0 L2971.9,1228.5 L2977.1,1231.9 L2982.2,1235.3 L2987.3,1238.8 L2992.5,1242.3 L2997.6,1245.8 L3002.7,1249.2 L3007.9,1252.7 L3013.0,1256.2 L3018.1,1259.7 L3023.3,1263.2 L3028.4,1266.8 L3033.5,1270.3 L3038.7,1273.8 L3043.8,1277.3 L3048.9,1280.9 L3054.1,1284.4 L3059.2,1288.0 L3064.3,1291.5 L3069.5,1295.0 L3074.6,1298.6 L3079.7,1302.1 L3084.9,1305.7 L3090.0,1309.2 L3095.1,1312.8 L3100.3,1316.3 L3105.4,1319.9 L3110.5,1323.4 L3115.7,1327.0 L3120.8,1330.5 L3125.9,1334.0 L3131.1,1337.6 L3136.2,1341.1 L3141.3,1344.6 L3146.5,1348.1 L3151.6,1351.6 L3156.7,1355.1 L3161.9,1358.6 L3167.0,1362.1 L3172.1,1365.6 L3177.3,1369.1 L3182.4,1372.5 L3187.5,1376.0 L3192.7,1379.4 L3197.8,1382.9 L3202.9,1386.3 L3208.1,1389.7 L3213.2,1393.1 L3218.3,1396.5 L3223.5,1399.9 L3228.6,1403.2 L3233.7,1406.6 L3238.9,1409.9 L3244.0,1413.3 L3249.1,1416.6 L3254.3,1419.9 L3259.4,1423.2 L3264.5,1426.4 L3269.7,1429.7 L3274.8,1432.9 L3279.9,1436.2 L3285.1,1439.4 L3290.2,1442.6 L3295.3,1445.7 L3300.5,1448.9 L3305.6,1452.0 L3310.7,1455.1 L3315.8,1458.3 L3321.0,1461.3 L3326.1,1464.4 L3331.2,1467.4 L3336.4,1470.5 L3341.5,1473.5 L3346.6,1476.5 L3351.8,1479.4 L3356.9,1482.4 L3362.0,1485.3 L3367.2,1488.2 L3372.3,1491.1 L3377.4,1493.9 L3382.6,1496.8 L3387.7,1499.6 L3392.8,1502.4 L3398.0,1505.2 L3403.1,1507.9 L3408.2,1510.6 L3413.4,1513.3 L3418.5,1516.0 L3423.6,1518.7 L3428.8,1521.3 L3433.9,1523.9 L3439.0,1526.5 L3444.2,1529.0 L3449.3,1531.6 L3454.4,1534.1 L3459.6,1536.6 L3464.7,1539.0 L3469.8,1541.4 L3475.0,1543.8 L3480.1,1546.2 L3485.2,1548.6 L3490.4,1550.9 L3495.5,1553.2 L3500.6,1555.5 L3505.8,1557.7 L3510.9,1560.0 L3516.0,1562.2 L3521.2,1564.3 L3526.3,1566.5 L3531.4,1568.6 L3536.6,1570.7 L3541.7,1572.8 L3546.8,1574.8 L3552.0,1576.8 L3557.1,1578.8 L3562.2,1580.8 L3567.4,1582.7 L3572.5,1584.6 L3577.6,1586.5 L3582.8,1588.3 L3587.9,1590.2 L3593.0,1592.0 L3598.2,1593.7 L3603.3,1595.5 L3608.4,1597.2 L3613.6,1598.9 L3618.7,1600.6 L3623.8,1602.2 L3629.0,1603.8 L3634.1,1605.4 L3639.2,1607.0 L3644.4,1608.5 L3649.5,1610.0 L3654.6,1611.5 L3659.8,1613.0 L3664.9,1614.4 L3670.0,1615.8 L3675.2,1617.2 L3680.3,1618.5 L3685.4,1619.9 L3690.6,1621.2 L3695.7,1622.5 L3700.8,1623.7 L3706.0,1624.9 L3711.1,1626.1 L3716.2,1627.3 L3721.4,1628.5 L3726.5,1629.6 L3731.6,1630.7 L3736.8,1631.8 L3741.9,1632.9 L3747.0,1633.9 L3752.2,1634.9 L3757.3,1635.9 L3762.4,1636.9 L3767.6,1637.8 L3772.7,1638.7 L3777.8,1639.6 L3783.0,1640.5 L3788.1,1641.4 L3793.2,1642.2 L3798.4,1643.0 L3803.5,1643.8 L3808.6,1644.6 L3813.8,1645.3 L3818.9,1646.1 L3824.0,1646.8 L3829.2,1647.5 L3834.3,1648.1 L3839.4,1648.8 L3844.6,1649.4 L3849.7,1650.0 L3854.8,1650.6 L3860.0,1651.2 L3865.1,1651.7 L3870.2,1652.3 L3875.4,1652.8 L3880.5,1653.3 L3885.6,1653.8 L3890.8,1654.3 L3895.9,1654.7 L3901.0,1655.2 L3906.2,1655.6 L3911.3,1656.0 L3916.4,1656.4 L3921.5,1656.7 L3926.7,1657.1 L3931.8,1657.4 L3936.9,1657.8 L3942.1,1658.1 L3947.2,1658.4 L3952.3,1658.7 L3957.5,1659.0 L3962.6,1659.2 L3967.7,1659.5 L3972.9,1659.7 L3978.0,1660.0 L3983.1,1660.2 L3988.3,1660.4 L3993.4,1660.6 L3998.5,1660.8 L4003.7,1660.9 L4008.8,1661.1 L4013.9,1661.3 L4019.1,1661.4 L4024.2,1661.6 L4029.3,1661.7 L4034.5,1661.8 L4039.6,1661.9 L4044.7,1662.0 L4049.9,1662.1 L4055.0,1662.2 L4060.1,1662.3 L4065.3,1662.4 L4070.4,1662.4 L4075.5,1662.5 L4080.7,1662.6 L4085.8,1662.6 L4090.9,1662.7 L4096.1,1662.7 L4101.2,1662.8 L4106.3,1662.8 L4111.5,1662.8 L4116.6,1662.9 L4121.7,1662.9 L4126.9,1662.9 L4132.0,1662.9 L4137.1,1662.9 L4142.3,1663.0 L4147.4,1663.0 L4152.5,1663.0 L4157.7,1663.0 L4162.8,1663.0 L4167.9,1663.0 L4173.1,1663.0 L4178.2,1663.0 L4183.3,1663.0 L4188.5,1663.0 L4193.6,1663.0 L4198.7,1663.0 L4203.9,1663.0 L4209.0,1663.0" fill="none" stroke="#6aa842" stroke-width="2.5" />
<path d="M621.0,1663.0 L626.1,1663.0 L631.3,1663.0 L636.4,1663.0 L641.5,1663.0 L646.7,1663.0 L651.8,1663.0 L656.9,1663.0 L662.1,1663.0 L667.2,1663.0 L672.3,1663.0 L677.5,1663.0 L682.6,1663.0 L687.7,1663.0 L692.9,1662.9 L698.0,1662.9 L703.1,1662.9 L708.3,1662.9 L713.4,1662.9 L718.5,1662.8 L723.7,1662.8 L728.8,1662.8 L733.9,1662.7 L739.1,1662.7 L744.2,1662.6 L749.3,1662.6 L754.5,1662.5 L759.6,1662.5 L764.7,1662.4 L769.9,1662.3 L775.0,1662.2 L780.1,1662.2 L785.3,1662.1 L790.4,1662.0 L795.5,1661.9 L800.7,1661.7 L805.8,1661.6 L810.9,1661.5 L816.1,1661.3 L821.2,1661.2 L826.3,1661.0 L831.5,1660.9 L836.6,1660.7 L841.7,1660.5 L846.9,1660.3 L852.0,1660.1 L857.1,1659.9 L862.3,1659.6 L867.4,1659.4 L872.5,1659.1 L877.7,1658.9 L882.8,1658.6 L887.9,1658.3 L893.1,1658.0 L898.2,1657.7 L903.3,1657.4 L908.5,1657.0 L913.6,1656.7 L918.7,1656.3 L923.8,1655.9 L929.0,1655.5 L934.1,1655.1 L939.2,1654.6 L944.4,1654.2 L949.5,1653.7 L954.6,1653.2 L959.8,1652.7 L964.9,1652.2 L970.0,1651.7 L975.2,1651.1 L980.3,1650.6 L985.4,1650.0 L990.6,1649.4 L995.7,1648.8 L1000.8,1648.1 L1006.0,1647.5 L1011.1,1646.8 L1016.2,1646.1 L1021.4,1645.4 L1026.5,1644.6 L1031.6,1643.9 L1036.8,1643.1 L1041.9,1642.3 L1047.0,1641.5 L1052.2,1640.6 L1057.3,1639.8 L1062.4,1638.9 L1067.6,1638.0 L1072.7,1637.1 L1077.8,1636.1 L1083.0,1635.2 L1088.1,1634.2 L1093.2,1633.1 L1098.4,1632.1 L1103.5,1631.0 L1108.6,1630.0 L1113.8,1628.9 L1118.9,1627.7 L1124.0,1626.6 L1129.2,1625.4 L1134.3,1624.2 L1139.4,1623.0 L1144.6,1621.7 L1149.7,1620.5 L1154.8,1619.2 L1160.0,1617.8 L1165.1,1616.5 L1170.2,1615.1 L1175.4,1613.7 L1180.5,1612.3 L1185.6,1610.9 L1190.8,1609.4 L1195.9,1607.9 L1201.0,1606.4 L1206.2,1604.8 L1211.3,1603.3 L1216.4,1601.7 L1221.6,1600.0 L1226.7,1598.4 L1231.8,1596.7 L1237.0,1595.0 L1242.1,1593.3 L1247.2,1591.5 L1252.4,1589.8 L1257.5,1588.0 L1262.6,1586.1 L1267.8,1584.3 L1272.9,1582.4 L1278.0,1580.5 L1283.2,1578.6 L1288.3,1576.6 L1293.4,1574.7 L1298.6,1572.7 L1303.7,1570.6 L1308.8,1568.6 L1314.0,1566.5 L1319.1,1564.4 L1324.2,1562.3 L1329.4,1560.1 L1334.5,1557.9 L1339.6,1555.7 L1344.8,1553.5 L1349.9,1551.2 L1355.0,1549.0 L1360.2,1546.7 L1365.3,1544.3 L1370.4,1542.0 L1375.6,1539.6 L1380.7,1537.2 L1385.8,1534.8 L1391.0,1532.3 L1396.1,1529.9 L1401.2,1527.4 L1406.4,1524.8 L1411.5,1522.3 L1416.6,1519.7 L1421.8,1517.2 L1426.9,1514.6 L1432.0,1511.9 L1437.2,1509.3 L1442.3,1506.6 L1447.4,1503.9 L1452.6,1501.2 L1457.7,1498.5 L1462.8,1495.7 L1468.0,1492.9 L1473.1,1490.1 L1478.2,1487.3 L1483.4,1484.5 L1488.5,1481.6 L1493.6,1478.7 L1498.8,1475.8 L1503.9,1472.9 L1509.0,1470.0 L1514.2,1467.0 L1519.3,1464.1 L1524.4,1461.1 L1529.5,1458.1 L1534.7,1455.0 L1539.8,1452.0 L1544.9,1449.0 L1550.1,1445.9 L1555.2,1442.8 L1560.3,1439.7 L1565.5,1436.6 L1570.6,1433.4 L1575.7,1430.3 L1580.9,1427.1 L1586.0,1424.0 L1591.1,1420.8 L1596.3,1417.6 L1601.4,1414.4 L1606.5,1411.2 L1611.7,1407.9 L1616.8,1404.7 L1621.9,1401.4 L1627.1,1398.1 L1632.2,1394.9 L1637.3,1391.6 L1642.5,1388.3 L1647.6,1385.0 L1652.7,1381.7 L1657.9,1378.3 L1663.0,1375.0 L1668.1,1371.7 L1673.3,1368.3 L1678.4,1365.0 L1683.5,1361.6 L1688.7,1358.2 L1693.8,1354.9 L1698.9,1351.5 L1704.1,1348.1 L1709.2,1344.7 L1714.3,1341.4 L1719.5,1338.0 L1724.6,1334.6 L1729.7,1331.2 L1734.9,1327.8 L1740.0,1324.4 L1745.1,1321.0 L1750.3,1317.6 L1755.4,1314.2 L1760.5,1310.8 L1765.7,1307.4 L1770.8,1304.0 L1775.9,1300.7 L1781.1,1297.3 L1786.2,1293.9 L1791.3,1290.5 L1796.5,1287.1 L1801.6,1283.8 L1806.7,1280.4 L1811.9,1277.0 L1817.0,1273.7 L1822.1,1270.3 L1827.3,1267.0 L1832.4,1263.6 L1837.5,1260.3 L1842.7,1257.0 L1847.8,1253.7 L1852.9,1250.4 L1858.1,1247.1 L1863.2,1243.8 L1868.3,1240.5 L1873.5,1237.3 L1878.6,1234.0 L1883.7,1230.8 L1888.9,1227.6 L1894.0,1224.4 L1899.1,1221.2 L1904.3,1218.0 L1909.4,1214.8 L1914.5,1211.7 L1919.7,1208.5 L1924.8,1205.4 L1929.9,1202.3 L1935.1,1199.2 L1940.2,1196.2 L1945.3,1193.1 L1950.5,1190.1 L1955.6,1187.0 L1960.7,1184.0 L1965.9,1181.1 L1971.0,1178.1 L1976.1,1175.2 L1981.3,1172.3 L1986.4,1169.4 L1991.5,1166.5 L1996.7,1163.6 L2001.8,1160.8 L2006.9,1158.0 L2012.1,1155.2 L2017.2,1152.5 L2022.3,1149.7 L2027.5,1147.0 L2032.6,1144.3 L2037.7,1141.7 L2042.9,1139.1 L2048.0,1136.4 L2053.1,1133.9 L2058.3,1131.3 L2063.4,1128.8 L2068.5,1126.3 L2073.7,1123.8 L2078.8,1121.4 L2083.9,1119.0 L2089.1,1116.6 L2094.2,1114.2 L2099.3,1111.9 L2104.5,1109.6 L2109.6,1107.4 L2114.7,1105.1 L2119.8,1102.9 L2125.0,1100.8 L2130.1,1098.6 L2135.2,1096.5 L2140.4,1094.5 L2145.5,1092.4 L2150.6,1090.4 L2155.8,1088.5 L2160.9,1086.5 L2166.0,1084.6 L2171.2,1082.8 L2176.3,1080.9 L2181.4,1079.2 L2186.6,1077.4 L2191.7,1075.7 L2196.8,1074.0 L2202.0,1072.3 L2207.1,1070.7 L2212.2,1069.1 L2217.4,1067.6 L2222.5,1066.1 L2227.6,1064.6 L2232.8,1063.2 L2237.9,1061.8 L2243.0,1060.5 L2248.2,1059.1 L2253.3,1057.9 L2258.4,1056.6 L2263.6,1055.4 L2268.7,1054.3 L2273.8,1053.1 L2279.0,1052.1 L2284.1,1051.0 L2289.2,1050.0 L2294.4,1049.1 L2299.5,1048.1 L2304.6,1047.3 L2309.8,1046.4 L2314.9,1045.6 L2320.0,1044.8 L2325.2,1044.1 L2330.3,1043.4 L2335.4,1042.8 L2340.6,1042.2 L2345.7,1041.6 L2350.8,1041.1 L2356.0,1040.6 L2361.1,1040.2 L2366.2,1039.8 L2371.4,1039.4 L2376.5,1039.1 L2381.6,1038.8 L2386.8,1038.6 L2391.9,1038.4 L2397.0,1038.2 L2402.2,1038.1 L2407.3,1038.0 L2412.4,1038.0 L2417.6,1038.0 L2422.7,1038.0 L2427.8,1038.1 L2433.0,1038.2 L2438.1,1038.4 L2443.2,1038.6 L2448.4,1038.8 L2453.5,1039.1 L2458.6,1039.4 L2463.8,1039.8 L2468.9,1040.2 L2474.0,1040.6 L2479.2,1041.1 L2484.3,1041.6 L2489.4,1042.2 L2494.6,1042.8 L2499.7,1043.4 L2504.8,1044.1 L2510.0,1044.8 L2515.1,1045.6 L2520.2,1046.4 L2525.4,1047.3 L2530.5,1048.1 L2535.6,1049.1 L2540.8,1050.0 L2545.9,1051.0 L2551.0,1052.1 L2556.2,1053.1 L2561.3,1054.3 L2566.4,1055.4 L2571.6,1056.6 L2576.7,1057.9 L2581.8,1059.1 L2587.0,1060.5 L2592.1,1061.8 L2597.2,1063.2 L2602.4,1064.6 L2607.5,1066.1 L2612.6,1067.6 L2617.8,1069.1 L2622.9,1070.7 L2628.0,1072.3 L2633.2,1074.0 L2638.3,1075.7 L2643.4,1077.4 L2648.6,1079.2 L2653.7,1080.9 L2658.8,1082.8 L2664.0,1084.6 L2669.1,1086.5 L2674.2,1088.5 L2679.4,1090.4 L2684.5,1092.4 L2689.6,1094.5 L2694.8,1096.5 L2699.9,1098.6 L2705.0,1100.8 L2710.2,1102.9 L2715.3,1105.1 L2720.4,1107.4 L2725.5,1109.6 L2730.7,1111.9 L2735.8,1114.2 L2740.9,1116.6 L2746.1,1119.0 L2751.2,1121.4 L2756.3,1123.8 L2761.5,1126.3 L2766.6,1128.8 L2771.7,1131.3 L2776.9,1133.9 L2782.0,1136.4 L2787.1,1139.1 L2792.3,1141.7 L2797.4,1144.3 L2802.5,1147.0 L2807.7,1149.7 L2812.8,1152.5 L2817.9,1155.2 L2823.1,1158.0 L2828.2,1160.8 L2833.3,1163.6 L2838.5,1166.5 L2843.6,1169.4 L2848.7,1172.3 L2853.9,1175.2 L2859.0,1178.1 L2864.1,1181.1 L2869.3,1184.0 L2874.4,1187.0 L2879.5,1190.1 L2884.7,1193.1 L2889.8,1196.2 L2894.9,1199.2 L2900.1,1202.3 L2905.2,1205.4 L2910.3,1208.5 L2915.5,1211.7 L2920.6,1214.8 L2925.7,1218.0 L2930.9,1221.2 L2936.0,1224.4 L2941.1,1227.6 L2946.3,1230.8 L2951.4,1234.0 L2956.5,1237.3 L2961.7,1240.5 L2966.8,1243.8 L2971.9,1247.1 L2977.1,1250.4 L2982.2,1253.7 L2987.3,1257.0 L2992.5,1260.3 L2997.6,1263.6 L3002.7,1267.0 L3007.9,1270.3 L3013.0,1273.7 L3018.1,1277.0 L3023.3,1280.4 L3028.4,1283.8 L3033.5,1287.1 L3038.7,1290.5 L3043.8,1293.9 L3048.9,1297.3 L3054.1,1300.7 L3059.2,1304.0 L3064.3,1307.4 L3069.5,1310.8 L3074.6,1314.2 L3079.7,1317.6 L3084.9,1321.0 L3090.0,1324.4 L3095.1,1327.8 L3100.3,1331.2 L3105.4,1334.6 L3110.5,1338.0 L3115.7,1341.4 L3120.8,1344.7 L3125.9,1348.1 L3131.1,1351.5 L3136.2,1354.9 L3141.3,1358.2 L3146.5,1361.6 L3151.6,1365.0 L3156.7,1368.3 L3161.9,1371.7 L3167.0,1375.0 L3172.1,1378.3 L3177.3,1381.7 L3182.4,1385.0 L3187.5,1388.3 L3192.7,1391.6 L3197.8,1394.9 L3202.9,1398.1 L3208.1,1401.4 L3213.2,1404.7 L3218.3,1407.9 L3223.5,1411.2 L3228.6,1414.4 L3233.7,1417.6 L3238.9,1420.8 L3244.0,1424.0 L3249.1,1427.1 L3254.3,1430.3 L3259.4,1433.4 L3264.5,1436.6 L3269.7,1439.7 L3274.8,1442.8 L3279.9,1445.9 L3285.1,1449.0 L3290.2,1452.0 L3295.3,1455.0 L3300.5,1458.1 L3305.6,1461.1 L3310.7,1464.1 L3315.8,1467.0 L3321.0,1470.0 L3326.1,1472.9 L3331.2,1475.8 L3336.4,1478.7 L3341.5,1481.6 L3346.6,1484.5 L3351.8,1487.3 L3356.9,1490.1 L3362.0,1492.9 L3367.2,1495.7 L3372.3,1498.5 L3377.4,1501.2 L3382.6,1503.9 L3387.7,1506.6 L3392.8,1509.3 L3398.0,1511.9 L3403.1,1514.6 L3408.2,1517.2 L3413.4,1519.7 L3418.5,1522.3 L3423.6,1524.8 L3428.8,1527.4 L3433.9,1529.9 L3439.0,1532.3 L3444.2,1534.8 L3449.3,1537.2 L3454.4,1539.6 L3459.6,1542.0 L3464.7,1544.3 L3469.8,1546.7 L3475.0,1549.0 L3480.1,1551.2 L3485.2,1553.5 L3490.4,1555.7 L3495.5,1557.9 L3500.6,1560.1 L3505.8,1562.3 L3510.9,1564.4 L3516.0,1566.5 L3521.2,1568.6 L3526.3,1570.6 L3531.4,1572.7 L3536.6,1574.7 L3541.7,1576.6 L3546.8,1578.6 L3552.0,1580.5 L3557.1,1582.4 L3562.2,1584.3 L3567.4,1586.1 L3572.5,1588.0 L3577.6,1589.8 L3582.8,1591.5 L3587.9,1593.3 L3593.0,1595.0 L3598.2,1596.7 L3603.3,1598.4 L3608.4,1600.0 L3613.6,1601.7 L3618.7,1603.3 L3623.8,1604.8 L3629.0,1606.4 L3634.1,1607.9 L3639.2,1609.4 L3644.4,1610.9 L3649.5,1612.3 L3654.6,1613.7 L3659.8,1615.1 L3664.9,1616.5 L3670.0,1617.8 L3675.2,1619.2 L3680.3,1620.5 L3685.4,1621.7 L3690.6,1623.0 L3695.7,1624.2 L3700.8,1625.4 L3706.0,1626.6 L3711.1,1627.7 L3716.2,1628.9 L3721.4,1630.0 L3726.5,1631.0 L3731.6,1632.1 L3736.8,1633.1 L3741.9,1634.2 L3747.0,1635.2 L3752.2,1636.1 L3757.3,1637.1 L3762.4,1638.0 L3767.6,1638.9 L3772.7,1639.8 L3777.8,1640.6 L3783.0,1641.5 L3788.1,1642.3 L3793.2,1643.1 L3798.4,1643.9 L3803.5,1644.6 L3808.6,1645.4 L3813.8,1646.1 L3818.9,1646.8 L3824.0,1647.5 L3829.2,1648.1 L3834.3,1648.8 L3839.4,1649.4 L3844.6,1650.0 L3849.7,1650.6 L3854.8,1651.1 L3860.0,1651.7 L3865.1,1652.2 L3870.2,1652.7 L3875.4,1653.2 L3880.5,1653.7 L3885.6,1654.2 L3890.8,1654.6 L3895.9,1655.1 L3901.0,1655.5 L3906.2,1655.9 L3911.3,1656.3 L3916.4,1656.7 L3921.5,1657.0 L3926.7,1657.4 L3931.8,1657.7 L3936.9,1658.0 L3942.1,1658.3 L3947.2,1658.6 L3952.3,1658.9 L3957.5,1659.1 L3962.6,1659.4 L3967.7,1659.6 L3972.9,1659.9 L3978.0,1660.1 L3983.1,1660.3 L3988.3,1660.5 L3993.4,1660.7 L3998.5,1660.9 L4003.7,1661.0 L4008.8,1661.2 L4013.9,1661.3 L4019.1,1661.5 L4024.2,1661.6 L4029.3,1661.7 L4034.5,1661.9 L4039.6,1662.0 L4044.7,1662.1 L4049.9,1662.2 L4055.0,1662.2 L4060.1,1662.3 L4065.3,1662.4 L4070.4,1662.5 L4075.5,1662.5 L4080.7,1662.6 L4085.8,1662.6 L4090.9,1662.7 L4096.1,1662.7 L4101.2,1662.8 L4106.3,1662.8 L4111.5,1662.8 L4116.6,1662.9 L4121.7,1662.9 L4126.9,1662.9 L4132.0,1662.9 L4137.1,1662.9 L4142.3,1663.0 L4147.4,1663.0 L4152.5,1663.0 L4157.7,1663.0 L4162.8,1663.0 L4167.9,1663.0 L4173.1,1663.0 L4178.2,1663.0 L4183.3,1663.0 L4188.5,1663.0 L4193.6,1663.0 L4198.7,1663.0 L4203.9,1663.0 L4209.0,1663.0" fill="none" stroke="#6aa842" stroke-width="3" />
<path d="M621.0,1663.0 L626.1,1663.0 L631.3,1663.0 L636.4,1663.0 L641.5,1663.0 L646.7,1663.0 L651.8,1663.0 L656.9,1663.0 L662.1,1663.0 L667.2,1663.0 L672.3,1663.0 L677.5,1663.0 L682.6,1663.0 L687.7,1662.9 L692.9,1662.9 L698.0,1662.9 L703.1,1662.9 L708.3,1662.9 L713.4,1662.8 L718.5,1662.8 L723.7,1662.8 L728.8,1662.7 L733.9,1662.7 L739.1,1662.6 L744.2,1662.5 L749.3,1662.5 L754.5,1662.4 L759.6,1662.3 L764.7,1662.2 L769.9,1662.1 L775.0,1662.0 L780.1,1661.9 L785.3,1661.8 L790.4,1661.7 L795.5,1661.5 L800.7,1661.4 L805.8,1661.2 L810.9,1661.1 L816.1,1660.9 L821.2,1660.7 L826.3,1660.5 L831.5,1660.3 L836.6,1660.1 L841.7,1659.8 L846.9,1659.6 L852.0,1659.3 L857.1,1659.0 L862.3,1658.7 L867.4,1658.4 L872.5,1658.1 L877.7,1657.8 L882.8,1657.4 L887.9,1657.0 L893.1,1656.7 L898.2,1656.2 L903.3,1655.8 L908.5,1655.4 L913.6,1654.9 L918.7,1654.5 L923.8,1654.0 L929.0,1653.5 L934.1,1652.9 L939.2,1652.4 L944.4,1651.8 L949.5,1651.2 L954.6,1650.6 L959.8,1650.0 L964.9,1649.3 L970.0,1648.6 L975.2,1647.9 L980.3,1647.2 L985.4,1646.5 L990.6,1645.7 L995.7,1644.9 L1000.8,1644.1 L1006.0,1643.3 L1011.1,1642.4 L1016.2,1641.5 L1021.4,1640.6 L1026.5,1639.7 L1031.6,1638.7 L1036.8,1637.7 L1041.9,1636.7 L1047.0,1635.7 L1052.2,1634.6 L1057.3,1633.5 L1062.4,1632.4 L1067.6,1631.2 L1072.7,1630.1 L1077.8,1628.8 L1083.0,1627.6 L1088.1,1626.4 L1093.2,1625.1 L1098.4,1623.7 L1103.5,1622.4 L1108.6,1621.0 L1113.8,1619.6 L1118.9,1618.2 L1124.0,1616.7 L1129.2,1615.2 L1134.3,1613.7 L1139.4,1612.1 L1144.6,1610.6 L1149.7,1608.9 L1154.8,1607.3 L1160.0,1605.6 L1165.1,1603.9 L1170.2,1602.2 L1175.4,1600.4 L1180.5,1598.6 L1185.6,1596.7 L1190.8,1594.9 L1195.9,1593.0 L1201.0,1591.0 L1206.2,1589.1 L1211.3,1587.1 L1216.4,1585.1 L1221.6,1583.0 L1226.7,1580.9 L1231.8,1578.8 L1237.0,1576.6 L1242.1,1574.4 L1247.2,1572.2 L1252.4,1569.9 L1257.5,1567.7 L1262.6,1565.3 L1267.8,1563.0 L1272.9,1560.6 L1278.0,1558.2 L1283.2,1555.7 L1288.3,1553.3 L1293.4,1550.7 L1298.6,1548.2 L1303.7,1545.6 L1308.8,1543.0 L1314.0,1540.4 L1319.1,1537.7 L1324.2,1535.0 L1329.4,1532.2 L1334.5,1529.5 L1339.6,1526.7 L1344.8,1523.8 L1349.9,1521.0 L1355.0,1518.1 L1360.2,1515.2 L1365.3,1512.2 L1370.4,1509.2 L1375.6,1506.2 L1380.7,1503.1 L1385.8,1500.1 L1391.0,1497.0 L1396.1,1493.8 L1401.2,1490.6 L1406.4,1487.4 L1411.5,1484.2 L1416.6,1481.0 L1421.8,1477.7 L1426.9,1474.4 L1432.0,1471.0 L1437.2,1467.7 L1442.3,1464.3 L1447.4,1460.8 L1452.6,1457.4 L1457.7,1453.9 L1462.8,1450.4 L1468.0,1446.9 L1473.1,1443.3 L1478.2,1439.7 L1483.4,1436.1 L1488.5,1432.5 L1493.6,1428.8 L1498.8,1425.2 L1503.9,1421.5 L1509.0,1417.7 L1514.2,1414.0 L1519.3,1410.2 L1524.4,1406.4 L1529.5,1402.6 L1534.7,1398.8 L1539.8,1394.9 L1544.9,1391.0 L1550.1,1387.1 L1555.2,1383.2 L1560.3,1379.2 L1565.5,1375.3 L1570.6,1371.3 L1575.7,1367.3 L1580.9,1363.3 L1586.0,1359.3 L1591.1,1355.2 L1596.3,1351.1 L1601.4,1347.1 L1606.5,1343.0 L1611.7,1338.9 L1616.8,1334.7 L1621.9,1330.6 L1627.1,1326.4 L1632.2,1322.3 L1637.3,1318.1 L1642.5,1313.9 L1647.6,1309.7 L1652.7,1305.5 L1657.9,1301.3 L1663.0,1297.0 L1668.1,1292.8 L1673.3,1288.5 L1678.4,1284.3 L1683.5,1280.0 L1688.7,1275.7 L1693.8,1271.5 L1698.9,1267.2 L1704.1,1262.9 L1709.2,1258.6 L1714.3,1254.3 L1719.5,1250.0 L1724.6,1245.7 L1729.7,1241.4 L1734.9,1237.1 L1740.0,1232.7 L1745.1,1228.4 L1750.3,1224.1 L1755.4,1219.8 L1760.5,1215.5 L1765.7,1211.2 L1770.8,1206.9 L1775.9,1202.6 L1781.1,1198.3 L1786.2,1194.0 L1791.3,1189.7 L1796.5,1185.4 L1801.6,1181.1 L1806.7,1176.8 L1811.9,1172.5 L1817.0,1168.3 L1822.1,1164.0 L1827.3,1159.8 L1832.4,1155.5 L1837.5,1151.3 L1842.7,1147.1 L1847.8,1142.9 L1852.9,1138.7 L1858.1,1134.5 L1863.2,1130.3 L1868.3,1126.2 L1873.5,1122.0 L1878.6,1117.9 L1883.7,1113.8 L1888.9,1109.7 L1894.0,1105.6 L1899.1,1101.6 L1904.3,1097.5 L1909.4,1093.5 L1914.5,1089.5 L1919.7,1085.5 L1924.8,1081.5 L1929.9,1077.6 L1935.1,1073.7 L1940.2,1069.8 L1945.3,1065.9 L1950.5,1062.0 L1955.6,1058.2 L1960.7,1054.4 L1965.9,1050.6 L1971.0,1046.8 L1976.1,1043.1 L1981.3,1039.4 L1986.4,1035.7 L1991.5,1032.1 L1996.7,1028.5 L2001.8,1024.9 L2006.9,1021.3 L2012.1,1017.8 L2017.2,1014.3 L2022.3,1010.8 L2027.5,1007.3 L2032.6,1003.9 L2037.7,1000.6 L2042.9,997.2 L2048.0,993.9 L2053.1,990.6 L2058.3,987.4 L2063.4,984.2 L2068.5,981.0 L2073.7,977.9 L2078.8,974.8 L2083.9,971.7 L2089.1,968.7 L2094.2,965.7 L2099.3,962.7 L2104.5,959.8 L2109.6,956.9 L2114.7,954.1 L2119.8,951.3 L2125.0,948.6 L2130.1,945.9 L2135.2,943.2 L2140.4,940.6 L2145.5,938.0 L2150.6,935.4 L2155.8,932.9 L2160.9,930.5 L2166.0,928.1 L2171.2,925.7 L2176.3,923.4 L2181.4,921.1 L2186.6,918.9 L2191.7,916.7 L2196.8,914.5 L2202.0,912.4 L2207.1,910.4 L2212.2,908.4 L2217.4,906.4 L2222.5,904.5 L2227.6,902.6 L2232.8,900.8 L2237.9,899.1 L2243.0,897.3 L2248.2,895.7 L2253.3,894.0 L2258.4,892.5 L2263.6,890.9 L2268.7,889.5 L2273.8,888.0 L2279.0,886.7 L2284.1,885.3 L2289.2,884.1 L2294.4,882.9 L2299.5,881.7 L2304.6,880.6 L2309.8,879.5 L2314.9,878.5 L2320.0,877.5 L2325.2,876.6 L2330.3,875.7 L2335.4,874.9 L2340.6,874.1 L2345.7,873.4 L2350.8,872.7 L2356.0,872.1 L2361.1,871.6 L2366.2,871.1 L2371.4,870.6 L2376.5,870.2 L2381.6,869.9 L2386.8,869.6 L2391.9,869.3 L2397.0,869.1 L2402.2,869.0 L2407.3,868.9 L2412.4,868.8 L2417.6,868.8 L2422.7,868.9 L2427.8,869.0 L2433.0,869.1 L2438.1,869.3 L2443.2,869.6 L2448.4,869.9 L2453.5,870.2 L2458.6,870.6 L2463.8,871.1 L2468.9,871.6 L2474.0,872.1 L2479.2,872.7 L2484.3,873.4 L2489.4,874.1 L2494.6,874.9 L2499.7,875.7 L2504.8,876.6 L2510.0,877.5 L2515.1,878.5 L2520.2,879.5 L2525.4,880.6 L2530.5,881.7 L2535.6,882.9 L2540.8,884.1 L2545.9,885.3 L2551.0,886.7 L2556.2,888.0 L2561.3,889.5 L2566.4,890.9 L2571.6,892.5 L2576.7,894.0 L2581.8,895.7 L2587.0,897.3 L2592.1,899.1 L2597.2,900.8 L2602.4,902.6 L2607.5,904.5 L2612.6,906.4 L2617.8,908.4 L2622.9,910.4 L2628.0,912.4 L2633.2,914.5 L2638.3,916.7 L2643.4,918.9 L2648.6,921.1 L2653.7,923.4 L2658.8,925.7 L2664.0,928.1 L2669.1,930.5 L2674.2,932.9 L2679.4,935.4 L2684.5,938.0 L2689.6,940.6 L2694.8,943.2 L2699.9,945.9 L2705.0,948.6 L2710.2,951.3 L2715.3,954.1 L2720.4,956.9 L2725.5,959.8 L2730.7,962.7 L2735.8,965.7 L2740.9,968.7 L2746.1,971.7 L2751.2,974.8 L2756.3,977.9 L2761.5,981.0 L2766.6,984.2 L2771.7,987.4 L2776.9,990.6 L2782.0,993.9 L2787.1,997.2 L2792.3,1000.6 L2797.4,1003.9 L2802.5,1007.3 L2807.7,1010.8 L2812.8,1014.3 L2817.9,1017.8 L2823.1,1021.3 L2828.2,1024.9 L2833.3,1028.5 L2838.5,1032.1 L2843.6,1035.7 L2848.7,1039.4 L2853.9,1043.1 L2859.0,1046.8 L2864.1,1050.6 L2869.3,1054.4 L2874.4,1058.2 L2879.5,1062.0 L2884.7,1065.9 L2889.8,1069.8 L2894.9,1073.7 L2900.1,1077.6 L2905.2,1081.5 L2910.3,1085.5 L2915.5,1089.5 L2920.6,1093.5 L2925.7,1097.5 L2930.9,1101.6 L2936.0,1105.6 L2941.1,1109.7 L2946.3,1113.8 L2951.4,1117.9 L2956.5,1122.0 L2961.7,1126.2 L2966.8,1130.3 L2971.9,1134.5 L2977.1,1138.7 L2982.2,1142.9 L2987.3,1147.1 L2992.5,1151.3 L2997.6,1155.5 L3002.7,1159.8 L3007.9,1164.0 L3013.0,1168.3 L3018.1,1172.5 L3023.3,1176.8 L3028.4,1181.1 L3033.5,1185.4 L3038.7,1189.7 L3043.8,1194.0 L3048.9,1198.3 L3054.1,1202.6 L3059.2,1206.9 L3064.3,1211.2 L3069.5,1215.5 L3074.6,1219.8 L3079.7,1224.1 L3084.9,1228.4 L3090.0,1232.7 L3095.1,1237.1 L3100.3,1241.4 L3105.4,1245.7 L3110.5,1250.0 L3115.7,1254.3 L3120.8,1258.6 L3125.9,1262.9 L3131.1,1267.2 L3136.2,1271.5 L3141.3,1275.7 L3146.5,1280.0 L3151.6,1284.3 L3156.7,1288.5 L3161.9,1292.8 L3167.0,1297.0 L3172.1,1301.3 L3177.3,1305.5 L3182.4,1309.7 L3187.5,1313.9 L3192.7,1318.1 L3197.8,1322.3 L3202.9,1326.4 L3208.1,1330.6 L3213.2,1334.7 L3218.3,1338.9 L3223.5,1343.0 L3228.6,1347.1 L3233.7,1351.1 L3238.9,1355.2 L3244.0,1359.3 L3249.1,1363.3 L3254.3,1367.3 L3259.4,1371.3 L3264.5,1375.3 L3269.7,1379.2 L3274.8,1383.2 L3279.9,1387.1 L3285.1,1391.0 L3290.2,1394.9 L3295.3,1398.8 L3300.5,1402.6 L3305.6,1406.4 L3310.7,1410.2 L3315.8,1414.0 L3321.0,1417.7 L3326.1,1421.5 L3331.2,1425.2 L3336.4,1428.8 L3341.5,1432.5 L3346.6,1436.1 L3351.8,1439.7 L3356.9,1443.3 L3362.0,1446.9 L3367.2,1450.4 L3372.3,1453.9 L3377.4,1457.4 L3382.6,1460.8 L3387.7,1464.3 L3392.8,1467.7 L3398.0,1471.0 L3403.1,1474.4 L3408.2,1477.7 L3413.4,1481.0 L3418.5,1484.2 L3423.6,1487.4 L3428.8,1490.6 L3433.9,1493.8 L3439.0,1497.0 L3444.2,1500.1 L3449.3,1503.1 L3454.4,1506.2 L3459.6,1509.2 L3464.7,1512.2 L3469.8,1515.2 L3475.0,1518.1 L3480.1,1521.0 L3485.2,1523.8 L3490.4,1526.7 L3495.5,1529.5 L3500.6,1532.2 L3505.8,1535.0 L3510.9,1537.7 L3516.0,1540.4 L3521.2,1543.0 L3526.3,1545.6 L3531.4,1548.2 L3536.6,1550.7 L3541.7,1553.3 L3546.8,1555.7 L3552.0,1558.2 L3557.1,1560.6 L3562.2,1563.0 L3567.4,1565.3 L3572.5,1567.7 L3577.6,1569.9 L3582.8,1572.2 L3587.9,1574.4 L3593.0,1576.6 L3598.2,1578.8 L3603.3,1580.9 L3608.4,1583.0 L3613.6,1585.1 L3618.7,1587.1 L3623.8,1589.1 L3629.0,1591.0 L3634.1,1593.0 L3639.2,1594.9 L3644.4,1596.7 L3649.5,1598.6 L3654.6,1600.4 L3659.8,1602.2 L3664.9,1603.9 L3670.0,1605.6 L3675.2,1607.3 L3680.3,1608.9 L3685.4,1610.6 L3690.6,1612.1 L3695.7,1613.7 L3700.8,1615.2 L3706.0,1616.7 L3711.1,1618.2 L3716.2,1619.6 L3721.4,1621.0 L3726.5,1622.4 L3731.6,1623.7 L3736.8,1625.1 L3741.9,1626.4 L3747.0,1627.6 L3752.2,1628.8 L3757.3,1630.1 L3762.4,1631.2 L3767.6,1632.4 L3772.7,1633.5 L3777.8,1634.6 L3783.0,1635.7 L3788.1,1636.7 L3793.2,1637.7 L3798.4,1638.7 L3803.5,1639.7 L3808.6,1640.6 L3813.8,1641.5 L3818.9,1642.4 L3824.0,1643.3 L3829.2,1644.1 L3834.3,1644.9 L3839.4,1645.7 L3844.6,1646.5 L3849.7,1647.2 L3854.8,1647.9 L3860.0,1648.6 L3865.1,1649.3 L3870.2,1650.0 L3875.4,1650.6 L3880.5,1651.2 L3885.6,1651.8 L3890.8,1652.4 L3895.9,1652.9 L3901.0,1653.5 L3906.2,1654.0 L3911.3,1654.5 L3916.4,1654.9 L3921.5,1655.4 L3926.7,1655.8 L3931.8,1656.2 L3936.9,1656.7 L3942.1,1657.0 L3947.2,1657.4 L3952.3,1657.8 L3957.5,1658.1 L3962.6,1658.4 L3967.7,1658.7 L3972.9,1659.0 L3978.0,1659.3 L3983.1,1659.6 L3988.3,1659.8 L3993.4,1660.1 L3998.5,1660.3 L4003.7,1660.5 L4008.8,1660.7 L4013.9,1660.9 L4019.1,1661.1 L4024.2,1661.2 L4029.3,1661.4 L4034.5,1661.5 L4039.6,1661.7 L4044.7,1661.8 L4049.9,1661.9 L4055.0,1662.0 L4060.1,1662.1 L4065.3,1662.2 L4070.4,1662.3 L4075.5,1662.4 L4080.7,1662.5 L4085.8,1662.5 L4090.9,1662.6 L4096.1,1662.7 L4101.2,1662.7 L4106.3,1662.8 L4111.5,1662.8 L4116.6,1662.8 L4121.7,1662.9 L4126.9,1662.9 L4132.0,1662.9 L4137.1,1662.9 L4142.3,1662.9 L4147.4,1663.0 L4152.5,1663.0 L4157.7,1663.0 L4162.8,1663.0 L4167.9,1663.0 L4173.1,1663.0 L4178.2,1663.0 L4183.3,1663.0 L4188.5,1663.0 L4193.6,1663.0 L4198.7,1663.0 L4203.9,1663.0 L4209.0,1663.0" fill="none" stroke="#6aa842" stroke-width="8" clip-path="url(#gclip)"/>
<path d="M621.0,1663.0 L626.1,1663.0 L631.3,1663.0 L636.4,1663.0 L641.5,1663.0 L646.7,1663.0 L651.8,1663.0 L656.9,1663.0 L662.1,1663.0 L667.2,1663.0 L672.3,1663.0 L677.5,1663.0 L682.6,1663.0 L687.7,1662.9 L692.9,1662.9 L698.0,1662.9 L703.1,1662.9 L708.3,1662.9 L713.4,1662.8 L718.5,1662.8 L723.7,1662.8 L728.8,1662.7 L733.9,1662.7 L739.1,1662.6 L744.2,1662.6 L749.3,1662.5 L754.5,1662.5 L759.6,1662.4 L764.7,1662.3 L769.9,1662.2 L775.0,1662.1 L780.1,1662.0 L785.3,1661.9 L790.4,1661.8 L795.5,1661.7 L800.7,1661.6 L805.8,1661.4 L810.9,1661.3 L816.1,1661.1 L821.2,1660.9 L826.3,1660.8 L831.5,1660.6 L836.6,1660.4 L841.7,1660.1 L846.9,1659.9 L852.0,1659.7 L857.1,1659.4 L862.3,1659.2 L867.4,1658.9 L872.5,1658.6 L877.7,1658.3 L882.8,1658.0 L887.9,1657.7 L893.1,1657.3 L898.2,1656.9 L903.3,1656.6 L908.5,1656.2 L913.6,1655.8 L918.7,1655.3 L923.8,1654.9 L929.0,1654.4 L934.1,1654.0 L939.2,1653.5 L944.4,1653.0 L949.5,1652.4 L954.6,1651.9 L959.8,1651.3 L964.9,1650.7 L970.0,1650.1 L975.2,1649.5 L980.3,1648.8 L985.4,1648.2 L990.6,1647.5 L995.7,1646.8 L1000.8,1646.0 L1006.0,1645.3 L1011.1,1644.5 L1016.2,1643.7 L1021.4,1642.9 L1026.5,1642.1 L1031.6,1641.2 L1036.8,1640.3 L1041.9,1639.4 L1047.0,1638.5 L1052.2,1637.5 L1057.3,1636.5 L1062.4,1635.5 L1067.6,1634.5 L1072.7,1633.4 L1077.8,1632.4 L1083.0,1631.3 L1088.1,1630.1 L1093.2,1629.0 L1098.4,1627.8 L1103.5,1626.6 L1108.6,1625.3 L1113.8,1624.1 L1118.9,1622.8 L1124.0,1621.5 L1129.2,1620.1 L1134.3,1618.8 L1139.4,1617.4 L1144.6,1615.9 L1149.7,1614.5 L1154.8,1613.0 L1160.0,1611.5 L1165.1,1610.0 L1170.2,1608.4 L1175.4,1606.8 L1180.5,1605.2 L1185.6,1603.6 L1190.8,1601.9 L1195.9,1600.2 L1201.0,1598.4 L1206.2,1596.7 L1211.3,1594.9 L1216.4,1593.1 L1221.6,1591.2 L1226.7,1589.3 L1231.8,1587.4 L1237.0,1585.5 L1242.1,1583.5 L1247.2,1581.5 L1252.4,1579.5 L1257.5,1577.5 L1262.6,1575.4 L1267.8,1573.3 L1272.9,1571.1 L1278.0,1569.0 L1283.2,1566.8 L1288.3,1564.5 L1293.4,1562.3 L1298.6,1560.0 L1303.7,1557.7 L1308.8,1555.4 L1314.0,1553.0 L1319.1,1550.6 L1324.2,1548.2 L1329.4,1545.7 L1334.5,1543.2 L1339.6,1540.7 L1344.8,1538.2 L1349.9,1535.6 L1355.0,1533.0 L1360.2,1530.4 L1365.3,1527.7 L1370.4,1525.0 L1375.6,1522.3 L1380.7,1519.6 L1385.8,1516.8 L1391.0,1514.0 L1396.1,1511.2 L1401.2,1508.4 L1406.4,1505.5 L1411.5,1502.6 L1416.6,1499.7 L1421.8,1496.7 L1426.9,1493.8 L1432.0,1490.8 L1437.2,1487.8 L1442.3,1484.7 L1447.4,1481.6 L1452.6,1478.5 L1457.7,1475.4 L1462.8,1472.3 L1468.0,1469.1 L1473.1,1465.9 L1478.2,1462.7 L1483.4,1459.5 L1488.5,1456.2 L1493.6,1452.9 L1498.8,1449.6 L1503.9,1446.3 L1509.0,1443.0 L1514.2,1439.6 L1519.3,1436.2 L1524.4,1432.8 L1529.5,1429.4 L1534.7,1425.9 L1539.8,1422.5 L1544.9,1419.0 L1550.1,1415.5 L1555.2,1412.0 L1560.3,1408.4 L1565.5,1404.9 L1570.6,1401.3 L1575.7,1397.7 L1580.9,1394.1 L1586.0,1390.5 L1591.1,1386.9 L1596.3,1383.2 L1601.4,1379.6 L1606.5,1375.9 L1611.7,1372.2 L1616.8,1368.5 L1621.9,1364.8 L1627.1,1361.1 L1632.2,1357.3 L1637.3,1353.6 L1642.5,1349.8 L1647.6,1346.0 L1652.7,1342.3 L1657.9,1338.5 L1663.0,1334.7 L1668.1,1330.9 L1673.3,1327.1 L1678.4,1323.2 L1683.5,1319.4 L1688.7,1315.6 L1693.8,1311.7 L1698.9,1307.9 L1704.1,1304.0 L1709.2,1300.2 L1714.3,1296.3 L1719.5,1292.5 L1724.6,1288.6 L1729.7,1284.7 L1734.9,1280.9 L1740.0,1277.0 L1745.1,1273.1 L1750.3,1269.3 L1755.4,1265.4 L1760.5,1261.5 L1765.7,1257.7 L1770.8,1253.8 L1775.9,1249.9 L1781.1,1246.1 L1786.2,1242.2 L1791.3,1238.4 L1796.5,1234.5 L1801.6,1230.7 L1806.7,1226.8 L1811.9,1223.0 L1817.0,1219.2 L1822.1,1215.3 L1827.3,1211.5 L1832.4,1207.7 L1837.5,1203.9 L1842.7,1200.2 L1847.8,1196.4 L1852.9,1192.6 L1858.1,1188.9 L1863.2,1185.1 L1868.3,1181.4 L1873.5,1177.7 L1878.6,1174.0 L1883.7,1170.3 L1888.9,1166.6 L1894.0,1163.0 L1899.1,1159.3 L1904.3,1155.7 L1909.4,1152.1 L1914.5,1148.5 L1919.7,1144.9 L1924.8,1141.4 L1929.9,1137.8 L1935.1,1134.3 L1940.2,1130.8 L1945.3,1127.3 L1950.5,1123.9 L1955.6,1120.4 L1960.7,1117.0 L1965.9,1113.6 L1971.0,1110.2 L1976.1,1106.9 L1981.3,1103.6 L1986.4,1100.3 L1991.5,1097.0 L1996.7,1093.7 L2001.8,1090.5 L2006.9,1087.3 L2012.1,1084.1 L2017.2,1081.0 L2022.3,1077.9 L2027.5,1074.8 L2032.6,1071.7 L2037.7,1068.7 L2042.9,1065.7 L2048.0,1062.7 L2053.1,1059.8 L2058.3,1056.9 L2063.4,1054.0 L2068.5,1051.2 L2073.7,1048.3 L2078.8,1045.6 L2083.9,1042.8 L2089.1,1040.1 L2094.2,1037.4 L2099.3,1034.8 L2104.5,1032.2 L2109.6,1029.6 L2114.7,1027.0 L2119.8,1024.5 L2125.0,1022.1 L2130.1,1019.6 L2135.2,1017.2 L2140.4,1014.9 L2145.5,1012.6 L2150.6,1010.3 L2155.8,1008.0 L2160.9,1005.8 L2166.0,1003.7 L2171.2,1001.5 L2176.3,999.5 L2181.4,997.4 L2186.6,995.4 L2191.7,993.4 L2196.8,991.5 L2202.0,989.6 L2207.1,987.8 L2212.2,986.0 L2217.4,984.2 L2222.5,982.5 L2227.6,980.9 L2232.8,979.2 L2237.9,977.6 L2243.0,976.1 L2248.2,974.6 L2253.3,973.1 L2258.4,971.7 L2263.6,970.4 L2268.7,969.0 L2273.8,967.8 L2279.0,966.5 L2284.1,965.3 L2289.2,964.2 L2294.4,963.1 L2299.5,962.1 L2304.6,961.0 L2309.8,960.1 L2314.9,959.2 L2320.0,958.3 L2325.2,957.5 L2330.3,956.7 L2335.4,956.0 L2340.6,955.3 L2345.7,954.6 L2350.8,954.0 L2356.0,953.5 L2361.1,953.0 L2366.2,952.5 L2371.4,952.1 L2376.5,951.8 L2381.6,951.4 L2386.8,951.2 L2391.9,951.0 L2397.0,950.8 L2402.2,950.6 L2407.3,950.5 L2412.4,950.5 L2417.6,950.5 L2422.7,950.5 L2427.8,950.6 L2433.0,950.8 L2438.1,951.0 L2443.2,951.2 L2448.4,951.4 L2453.5,951.8 L2458.6,952.1 L2463.8,952.5 L2468.9,953.0 L2474.0,953.5 L2479.2,954.0 L2484.3,954.6 L2489.4,955.3 L2494.6,956.0 L2499.7,956.7 L2504.8,957.5 L2510.0,958.3 L2515.1,959.2 L2520.2,960.1 L2525.4,961.0 L2530.5,962.1 L2535.6,963.1 L2540.8,964.2 L2545.9,965.3 L2551.0,966.5 L2556.2,967.8 L2561.3,969.0 L2566.4,970.4 L2571.6,971.7 L2576.7,973.1 L2581.8,974.6 L2587.0,976.1 L2592.1,977.6 L2597.2,979.2 L2602.4,980.9 L2607.5,982.5 L2612.6,984.2 L2617.8,986.0 L2622.9,987.8 L2628.0,989.6 L2633.2,991.5 L2638.3,993.4 L2643.4,995.4 L2648.6,997.4 L2653.7,999.5 L2658.8,1001.5 L2664.0,1003.7 L2669.1,1005.8 L2674.2,1008.0 L2679.4,1010.3 L2684.5,1012.6 L2689.6,1014.9 L2694.8,1017.2 L2699.9,1019.6 L2705.0,1022.1 L2710.2,1024.5 L2715.3,1027.0 L2720.4,1029.6 L2725.5,1032.2 L2730.7,1034.8 L2735.8,1037.4 L2740.9,1040.1 L2746.1,1042.8 L2751.2,1045.6 L2756.3,1048.3 L2761.5,1051.2 L2766.6,1054.0 L2771.7,1056.9 L2776.9,1059.8 L2782.0,1062.7 L2787.1,1065.7 L2792.3,1068.7 L2797.4,1071.7 L2802.5,1074.8 L2807.7,1077.9 L2812.8,1081.0 L2817.9,1084.1 L2823.1,1087.3 L2828.2,1090.5 L2833.3,1093.7 L2838.5,1097.0 L2843.6,1100.3 L2848.7,1103.6 L2853.9,1106.9 L2859.0,1110.2 L2864.1,1113.6 L2869.3,1117.0 L2874.4,1120.4 L2879.5,1123.9 L2884.7,1127.3 L2889.8,1130.8 L2894.9,1134.3 L2900.1,1137.8 L2905.2,1141.4 L2910.3,1144.9 L2915.5,1148.5 L2920.6,1152.1 L2925.7,1155.7 L2930.9,1159.3 L2936.0,1163.0 L2941.1,1166.6 L2946.3,1170.3 L2951.4,1174.0 L2956.5,1177.7 L2961.7,1181.4 L2966.8,1185.1 L2971.9,1188.9 L2977.1,1192.6 L2982.2,1196.4 L2987.3,1200.2 L2992.5,1203.9 L2997.6,1207.7 L3002.7,1211.5 L3007.9,1215.3 L3013.0,1219.2 L3018.1,1223.0 L3023.3,1226.8 L3028.4,1230.7 L3033.5,1234.5 L3038.7,1238.4 L3043.8,1242.2 L3048.9,1246.1 L3054.1,1249.9 L3059.2,1253.8 L3064.3,1257.7 L3069.5,1261.5 L3074.6,1265.4 L3079.7,1269.3 L3084.9,1273.1 L3090.0,1277.0 L3095.1,1280.9 L3100.3,1284.7 L3105.4,1288.6 L3110.5,1292.5 L3115.7,1296.3 L3120.8,1300.2 L3125.9,1304.0 L3131.1,1307.9 L3136.2,1311.7 L3141.3,1315.6 L3146.5,1319.4 L3151.6,1323.2 L3156.7,1327.1 L3161.9,1330.9 L3167.0,1334.7 L3172.1,1338.5 L3177.3,1342.3 L3182.4,1346.0 L3187.5,1349.8 L3192.7,1353.6 L3197.8,1357.3 L3202.9,1361.1 L3208.1,1364.8 L3213.2,1368.5 L3218.3,1372.2 L3223.5,1375.9 L3228.6,1379.6 L3233.7,1383.2 L3238.9,1386.9 L3244.0,1390.5 L3249.1,1394.1 L3254.3,1397.7 L3259.4,1401.3 L3264.5,1404.9 L3269.7,1408.4 L3274.8,1412.0 L3279.9,1415.5 L3285.1,1419.0 L3290.2,1422.5 L3295.3,1425.9 L3300.5,1429.4 L3305.6,1432.8 L3310.7,1436.2 L3315.8,1439.6 L3321.0,1443.0 L3326.1,1446.3 L3331.2,1449.6 L3336.4,1452.9 L3341.5,1456.2 L3346.6,1459.5 L3351.8,1462.7 L3356.9,1465.9 L3362.0,1469.1 L3367.2,1472.3 L3372.3,1475.4 L3377.4,1478.5 L3382.6,1481.6 L3387.7,1484.7 L3392.8,1487.8 L3398.0,1490.8 L3403.1,1493.8 L3408.2,1496.7 L3413.4,1499.7 L3418.5,1502.6 L3423.6,1505.5 L3428.8,1508.4 L3433.9,1511.2 L3439.0,1514.0 L3444.2,1516.8 L3449.3,1519.6 L3454.4,1522.3 L3459.6,1525.0 L3464.7,1527.7 L3469.8,1530.4 L3475.0,1533.0 L3480.1,1535.6 L3485.2,1538.2 L3490.4,1540.7 L3495.5,1543.2 L3500.6,1545.7 L3505.8,1548.2 L3510.9,1550.6 L3516.0,1553.0 L3521.2,1555.4 L3526.3,1557.7 L3531.4,1560.0 L3536.6,1562.3 L3541.7,1564.5 L3546.8,1566.8 L3552.0,1569.0 L3557.1,1571.1 L3562.2,1573.3 L3567.4,1575.4 L3572.5,1577.5 L3577.6,1579.5 L3582.8,1581.5 L3587.9,1583.5 L3593.0,1585.5 L3598.2,1587.4 L3603.3,1589.3 L3608.4,1591.2 L3613.6,1593.1 L3618.7,1594.9 L3623.8,1596.7 L3629.0,1598.4 L3634.1,1600.2 L3639.2,1601.9 L3644.4,1603.6 L3649.5,1605.2 L3654.6,1606.8 L3659.8,1608.4 L3664.9,1610.0 L3670.0,1611.5 L3675.2,1613.0 L3680.3,1614.5 L3685.4,1615.9 L3690.6,1617.4 L3695.7,1618.8 L3700.8,1620.1 L3706.0,1621.5 L3711.1,1622.8 L3716.2,1624.1 L3721.4,1625.3 L3726.5,1626.6 L3731.6,1627.8 L3736.8,1629.0 L3741.9,1630.1 L3747.0,1631.3 L3752.2,1632.4 L3757.3,1633.4 L3762.4,1634.5 L3767.6,1635.5 L3772.7,1636.5 L3777.8,1637.5 L3783.0,1638.5 L3788.1,1639.4 L3793.2,1640.3 L3798.4,1641.2 L3803.5,1642.1 L3808.6,1642.9 L3813.8,1643.7 L3818.9,1644.5 L3824.0,1645.3 L3829.2,1646.0 L3834.3,1646.8 L3839.4,1647.5 L3844.6,1648.2 L3849.7,1648.8 L3854.8,1649.5 L3860.0,1650.1 L3865.1,1650.7 L3870.2,1651.3 L3875.4,1651.9 L3880.5,1652.4 L3885.6,1653.0 L3890.8,1653.5 L3895.9,1654.0 L3901.0,1654.4 L3906.2,1654.9 L3911.3,1655.3 L3916.4,1655.8 L3921.5,1656.2 L3926.7,1656.6 L3931.8,1656.9 L3936.9,1657.3 L3942.1,1657.7 L3947.2,1658.0 L3952.3,1658.3 L3957.5,1658.6 L3962.6,1658.9 L3967.7,1659.2 L3972.9,1659.4 L3978.0,1659.7 L3983.1,1659.9 L3988.3,1660.1 L3993.4,1660.4 L3998.5,1660.6 L4003.7,1660.8 L4008.8,1660.9 L4013.9,1661.1 L4019.1,1661.3 L4024.2,1661.4 L4029.3,1661.6 L4034.5,1661.7 L4039.6,1661.8 L4044.7,1661.9 L4049.9,1662.0 L4055.0,1662.1 L4060.1,1662.2 L4065.3,1662.3 L4070.4,1662.4 L4075.5,1662.5 L4080.7,1662.5 L4085.8,1662.6 L4090.9,1662.6 L4096.1,1662.7 L4101.2,1662.7 L4106.3,1662.8 L4111.5,1662.8 L4116.6,1662.8 L4121.7,1662.9 L4126.9,1662.9 L4132.0,1662.9 L4137.1,1662.9 L4142.3,1662.9 L4147.4,1663.0 L4152.5,1663.0 L4157.7,1663.0 L4162.8,1663.0 L4167.9,1663.0 L4173.1,1663.0 L4178.2,1663.0 L4183.3,1663.0 L4188.5,1663.0 L4193.6,1663.0 L4198.7,1663.0 L4203.9,1663.0 L4209.0,1663.0" fill="none" stroke="#6aa842" stroke-width="9" clip-path="url(#gclip)"/>
<path d="M621.0,1663.0 L626.1,1663.0 L631.3,1663.0 L636.4,1663.0 L641.5,1663.0 L646.7,1663.0 L651.8,1663.0 L656.9,1663.0 L662.1,1663.0 L667.2,1663.0 L672.3,1663.0 L677.5,1663.0 L682.6,1663.0 L687.7,1662.9 L692.9,1662.9 L698.0,1662.9 L703.1,1662.9 L708.3,1662.9 L713.4,1662.8 L718.5,1662.8 L723.7,1662.8 L728.8,1662.7 L733.9,1662.7 L739.1,1662.6 L744.2,1662.6 L749.3,1662.5 L754.5,1662.4 L759.6,1662.3 L764.7,1662.3 L769.9,1662.2 L775.0,1662.1 L780.1,1661.9 L785.3,1661.8 L790.4,1661.7 L795.5,1661.6 L800.7,1661.4 L805.8,1661.3 L810.9,1661.1 L816.1,1660.9 L821.2,1660.7 L826.3,1660.5 L831.5,1660.3 L836.6,1660.1 L841.7,1659.9 L846.9,1659.6 L852.0,1659.4 L857.1,1659.1 L862.3,1658.8 L867.4,1658.5 L872.5,1658.2 L877.7,1657.9 L882.8,1657.5 L887.9,1657.1 L893.1,1656.8 L898.2,1656.4 L903.3,1655.9 L908.5,1655.5 L913.6,1655.1 L918.7,1654.6 L923.8,1654.1 L929.0,1653.6 L934.1,1653.1 L939.2,1652.6 L944.4,1652.0 L949.5,1651.4 L954.6,1650.8 L959.8,1650.2 L964.9,1649.5 L970.0,1648.9 L975.2,1648.2 L980.3,1647.5 L985.4,1646.8 L990.6,1646.0 L995.7,1645.2 L1000.8,1644.4 L1006.0,1643.6 L1011.1,1642.8 L1016.2,1641.9 L1021.4,1641.0 L1026.5,1640.1 L1031.6,1639.1 L1036.8,1638.1 L1041.9,1637.1 L1047.0,1636.1 L1052.2,1635.1 L1057.3,1634.0 L1062.4,1632.9 L1067.6,1631.8 L1072.7,1630.6 L1077.8,1629.4 L1083.0,1628.2 L1088.1,1627.0 L1093.2,1625.7 L1098.4,1624.4 L1103.5,1623.1 L1108.6,1621.7 L1113.8,1620.4 L1118.9,1618.9 L1124.0,1617.5 L1129.2,1616.0 L1134.3,1614.5 L1139.4,1613.0 L1144.6,1611.4 L1149.7,1609.9 L1154.8,1608.2 L1160.0,1606.6 L1165.1,1604.9 L1170.2,1603.2 L1175.4,1601.4 L1180.5,1599.7 L1185.6,1597.9 L1190.8,1596.0 L1195.9,1594.2 L1201.0,1592.3 L1206.2,1590.3 L1211.3,1588.4 L1216.4,1586.4 L1221.6,1584.4 L1226.7,1582.3 L1231.8,1580.2 L1237.0,1578.1 L1242.1,1575.9 L1247.2,1573.7 L1252.4,1571.5 L1257.5,1569.3 L1262.6,1567.0 L1267.8,1564.7 L1272.9,1562.3 L1278.0,1560.0 L1283.2,1557.6 L1288.3,1555.1 L1293.4,1552.7 L1298.6,1550.1 L1303.7,1547.6 L1308.8,1545.0 L1314.0,1542.5 L1319.1,1539.8 L1324.2,1537.2 L1329.4,1534.5 L1334.5,1531.7 L1339.6,1529.0 L1344.8,1526.2 L1349.9,1523.4 L1355.0,1520.5 L1360.2,1517.7 L1365.3,1514.8 L1370.4,1511.8 L1375.6,1508.9 L1380.7,1505.9 L1385.8,1502.8 L1391.0,1499.8 L1396.1,1496.7 L1401.2,1493.6 L1406.4,1490.4 L1411.5,1487.3 L1416.6,1484.1 L1421.8,1480.8 L1426.9,1477.6 L1432.0,1474.3 L1437.2,1471.0 L1442.3,1467.6 L1447.4,1464.3 L1452.6,1460.9 L1457.7,1457.5 L1462.8,1454.0 L1468.0,1450.5 L1473.1,1447.1 L1478.2,1443.5 L1483.4,1440.0 L1488.5,1436.4 L1493.6,1432.8 L1498.8,1429.2 L1503.9,1425.6 L1509.0,1421.9 L1514.2,1418.2 L1519.3,1414.5 L1524.4,1410.8 L1529.5,1407.0 L1534.7,1403.2 L1539.8,1399.4 L1544.9,1395.6 L1550.1,1391.8 L1555.2,1387.9 L1560.3,1384.1 L1565.5,1380.2 L1570.6,1376.3 L1575.7,1372.3 L1580.9,1368.4 L1586.0,1364.4 L1591.1,1360.4 L1596.3,1356.4 L1601.4,1352.4 L1606.5,1348.4 L1611.7,1344.4 L1616.8,1340.3 L1621.9,1336.2 L1627.1,1332.2 L1632.2,1328.1 L1637.3,1324.0 L1642.5,1319.8 L1647.6,1315.7 L1652.7,1311.6 L1657.9,1307.4 L1663.0,1303.3 L1668.1,1299.1 L1673.3,1294.9 L1678.4,1290.7 L1683.5,1286.5 L1688.7,1282.3 L1693.8,1278.1 L1698.9,1273.9 L1704.1,1269.7 L1709.2,1265.5 L1714.3,1261.2 L1719.5,1257.0 L1724.6,1252.8 L1729.7,1248.5 L1734.9,1244.3 L1740.0,1240.1 L1745.1,1235.8 L1750.3,1231.6 L1755.4,1227.3 L1760.5,1223.1 L1765.7,1218.9 L1770.8,1214.6 L1775.9,1210.4 L1781.1,1206.2 L1786.2,1201.9 L1791.3,1197.7 L1796.5,1193.5 L1801.6,1189.3 L1806.7,1185.1 L1811.9,1180.9 L1817.0,1176.7 L1822.1,1172.5 L1827.3,1168.3 L1832.4,1164.2 L1837.5,1160.0 L1842.7,1155.9 L1847.8,1151.7 L1852.9,1147.6 L1858.1,1143.5 L1863.2,1139.4 L1868.3,1135.3 L1873.5,1131.2 L1878.6,1127.2 L1883.7,1123.1 L1888.9,1119.1 L1894.0,1115.1 L1899.1,1111.1 L1904.3,1107.1 L1909.4,1103.2 L1914.5,1099.2 L1919.7,1095.3 L1924.8,1091.4 L1929.9,1087.5 L1935.1,1083.7 L1940.2,1079.8 L1945.3,1076.0 L1950.5,1072.2 L1955.6,1068.5 L1960.7,1064.7 L1965.9,1061.0 L1971.0,1057.3 L1976.1,1053.7 L1981.3,1050.0 L1986.4,1046.4 L1991.5,1042.8 L1996.7,1039.2 L2001.8,1035.7 L2006.9,1032.2 L2012.1,1028.7 L2017.2,1025.3 L2022.3,1021.9 L2027.5,1018.5 L2032.6,1015.1 L2037.7,1011.8 L2042.9,1008.5 L2048.0,1005.3 L2053.1,1002.0 L2058.3,998.9 L2063.4,995.7 L2068.5,992.6 L2073.7,989.5 L2078.8,986.5 L2083.9,983.4 L2089.1,980.5 L2094.2,977.5 L2099.3,974.6 L2104.5,971.8 L2109.6,968.9 L2114.7,966.2 L2119.8,963.4 L2125.0,960.7 L2130.1,958.1 L2135.2,955.4 L2140.4,952.8 L2145.5,950.3 L2150.6,947.8 L2155.8,945.3 L2160.9,942.9 L2166.0,940.6 L2171.2,938.2 L2176.3,935.9 L2181.4,933.7 L2186.6,931.5 L2191.7,929.4 L2196.8,927.2 L2202.0,925.2 L2207.1,923.2 L2212.2,921.2 L2217.4,919.3 L2222.5,917.4 L2227.6,915.6 L2232.8,913.8 L2237.9,912.0 L2243.0,910.4 L2248.2,908.7 L2253.3,907.1 L2258.4,905.6 L2263.6,904.1 L2268.7,902.6 L2273.8,901.2 L2279.0,899.9 L2284.1,898.6 L2289.2,897.3 L2294.4,896.1 L2299.5,895.0 L2304.6,893.9 L2309.8,892.8 L2314.9,891.8 L2320.0,890.8 L2325.2,889.9 L2330.3,889.1 L2335.4,888.3 L2340.6,887.5 L2345.7,886.8 L2350.8,886.2 L2356.0,885.6 L2361.1,885.0 L2366.2,884.5 L2371.4,884.1 L2376.5,883.7 L2381.6,883.3 L2386.8,883.0 L2391.9,882.8 L2397.0,882.6 L2402.2,882.5 L2407.3,882.4 L2412.4,882.3 L2417.6,882.3 L2422.7,882.4 L2427.8,882.5 L2433.0,882.6 L2438.1,882.8 L2443.2,883.0 L2448.4,883.3 L2453.5,883.7 L2458.6,884.1 L2463.8,884.5 L2468.9,885.0 L2474.0,885.6 L2479.2,886.2 L2484.3,886.8 L2489.4,887.5 L2494.6,888.3 L2499.7,889.1 L2504.8,889.9 L2510.0,890.8 L2515.1,891.8 L2520.2,892.8 L2525.4,893.9 L2530.5,895.0 L2535.6,896.1 L2540.8,897.3 L2545.9,898.6 L2551.0,899.9 L2556.2,901.2 L2561.3,902.6 L2566.4,904.1 L2571.6,905.6 L2576.7,907.1 L2581.8,908.7 L2587.0,910.4 L2592.1,912.0 L2597.2,913.8 L2602.4,915.6 L2607.5,917.4 L2612.6,919.3 L2617.8,921.2 L2622.9,923.2 L2628.0,925.2 L2633.2,927.2 L2638.3,929.4 L2643.4,931.5 L2648.6,933.7 L2653.7,935.9 L2658.8,938.2 L2664.0,940.6 L2669.1,942.9 L2674.2,945.3 L2679.4,947.8 L2684.5,950.3 L2689.6,952.8 L2694.8,955.4 L2699.9,958.1 L2705.0,960.7 L2710.2,963.4 L2715.3,966.2 L2720.4,968.9 L2725.5,971.8 L2730.7,974.6 L2735.8,977.5 L2740.9,980.5 L2746.1,983.4 L2751.2,986.5 L2756.3,989.5 L2761.5,992.6 L2766.6,995.7 L2771.7,998.9 L2776.9,1002.0 L2782.0,1005.3 L2787.1,1008.5 L2792.3,1011.8 L2797.4,1015.1 L2802.5,1018.5 L2807.7,1021.9 L2812.8,1025.3 L2817.9,1028.7 L2823.1,1032.2 L2828.2,1035.7 L2833.3,1039.2 L2838.5,1042.8 L2843.6,1046.4 L2848.7,1050.0 L2853.9,1053.7 L2859.0,1057.3 L2864.1,1061.0 L2869.3,1064.7 L2874.4,1068.5 L2879.5,1072.2 L2884.7,1076.0 L2889.8,1079.8 L2894.9,1083.7 L2900.1,1087.5 L2905.2,1091.4 L2910.3,1095.3 L2915.5,1099.2 L2920.6,1103.2 L2925.7,1107.1 L2930.9,1111.1 L2936.0,1115.1 L2941.1,1119.1 L2946.3,1123.1 L2951.4,1127.2 L2956.5,1131.2 L2961.7,1135.3 L2966.8,1139.4 L2971.9,1143.5 L2977.1,1147.6 L2982.2,1151.7 L2987.3,1155.9 L2992.5,1160.0 L2997.6,1164.2 L3002.7,1168.3 L3007.9,1172.5 L3013.0,1176.7 L3018.1,1180.9 L3023.3,1185.1 L3028.4,1189.3 L3033.5,1193.5 L3038.7,1197.7 L3043.8,1201.9 L3048.9,1206.2 L3054.1,1210.4 L3059.2,1214.6 L3064.3,1218.9 L3069.5,1223.1 L3074.6,1227.3 L3079.7,1231.6 L3084.9,1235.8 L3090.0,1240.1 L3095.1,1244.3 L3100.3,1248.5 L3105.4,1252.8 L3110.5,1257.0 L3115.7,1261.2 L3120.8,1265.5 L3125.9,1269.7 L3131.1,1273.9 L3136.2,1278.1 L3141.3,1282.3 L3146.5,1286.5 L3151.6,1290.7 L3156.7,1294.9 L3161.9,1299.1 L3167.0,1303.3 L3172.1,1307.4 L3177.3,1311.6 L3182.4,1315.7 L3187.5,1319.8 L3192.7,1324.0 L3197.8,1328.1 L3202.9,1332.2 L3208.1,1336.2 L3213.2,1340.3 L3218.3,1344.4 L3223.5,1348.4 L3228.6,1352.4 L3233.7,1356.4 L3238.9,1360.4 L3244.0,1364.4 L3249.1,1368.4 L3254.3,1372.3 L3259.4,1376.3 L3264.5,1380.2 L3269.7,1384.1 L3274.8,1387.9 L3279.9,1391.8 L3285.1,1395.6 L3290.2,1399.4 L3295.3,1403.2 L3300.5,1407.0 L3305.6,1410.8 L3310.7,1414.5 L3315.8,1418.2 L3321.0,1421.9 L3326.1,1425.6 L3331.2,1429.2 L3336.4,1432.8 L3341.5,1436.4 L3346.6,1440.0 L3351.8,1443.5 L3356.9,1447.1 L3362.0,1450.5 L3367.2,1454.0 L3372.3,1457.5 L3377.4,1460.9 L3382.6,1464.3 L3387.7,1467.6 L3392.8,1471.0 L3398.0,1474.3 L3403.1,1477.6 L3408.2,1480.8 L3413.4,1484.1 L3418.5,1487.3 L3423.6,1490.4 L3428.8,1493.6 L3433.9,1496.7 L3439.0,1499.8 L3444.2,1502.8 L3449.3,1505.9 L3454.4,1508.9 L3459.6,1511.8 L3464.7,1514.8 L3469.8,1517.7 L3475.0,1520.5 L3480.1,1523.4 L3485.2,1526.2 L3490.4,1529.0 L3495.5,1531.7 L3500.6,1534.5 L3505.8,1537.2 L3510.9,1539.8 L3516.0,1542.5 L3521.2,1545.0 L3526.3,1547.6 L3531.4,1550.1 L3536.6,1552.7 L3541.7,1555.1 L3546.8,1557.6 L3552.0,1560.0 L3557.1,1562.3 L3562.2,1564.7 L3567.4,1567.0 L3572.5,1569.3 L3577.6,1571.5 L3582.8,1573.7 L3587.9,1575.9 L3593.0,1578.1 L3598.2,1580.2 L3603.3,1582.3 L3608.4,1584.4 L3613.6,1586.4 L3618.7,1588.4 L3623.8,1590.3 L3629.0,1592.3 L3634.1,1594.2 L3639.2,1596.0 L3644.4,1597.9 L3649.5,1599.7 L3654.6,1601.4 L3659.8,1603.2 L3664.9,1604.9 L3670.0,1606.6 L3675.2,1608.2 L3680.3,1609.9 L3685.4,1611.4 L3690.6,1613.0 L3695.7,1614.5 L3700.8,1616.0 L3706.0,1617.5 L3711.1,1618.9 L3716.2,1620.4 L3721.4,1621.7 L3726.5,1623.1 L3731.6,1624.4 L3736.8,1625.7 L3741.9,1627.0 L3747.0,1628.2 L3752.2,1629.4 L3757.3,1630.6 L3762.4,1631.8 L3767.6,1632.9 L3772.7,1634.0 L3777.8,1635.1 L3783.0,1636.1 L3788.1,1637.1 L3793.2,1638.1 L3798.4,1639.1 L3803.5,1640.1 L3808.6,1641.0 L3813.8,1641.9 L3818.9,1642.8 L3824.0,1643.6 L3829.2,1644.4 L3834.3,1645.2 L3839.4,1646.0 L3844.6,1646.8 L3849.7,1647.5 L3854.8,1648.2 L3860.0,1648.9 L3865.1,1649.5 L3870.2,1650.2 L3875.4,1650.8 L3880.5,1651.4 L3885.6,1652.0 L3890.8,1652.6 L3895.9,1653.1 L3901.0,1653.6 L3906.2,1654.1 L3911.3,1654.6 L3916.4,1655.1 L3921.5,1655.5 L3926.7,1655.9 L3931.8,1656.4 L3936.9,1656.8 L3942.1,1657.1 L3947.2,1657.5 L3952.3,1657.9 L3957.5,1658.2 L3962.6,1658.5 L3967.7,1658.8 L3972.9,1659.1 L3978.0,1659.4 L3983.1,1659.6 L3988.3,1659.9 L3993.4,1660.1 L3998.5,1660.3 L4003.7,1660.5 L4008.8,1660.7 L4013.9,1660.9 L4019.1,1661.1 L4024.2,1661.3 L4029.3,1661.4 L4034.5,1661.6 L4039.6,1661.7 L4044.7,1661.8 L4049.9,1661.9 L4055.0,1662.1 L4060.1,1662.2 L4065.3,1662.3 L4070.4,1662.3 L4075.5,1662.4 L4080.7,1662.5 L4085.8,1662.6 L4090.9,1662.6 L4096.1,1662.7 L4101.2,1662.7 L4106.3,1662.8 L4111.5,1662.8 L4116.6,1662.8 L4121.7,1662.9 L4126.9,1662.9 L4132.0,1662.9 L4137.1,1662.9 L4142.3,1662.9 L4147.4,1663.0 L4152.5,1663.0 L4157.7,1663.0 L4162.8,1663.0 L4167.9,1663.0 L4173.1,1663.0 L4178.2,1663.0 L4183.3,1663.0 L4188.5,1663.0 L4193.6,1663.0 L4198.7,1663.0 L4203.9,1663.0 L4209.0,1663.0 L4209.0,1663.0 L4203.9,1663.0 L4198.7,1663.0 L4193.6,1663.0 L4188.5,1663.0 L4183.3,1663.0 L4178.2,1663.0 L4173.1,1663.0 L4167.9,1663.0 L4162.8,1663.0 L4157.7,1663.0 L4152.5,1663.0 L4147.4,1663.0 L4142.3,1662.9 L4137.1,1662.9 L4132.0,1662.9 L4126.9,1662.9 L4121.7,1662.9 L4116.6,1662.8 L4111.5,1662.8 L4106.3,1662.8 L4101.2,1662.7 L4096.1,1662.7 L4090.9,1662.6 L4085.8,1662.6 L4080.7,1662.5 L4075.5,1662.4 L4070.4,1662.4 L4065.3,1662.3 L4060.1,1662.2 L4055.0,1662.1 L4049.9,1662.0 L4044.7,1661.9 L4039.6,1661.8 L4034.5,1661.6 L4029.3,1661.5 L4024.2,1661.4 L4019.1,1661.2 L4013.9,1661.0 L4008.8,1660.8 L4003.7,1660.7 L3998.5,1660.5 L3993.4,1660.2 L3988.3,1660.0 L3983.1,1659.8 L3978.0,1659.5 L3972.9,1659.3 L3967.7,1659.0 L3962.6,1658.7 L3957.5,1658.4 L3952.3,1658.1 L3947.2,1657.8 L3942.1,1657.4 L3936.9,1657.1 L3931.8,1656.7 L3926.7,1656.3 L3921.5,1655.9 L3916.4,1655.4 L3911.3,1655.0 L3906.2,1654.5 L3901.0,1654.1 L3895.9,1653.6 L3890.8,1653.0 L3885.6,1652.5 L3880.5,1652.0 L3875.4,1651.4 L3870.2,1650.8 L3865.1,1650.2 L3860.0,1649.5 L3854.8,1648.9 L3849.7,1648.2 L3844.6,1647.5 L3839.4,1646.8 L3834.3,1646.1 L3829.2,1645.3 L3824.0,1644.5 L3818.9,1643.7 L3813.8,1642.9 L3808.6,1642.0 L3803.5,1641.1 L3798.4,1640.2 L3793.2,1639.3 L3788.1,1638.4 L3783.0,1637.4 L3777.8,1636.4 L3772.7,1635.4 L3767.6,1634.3 L3762.4,1633.2 L3757.3,1632.1 L3752.2,1631.0 L3747.0,1629.9 L3741.9,1628.7 L3736.8,1627.5 L3731.6,1626.2 L3726.5,1625.0 L3721.4,1623.7 L3716.2,1622.4 L3711.1,1621.0 L3706.0,1619.6 L3700.8,1618.2 L3695.7,1616.8 L3690.6,1615.4 L3685.4,1613.9 L3680.3,1612.4 L3675.2,1610.8 L3670.0,1609.2 L3664.9,1607.6 L3659.8,1606.0 L3654.6,1604.3 L3649.5,1602.6 L3644.4,1600.9 L3639.2,1599.2 L3634.1,1597.4 L3629.0,1595.6 L3623.8,1593.7 L3618.7,1591.9 L3613.6,1590.0 L3608.4,1588.0 L3603.3,1586.1 L3598.2,1584.1 L3593.0,1582.1 L3587.9,1580.0 L3582.8,1577.9 L3577.6,1575.8 L3572.5,1573.7 L3567.4,1571.5 L3562.2,1569.3 L3557.1,1567.1 L3552.0,1564.8 L3546.8,1562.5 L3541.7,1560.2 L3536.6,1557.8 L3531.4,1555.5 L3526.3,1553.0 L3521.2,1550.6 L3516.0,1548.1 L3510.9,1545.6 L3505.8,1543.1 L3500.6,1540.5 L3495.5,1537.9 L3490.4,1535.3 L3485.2,1532.6 L3480.1,1530.0 L3475.0,1527.2 L3469.8,1524.5 L3464.7,1521.7 L3459.6,1518.9 L3454.4,1516.1 L3449.3,1513.2 L3444.2,1510.4 L3439.0,1507.4 L3433.9,1504.5 L3428.8,1501.5 L3423.6,1498.5 L3418.5,1495.5 L3413.4,1492.5 L3408.2,1489.4 L3403.1,1486.3 L3398.0,1483.2 L3392.8,1480.0 L3387.7,1476.8 L3382.6,1473.6 L3377.4,1470.4 L3372.3,1467.1 L3367.2,1463.8 L3362.0,1460.5 L3356.9,1457.2 L3351.8,1453.8 L3346.6,1450.5 L3341.5,1447.1 L3336.4,1443.6 L3331.2,1440.2 L3326.1,1436.7 L3321.0,1433.2 L3315.8,1429.7 L3310.7,1426.2 L3305.6,1422.6 L3300.5,1419.1 L3295.3,1415.5 L3290.2,1411.8 L3285.1,1408.2 L3279.9,1404.5 L3274.8,1400.9 L3269.7,1397.2 L3264.5,1393.5 L3259.4,1389.7 L3254.3,1386.0 L3249.1,1382.2 L3244.0,1378.5 L3238.9,1374.7 L3233.7,1370.9 L3228.6,1367.0 L3223.5,1363.2 L3218.3,1359.3 L3213.2,1355.5 L3208.1,1351.6 L3202.9,1347.7 L3197.8,1343.8 L3192.7,1339.9 L3187.5,1336.0 L3182.4,1332.0 L3177.3,1328.1 L3172.1,1324.1 L3167.0,1320.2 L3161.9,1316.2 L3156.7,1312.2 L3151.6,1308.2 L3146.5,1304.2 L3141.3,1300.2 L3136.2,1296.2 L3131.1,1292.2 L3125.9,1288.2 L3120.8,1284.2 L3115.7,1280.1 L3110.5,1276.1 L3105.4,1272.1 L3100.3,1268.0 L3095.1,1264.0 L3090.0,1259.9 L3084.9,1255.9 L3079.7,1251.9 L3074.6,1247.8 L3069.5,1243.8 L3064.3,1239.7 L3059.2,1235.7 L3054.1,1231.7 L3048.9,1227.6 L3043.8,1223.6 L3038.7,1219.6 L3033.5,1215.6 L3028.4,1211.5 L3023.3,1207.5 L3018.1,1203.5 L3013.0,1199.5 L3007.9,1195.6 L3002.7,1191.6 L2997.6,1187.6 L2992.5,1183.6 L2987.3,1179.7 L2982.2,1175.8 L2977.1,1171.8 L2971.9,1167.9 L2966.8,1164.0 L2961.7,1160.1 L2956.5,1156.2 L2951.4,1152.4 L2946.3,1148.5 L2941.1,1144.7 L2936.0,1140.9 L2930.9,1137.1 L2925.7,1133.3 L2920.6,1129.5 L2915.5,1125.7 L2910.3,1122.0 L2905.2,1118.3 L2900.1,1114.6 L2894.9,1110.9 L2889.8,1107.3 L2884.7,1103.6 L2879.5,1100.0 L2874.4,1096.4 L2869.3,1092.9 L2864.1,1089.3 L2859.0,1085.8 L2853.9,1082.3 L2848.7,1078.8 L2843.6,1075.4 L2838.5,1072.0 L2833.3,1068.6 L2828.2,1065.2 L2823.1,1061.9 L2817.9,1058.5 L2812.8,1055.3 L2807.7,1052.0 L2802.5,1048.8 L2797.4,1045.6 L2792.3,1042.4 L2787.1,1039.3 L2782.0,1036.2 L2776.9,1033.1 L2771.7,1030.1 L2766.6,1027.1 L2761.5,1024.1 L2756.3,1021.2 L2751.2,1018.3 L2746.1,1015.4 L2740.9,1012.6 L2735.8,1009.8 L2730.7,1007.0 L2725.5,1004.3 L2720.4,1001.6 L2715.3,998.9 L2710.2,996.3 L2705.0,993.7 L2699.9,991.2 L2694.8,988.7 L2689.6,986.2 L2684.5,983.8 L2679.4,981.4 L2674.2,979.1 L2669.1,976.8 L2664.0,974.5 L2658.8,972.3 L2653.7,970.1 L2648.6,968.0 L2643.4,965.9 L2638.3,963.8 L2633.2,961.8 L2628.0,959.9 L2622.9,957.9 L2617.8,956.1 L2612.6,954.2 L2607.5,952.4 L2602.4,950.7 L2597.2,949.0 L2592.1,947.3 L2587.0,945.7 L2581.8,944.2 L2576.7,942.6 L2571.6,941.2 L2566.4,939.7 L2561.3,938.4 L2556.2,937.0 L2551.0,935.7 L2545.9,934.5 L2540.8,933.3 L2535.6,932.2 L2530.5,931.1 L2525.4,930.0 L2520.2,929.0 L2515.1,928.1 L2510.0,927.1 L2504.8,926.3 L2499.7,925.5 L2494.6,924.7 L2489.4,924.0 L2484.3,923.3 L2479.2,922.7 L2474.0,922.1 L2468.9,921.6 L2463.8,921.1 L2458.6,920.7 L2453.5,920.3 L2448.4,920.0 L2443.2,919.7 L2438.1,919.5 L2433.0,919.3 L2427.8,919.1 L2422.7,919.1 L2417.6,919.0 L2412.4,919.0 L2407.3,919.1 L2402.2,919.1 L2397.0,919.3 L2391.9,919.5 L2386.8,919.7 L2381.6,920.0 L2376.5,920.3 L2371.4,920.7 L2366.2,921.1 L2361.1,921.6 L2356.0,922.1 L2350.8,922.7 L2345.7,923.3 L2340.6,924.0 L2335.4,924.7 L2330.3,925.5 L2325.2,926.3 L2320.0,927.1 L2314.9,928.1 L2309.8,929.0 L2304.6,930.0 L2299.5,931.1 L2294.4,932.2 L2289.2,933.3 L2284.1,934.5 L2279.0,935.7 L2273.8,937.0 L2268.7,938.4 L2263.6,939.7 L2258.4,941.2 L2253.3,942.6 L2248.2,944.2 L2243.0,945.7 L2237.9,947.3 L2232.8,949.0 L2227.6,950.7 L2222.5,952.4 L2217.4,954.2 L2212.2,956.1 L2207.1,957.9 L2202.0,959.9 L2196.8,961.8 L2191.7,963.8 L2186.6,965.9 L2181.4,968.0 L2176.3,970.1 L2171.2,972.3 L2166.0,974.5 L2160.9,976.8 L2155.8,979.1 L2150.6,981.4 L2145.5,983.8 L2140.4,986.2 L2135.2,988.7 L2130.1,991.2 L2125.0,993.7 L2119.8,996.3 L2114.7,998.9 L2109.6,1001.6 L2104.5,1004.3 L2099.3,1007.0 L2094.2,1009.8 L2089.1,1012.6 L2083.9,1015.4 L2078.8,1018.3 L2073.7,1021.2 L2068.5,1024.1 L2063.4,1027.1 L2058.3,1030.1 L2053.1,1033.1 L2048.0,1036.2 L2042.9,1039.3 L2037.7,1042.4 L2032.6,1045.6 L2027.5,1048.8 L2022.3,1052.0 L2017.2,1055.3 L2012.1,1058.5 L2006.9,1061.9 L2001.8,1065.2 L1996.7,1068.6 L1991.5,1072.0 L1986.4,1075.4 L1981.3,1078.8 L1976.1,1082.3 L1971.0,1085.8 L1965.9,1089.3 L1960.7,1092.9 L1955.6,1096.4 L1950.5,1100.0 L1945.3,1103.6 L1940.2,1107.3 L1935.1,1110.9 L1929.9,1114.6 L1924.8,1118.3 L1919.7,1122.0 L1914.5,1125.7 L1909.4,1129.5 L1904.3,1133.3 L1899.1,1137.1 L1894.0,1140.9 L1888.9,1144.7 L1883.7,1148.5 L1878.6,1152.4 L1873.5,1156.2 L1868.3,1160.1 L1863.2,1164.0 L1858.1,1167.9 L1852.9,1171.8 L1847.8,1175.8 L1842.7,1179.7 L1837.5,1183.6 L1832.4,1187.6 L1827.3,1191.6 L1822.1,1195.6 L1817.0,1199.5 L1811.9,1203.5 L1806.7,1207.5 L1801.6,1211.5 L1796.5,1215.6 L1791.3,1219.6 L1786.2,1223.6 L1781.1,1227.6 L1775.9,1231.7 L1770.8,1235.7 L1765.7,1239.7 L1760.5,1243.8 L1755.4,1247.8 L1750.3,1251.9 L1745.1,1255.9 L1740.0,1259.9 L1734.9,1264.0 L1729.7,1268.0 L1724.6,1272.1 L1719.5,1276.1 L1714.3,1280.1 L1709.2,1284.2 L1704.1,1288.2 L1698.9,1292.2 L1693.8,1296.2 L1688.7,1300.2 L1683.5,1304.2 L1678.4,1308.2 L1673.3,1312.2 L1668.1,1316.2 L1663.0,1320.2 L1657.9,1324.1 L1652.7,1328.1 L1647.6,1332.0 L1642.5,1336.0 L1637.3,1339.9 L1632.2,1343.8 L1627.1,1347.7 L1621.9,1351.6 L1616.8,1355.5 L1611.7,1359.3 L1606.5,1363.2 L1601.4,1367.0 L1596.3,1370.9 L1591.1,1374.7 L1586.0,1378.5 L1580.9,1382.2 L1575.7,1386.0 L1570.6,1389.7 L1565.5,1393.5 L1560.3,1397.2 L1555.2,1400.9 L1550.1,1404.5 L1544.9,1408.2 L1539.8,1411.8 L1534.7,1415.5 L1529.5,1419.1 L1524.4,1422.6 L1519.3,1426.2 L1514.2,1429.7 L1509.0,1433.2 L1503.9,1436.7 L1498.8,1440.2 L1493.6,1443.6 L1488.5,1447.1 L1483.4,1450.5 L1478.2,1453.8 L1473.1,1457.2 L1468.0,1460.5 L1462.8,1463.8 L1457.7,1467.1 L1452.6,1470.4 L1447.4,1473.6 L1442.3,1476.8 L1437.2,1480.0 L1432.0,1483.2 L1426.9,1486.3 L1421.8,1489.4 L1416.6,1492.5 L1411.5,1495.5 L1406.4,1498.5 L1401.2,1501.5 L1396.1,1504.5 L1391.0,1507.4 L1385.8,1510.4 L1380.7,1513.2 L1375.6,1516.1 L1370.4,1518.9 L1365.3,1521.7 L1360.2,1524.5 L1355.0,1527.2 L1349.9,1530.0 L1344.8,1532.6 L1339.6,1535.3 L1334.5,1537.9 L1329.4,1540.5 L1324.2,1543.1 L1319.1,1545.6 L1314.0,1548.1 L1308.8,1550.6 L1303.7,1553.0 L1298.6,1555.5 L1293.4,1557.8 L1288.3,1560.2 L1283.2,1562.5 L1278.0,1564.8 L1272.9,1567.1 L1267.8,1569.3 L1262.6,1571.5 L1257.5,1573.7 L1252.4,1575.8 L1247.2,1577.9 L1242.1,1580.0 L1237.0,1582.1 L1231.8,1584.1 L1226.7,1586.1 L1221.6,1588.0 L1216.4,1590.0 L1211.3,1591.9 L1206.2,1593.7 L1201.0,1595.6 L1195.9,1597.4 L1190.8,1599.2 L1185.6,1600.9 L1180.5,1602.6 L1175.4,1604.3 L1170.2,1606.0 L1165.1,1607.6 L1160.0,1609.2 L1154.8,1610.8 L1149.7,1612.4 L1144.6,1613.9 L1139.4,1615.4 L1134.3,1616.8 L1129.2,1618.2 L1124.0,1619.6 L1118.9,1621.0 L1113.8,1622.4 L1108.6,1623.7 L1103.5,1625.0 L1098.4,1626.2 L1093.2,1627.5 L1088.1,1628.7 L1083.0,1629.9 L1077.8,1631.0 L1072.7,1632.1 L1067.6,1633.2 L1062.4,1634.3 L1057.3,1635.4 L1052.2,1636.4 L1047.0,1637.4 L1041.9,1638.4 L1036.8,1639.3 L1031.6,1640.2 L1026.5,1641.1 L1021.4,1642.0 L1016.2,1642.9 L1011.1,1643.7 L1006.0,1644.5 L1000.8,1645.3 L995.7,1646.1 L990.6,1646.8 L985.4,1647.5 L980.3,1648.2 L975.2,1648.9 L970.0,1649.5 L964.9,1650.2 L959.8,1650.8 L954.6,1651.4 L949.5,1652.0 L944.4,1652.5 L939.2,1653.0 L934.1,1653.6 L929.0,1654.1 L923.8,1654.5 L918.7,1655.0 L913.6,1655.4 L908.5,1655.9 L903.3,1656.3 L898.2,1656.7 L893.1,1657.1 L887.9,1657.4 L882.8,1657.8 L877.7,1658.1 L872.5,1658.4 L867.4,1658.7 L862.3,1659.0 L857.1,1659.3 L852.0,1659.5 L846.9,1659.8 L841.7,1660.0 L836.6,1660.2 L831.5,1660.5 L826.3,1660.7 L821.2,1660.8 L816.1,1661.0 L810.9,1661.2 L805.8,1661.4 L800.7,1661.5 L795.5,1661.6 L790.4,1661.8 L785.3,1661.9 L780.1,1662.0 L775.0,1662.1 L769.9,1662.2 L764.7,1662.3 L759.6,1662.4 L754.5,1662.4 L749.3,1662.5 L744.2,1662.6 L739.1,1662.6 L733.9,1662.7 L728.8,1662.7 L723.7,1662.8 L718.5,1662.8 L713.4,1662.8 L708.3,1662.9 L703.1,1662.9 L698.0,1662.9 L692.9,1662.9 L687.7,1662.9 L682.6,1663.0 L677.5,1663.0 L672.3,1663.0 L667.2,1663.0 L662.1,1663.0 L656.9,1663.0 L651.8,1663.0 L646.7,1663.0 L641.5,1663.0 L636.4,1663.0 L631.3,1663.0 L626.1,1663.0 L621.0,1663.0 Z" fill="#6aa842"/>
<path d="M1097.0,1796.0 L1100.8,1796.0 L1104.5,1796.0 L1108.3,1796.0 L1112.1,1796.0 L1115.8,1796.0 L1119.6,1796.0 L1123.4,1796.0 L1127.1,1796.0 L1130.9,1796.0 L1134.7,1796.0 L1138.5,1796.0 L1142.2,1796.0 L1146.0,1796.0 L1149.8,1796.0 L1153.5,1796.0 L1157.3,1796.0 L1161.1,1796.0 L1164.8,1796.0 L1168.6,1796.0 L1172.4,1795.9 L1176.1,1795.9 L1179.9,1795.9 L1183.7,1795.9 L1187.4,1795.9 L1191.2,1795.9 L1195.0,1795.9 L1198.7,1795.9 L1202.5,1795.8 L1206.3,1795.8 L1210.0,1795.8 L1213.8,1795.8 L1217.6,1795.8 L1221.4,1795.7 L1225.1,1795.7 L1228.9,1795.7 L1232.7,1795.7 L1236.4,1795.6 L1240.2,1795.6 L1244.0,1795.6 L1247.7,1795.5 L1251.5,1795.5 L1255.3,1795.4 L1259.0,1795.4 L1262.8,1795.4 L1266.6,1795.3 L1270.3,1795.3 L1274.1,1795.2 L1277.9,1795.2 L1281.6,1795.1 L1285.4,1795.1 L1289.2,1795.0 L1292.9,1794.9 L1296.7,1794.9 L1300.5,1794.8 L1304.3,1794.7 L1308.0,1794.7 L1311.8,1794.6 L1315.6,1794.5 L1319.3,1794.4 L1323.1,1794.4 L1326.9,1794.3 L1330.6,1794.2 L1334.4,1794.1 L1338.2,1794.0 L1341.9,1793.9 L1345.7,1793.8 L1349.5,1793.7 L1353.2,1793.6 L1357.0,1793.5 L1360.8,1793.4 L1364.5,1793.3 L1368.3,1793.2 L1372.1,1793.0 L1375.8,1792.9 L1379.6,1792.8 L1383.4,1792.6 L1387.2,1792.5 L1390.9,1792.4 L1394.7,1792.2 L1398.5,1792.1 L1402.2,1791.9 L1406.0,1791.8 L1409.8,1791.6 L1413.5,1791.5 L1417.3,1791.3 L1421.1,1791.2 L1424.8,1791.0 L1428.6,1790.8 L1432.4,1790.6 L1436.1,1790.5 L1439.9,1790.3 L1443.7,1790.1 L1447.4,1789.9 L1451.2,1789.7 L1455.0,1789.5 L1458.8,1789.3 L1462.5,1789.1 L1466.3,1788.9 L1470.1,1788.7 L1473.8,1788.5 L1477.6,1788.2 L1481.4,1788.0 L1485.1,1787.8 L1488.9,1787.6 L1492.7,1787.3 L1496.4,1787.1 L1500.2,1786.8 L1504.0,1786.6 L1507.7,1786.3 L1511.5,1786.1 L1515.3,1785.8 L1519.0,1785.6 L1522.8,1785.3 L1526.6,1785.0 L1530.3,1784.8 L1534.1,1784.5 L1537.9,1784.2 L1541.7,1783.9 L1545.4,1783.6 L1549.2,1783.3 L1553.0,1783.0 L1556.7,1782.7 L1560.5,1782.4 L1564.3,1782.1 L1568.0,1781.8 L1571.8,1781.5 L1575.6,1781.1 L1579.3,1780.8 L1583.1,1780.5 L1586.9,1780.2 L1590.6,1779.8 L1594.4,1779.5 L1598.2,1779.1 L1601.9,1778.8 L1605.7,1778.4 L1609.5,1778.1 L1613.2,1777.7 L1617.0,1777.4 L1620.8,1777.0 L1624.6,1776.6 L1628.3,1776.2 L1632.1,1775.9 L1635.9,1775.5 L1639.6,1775.1 L1643.4,1774.7 L1647.2,1774.3 L1650.9,1773.9 L1654.7,1773.5 L1658.5,1773.1 L1662.2,1772.7 L1666.0,1772.3 L1669.8,1771.9 L1673.5,1771.5 L1677.3,1771.0 L1681.1,1770.6 L1684.8,1770.2 L1688.6,1769.8 L1692.4,1769.3 L1696.2,1768.9 L1699.9,1768.5 L1703.7,1768.0 L1707.5,1767.6 L1711.2,1767.1 L1715.0,1766.7 L1718.8,1766.2 L1722.5,1765.8 L1726.3,1765.3 L1730.1,1764.8 L1733.8,1764.4 L1737.6,1763.9 L1741.4,1763.4 L1745.1,1763.0 L1748.9,1762.5 L1752.7,1762.0 L1756.4,1761.5 L1760.2,1761.0 L1764.0,1760.5 L1767.7,1760.1 L1771.5,1759.6 L1775.3,1759.1 L1779.1,1758.6 L1782.8,1758.1 L1786.6,1757.6 L1790.4,1757.1 L1794.1,1756.6 L1797.9,1756.1 L1801.7,1755.6 L1805.4,1755.1 L1809.2,1754.5 L1813.0,1754.0 L1816.7,1753.5 L1820.5,1753.0 L1824.3,1752.5 L1828.0,1752.0 L1831.8,1751.5 L1835.6,1750.9 L1839.3,1750.4 L1843.1,1749.9 L1846.9,1749.4 L1850.6,1748.8 L1854.4,1748.3 L1858.2,1747.8 L1862.0,1747.2 L1865.7,1746.7 L1869.5,1746.2 L1873.3,1745.7 L1877.0,1745.1 L1880.8,1744.6 L1884.6,1744.1 L1888.3,1743.5 L1892.1,1743.0 L1895.9,1742.5 L1899.6,1741.9 L1903.4,1741.4 L1907.2,1740.9 L1910.9,1740.3 L1914.7,1739.8 L1918.5,1739.3 L1922.2,1738.7 L1926.0,1738.2 L1929.8,1737.6 L1933.5,1737.1 L1937.3,1736.6 L1941.1,1736.0 L1944.9,1735.5 L1948.6,1735.0 L1952.4,1734.5 L1956.2,1733.9 L1959.9,1733.4 L1963.7,1732.9 L1967.5,1732.3 L1971.2,1731.8 L1975.0,1731.3 L1978.8,1730.8 L1982.5,1730.2 L1986.3,1729.7 L1990.1,1729.2 L1993.8,1728.7 L1997.6,1728.2 L2001.4,1727.6 L2005.1,1727.1 L2008.9,1726.6 L2012.7,1726.1 L2016.5,1725.6 L2020.2,1725.1 L2024.0,1724.6 L2027.8,1724.1 L2031.5,1723.6 L2035.3,1723.1 L2039.1,1722.6 L2042.8,1722.1 L2046.6,1721.6 L2050.4,1721.1 L2054.1,1720.6 L2057.9,1720.1 L2061.7,1719.7 L2065.4,1719.2 L2069.2,1718.7 L2073.0,1718.2 L2076.7,1717.8 L2080.5,1717.3 L2084.3,1716.8 L2088.0,1716.4 L2091.8,1715.9 L2095.6,1715.5 L2099.4,1715.0 L2103.1,1714.6 L2106.9,1714.1 L2110.7,1713.7 L2114.4,1713.2 L2118.2,1712.8 L2122.0,1712.4 L2125.7,1711.9 L2129.5,1711.5 L2133.3,1711.1 L2137.0,1710.7 L2140.8,1710.3 L2144.6,1709.9 L2148.3,1709.5 L2152.1,1709.1 L2155.9,1708.7 L2159.6,1708.3 L2163.4,1707.9 L2167.2,1707.5 L2170.9,1707.2 L2174.7,1706.8 L2178.5,1706.4 L2182.3,1706.1 L2186.0,1705.7 L2189.8,1705.3 L2193.6,1705.0 L2197.3,1704.7 L2201.1,1704.3 L2204.9,1704.0 L2208.6,1703.7 L2212.4,1703.3 L2216.2,1703.0 L2219.9,1702.7 L2223.7,1702.4 L2227.5,1702.1 L2231.2,1701.8 L2235.0,1701.5 L2238.8,1701.2 L2242.5,1700.9 L2246.3,1700.7 L2250.1,1700.4 L2253.8,1700.1 L2257.6,1699.9 L2261.4,1699.6 L2265.2,1699.4 L2268.9,1699.1 L2272.7,1698.9 L2276.5,1698.6 L2280.2,1698.4 L2284.0,1698.2 L2287.8,1698.0 L2291.5,1697.8 L2295.3,1697.6 L2299.1,1697.4 L2302.8,1697.2 L2306.6,1697.0 L2310.4,1696.8 L2314.1,1696.7 L2317.9,1696.5 L2321.7,1696.3 L2325.4,1696.2 L2329.2,1696.0 L2333.0,1695.9 L2336.8,1695.8 L2340.5,1695.6 L2344.3,1695.5 L2348.1,1695.4 L2351.8,1695.3 L2355.6,1695.2 L2359.4,1695.1 L2363.1,1695.0 L2366.9,1694.9 L2370.7,1694.8 L2374.4,1694.8 L2378.2,1694.7 L2382.0,1694.6 L2385.7,1694.6 L2389.5,1694.5 L2393.3,1694.5 L2397.0,1694.5 L2400.8,1694.4 L2404.6,1694.4 L2408.3,1694.4 L2412.1,1694.4 L2415.9,1694.4 L2419.7,1694.4 L2423.4,1694.4 L2427.2,1694.4 L2431.0,1694.5 L2434.7,1694.5 L2438.5,1694.5 L2442.3,1694.6 L2446.0,1694.6 L2449.8,1694.7 L2453.6,1694.8 L2457.3,1694.8 L2461.1,1694.9 L2464.9,1695.0 L2468.6,1695.1 L2472.4,1695.2 L2476.2,1695.3 L2479.9,1695.4 L2483.7,1695.5 L2487.5,1695.6 L2491.2,1695.8 L2495.0,1695.9 L2498.8,1696.0 L2502.6,1696.2 L2506.3,1696.3 L2510.1,1696.5 L2513.9,1696.7 L2517.6,1696.8 L2521.4,1697.0 L2525.2,1697.2 L2528.9,1697.4 L2532.7,1697.6 L2536.5,1697.8 L2540.2,1698.0 L2544.0,1698.2 L2547.8,1698.4 L2551.5,1698.6 L2555.3,1698.9 L2559.1,1699.1 L2562.8,1699.4 L2566.6,1699.6 L2570.4,1699.9 L2574.2,1700.1 L2577.9,1700.4 L2581.7,1700.7 L2585.5,1700.9 L2589.2,1701.2 L2593.0,1701.5 L2596.8,1701.8 L2600.5,1702.1 L2604.3,1702.4 L2608.1,1702.7 L2611.8,1703.0 L2615.6,1703.3 L2619.4,1703.7 L2623.1,1704.0 L2626.9,1704.3 L2630.7,1704.7 L2634.4,1705.0 L2638.2,1705.3 L2642.0,1705.7 L2645.7,1706.1 L2649.5,1706.4 L2653.3,1706.8 L2657.1,1707.2 L2660.8,1707.5 L2664.6,1707.9 L2668.4,1708.3 L2672.1,1708.7 L2675.9,1709.1 L2679.7,1709.5 L2683.4,1709.9 L2687.2,1710.3 L2691.0,1710.7 L2694.7,1711.1 L2698.5,1711.5 L2702.3,1711.9 L2706.0,1712.4 L2709.8,1712.8 L2713.6,1713.2 L2717.3,1713.7 L2721.1,1714.1 L2724.9,1714.6 L2728.6,1715.0 L2732.4,1715.5 L2736.2,1715.9 L2740.0,1716.4 L2743.7,1716.8 L2747.5,1717.3 L2751.3,1717.8 L2755.0,1718.2 L2758.8,1718.7 L2762.6,1719.2 L2766.3,1719.7 L2770.1,1720.1 L2773.9,1720.6 L2777.6,1721.1 L2781.4,1721.6 L2785.2,1722.1 L2788.9,1722.6 L2792.7,1723.1 L2796.5,1723.6 L2800.2,1724.1 L2804.0,1724.6 L2807.8,1725.1 L2811.5,1725.6 L2815.3,1726.1 L2819.1,1726.6 L2822.9,1727.1 L2826.6,1727.6 L2830.4,1728.2 L2834.2,1728.7 L2837.9,1729.2 L2841.7,1729.7 L2845.5,1730.2 L2849.2,1730.8 L2853.0,1731.3 L2856.8,1731.8 L2860.5,1732.3 L2864.3,1732.9 L2868.1,1733.4 L2871.8,1733.9 L2875.6,1734.5 L2879.4,1735.0 L2883.1,1735.5 L2886.9,1736.0 L2890.7,1736.6 L2894.5,1737.1 L2898.2,1737.6 L2902.0,1738.2 L2905.8,1738.7 L2909.5,1739.3 L2913.3,1739.8 L2917.1,1740.3 L2920.8,1740.9 L2924.6,1741.4 L2928.4,1741.9 L2932.1,1742.5 L2935.9,1743.0 L2939.7,1743.5 L2943.4,1744.1 L2947.2,1744.6 L2951.0,1745.1 L2954.7,1745.7 L2958.5,1746.2 L2962.3,1746.7 L2966.0,1747.2 L2969.8,1747.8 L2973.6,1748.3 L2977.4,1748.8 L2981.1,1749.4 L2984.9,1749.9 L2988.7,1750.4 L2992.4,1750.9 L2996.2,1751.5 L3000.0,1752.0 L3003.7,1752.5 L3007.5,1753.0 L3011.3,1753.5 L3015.0,1754.0 L3018.8,1754.5 L3022.6,1755.1 L3026.3,1755.6 L3030.1,1756.1 L3033.9,1756.6 L3037.6,1757.1 L3041.4,1757.6 L3045.2,1758.1 L3048.9,1758.6 L3052.7,1759.1 L3056.5,1759.6 L3060.3,1760.1 L3064.0,1760.5 L3067.8,1761.0 L3071.6,1761.5 L3075.3,1762.0 L3079.1,1762.5 L3082.9,1763.0 L3086.6,1763.4 L3090.4,1763.9 L3094.2,1764.4 L3097.9,1764.8 L3101.7,1765.3 L3105.5,1765.8 L3109.2,1766.2 L3113.0,1766.7 L3116.8,1767.1 L3120.5,1767.6 L3124.3,1768.0 L3128.1,1768.5 L3131.8,1768.9 L3135.6,1769.3 L3139.4,1769.8 L3143.2,1770.2 L3146.9,1770.6 L3150.7,1771.0 L3154.5,1771.5 L3158.2,1771.9 L3162.0,1772.3 L3165.8,1772.7 L3169.5,1773.1 L3173.3,1773.5 L3177.1,1773.9 L3180.8,1774.3 L3184.6,1774.7 L3188.4,1775.1 L3192.1,1775.5 L3195.9,1775.9 L3199.7,1776.2 L3203.4,1776.6 L3207.2,1777.0 L3211.0,1777.4 L3214.8,1777.7 L3218.5,1778.1 L3222.3,1778.4 L3226.1,1778.8 L3229.8,1779.1 L3233.6,1779.5 L3237.4,1779.8 L3241.1,1780.2 L3244.9,1780.5 L3248.7,1780.8 L3252.4,1781.1 L3256.2,1781.5 L3260.0,1781.8 L3263.7,1782.1 L3267.5,1782.4 L3271.3,1782.7 L3275.0,1783.0 L3278.8,1783.3 L3282.6,1783.6 L3286.3,1783.9 L3290.1,1784.2 L3293.9,1784.5 L3297.7,1784.8 L3301.4,1785.0 L3305.2,1785.3 L3309.0,1785.6 L3312.7,1785.8 L3316.5,1786.1 L3320.3,1786.3 L3324.0,1786.6 L3327.8,1786.8 L3331.6,1787.1 L3335.3,1787.3 L3339.1,1787.6 L3342.9,1787.8 L3346.6,1788.0 L3350.4,1788.2 L3354.2,1788.5 L3357.9,1788.7 L3361.7,1788.9 L3365.5,1789.1 L3369.2,1789.3 L3373.0,1789.5 L3376.8,1789.7 L3380.6,1789.9 L3384.3,1790.1 L3388.1,1790.3 L3391.9,1790.5 L3395.6,1790.6 L3399.4,1790.8 L3403.2,1791.0 L3406.9,1791.2 L3410.7,1791.3 L3414.5,1791.5 L3418.2,1791.6 L3422.0,1791.8 L3425.8,1791.9 L3429.5,1792.1 L3433.3,1792.2 L3437.1,1792.4 L3440.8,1792.5 L3444.6,1792.6 L3448.4,1792.8 L3452.2,1792.9 L3455.9,1793.0 L3459.7,1793.2 L3463.5,1793.3 L3467.2,1793.4 L3471.0,1793.5 L3474.8,1793.6 L3478.5,1793.7 L3482.3,1793.8 L3486.1,1793.9 L3489.8,1794.0 L3493.6,1794.1 L3497.4,1794.2 L3501.1,1794.3 L3504.9,1794.4 L3508.7,1794.4 L3512.4,1794.5 L3516.2,1794.6 L3520.0,1794.7 L3523.7,1794.7 L3527.5,1794.8 L3531.3,1794.9 L3535.1,1794.9 L3538.8,1795.0 L3542.6,1795.1 L3546.4,1795.1 L3550.1,1795.2 L3553.9,1795.2 L3557.7,1795.3 L3561.4,1795.3 L3565.2,1795.4 L3569.0,1795.4 L3572.7,1795.4 L3576.5,1795.5 L3580.3,1795.5 L3584.0,1795.6 L3587.8,1795.6 L3591.6,1795.6 L3595.3,1795.7 L3599.1,1795.7 L3602.9,1795.7 L3606.6,1795.7 L3610.4,1795.8 L3614.2,1795.8 L3618.0,1795.8 L3621.7,1795.8 L3625.5,1795.8 L3629.3,1795.9 L3633.0,1795.9 L3636.8,1795.9 L3640.6,1795.9 L3644.3,1795.9 L3648.1,1795.9 L3651.9,1795.9 L3655.6,1795.9 L3659.4,1796.0 L3663.2,1796.0 L3666.9,1796.0 L3670.7,1796.0 L3674.5,1796.0 L3678.2,1796.0 L3682.0,1796.0 L3685.8,1796.0 L3689.5,1796.0 L3693.3,1796.0 L3697.1,1796.0 L3700.9,1796.0 L3704.6,1796.0 L3708.4,1796.0 L3712.2,1796.0 L3715.9,1796.0 L3719.7,1796.0 L3723.5,1796.0 L3727.2,1796.0 L3731.0,1796.0 L3731.0,1796.0 L3727.2,1796.0 L3723.5,1796.0 L3719.7,1796.0 L3715.9,1796.0 L3712.2,1796.0 L3708.4,1796.0 L3704.6,1796.0 L3700.9,1796.0 L3697.1,1796.0 L3693.3,1796.0 L3689.5,1796.0 L3685.8,1796.0 L3682.0,1796.0 L3678.2,1796.0 L3674.5,1796.0 L3670.7,1796.0 L3666.9,1796.0 L3663.2,1796.0 L3659.4,1796.0 L3655.6,1796.0 L3651.9,1796.0 L3648.1,1795.9 L3644.3,1795.9 L3640.6,1795.9 L3636.8,1795.9 L3633.0,1795.9 L3629.3,1795.9 L3625.5,1795.9 L3621.7,1795.9 L3618.0,1795.9 L3614.2,1795.8 L3610.4,1795.8 L3606.6,1795.8 L3602.9,1795.8 L3599.1,1795.8 L3595.3,1795.7 L3591.6,1795.7 L3587.8,1795.7 L3584.0,1795.7 L3580.3,1795.6 L3576.5,1795.6 L3572.7,1795.6 L3569.0,1795.5 L3565.2,1795.5 L3561.4,1795.5 L3557.7,1795.4 L3553.9,1795.4 L3550.1,1795.4 L3546.4,1795.3 L3542.6,1795.3 L3538.8,1795.2 L3535.1,1795.2 L3531.3,1795.1 L3527.5,1795.1 L3523.7,1795.0 L3520.0,1795.0 L3516.2,1794.9 L3512.4,1794.9 L3508.7,1794.8 L3504.9,1794.7 L3501.1,1794.7 L3497.4,1794.6 L3493.6,1794.5 L3489.8,1794.5 L3486.1,1794.4 L3482.3,1794.3 L3478.5,1794.3 L3474.8,1794.2 L3471.0,1794.1 L3467.2,1794.0 L3463.5,1793.9 L3459.7,1793.8 L3455.9,1793.7 L3452.2,1793.6 L3448.4,1793.5 L3444.6,1793.4 L3440.8,1793.3 L3437.1,1793.2 L3433.3,1793.1 L3429.5,1793.0 L3425.8,1792.9 L3422.0,1792.8 L3418.2,1792.7 L3414.5,1792.6 L3410.7,1792.4 L3406.9,1792.3 L3403.2,1792.2 L3399.4,1792.1 L3395.6,1791.9 L3391.9,1791.8 L3388.1,1791.6 L3384.3,1791.5 L3380.6,1791.4 L3376.8,1791.2 L3373.0,1791.1 L3369.2,1790.9 L3365.5,1790.7 L3361.7,1790.6 L3357.9,1790.4 L3354.2,1790.3 L3350.4,1790.1 L3346.6,1789.9 L3342.9,1789.8 L3339.1,1789.6 L3335.3,1789.4 L3331.6,1789.2 L3327.8,1789.0 L3324.0,1788.8 L3320.3,1788.6 L3316.5,1788.5 L3312.7,1788.3 L3309.0,1788.1 L3305.2,1787.8 L3301.4,1787.6 L3297.7,1787.4 L3293.9,1787.2 L3290.1,1787.0 L3286.3,1786.8 L3282.6,1786.6 L3278.8,1786.3 L3275.0,1786.1 L3271.3,1785.9 L3267.5,1785.6 L3263.7,1785.4 L3260.0,1785.2 L3256.2,1784.9 L3252.4,1784.7 L3248.7,1784.4 L3244.9,1784.2 L3241.1,1783.9 L3237.4,1783.7 L3233.6,1783.4 L3229.8,1783.2 L3226.1,1782.9 L3222.3,1782.6 L3218.5,1782.3 L3214.8,1782.1 L3211.0,1781.8 L3207.2,1781.5 L3203.4,1781.2 L3199.7,1780.9 L3195.9,1780.7 L3192.1,1780.4 L3188.4,1780.1 L3184.6,1779.8 L3180.8,1779.5 L3177.1,1779.2 L3173.3,1778.9 L3169.5,1778.6 L3165.8,1778.3 L3162.0,1777.9 L3158.2,1777.6 L3154.5,1777.3 L3150.7,1777.0 L3146.9,1776.7 L3143.2,1776.3 L3139.4,1776.0 L3135.6,1775.7 L3131.8,1775.4 L3128.1,1775.0 L3124.3,1774.7 L3120.5,1774.3 L3116.8,1774.0 L3113.0,1773.7 L3109.2,1773.3 L3105.5,1773.0 L3101.7,1772.6 L3097.9,1772.3 L3094.2,1771.9 L3090.4,1771.5 L3086.6,1771.2 L3082.9,1770.8 L3079.1,1770.5 L3075.3,1770.1 L3071.6,1769.7 L3067.8,1769.4 L3064.0,1769.0 L3060.3,1768.6 L3056.5,1768.2 L3052.7,1767.9 L3048.9,1767.5 L3045.2,1767.1 L3041.4,1766.7 L3037.6,1766.4 L3033.9,1766.0 L3030.1,1765.6 L3026.3,1765.2 L3022.6,1764.8 L3018.8,1764.4 L3015.0,1764.0 L3011.3,1763.6 L3007.5,1763.2 L3003.7,1762.9 L3000.0,1762.5 L2996.2,1762.1 L2992.4,1761.7 L2988.7,1761.3 L2984.9,1760.9 L2981.1,1760.5 L2977.4,1760.1 L2973.6,1759.7 L2969.8,1759.3 L2966.0,1758.9 L2962.3,1758.5 L2958.5,1758.1 L2954.7,1757.6 L2951.0,1757.2 L2947.2,1756.8 L2943.4,1756.4 L2939.7,1756.0 L2935.9,1755.6 L2932.1,1755.2 L2928.4,1754.8 L2924.6,1754.4 L2920.8,1754.0 L2917.1,1753.6 L2913.3,1753.2 L2909.5,1752.8 L2905.8,1752.4 L2902.0,1752.0 L2898.2,1751.5 L2894.5,1751.1 L2890.7,1750.7 L2886.9,1750.3 L2883.1,1749.9 L2879.4,1749.5 L2875.6,1749.1 L2871.8,1748.7 L2868.1,1748.3 L2864.3,1747.9 L2860.5,1747.5 L2856.8,1747.1 L2853.0,1746.7 L2849.2,1746.3 L2845.5,1745.9 L2841.7,1745.5 L2837.9,1745.1 L2834.2,1744.7 L2830.4,1744.3 L2826.6,1743.9 L2822.9,1743.5 L2819.1,1743.1 L2815.3,1742.8 L2811.5,1742.4 L2807.8,1742.0 L2804.0,1741.6 L2800.2,1741.2 L2796.5,1740.8 L2792.7,1740.4 L2788.9,1740.1 L2785.2,1739.7 L2781.4,1739.3 L2777.6,1738.9 L2773.9,1738.6 L2770.1,1738.2 L2766.3,1737.8 L2762.6,1737.5 L2758.8,1737.1 L2755.0,1736.8 L2751.3,1736.4 L2747.5,1736.0 L2743.7,1735.7 L2740.0,1735.3 L2736.2,1735.0 L2732.4,1734.6 L2728.6,1734.3 L2724.9,1734.0 L2721.1,1733.6 L2717.3,1733.3 L2713.6,1733.0 L2709.8,1732.6 L2706.0,1732.3 L2702.3,1732.0 L2698.5,1731.6 L2694.7,1731.3 L2691.0,1731.0 L2687.2,1730.7 L2683.4,1730.4 L2679.7,1730.1 L2675.9,1729.8 L2672.1,1729.5 L2668.4,1729.2 L2664.6,1728.9 L2660.8,1728.6 L2657.1,1728.3 L2653.3,1728.0 L2649.5,1727.8 L2645.7,1727.5 L2642.0,1727.2 L2638.2,1726.9 L2634.4,1726.7 L2630.7,1726.4 L2626.9,1726.2 L2623.1,1725.9 L2619.4,1725.6 L2615.6,1725.4 L2611.8,1725.2 L2608.1,1724.9 L2604.3,1724.7 L2600.5,1724.5 L2596.8,1724.2 L2593.0,1724.0 L2589.2,1723.8 L2585.5,1723.6 L2581.7,1723.4 L2577.9,1723.2 L2574.2,1723.0 L2570.4,1722.8 L2566.6,1722.6 L2562.8,1722.4 L2559.1,1722.2 L2555.3,1722.0 L2551.5,1721.8 L2547.8,1721.7 L2544.0,1721.5 L2540.2,1721.3 L2536.5,1721.2 L2532.7,1721.0 L2528.9,1720.9 L2525.2,1720.7 L2521.4,1720.6 L2517.6,1720.5 L2513.9,1720.3 L2510.1,1720.2 L2506.3,1720.1 L2502.6,1720.0 L2498.8,1719.8 L2495.0,1719.7 L2491.2,1719.6 L2487.5,1719.5 L2483.7,1719.4 L2479.9,1719.4 L2476.2,1719.3 L2472.4,1719.2 L2468.6,1719.1 L2464.9,1719.1 L2461.1,1719.0 L2457.3,1718.9 L2453.6,1718.9 L2449.8,1718.8 L2446.0,1718.8 L2442.3,1718.7 L2438.5,1718.7 L2434.7,1718.7 L2431.0,1718.7 L2427.2,1718.6 L2423.4,1718.6 L2419.7,1718.6 L2415.9,1718.6 L2412.1,1718.6 L2408.3,1718.6 L2404.6,1718.6 L2400.8,1718.6 L2397.0,1718.7 L2393.3,1718.7 L2389.5,1718.7 L2385.7,1718.7 L2382.0,1718.8 L2378.2,1718.8 L2374.4,1718.9 L2370.7,1718.9 L2366.9,1719.0 L2363.1,1719.1 L2359.4,1719.1 L2355.6,1719.2 L2351.8,1719.3 L2348.1,1719.4 L2344.3,1719.4 L2340.5,1719.5 L2336.8,1719.6 L2333.0,1719.7 L2329.2,1719.8 L2325.4,1720.0 L2321.7,1720.1 L2317.9,1720.2 L2314.1,1720.3 L2310.4,1720.5 L2306.6,1720.6 L2302.8,1720.7 L2299.1,1720.9 L2295.3,1721.0 L2291.5,1721.2 L2287.8,1721.3 L2284.0,1721.5 L2280.2,1721.7 L2276.5,1721.8 L2272.7,1722.0 L2268.9,1722.2 L2265.2,1722.4 L2261.4,1722.6 L2257.6,1722.8 L2253.8,1723.0 L2250.1,1723.2 L2246.3,1723.4 L2242.5,1723.6 L2238.8,1723.8 L2235.0,1724.0 L2231.2,1724.2 L2227.5,1724.5 L2223.7,1724.7 L2219.9,1724.9 L2216.2,1725.2 L2212.4,1725.4 L2208.6,1725.6 L2204.9,1725.9 L2201.1,1726.2 L2197.3,1726.4 L2193.6,1726.7 L2189.8,1726.9 L2186.0,1727.2 L2182.3,1727.5 L2178.5,1727.8 L2174.7,1728.0 L2170.9,1728.3 L2167.2,1728.6 L2163.4,1728.9 L2159.6,1729.2 L2155.9,1729.5 L2152.1,1729.8 L2148.3,1730.1 L2144.6,1730.4 L2140.8,1730.7 L2137.0,1731.0 L2133.3,1731.3 L2129.5,1731.6 L2125.7,1732.0 L2122.0,1732.3 L2118.2,1732.6 L2114.4,1733.0 L2110.7,1733.3 L2106.9,1733.6 L2103.1,1734.0 L2099.4,1734.3 L2095.6,1734.6 L2091.8,1735.0 L2088.0,1735.3 L2084.3,1735.7 L2080.5,1736.0 L2076.7,1736.4 L2073.0,1736.8 L2069.2,1737.1 L2065.4,1737.5 L2061.7,1737.8 L2057.9,1738.2 L2054.1,1738.6 L2050.4,1738.9 L2046.6,1739.3 L2042.8,1739.7 L2039.1,1740.1 L2035.3,1740.4 L2031.5,1740.8 L2027.8,1741.2 L2024.0,1741.6 L2020.2,1742.0 L2016.5,1742.4 L2012.7,1742.8 L2008.9,1743.1 L2005.1,1743.5 L2001.4,1743.9 L1997.6,1744.3 L1993.8,1744.7 L1990.1,1745.1 L1986.3,1745.5 L1982.5,1745.9 L1978.8,1746.3 L1975.0,1746.7 L1971.2,1747.1 L1967.5,1747.5 L1963.7,1747.9 L1959.9,1748.3 L1956.2,1748.7 L1952.4,1749.1 L1948.6,1749.5 L1944.9,1749.9 L1941.1,1750.3 L1937.3,1750.7 L1933.5,1751.1 L1929.8,1751.5 L1926.0,1752.0 L1922.2,1752.4 L1918.5,1752.8 L1914.7,1753.2 L1910.9,1753.6 L1907.2,1754.0 L1903.4,1754.4 L1899.6,1754.8 L1895.9,1755.2 L1892.1,1755.6 L1888.3,1756.0 L1884.6,1756.4 L1880.8,1756.8 L1877.0,1757.2 L1873.3,1757.6 L1869.5,1758.1 L1865.7,1758.5 L1862.0,1758.9 L1858.2,1759.3 L1854.4,1759.7 L1850.6,1760.1 L1846.9,1760.5 L1843.1,1760.9 L1839.3,1761.3 L1835.6,1761.7 L1831.8,1762.1 L1828.0,1762.5 L1824.3,1762.9 L1820.5,1763.2 L1816.7,1763.6 L1813.0,1764.0 L1809.2,1764.4 L1805.4,1764.8 L1801.7,1765.2 L1797.9,1765.6 L1794.1,1766.0 L1790.4,1766.4 L1786.6,1766.7 L1782.8,1767.1 L1779.1,1767.5 L1775.3,1767.9 L1771.5,1768.2 L1767.7,1768.6 L1764.0,1769.0 L1760.2,1769.4 L1756.4,1769.7 L1752.7,1770.1 L1748.9,1770.5 L1745.1,1770.8 L1741.4,1771.2 L1737.6,1771.5 L1733.8,1771.9 L1730.1,1772.3 L1726.3,1772.6 L1722.5,1773.0 L1718.8,1773.3 L1715.0,1773.7 L1711.2,1774.0 L1707.5,1774.3 L1703.7,1774.7 L1699.9,1775.0 L1696.2,1775.4 L1692.4,1775.7 L1688.6,1776.0 L1684.8,1776.3 L1681.1,1776.7 L1677.3,1777.0 L1673.5,1777.3 L1669.8,1777.6 L1666.0,1777.9 L1662.2,1778.3 L1658.5,1778.6 L1654.7,1778.9 L1650.9,1779.2 L1647.2,1779.5 L1643.4,1779.8 L1639.6,1780.1 L1635.9,1780.4 L1632.1,1780.7 L1628.3,1780.9 L1624.6,1781.2 L1620.8,1781.5 L1617.0,1781.8 L1613.2,1782.1 L1609.5,1782.3 L1605.7,1782.6 L1601.9,1782.9 L1598.2,1783.2 L1594.4,1783.4 L1590.6,1783.7 L1586.9,1783.9 L1583.1,1784.2 L1579.3,1784.4 L1575.6,1784.7 L1571.8,1784.9 L1568.0,1785.2 L1564.3,1785.4 L1560.5,1785.6 L1556.7,1785.9 L1553.0,1786.1 L1549.2,1786.3 L1545.4,1786.6 L1541.7,1786.8 L1537.9,1787.0 L1534.1,1787.2 L1530.3,1787.4 L1526.6,1787.6 L1522.8,1787.8 L1519.0,1788.1 L1515.3,1788.3 L1511.5,1788.5 L1507.7,1788.6 L1504.0,1788.8 L1500.2,1789.0 L1496.4,1789.2 L1492.7,1789.4 L1488.9,1789.6 L1485.1,1789.8 L1481.4,1789.9 L1477.6,1790.1 L1473.8,1790.3 L1470.1,1790.4 L1466.3,1790.6 L1462.5,1790.7 L1458.8,1790.9 L1455.0,1791.1 L1451.2,1791.2 L1447.4,1791.4 L1443.7,1791.5 L1439.9,1791.6 L1436.1,1791.8 L1432.4,1791.9 L1428.6,1792.1 L1424.8,1792.2 L1421.1,1792.3 L1417.3,1792.4 L1413.5,1792.6 L1409.8,1792.7 L1406.0,1792.8 L1402.2,1792.9 L1398.5,1793.0 L1394.7,1793.1 L1390.9,1793.2 L1387.2,1793.3 L1383.4,1793.4 L1379.6,1793.5 L1375.8,1793.6 L1372.1,1793.7 L1368.3,1793.8 L1364.5,1793.9 L1360.8,1794.0 L1357.0,1794.1 L1353.2,1794.2 L1349.5,1794.3 L1345.7,1794.3 L1341.9,1794.4 L1338.2,1794.5 L1334.4,1794.5 L1330.6,1794.6 L1326.9,1794.7 L1323.1,1794.7 L1319.3,1794.8 L1315.6,1794.9 L1311.8,1794.9 L1308.0,1795.0 L1304.3,1795.0 L1300.5,1795.1 L1296.7,1795.1 L1292.9,1795.2 L1289.2,1795.2 L1285.4,1795.3 L1281.6,1795.3 L1277.9,1795.4 L1274.1,1795.4 L1270.3,1795.4 L1266.6,1795.5 L1262.8,1795.5 L1259.0,1795.5 L1255.3,1795.6 L1251.5,1795.6 L1247.7,1795.6 L1244.0,1795.7 L1240.2,1795.7 L1236.4,1795.7 L1232.7,1795.7 L1228.9,1795.8 L1225.1,1795.8 L1221.4,1795.8 L1217.6,1795.8 L1213.8,1795.8 L1210.0,1795.9 L1206.3,1795.9 L1202.5,1795.9 L1198.7,1795.9 L1195.0,1795.9 L1191.2,1795.9 L1187.4,1795.9 L1183.7,1795.9 L1179.9,1795.9 L1176.1,1796.0 L1172.4,1796.0 L1168.6,1796.0 L1164.8,1796.0 L1161.1,1796.0 L1157.3,1796.0 L1153.5,1796.0 L1149.8,1796.0 L1146.0,1796.0 L1142.2,1796.0 L1138.5,1796.0 L1134.7,1796.0 L1130.9,1796.0 L1127.1,1796.0 L1123.4,1796.0 L1119.6,1796.0 L1115.8,1796.0 L1112.1,1796.0 L1108.3,1796.0 L1104.5,1796.0 L1100.8,1796.0 L1097.0,1796.0 Z" fill="#7dbfec"/>
<path d="M621,1663 C760,1735 950,1796 1097,1796 L1140,1796" fill="none" stroke="#6aa842" stroke-width="7" stroke-dasharray="7 10"/>
<path d="M4209,1663 C4070,1735 3880,1796 3717,1796 L3680,1796" fill="none" stroke="#6aa842" stroke-width="7" stroke-dasharray="7 10"/>
<rect x="610" y="1652" width="22" height="22" rx="9" fill="#6aa842"/>
<rect x="4198" y="1652" width="22" height="22" rx="9" fill="#6aa842"/>
<rect x="621" y="1661" width="60" height="4" fill="#6aa842"/>
<rect x="4150" y="1661" width="60" height="4" fill="#6aa842"/>
<circle cx="1097" cy="1793.5" r="75" fill="url(#glow)"/>
<circle cx="1097" cy="1793.5" r="19" fill="#ffffff" fill-opacity="0.18"/>
<circle cx="1097" cy="1793.5" r="25" fill="none" stroke="#fff" stroke-width="12.5"/>
<circle cx="3717" cy="1793.5" r="75" fill="url(#glow)"/>
<circle cx="3717" cy="1793.5" r="19" fill="#ffffff" fill-opacity="0.18"/>
<circle cx="3717" cy="1793.5" r="25" fill="none" stroke="#fff" stroke-width="12.5"/>
<text x="1051.4" y="1918.0" font-family='"Liberation Sans", Arial, sans-serif' font-size="76.00" fill="#8a8a8a">SF</text>
<text x="3674.9" y="1918.0" font-family='"Liberation Sans", Arial, sans-serif' font-size="77.10" fill="#8a8a8a">LA</text>
<g transform="translate(565.33,1589.78) scale(0.03867,0.03868)" fill="#fff" color="#fff">
<path d="M270,985 Q250,950 290,915 Q330,885 370,900 L640,1005 L910,880 L515,400 Q495,370 530,350 L600,315 Q650,290 700,310 L1390,655 L1840,450 Q1930,420 2000,490 Q2060,560 2040,640 Q2020,710 1950,740 L680,1330 Q630,1350 590,1310 Z"/></g>
<g transform="translate(4160.02,1570.05) scale(0.04311,0.04308)" fill="#fff" color="#fff">
<path d="M320,870 L345,470 Q350,440 390,440 Q440,440 455,480 L540,710 L770,810 L875,300 Q885,275 920,280 L960,290 Q1010,310 1030,370 L1185,1010 L1560,1190 Q1640,1240 1630,1320 Q1610,1410 1520,1435 Q1470,1445 1420,1420 L340,905 Q315,890 320,870 Z"/></g>
<g transform="translate(2354.03,332.45) scale(0.05676,0.05681)" fill="#fff" color="#fff">
<path d="M735,198 L1480,198 L1690,520 L530,520 Z"/>
<path d="M312,460 L568,460 L495,575 L312,575 A57.5,57.5 0 0 1 312,460 Z"/>
<path d="M1651,460 L1898,460 A57.5,57.5 0 0 1 1898,575 L1726,575 Z"/>
<path d="M415,622 L1800,622 L1905,735 L1615,735 L1405,942 L810,942 L595,732 L305,732 Z"/>
<path d="M305,828 L550,828 L660,942 L305,942 Z"/>
<path d="M1905,828 L1655,828 L1550,942 L1905,942 Z"/>
<path d="M305,1040 L1905,1040 L1905,1130 Q1905,1195 1850,1200 L1850,1300 Q1850,1365 1785,1365 L1593,1365 Q1528,1365 1528,1300 L1528,1210 L685,1210 L685,1300 Q685,1365 620,1365 L425,1365 Q360,1365 360,1300 L360,1200 Q305,1195 305,1130 Z"/></g>
<g transform="translate(2365.89,848.16) scale(0.06211,0.06351)" fill="#fff" color="#fff">
<path d="M325,810 L205,520 Q195,492 225,492 L310,492 Q330,492 345,510 L470,688 L745,688 L585,190 Q575,155 610,155 L720,155 Q750,155 770,180 L1160,688 L1530,688 A122,122 0 0 1 1530,932 L1160,932 L770,1440 Q750,1465 720,1465 L610,1465 Q575,1465 585,1430 L745,932 L470,932 L345,1110 Q330,1128 310,1128 L225,1128 Q195,1128 205,1100 Z"/></g>
<g transform="translate(2370.00,1237.00) scale(1.00000,1.00000)" fill="#fff" color="#fff">
<path d="M3.5,0 L30.7,0 L30.7,27.5 L0,27.5 L0,3.5 Q0,0 3.5,0 Z"/>
<rect x="38.3" y="0" width="23.3" height="27.5"/>
<path d="M69,1.5 L105.8,27.5 L69,27.5 Z"/>
<rect x="0" y="34.6" width="115" height="19.7" rx="3.5"/></g>
<path d="M2415.00,1706.70 C2433.27,1691.88 2442.41,1682.80 2456.41,1682.80 C2469.81,1682.80 2475.90,1693.56 2475.90,1706.70 C2475.90,1719.85 2469.81,1730.60 2456.41,1730.60 C2442.41,1730.60 2433.27,1721.52 2415.00,1706.70 C2396.73,1691.88 2387.59,1682.80 2373.59,1682.80 C2360.19,1682.80 2354.10,1693.56 2354.10,1706.70 C2354.10,1719.85 2360.19,1730.60 2373.59,1730.60 C2387.59,1730.60 2396.73,1721.52 2415.00,1706.70 Z" fill="none" stroke="#fff" stroke-width="12.2" stroke-linejoin="round"/>
<text x="4367.0" y="466.0" font-family='"Liberation Sans", Arial, sans-serif' font-weight="normal" font-size="44.14" fill="#8a8a8a" textLength="358.6" lengthAdjust="spacing" >Automobile- 6-8 hrs</text>
<text x="4446.0" y="822.0" font-family='"Liberation Sans", Arial, sans-serif' font-weight="normal" font-size="44.14" fill="#8a8a8a" textLength="268.6" lengthAdjust="spacing" >Flight - 5-6 hrs</text>
<text x="4412.3" y="1185.4" font-family='"Liberation Sans", Arial, sans-serif' font-weight="normal" font-size="41.93" fill="#8a8a8a" textLength="304.7" lengthAdjust="spacing" >Full HSR 3-4 hrs</text>
<text x="4284.2" y="1730.0" font-family='"Liberation Sans", Arial, sans-serif' font-weight="normal" font-size="41.93" fill="#8a8a8a" textLength="441.4" lengthAdjust="spacing" >Hyperloop - 1/2 hr - 1 hr</text>
<rect x="819.7" y="2277" width="1.8" height="964" fill="#3e3e3e"/>
<rect x="1243.2" y="2198" width="1.8" height="1043" fill="#555555"/>
<rect x="1666.8" y="2198" width="1.8" height="1043" fill="#555555"/>
<rect x="2090.3" y="2198" width="1.8" height="1043" fill="#555555"/>
<rect x="2513.9" y="2198" width="1.8" height="1043" fill="#555555"/>
<rect x="2937.4" y="2198" width="1.8" height="1043" fill="#555555"/>
<rect x="3361.0" y="2198" width="1.8" height="1043" fill="#555555"/>
<rect x="3784.5" y="2198" width="1.8" height="1043" fill="#555555"/>
<rect x="4208.1" y="2198" width="1.8" height="1043" fill="#555555"/>
<text x="1222.7" y="3314.0" font-family='"Liberation Sans", Arial, sans-serif' font-size="73.19" fill="#5b5b5b">1</text>
<text x="1647.7" y="3314.0" font-family='"Liberation Sans", Arial, sans-serif' font-size="72.14" fill="#5b5b5b">2</text>
<text x="2071.2" y="3314.0" font-family='"Liberation Sans", Arial, sans-serif' font-size="72.14" fill="#5b5b5b">3</text>
<text x="2494.9" y="3314.0" font-family='"Liberation Sans", Arial, sans-serif' font-size="73.19" fill="#5b5b5b">4</text>
<text x="2918.0" y="3314.0" font-family='"Liberation Sans", Arial, sans-serif' font-size="73.19" fill="#5b5b5b">5</text>
<text x="3341.5" y="3314.0" font-family='"Liberation Sans", Arial, sans-serif' font-size="72.14" fill="#5b5b5b">6</text>
<text x="3765.1" y="3314.0" font-family='"Liberation Sans", Arial, sans-serif' font-size="73.19" fill="#5b5b5b">7</text>
<text x="4188.8" y="3314.0" font-family='"Liberation Sans", Arial, sans-serif' font-size="72.14" fill="#5b5b5b">8</text>
<text x="760.3" y="3314.0" font-family='"Liberation Sans", Arial, sans-serif' font-weight="normal" font-size="79.03" fill="#5b5b5b" textLength="117.9" lengthAdjust="spacing" >(hr)</text>
<rect x="830.9" y="2277" width="1.5" height="57.5" fill="#e4e4e4"/>
<rect x="840.8" y="2277" width="1.5" height="57.5" fill="#e4e4e4"/>
<rect x="846" y="2277" width="924.8" height="57.5" fill="#b6007b"/>
<rect x="1775" y="2277" width="207.5" height="57.5" fill="#949494"/>
<rect x="1986.6" y="2277" width="1338.0" height="57.5" fill="#b6007b"/>
<rect x="3328" y="2277" width="66.0" height="57.5" fill="#949494"/>
<rect x="3398" y="2277" width="770.0" height="57.5" fill="#b6007b"/>
<rect x="4173.1" y="2277" width="1.5" height="57.5" fill="#e4e4e4"/>
<rect x="4183.6" y="2277" width="1.5" height="57.5" fill="#e4e4e4"/>
<rect x="4194.2" y="2277" width="1.5" height="57.5" fill="#e4e4e4"/>
<rect x="4204.8" y="2277" width="1.5" height="57.5" fill="#e4e4e4"/>
<rect x="829.2" y="2527" width="1.5" height="60.5" fill="#e4e4e4"/>
<rect x="839.9" y="2527" width="1.5" height="60.5" fill="#e4e4e4"/>
<rect x="850.5" y="2527" width="1.5" height="60.5" fill="#e4e4e4"/>
<rect x="861.1" y="2527" width="1.5" height="60.5" fill="#e4e4e4"/>
<rect x="871.7" y="2527" width="1.5" height="60.5" fill="#e4e4e4"/>
<rect x="882.3" y="2527" width="1.5" height="60.5" fill="#e4e4e4"/>
<rect x="892.9" y="2527" width="1.5" height="60.5" fill="#e4e4e4"/>
<rect x="903.6" y="2527" width="1.5" height="60.5" fill="#e4e4e4"/>
<rect x="914.2" y="2527" width="1.5" height="60.5" fill="#e4e4e4"/>
<rect x="924.8" y="2527" width="1.5" height="60.5" fill="#e4e4e4"/>
<rect x="935.4" y="2527" width="1.5" height="60.5" fill="#e4e4e4"/>
<rect x="946.0" y="2527" width="1.5" height="60.5" fill="#e4e4e4"/>
<rect x="956.6" y="2527" width="1.5" height="60.5" fill="#e4e4e4"/>
<rect x="967.2" y="2527" width="1.5" height="60.5" fill="#e4e4e4"/>
<rect x="977.9" y="2527" width="1.5" height="60.5" fill="#e4e4e4"/>
<rect x="988.5" y="2527" width="1.5" height="60.5" fill="#e4e4e4"/>
<rect x="999.1" y="2527" width="1.5" height="60.5" fill="#e4e4e4"/>
<rect x="1009.7" y="2527" width="1.5" height="60.5" fill="#e4e4e4"/>
<rect x="1020.3" y="2527" width="1.5" height="60.5" fill="#e4e4e4"/>
<rect x="1030.9" y="2527" width="1.5" height="60.5" fill="#e4e4e4"/>
<rect x="1041.6" y="2527" width="1.5" height="60.5" fill="#e4e4e4"/>
<rect x="1052.2" y="2527" width="1.5" height="60.5" fill="#e4e4e4"/>
<rect x="1062.8" y="2527" width="1.5" height="60.5" fill="#e4e4e4"/>
<rect x="1073.4" y="2527" width="1.5" height="60.5" fill="#e4e4e4"/>
<rect x="1084.0" y="2527" width="1.5" height="60.5" fill="#e4e4e4"/>
<rect x="1094.6" y="2527" width="1.5" height="60.5" fill="#e4e4e4"/>
<rect x="1105.2" y="2527" width="1.5" height="60.5" fill="#e4e4e4"/>
<rect x="1121" y="2527" width="120.5" height="60.5" fill="#949494"/>
<rect x="1244.5" y="2527" width="420.5" height="60.5" fill="#949494"/>
<rect x="1668.7" y="2527" width="631.3" height="60.5" fill="#6aa842"/>
<rect x="2304" y="2527" width="112.0" height="60.5" fill="#949494"/>
<rect x="2421" y="2527" width="211.0" height="60.5" fill="#949494"/>
<rect x="2638.1" y="2527" width="1.5" height="60.5" fill="#e4e4e4"/>
<rect x="2648.6" y="2527" width="1.5" height="60.5" fill="#e4e4e4"/>
<rect x="2659.2" y="2527" width="1.5" height="60.5" fill="#e4e4e4"/>
<rect x="2669.7" y="2527" width="1.5" height="60.5" fill="#e4e4e4"/>
<rect x="2680.2" y="2527" width="1.5" height="60.5" fill="#e4e4e4"/>
<rect x="2690.8" y="2527" width="1.5" height="60.5" fill="#e4e4e4"/>
<rect x="2701.4" y="2527" width="1.5" height="60.5" fill="#e4e4e4"/>
<rect x="2711.9" y="2527" width="1.5" height="60.5" fill="#e4e4e4"/>
<rect x="2722.5" y="2527" width="1.5" height="60.5" fill="#e4e4e4"/>
<rect x="2733.0" y="2527" width="1.5" height="60.5" fill="#e4e4e4"/>
<rect x="2743.6" y="2527" width="1.5" height="60.5" fill="#e4e4e4"/>
<rect x="2754.1" y="2527" width="1.5" height="60.5" fill="#e4e4e4"/>
<rect x="2764.7" y="2527" width="1.5" height="60.5" fill="#e4e4e4"/>
<rect x="2775.2" y="2527" width="1.5" height="60.5" fill="#e4e4e4"/>
<rect x="2785.8" y="2527" width="1.5" height="60.5" fill="#e4e4e4"/>
<rect x="2796.3" y="2527" width="1.5" height="60.5" fill="#e4e4e4"/>
<rect x="2806.8" y="2527" width="1.5" height="60.5" fill="#e4e4e4"/>
<rect x="2817.4" y="2527" width="1.5" height="60.5" fill="#e4e4e4"/>
<rect x="2827.9" y="2527" width="1.5" height="60.5" fill="#e4e4e4"/>
<rect x="2838.5" y="2527" width="1.5" height="60.5" fill="#e4e4e4"/>
<rect x="2849.1" y="2527" width="1.5" height="60.5" fill="#e4e4e4"/>
<rect x="2859.6" y="2527" width="1.5" height="60.5" fill="#e4e4e4"/>
<rect x="2870.2" y="2527" width="1.5" height="60.5" fill="#e4e4e4"/>
<rect x="2880.7" y="2527" width="1.5" height="60.5" fill="#e4e4e4"/>
<rect x="2891.2" y="2527" width="1.5" height="60.5" fill="#e4e4e4"/>
<rect x="2901.8" y="2527" width="1.5" height="60.5" fill="#e4e4e4"/>
<rect x="2912.3" y="2527" width="1.5" height="60.5" fill="#e4e4e4"/>
<rect x="2922.9" y="2527" width="1.5" height="60.5" fill="#e4e4e4"/>
<rect x="2933.4" y="2527" width="1.5" height="60.5" fill="#e4e4e4"/>
<rect x="2944.0" y="2527" width="1.5" height="60.5" fill="#e4e4e4"/>
<rect x="2954.6" y="2527" width="1.5" height="60.5" fill="#e4e4e4"/>
<rect x="2965.1" y="2527" width="1.5" height="60.5" fill="#e4e4e4"/>
<rect x="2975.7" y="2527" width="1.5" height="60.5" fill="#e4e4e4"/>
<rect x="2986.2" y="2527" width="1.5" height="60.5" fill="#e4e4e4"/>
<rect x="2996.8" y="2527" width="1.5" height="60.5" fill="#e4e4e4"/>
<rect x="3007.3" y="2527" width="1.5" height="60.5" fill="#e4e4e4"/>
<rect x="3017.8" y="2527" width="1.5" height="60.5" fill="#e4e4e4"/>
<rect x="830.2" y="2768" width="1.5" height="55" fill="#e4e4e4"/>
<rect x="840.9" y="2768" width="1.5" height="55" fill="#e4e4e4"/>
<rect x="851.5" y="2768" width="1.5" height="55" fill="#e4e4e4"/>
<rect x="862.0" y="2768" width="1.5" height="55" fill="#e4e4e4"/>
<rect x="872.6" y="2768" width="1.5" height="55" fill="#e4e4e4"/>
<rect x="883.2" y="2768" width="1.5" height="55" fill="#e4e4e4"/>
<rect x="897.6" y="2768" width="29.1" height="55.0" fill="#949494"/>
<rect x="931" y="2768" width="98.0" height="55.0" fill="#949494"/>
<rect x="1033.4" y="2768" width="1088.2" height="55.0" fill="#ad5c55"/>
<rect x="2133.2" y="2768" width="1.5" height="55" fill="#e4e4e4"/>
<rect x="2144.2" y="2768" width="1.5" height="55" fill="#e4e4e4"/>
<rect x="2154.2" y="2768" width="1.5" height="55" fill="#5a5a5a"/>
<rect x="830.9" y="3020" width="1.5" height="52" fill="#e4e4e4"/>
<rect x="841.3" y="3020" width="1.5" height="52" fill="#e4e4e4"/>
<rect x="851.8" y="3020" width="1.5" height="52" fill="#e4e4e4"/>
<rect x="862.3" y="3020" width="1.5" height="52" fill="#e4e4e4"/>
<rect x="872.8" y="3020" width="1.5" height="52" fill="#e4e4e4"/>
<rect x="883.2" y="3020" width="1.5" height="52" fill="#e4e4e4"/>
<rect x="897.5" y="3020" width="29.2" height="52.0" fill="#949494"/>
<rect x="931" y="3020" width="25.0" height="52.0" fill="#949494"/>
<rect x="961" y="3020" width="222.4" height="52.0" fill="#7dbfec"/>
<rect x="1198.8" y="3020" width="1.5" height="52" fill="#e4e4e4"/>
<rect x="1209.2" y="3020" width="1.5" height="52" fill="#e4e4e4"/>
<rect x="1219.2" y="3020" width="1.5" height="52" fill="#5a5a5a"/>
<text x="395.6" y="2322.5" font-family='"Liberation Sans", Arial, sans-serif' font-weight="normal" font-size="42.07" fill="#8a8a8a" textLength="153.2" lengthAdjust="spacing" >Drive I-5</text>
<text x="227.6" y="2571.0" font-family='"Liberation Sans", Arial, sans-serif' font-weight="normal" font-size="42.76" fill="#8a8a8a" textLength="318.3" lengthAdjust="spacing" >Flight: SFO - LAX</text>
<text x="395.7" y="2806.0" font-family='"Liberation Sans", Arial, sans-serif' font-weight="normal" font-size="41.38" fill="#8a8a8a" textLength="164.2" lengthAdjust="spacing" >Full HSR</text>
<text x="381.7" y="3064.5" font-family='"Liberation Sans", Arial, sans-serif' font-weight="normal" font-size="41.10" fill="#8a8a8a" textLength="187.1" lengthAdjust="spacing" >Hyperloop</text>
<text x="4245.9" y="2323.8" font-family='"Liberation Sans", Arial, sans-serif' font-weight="normal" font-size="38.76" fill="#8a8a8a" textLength="79.0" lengthAdjust="spacing" >8hrs</text>
<text x="3069.3" y="2569.6" font-family='"Liberation Sans", Arial, sans-serif' font-weight="normal" font-size="38.07" fill="#8a8a8a" textLength="224.3" lengthAdjust="spacing" >5 hrs 20 min</text>
<text x="2202.3" y="2806.0" font-family='"Liberation Sans", Arial, sans-serif' font-weight="normal" font-size="41.38" fill="#8a8a8a" textLength="220.5" lengthAdjust="spacing" >3 hrs 10 min</text>
<text x="1274.9" y="3064.5" font-family='"Liberation Sans", Arial, sans-serif' font-weight="normal" font-size="39.59" fill="#8a8a8a" textLength="125.4" lengthAdjust="spacing" >50 min</text>
<g transform="translate(600.18,2260.11) scale(0.06518,0.06512)" fill="#fff" color="#fff">
<path d="M735,198 L1480,198 L1690,520 L530,520 Z"/>
<path d="M312,460 L568,460 L495,575 L312,575 A57.5,57.5 0 0 1 312,460 Z"/>
<path d="M1651,460 L1898,460 A57.5,57.5 0 0 1 1898,575 L1726,575 Z"/>
<path d="M415,622 L1800,622 L1905,735 L1615,735 L1405,942 L810,942 L595,732 L305,732 Z"/>
<path d="M305,828 L550,828 L660,942 L305,942 Z"/>
<path d="M1905,828 L1655,828 L1550,942 L1905,942 Z"/>
<path d="M305,1040 L1905,1040 L1905,1130 Q1905,1195 1850,1200 L1850,1300 Q1850,1365 1785,1365 L1593,1365 Q1528,1365 1528,1300 L1528,1210 L685,1210 L685,1300 Q685,1365 620,1365 L425,1365 Q360,1365 360,1300 L360,1200 Q305,1195 305,1130 Z"/></g>
<g transform="translate(609.99,2500.02) scale(0.07083,0.07084)" fill="#fff" color="#fff">
<path d="M325,810 L205,520 Q195,492 225,492 L310,492 Q330,492 345,510 L470,688 L745,688 L585,190 Q575,155 610,155 L720,155 Q750,155 770,180 L1160,688 L1530,688 A122,122 0 0 1 1530,932 L1160,932 L770,1440 Q750,1465 720,1465 L610,1465 Q575,1465 585,1430 L745,932 L470,932 L345,1110 Q330,1128 310,1128 L225,1128 Q195,1128 205,1100 Z"/></g>
<g transform="translate(610.00,2762.00) scale(1.20522,1.22468)" fill="#fff" color="#fff">
<path d="M3.5,0 L30.7,0 L30.7,27.5 L0,27.5 L0,3.5 Q0,0 3.5,0 Z"/>
<rect x="38.3" y="0" width="23.3" height="27.5"/>
<path d="M69,1.5 L105.8,27.5 L69,27.5 Z"/>
<rect x="0" y="34.6" width="115" height="19.7" rx="3.5"/></g>
<path d="M676.10,3050.20 C693.35,3036.25 701.98,3027.70 715.20,3027.70 C727.85,3027.70 733.60,3037.82 733.60,3050.20 C733.60,3062.57 727.85,3072.70 715.20,3072.70 C701.98,3072.70 693.35,3064.15 676.10,3050.20 C658.85,3036.25 650.23,3027.70 637.00,3027.70 C624.35,3027.70 618.60,3037.82 618.60,3050.20 C618.60,3062.57 624.35,3072.70 637.00,3072.70 C650.23,3072.70 658.85,3064.15 676.10,3050.20 Z" fill="none" stroke="#fff" stroke-width="12" stroke-linejoin="round"/>
<g transform="translate(814.58,2354.31) scale(0.07536,0.07624)" fill="#fff" color="#fff">
<circle cx="313" cy="162" r="48"/>
<g fill="none" stroke="currentColor" stroke-linecap="round" stroke-linejoin="round">
<path d="M292,268 L297,400" stroke-width="78"/>
<path d="M255,265 L182,305 L170,405" stroke-width="46"/>
<path d="M345,352 L410,405" stroke-width="46"/>
<path d="M272,435 L153,645" stroke-width="56"/>
<path d="M300,412 L378,495 L440,652" stroke-width="56"/>
</g></g>
<g transform="translate(1238.51,2361.26) scale(0.03329,0.03402)" fill="#fff" color="#fff">
<path d="M735,198 L1480,198 L1690,520 L530,520 Z"/>
<path d="M312,460 L568,460 L495,575 L312,575 A57.5,57.5 0 0 1 312,460 Z"/>
<path d="M1651,460 L1898,460 A57.5,57.5 0 0 1 1898,575 L1726,575 Z"/>
<path d="M415,622 L1800,622 L1905,735 L1615,735 L1405,942 L810,942 L595,732 L305,732 Z"/>
<path d="M305,828 L550,828 L660,942 L305,942 Z"/>
<path d="M1905,828 L1655,828 L1550,942 L1905,942 Z"/>
<path d="M305,1040 L1905,1040 L1905,1130 Q1905,1195 1850,1200 L1850,1300 Q1850,1365 1785,1365 L1593,1365 Q1528,1365 1528,1300 L1528,1210 L685,1210 L685,1300 Q685,1365 620,1365 L425,1365 Q360,1365 360,1300 L360,1200 Q305,1195 305,1130 Z"/></g>
<g transform="translate(1849.42,2350.29) scale(0.04698,0.04585)" fill="#fff" color="#fff">
<path d="M240,215 Q240,190 270,190 Q300,190 300,215 L300,490 L365,490 L365,215 Q365,190 400,190 Q435,190 435,215 L435,490 L500,490 L500,215 Q500,190 530,190 Q560,190 560,215 L560,600 Q560,690 475,700 L475,1380 Q475,1455 400,1455 Q320,1455 320,1380 L320,700 Q240,690 240,600 Z"/>
<path d="M755,300 Q755,190 868,190 Q980,190 980,300 L980,1380 Q980,1455 905,1455 Q825,1455 825,1380 L825,975 L755,960 Z"/></g>
<g transform="translate(2622.99,2361.26) scale(0.03376,0.03402)" fill="#fff" color="#fff">
<path d="M735,198 L1480,198 L1690,520 L530,520 Z"/>
<path d="M312,460 L568,460 L495,575 L312,575 A57.5,57.5 0 0 1 312,460 Z"/>
<path d="M1651,460 L1898,460 A57.5,57.5 0 0 1 1898,575 L1726,575 Z"/>
<path d="M415,622 L1800,622 L1905,735 L1615,735 L1405,942 L810,942 L595,732 L305,732 Z"/>
<path d="M305,828 L550,828 L660,942 L305,942 Z"/>
<path d="M1905,828 L1655,828 L1550,942 L1905,942 Z"/>
<path d="M305,1040 L1905,1040 L1905,1130 Q1905,1195 1850,1200 L1850,1300 Q1850,1365 1785,1365 L1593,1365 Q1528,1365 1528,1300 L1528,1210 L685,1210 L685,1300 Q685,1365 620,1365 L425,1365 Q360,1365 360,1300 L360,1200 Q305,1195 305,1130 Z"/></g>
<g transform="translate(3323.55,2353.71) scale(0.04090,0.04035)" fill="#fff" color="#fff">
<path d="M750,260 L1255,260 Q1315,260 1315,320 L1315,665 L690,665 L690,320 Q690,260 750,260 Z"/>
<path fill-rule="evenodd" d="M690,735 L1315,735 L1315,1320 L1360,1320 Q1395,1320 1395,1355 Q1395,1390 1360,1390 L660,1390 Q625,1390 625,1355 Q625,1320 660,1320 L690,1320 Z M990,820 L990,1125 L1195,1125 L1195,820 Z"/>
<rect x="1045" y="870" width="85" height="200"/>
<path d="M318,830 L318,1230 A112,112 0 0 0 542,1230 L542,950 A105,105 0 0 1 690,855" fill="none" stroke="currentColor" stroke-width="75"/>
<path d="M280,590 L450,418 Q475,395 500,420 Q520,445 500,465 L372,605 L500,735 L500,830 L280,830 Z"/></g>
<g transform="translate(3745.30,2361.26) scale(0.03412,0.03402)" fill="#fff" color="#fff">
<path d="M735,198 L1480,198 L1690,520 L530,520 Z"/>
<path d="M312,460 L568,460 L495,575 L312,575 A57.5,57.5 0 0 1 312,460 Z"/>
<path d="M1651,460 L1898,460 A57.5,57.5 0 0 1 1898,575 L1726,575 Z"/>
<path d="M415,622 L1800,622 L1905,735 L1615,735 L1405,942 L810,942 L595,732 L305,732 Z"/>
<path d="M305,828 L550,828 L660,942 L305,942 Z"/>
<path d="M1905,828 L1655,828 L1550,942 L1905,942 Z"/>
<path d="M305,1040 L1905,1040 L1905,1130 Q1905,1195 1850,1200 L1850,1300 Q1850,1365 1785,1365 L1593,1365 Q1528,1365 1528,1300 L1528,1210 L685,1210 L685,1300 Q685,1365 620,1365 L425,1365 Q360,1365 360,1300 L360,1200 Q305,1195 305,1130 Z"/></g>
<g transform="translate(4150.06,2350.06) scale(0.04622,0.04622)" fill="#fff" color="#fff">
<circle cx="810" cy="810" r="545" fill="#2c2c2c" stroke="currentColor" stroke-width="100"/>
<path fill-rule="evenodd" d="M590,435 L890,435 Q1135,435 1135,677 Q1135,920 890,920 L740,920 L740,1165 L590,1165 Z M740,580 L880,580 Q995,580 995,677 Q995,775 880,775 L740,775 Z"/></g>
<g transform="translate(928.98,2600.00) scale(0.04069,0.04000)" fill="#fff" color="#fff">
<rect x="740" y="250" width="310" height="170"/>
<path d="M445,710 L460,480 Q470,390 560,390 L1240,390 Q1330,390 1340,480 L1355,710 Z"/>
<path fill-rule="evenodd" d="M430,775 L1370,775 L1475,890 L1475,1240 L320,1240 L320,890 Z M520,980 L620,980 Q660,980 660,1025 Q660,1070 620,1070 L520,1070 Q480,1070 480,1025 Q480,980 520,980 Z M830,1010 L960,1010 Q1000,1010 1000,1040 Q1000,1070 960,1070 L830,1070 Q790,1070 790,1040 Q790,1010 830,1010 Z M1170,980 L1275,980 Q1315,980 1315,1025 Q1315,1070 1275,1070 L1170,1070 Q1130,1070 1130,1025 Q1130,980 1170,980 Z"/>
<path d="M395,1300 L595,1300 L595,1370 Q595,1425 540,1425 L450,1425 Q395,1425 395,1370 Z"/>
<path d="M1200,1300 L1400,1300 L1400,1370 Q1400,1425 1345,1425 L1255,1425 Q1200,1425 1200,1370 Z"/></g>
<g transform="translate(1093.27,2599.89) scale(0.08041,0.07720)" fill="#fff" color="#fff">
<path d="M805,105 L1290,105 L1290,330 Q1290,560 1050,662 Q805,560 805,330 Z"/></g>
<g transform="translate(1950.00,2600.05) scale(0.03920,0.03915)" fill="#fff" color="#fff">
<path d="M270,985 Q250,950 290,915 Q330,885 370,900 L640,1005 L910,880 L515,400 Q495,370 530,350 L600,315 Q650,290 700,310 L1390,655 L1840,450 Q1930,420 2000,490 Q2060,560 2040,640 Q2020,710 1950,740 L680,1330 Q630,1350 590,1310 Z"/></g>
<g transform="translate(2324.42,2594.67) scale(0.04102,0.04051)" fill="#fff" color="#fff">
<path fill-rule="evenodd" d="M800,255 L1025,255 Q1125,255 1125,355 L1125,470 L1040,470 L1040,355 L790,355 L790,470 L700,470 L700,355 Q700,255 800,255 Z"/>
<path d="M335,470 L450,470 L450,1320 L335,1320 Q275,1320 275,1260 L275,530 Q275,470 335,470 Z"/>
<rect x="520" y="470" width="780" height="850"/>
<path d="M1370,470 L1490,470 Q1550,470 1550,530 L1550,1260 Q1550,1320 1490,1320 L1370,1320 Z"/>
<path d="M445,1300 L530,1300 L530,1400 Q530,1440 488,1440 Q445,1440 445,1400 Z"/>
<path d="M1290,1300 L1380,1300 L1380,1400 Q1380,1440 1335,1440 Q1290,1440 1290,1400 Z"/></g>
<g transform="translate(2476.10,2605.21) scale(0.03371,0.03428)" fill="#fff" color="#fff">
<path d="M735,198 L1480,198 L1690,520 L530,520 Z"/>
<path d="M312,460 L568,460 L495,575 L312,575 A57.5,57.5 0 0 1 312,460 Z"/>
<path d="M1651,460 L1898,460 A57.5,57.5 0 0 1 1898,575 L1726,575 Z"/>
<path d="M415,622 L1800,622 L1905,735 L1615,735 L1405,942 L810,942 L595,732 L305,732 Z"/>
<path d="M305,828 L550,828 L660,942 L305,942 Z"/>
<path d="M1905,828 L1655,828 L1550,942 L1905,942 Z"/>
<path d="M305,1040 L1905,1040 L1905,1130 Q1905,1195 1850,1200 L1850,1300 Q1850,1365 1785,1365 L1593,1365 Q1528,1365 1528,1300 L1528,1210 L685,1210 L685,1300 Q685,1365 620,1365 L425,1365 Q360,1365 360,1300 L360,1200 Q305,1195 305,1130 Z"/></g>
<g transform="translate(2791.45,2604.63) scale(0.03353,0.03470)" fill="#fff" color="#fff">
<path d="M735,198 L1480,198 L1690,520 L530,520 Z"/>
<path d="M312,460 L568,460 L495,575 L312,575 A57.5,57.5 0 0 1 312,460 Z"/>
<path d="M1651,460 L1898,460 A57.5,57.5 0 0 1 1898,575 L1726,575 Z"/>
<path d="M415,622 L1800,622 L1905,735 L1615,735 L1405,942 L810,942 L595,732 L305,732 Z"/>
<path d="M305,828 L550,828 L660,942 L305,942 Z"/>
<path d="M1905,828 L1655,828 L1550,942 L1905,942 Z"/>
<path d="M305,1040 L1905,1040 L1905,1130 Q1905,1195 1850,1200 L1850,1300 Q1850,1365 1785,1365 L1593,1365 Q1528,1365 1528,1300 L1528,1210 L685,1210 L685,1300 Q685,1365 620,1365 L425,1365 Q360,1365 360,1300 L360,1200 Q305,1195 305,1130 Z"/></g>
<g transform="translate(830.58,2850.21) scale(0.07536,0.07713)" fill="#fff" color="#fff">
<circle cx="313" cy="162" r="48"/>
<g fill="none" stroke="currentColor" stroke-linecap="round" stroke-linejoin="round">
<path d="M292,268 L297,400" stroke-width="78"/>
<path d="M255,265 L182,305 L170,405" stroke-width="46"/>
<path d="M345,352 L410,405" stroke-width="46"/>
<path d="M272,435 L153,645" stroke-width="56"/>
<path d="M300,412 L378,495 L440,652" stroke-width="56"/>
</g></g>
<g transform="translate(829.93,2849.71) scale(0.07835,0.07899)" fill="#fff" color="#fff">
<path d="M805,105 L1290,105 L1290,330 Q1290,560 1050,662 Q805,560 805,330 Z"/></g>
<g transform="translate(829.83,2850.00) scale(0.07840,0.07840)" fill="#fff" color="#fff">
<circle cx="1892.5" cy="372.5" r="285" fill="none" stroke="currentColor" stroke-width="55"/>
<path d="M1890,180 L1890,400 L2040,305" fill="none" stroke="currentColor" stroke-width="45" stroke-linecap="round" stroke-linejoin="round"/></g>
<g transform="translate(1533.00,2857.00) scale(0.77391,0.77348)" fill="#fff" color="#fff">
<path d="M3.5,0 L30.7,0 L30.7,27.5 L0,27.5 L0,3.5 Q0,0 3.5,0 Z"/>
<rect x="38.3" y="0" width="23.3" height="27.5"/>
<path d="M69,1.5 L105.8,27.5 L69,27.5 Z"/>
<rect x="0" y="34.6" width="115" height="19.7" rx="3.5"/></g>
<g transform="translate(2117.22,2850.11) scale(0.07826,0.07801)" fill="#fff" color="#fff">
<circle cx="313" cy="162" r="48"/>
<g fill="none" stroke="currentColor" stroke-linecap="round" stroke-linejoin="round">
<path d="M292,268 L297,400" stroke-width="78"/>
<path d="M255,265 L182,305 L170,405" stroke-width="46"/>
<path d="M345,352 L410,405" stroke-width="46"/>
<path d="M272,435 L153,645" stroke-width="56"/>
<path d="M300,412 L378,495 L440,652" stroke-width="56"/>
</g></g>
<g transform="translate(810.22,3090.83) scale(0.07826,0.07695)" fill="#fff" color="#fff">
<circle cx="313" cy="162" r="48"/>
<g fill="none" stroke="currentColor" stroke-linecap="round" stroke-linejoin="round">
<path d="M292,268 L297,400" stroke-width="78"/>
<path d="M255,265 L182,305 L170,405" stroke-width="46"/>
<path d="M345,352 L410,405" stroke-width="46"/>
<path d="M272,435 L153,645" stroke-width="56"/>
<path d="M300,412 L378,495 L440,652" stroke-width="56"/>
</g></g>
<g transform="translate(802.36,3090.71) scale(0.07856,0.07899)" fill="#fff" color="#fff">
<path d="M805,105 L1290,105 L1290,330 Q1290,560 1050,662 Q805,560 805,330 Z"/></g>
<circle cx="943" cy="3119.4" r="24.6" fill="#fff"/>
<path d="M1054.80,3119.90 C1066.59,3110.38 1072.48,3104.55 1081.52,3104.55 C1090.17,3104.55 1094.10,3111.46 1094.10,3119.90 C1094.10,3128.34 1090.17,3135.25 1081.52,3135.25 C1072.48,3135.25 1066.59,3129.42 1054.80,3119.90 C1043.01,3110.38 1037.12,3104.55 1028.08,3104.55 C1019.43,3104.55 1015.50,3111.46 1015.50,3119.90 C1015.50,3128.34 1019.43,3135.25 1028.08,3135.25 C1037.12,3135.25 1043.01,3129.42 1054.80,3119.90 Z" fill="none" stroke="#fff" stroke-width="5" stroke-linejoin="round"/>
<g transform="translate(1181.04,3090.11) scale(0.07971,0.07801)" fill="#fff" color="#fff">
<circle cx="313" cy="162" r="48"/>
<g fill="none" stroke="currentColor" stroke-linecap="round" stroke-linejoin="round">
<path d="M292,268 L297,400" stroke-width="78"/>
<path d="M255,265 L182,305 L170,405" stroke-width="46"/>
<path d="M345,352 L410,405" stroke-width="46"/>
<path d="M272,435 L153,645" stroke-width="56"/>
<path d="M300,412 L378,495 L440,652" stroke-width="56"/>
</g></g>
<rect x="4392.9" y="3133" width="1.5" height="50" fill="#e4e4e4"/>
<rect x="4403.4" y="3133" width="1.5" height="50" fill="#e4e4e4"/>
<rect x="4414.0" y="3133" width="1.5" height="50" fill="#e4e4e4"/>
<rect x="4424.6" y="3133" width="1.5" height="50" fill="#e4e4e4"/>
<rect x="4435.2" y="3133" width="1.5" height="50" fill="#e4e4e4"/>
<rect x="4445.8" y="3133" width="1.5" height="50" fill="#e4e4e4"/>
<rect x="4456.4" y="3133" width="1.5" height="50" fill="#e4e4e4"/>
<rect x="4467.0" y="3133" width="1.5" height="50" fill="#e4e4e4"/>
<rect x="4477.6" y="3133" width="1.5" height="50" fill="#e4e4e4"/>
<rect x="4488.1" y="3133" width="1.5" height="50" fill="#e4e4e4"/>
<rect x="4498.7" y="3133" width="1.5" height="50" fill="#e4e4e4"/>
<rect x="4509.3" y="3133" width="1.5" height="50" fill="#e4e4e4"/>
<rect x="4519.9" y="3133" width="1.5" height="50" fill="#e4e4e4"/>
<rect x="4530.5" y="3133" width="1.5" height="50" fill="#e4e4e4"/>
<rect x="4541.1" y="3133" width="1.5" height="50" fill="#e4e4e4"/>
<rect x="4551.7" y="3133" width="1.5" height="50" fill="#e4e4e4"/>
<rect x="4562.2" y="3133" width="1.5" height="50" fill="#e4e4e4"/>
<rect x="4390" y="3203" width="177.0" height="50.5" fill="#949494"/>
<rect x="4390" y="3273.6" width="177.0" height="48.0" fill="#b6007b"/>
<text x="4588.3" y="3167.4" font-family='"Liberation Sans", Arial, sans-serif' font-weight="normal" font-size="36.83" fill="#8a8a8a" textLength="251.7" lengthAdjust="spacing" >Trip to Transport</text>
<text x="4588.8" y="3246.0" font-family='"Liberation Sans", Arial, sans-serif' font-weight="normal" font-size="35.86" fill="#8a8a8a" textLength="332.9" lengthAdjust="spacing" >Waiting For Transport</text>
<text x="4589.0" y="3317.5" font-family='"Liberation Sans", Arial, sans-serif' font-weight="normal" font-size="37.93" fill="#8a8a8a" textLength="250.8" lengthAdjust="spacing" >Actual Transport</text>
<text y="3412" font-family="'DejaVu Sans', sans-serif" font-weight="200" font-size="84" fill="#fff" stroke="#fff" stroke-width="1.6"><tspan x="84">h</tspan><tspan x="141">y</tspan><tspan x="196">p</tspan><tspan x="262">e</tspan><tspan x="321">r</tspan><tspan x="360">l</tspan><tspan x="514">p</tspan></text>
<text y="3412" font-family="Liberation Sans, sans-serif" font-weight="bold" font-size="84" fill="#fff"><tspan x="639">o</tspan><tspan x="702">n</tspan><tspan x="760">e</tspan></text>
<path d="M602,3318 L608,3313 L608,3460 L602,3465 Z" fill="#fff"/>
<path d="M448.50,3391.80 C464.10,3378.59 471.90,3370.50 483.86,3370.50 C495.30,3370.50 500.50,3380.09 500.50,3391.80 C500.50,3403.52 495.30,3413.10 483.86,3413.10 C471.90,3413.10 464.10,3405.01 448.50,3391.80 C432.90,3378.59 425.10,3370.50 413.14,3370.50 C401.70,3370.50 396.50,3380.09 396.50,3391.80 C396.50,3403.52 401.70,3413.10 413.14,3413.10 C425.10,3413.10 432.90,3405.01 448.50,3391.80 Z" fill="none" stroke="#fff" stroke-width="9" stroke-linejoin="round"/>
</svg></body></html>
